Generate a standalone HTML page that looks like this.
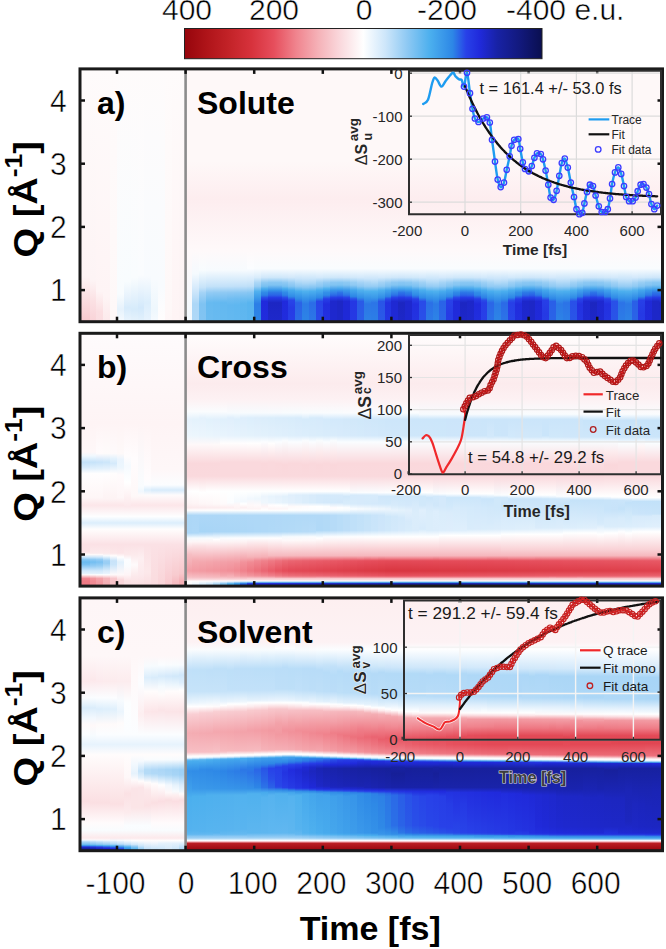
<!DOCTYPE html><html><head><meta charset="utf-8"><style>html,body{margin:0;padding:0;background:#fff;overflow:hidden}svg{display:block}</style></head><body><svg width="666" height="949" viewBox="0 0 666 949"><defs><linearGradient id="g0_0" x1="0" y1="0" x2="0" y2="1"><stop offset="0.000" stop-color="#fefbfb"/><stop offset="0.820" stop-color="#fef4f5"/><stop offset="1.000" stop-color="#f8c8cd"/></linearGradient><linearGradient id="g0_1" x1="0" y1="0" x2="0" y2="1"><stop offset="0.000" stop-color="#fefbfb"/><stop offset="0.835" stop-color="#fdf4f5"/><stop offset="0.920" stop-color="#fbe0e3"/><stop offset="1.000" stop-color="#f9d3d8"/></linearGradient><linearGradient id="g0_2" x1="0" y1="0" x2="0" y2="1"><stop offset="0.000" stop-color="#fefbfb"/><stop offset="0.880" stop-color="#fef4f5"/><stop offset="0.960" stop-color="#fbdfe2"/><stop offset="1.000" stop-color="#fadde1"/></linearGradient><linearGradient id="g0_3" x1="0" y1="0" x2="0" y2="1"><stop offset="0.000" stop-color="#fefbfb"/><stop offset="0.900" stop-color="#fef4f5"/><stop offset="1.000" stop-color="#fce9eb"/></linearGradient><linearGradient id="g0_4" x1="0" y1="0" x2="0" y2="1"><stop offset="0.000" stop-color="#fefbfb"/><stop offset="1.000" stop-color="#fef8f8"/></linearGradient><linearGradient id="g0_5" x1="0" y1="0" x2="0" y2="1"><stop offset="0.000" stop-color="#fefbfb"/><stop offset="0.890" stop-color="#f8fcfe"/><stop offset="0.950" stop-color="#e6f2fc"/><stop offset="1.000" stop-color="#f5fafe"/></linearGradient><linearGradient id="g0_6" x1="0" y1="0" x2="0" y2="1"><stop offset="0.000" stop-color="#fefbfb"/><stop offset="0.840" stop-color="#f8fcfe"/><stop offset="0.905" stop-color="#e6f2fc"/><stop offset="0.945" stop-color="#d7ebfb"/><stop offset="1.000" stop-color="#e9f4fd"/></linearGradient><linearGradient id="g0_7" x1="0" y1="0" x2="0" y2="1"><stop offset="0.000" stop-color="#fefbfb"/><stop offset="0.825" stop-color="#f9fcfe"/><stop offset="0.950" stop-color="#d6ebfb"/><stop offset="1.000" stop-color="#e6f2fc"/></linearGradient><linearGradient id="g0_8" x1="0" y1="0" x2="0" y2="1"><stop offset="0.000" stop-color="#fefbfb"/><stop offset="0.815" stop-color="#fafcfe"/><stop offset="0.945" stop-color="#d3e9fb"/><stop offset="1.000" stop-color="#e3f1fc"/></linearGradient><linearGradient id="g0_9" x1="0" y1="0" x2="0" y2="1"><stop offset="0.000" stop-color="#fefbfb"/><stop offset="0.820" stop-color="#f8fbfe"/><stop offset="0.925" stop-color="#dceefc"/><stop offset="1.000" stop-color="#e8f3fd"/></linearGradient><linearGradient id="g0_10" x1="0" y1="0" x2="0" y2="1"><stop offset="0.000" stop-color="#fefbfb"/><stop offset="0.830" stop-color="#f8fbfe"/><stop offset="0.950" stop-color="#eef7fd"/><stop offset="1.000" stop-color="#f5fafe"/></linearGradient><linearGradient id="g0_11" x1="0" y1="0" x2="0" y2="1"><stop offset="0.000" stop-color="#fefbfb"/><stop offset="0.860" stop-color="#f8fbfe"/><stop offset="1.000" stop-color="#fffdfd"/></linearGradient><linearGradient id="g0_12" x1="0" y1="0" x2="0" y2="1"><stop offset="0.000" stop-color="#fefbfb"/><stop offset="0.945" stop-color="#fef8f8"/><stop offset="1.000" stop-color="#fef6f7"/></linearGradient><linearGradient id="g0_13" x1="0" y1="0" x2="0" y2="1"><stop offset="0.000" stop-color="#fefbfb"/><stop offset="1.000" stop-color="#fef4f5"/></linearGradient><linearGradient id="g0_14" x1="0" y1="0" x2="0" y2="1"><stop offset="0.000" stop-color="#fefbfb"/><stop offset="0.980" stop-color="#fdf3f4"/><stop offset="1.000" stop-color="#fdf1f3"/></linearGradient><linearGradient id="g0_15" x1="0" y1="0" x2="0" y2="1"><stop offset="0.000" stop-color="#fef8f8"/><stop offset="0.365" stop-color="#fef8f8"/><stop offset="0.515" stop-color="#fdedef"/><stop offset="0.720" stop-color="#fef9fa"/><stop offset="1.000" stop-color="#f3f9fe"/></linearGradient><linearGradient id="g0_16" x1="0" y1="0" x2="0" y2="1"><stop offset="0.000" stop-color="#fef8f8"/><stop offset="0.365" stop-color="#fef8f8"/><stop offset="0.515" stop-color="#fdedef"/><stop offset="0.720" stop-color="#fef9fa"/><stop offset="0.810" stop-color="#f5fafe"/><stop offset="0.870" stop-color="#d4e9fb"/><stop offset="0.930" stop-color="#add7f7"/><stop offset="1.000" stop-color="#afd8f7"/></linearGradient><linearGradient id="g0_17" x1="0" y1="0" x2="0" y2="1"><stop offset="0.000" stop-color="#fef8f8"/><stop offset="0.365" stop-color="#fef8f8"/><stop offset="0.515" stop-color="#fdedef"/><stop offset="0.720" stop-color="#fef9fa"/><stop offset="0.795" stop-color="#f8fcfe"/><stop offset="0.865" stop-color="#c6e3f9"/><stop offset="0.885" stop-color="#a4d3f6"/><stop offset="0.930" stop-color="#7fc3f2"/><stop offset="1.000" stop-color="#82c4f2"/></linearGradient><linearGradient id="g0_18" x1="0" y1="0" x2="0" y2="1"><stop offset="0.000" stop-color="#fef8f8"/><stop offset="0.365" stop-color="#fef8f8"/><stop offset="0.515" stop-color="#fdedef"/><stop offset="0.720" stop-color="#fef9fa"/><stop offset="0.795" stop-color="#f7fbfe"/><stop offset="0.860" stop-color="#c4e2f9"/><stop offset="0.885" stop-color="#92cbf4"/><stop offset="0.925" stop-color="#67baf0"/><stop offset="1.000" stop-color="#6bbbf0"/></linearGradient><linearGradient id="g0_19" x1="0" y1="0" x2="0" y2="1"><stop offset="0.000" stop-color="#fef8f8"/><stop offset="0.365" stop-color="#fef8f8"/><stop offset="0.515" stop-color="#fdedef"/><stop offset="0.720" stop-color="#fef9fa"/><stop offset="0.795" stop-color="#f7fbfe"/><stop offset="0.860" stop-color="#c3e2f9"/><stop offset="0.885" stop-color="#90caf3"/><stop offset="0.925" stop-color="#65b9f0"/><stop offset="1.000" stop-color="#68baf0"/></linearGradient><linearGradient id="g0_20" x1="0" y1="0" x2="0" y2="1"><stop offset="0.000" stop-color="#fef8f8"/><stop offset="0.365" stop-color="#fef8f8"/><stop offset="0.515" stop-color="#fdedef"/><stop offset="0.720" stop-color="#fef9fa"/><stop offset="0.795" stop-color="#f7fbfe"/><stop offset="0.860" stop-color="#c3e1f9"/><stop offset="0.885" stop-color="#8ec9f3"/><stop offset="0.905" stop-color="#7bc1f2"/><stop offset="0.925" stop-color="#63b8f0"/><stop offset="1.000" stop-color="#66baf0"/></linearGradient><linearGradient id="g0_21" x1="0" y1="0" x2="0" y2="1"><stop offset="0.000" stop-color="#fef8f8"/><stop offset="0.365" stop-color="#fef8f8"/><stop offset="0.515" stop-color="#fdedef"/><stop offset="0.720" stop-color="#fef9fa"/><stop offset="0.795" stop-color="#f7fbfe"/><stop offset="0.860" stop-color="#c2e1f9"/><stop offset="0.885" stop-color="#8dc8f3"/><stop offset="0.910" stop-color="#70bdf1"/><stop offset="0.935" stop-color="#61b7f0"/><stop offset="1.000" stop-color="#64b9f0"/></linearGradient><linearGradient id="g0_22" x1="0" y1="0" x2="0" y2="1"><stop offset="0.000" stop-color="#fef8f8"/><stop offset="0.365" stop-color="#fef8f8"/><stop offset="0.515" stop-color="#fdedef"/><stop offset="0.720" stop-color="#fef9fa"/><stop offset="0.795" stop-color="#f7fbfe"/><stop offset="0.835" stop-color="#d7ebfb"/><stop offset="0.860" stop-color="#c1e0f9"/><stop offset="0.885" stop-color="#8bc8f3"/><stop offset="0.910" stop-color="#6ebcf1"/><stop offset="0.935" stop-color="#5fb7f0"/><stop offset="1.000" stop-color="#62b8f0"/></linearGradient><linearGradient id="g0_23" x1="0" y1="0" x2="0" y2="1"><stop offset="0.000" stop-color="#fef8f8"/><stop offset="0.365" stop-color="#fef8f8"/><stop offset="0.515" stop-color="#fdedef"/><stop offset="0.720" stop-color="#fef9fa"/><stop offset="0.795" stop-color="#f7fbfe"/><stop offset="0.835" stop-color="#d6ebfb"/><stop offset="0.860" stop-color="#c0e0f9"/><stop offset="0.885" stop-color="#8ac7f3"/><stop offset="0.910" stop-color="#6cbcf1"/><stop offset="0.930" stop-color="#5db6ef"/><stop offset="1.000" stop-color="#60b7f0"/></linearGradient><linearGradient id="g0_24" x1="0" y1="0" x2="0" y2="1"><stop offset="0.000" stop-color="#fef8f8"/><stop offset="0.365" stop-color="#fef8f8"/><stop offset="0.515" stop-color="#fdedef"/><stop offset="0.720" stop-color="#fef9fa"/><stop offset="0.790" stop-color="#fbfdff"/><stop offset="0.835" stop-color="#d5eafb"/><stop offset="0.860" stop-color="#bedff8"/><stop offset="0.885" stop-color="#86c6f3"/><stop offset="0.905" stop-color="#71bef1"/><stop offset="0.925" stop-color="#58b4ef"/><stop offset="1.000" stop-color="#5bb5ef"/></linearGradient><linearGradient id="g0_25" x1="0" y1="0" x2="0" y2="1"><stop offset="0.000" stop-color="#fef8f8"/><stop offset="0.365" stop-color="#fef8f8"/><stop offset="0.515" stop-color="#fdedef"/><stop offset="0.720" stop-color="#fef9fa"/><stop offset="0.790" stop-color="#f9fcfe"/><stop offset="0.825" stop-color="#d8ecfb"/><stop offset="0.845" stop-color="#acd7f6"/><stop offset="0.860" stop-color="#99cef4"/><stop offset="0.880" stop-color="#51b1ee"/><stop offset="0.905" stop-color="#3c9aea"/><stop offset="0.930" stop-color="#2c7ee6"/><stop offset="1.000" stop-color="#2d87e6"/></linearGradient><linearGradient id="g0_26" x1="0" y1="0" x2="0" y2="1"><stop offset="0.000" stop-color="#fef8f8"/><stop offset="0.365" stop-color="#fef8f8"/><stop offset="0.515" stop-color="#fdedef"/><stop offset="0.720" stop-color="#fef9fa"/><stop offset="0.790" stop-color="#f9fcfe"/><stop offset="0.825" stop-color="#d0e7fa"/><stop offset="0.845" stop-color="#90caf3"/><stop offset="0.860" stop-color="#78c0f1"/><stop offset="0.870" stop-color="#49aced"/><stop offset="0.885" stop-color="#308ae7"/><stop offset="0.895" stop-color="#2c80e6"/><stop offset="0.905" stop-color="#294ae8"/><stop offset="0.920" stop-color="#202adc"/><stop offset="1.000" stop-color="#212cdd"/></linearGradient><linearGradient id="g0_27" x1="0" y1="0" x2="0" y2="1"><stop offset="0.000" stop-color="#fef8f8"/><stop offset="0.365" stop-color="#fef8f8"/><stop offset="0.515" stop-color="#fdedef"/><stop offset="0.720" stop-color="#fef9fa"/><stop offset="0.790" stop-color="#f9fcfe"/><stop offset="0.825" stop-color="#cee7fa"/><stop offset="0.845" stop-color="#89c7f3"/><stop offset="0.855" stop-color="#7fc3f2"/><stop offset="0.875" stop-color="#3795e9"/><stop offset="0.885" stop-color="#2c76e6"/><stop offset="0.895" stop-color="#2a64e7"/><stop offset="0.905" stop-color="#253ae4"/><stop offset="0.925" stop-color="#1c26c3"/><stop offset="1.000" stop-color="#1e28cb"/></linearGradient><linearGradient id="g0_28" x1="0" y1="0" x2="0" y2="1"><stop offset="0.000" stop-color="#fef8f8"/><stop offset="0.365" stop-color="#fef8f8"/><stop offset="0.515" stop-color="#fdedef"/><stop offset="0.720" stop-color="#fef9fa"/><stop offset="0.790" stop-color="#f9fcfe"/><stop offset="0.825" stop-color="#cee7fa"/><stop offset="0.845" stop-color="#89c7f3"/><stop offset="0.855" stop-color="#7fc3f2"/><stop offset="0.875" stop-color="#3795e9"/><stop offset="0.885" stop-color="#2c76e6"/><stop offset="0.895" stop-color="#2a64e7"/><stop offset="0.905" stop-color="#253ae4"/><stop offset="0.925" stop-color="#1c26c3"/><stop offset="1.000" stop-color="#1e28cb"/></linearGradient><linearGradient id="g0_29" x1="0" y1="0" x2="0" y2="1"><stop offset="0.000" stop-color="#fef8f8"/><stop offset="0.365" stop-color="#fef8f8"/><stop offset="0.515" stop-color="#fdedef"/><stop offset="0.720" stop-color="#fef9fa"/><stop offset="0.790" stop-color="#f9fcfe"/><stop offset="0.825" stop-color="#d0e7fa"/><stop offset="0.845" stop-color="#90caf3"/><stop offset="0.860" stop-color="#78c0f1"/><stop offset="0.870" stop-color="#49aced"/><stop offset="0.885" stop-color="#308ae7"/><stop offset="0.895" stop-color="#2c80e6"/><stop offset="0.905" stop-color="#294ae8"/><stop offset="0.920" stop-color="#202adc"/><stop offset="1.000" stop-color="#212cdd"/></linearGradient><linearGradient id="g0_30" x1="0" y1="0" x2="0" y2="1"><stop offset="0.000" stop-color="#fef8f8"/><stop offset="0.365" stop-color="#fef8f8"/><stop offset="0.515" stop-color="#fdedef"/><stop offset="0.720" stop-color="#fef9fa"/><stop offset="0.790" stop-color="#f9fcfe"/><stop offset="0.825" stop-color="#d2e8fa"/><stop offset="0.845" stop-color="#9ccff5"/><stop offset="0.860" stop-color="#85c5f2"/><stop offset="0.875" stop-color="#47aaed"/><stop offset="0.900" stop-color="#318ce7"/><stop offset="0.915" stop-color="#2845e8"/><stop offset="0.945" stop-color="#263be5"/><stop offset="1.000" stop-color="#273ee7"/></linearGradient><linearGradient id="g0_31" x1="0" y1="0" x2="0" y2="1"><stop offset="0.000" stop-color="#fef8f8"/><stop offset="0.365" stop-color="#fef8f8"/><stop offset="0.515" stop-color="#fdedef"/><stop offset="0.720" stop-color="#fef9fa"/><stop offset="0.790" stop-color="#f9fcfe"/><stop offset="0.830" stop-color="#c9e4fa"/><stop offset="0.850" stop-color="#a3d3f6"/><stop offset="0.860" stop-color="#92cbf4"/><stop offset="0.880" stop-color="#48aced"/><stop offset="0.910" stop-color="#2f89e6"/><stop offset="0.925" stop-color="#2a62e7"/><stop offset="1.000" stop-color="#2b6ce7"/></linearGradient><linearGradient id="g0_32" x1="0" y1="0" x2="0" y2="1"><stop offset="0.000" stop-color="#fef8f8"/><stop offset="0.365" stop-color="#fef8f8"/><stop offset="0.515" stop-color="#fdedef"/><stop offset="0.720" stop-color="#fef9fa"/><stop offset="0.790" stop-color="#f9fcfe"/><stop offset="0.830" stop-color="#cbe5fa"/><stop offset="0.850" stop-color="#a9d5f6"/><stop offset="0.865" stop-color="#87c6f3"/><stop offset="0.880" stop-color="#4fb1ee"/><stop offset="0.910" stop-color="#3591e8"/><stop offset="0.930" stop-color="#2c7be6"/><stop offset="1.000" stop-color="#2d84e6"/></linearGradient><linearGradient id="g0_33" x1="0" y1="0" x2="0" y2="1"><stop offset="0.000" stop-color="#fef8f8"/><stop offset="0.365" stop-color="#fef8f8"/><stop offset="0.515" stop-color="#fdedef"/><stop offset="0.720" stop-color="#fef9fa"/><stop offset="0.790" stop-color="#f9fcfe"/><stop offset="0.830" stop-color="#cae5fa"/><stop offset="0.850" stop-color="#a6d4f6"/><stop offset="0.865" stop-color="#83c4f2"/><stop offset="0.880" stop-color="#4baeee"/><stop offset="0.910" stop-color="#318de7"/><stop offset="0.925" stop-color="#2b6de7"/><stop offset="1.000" stop-color="#2c77e6"/></linearGradient><linearGradient id="g0_34" x1="0" y1="0" x2="0" y2="1"><stop offset="0.000" stop-color="#fef8f8"/><stop offset="0.365" stop-color="#fef8f8"/><stop offset="0.515" stop-color="#fdedef"/><stop offset="0.720" stop-color="#fef9fa"/><stop offset="0.790" stop-color="#f9fcfe"/><stop offset="0.825" stop-color="#d3e9fb"/><stop offset="0.845" stop-color="#9fd1f5"/><stop offset="0.860" stop-color="#8ac7f3"/><stop offset="0.875" stop-color="#4aaeee"/><stop offset="0.905" stop-color="#2e88e6"/><stop offset="0.920" stop-color="#2845e8"/><stop offset="1.000" stop-color="#294ae8"/></linearGradient><linearGradient id="g0_35" x1="0" y1="0" x2="0" y2="1"><stop offset="0.000" stop-color="#fef8f8"/><stop offset="0.365" stop-color="#fef8f8"/><stop offset="0.515" stop-color="#fdedef"/><stop offset="0.720" stop-color="#fef9fa"/><stop offset="0.790" stop-color="#f9fcfe"/><stop offset="0.825" stop-color="#d0e8fa"/><stop offset="0.845" stop-color="#94cbf4"/><stop offset="0.860" stop-color="#7bc2f2"/><stop offset="0.870" stop-color="#4cafee"/><stop offset="0.885" stop-color="#338fe8"/><stop offset="0.895" stop-color="#2e89e6"/><stop offset="0.910" stop-color="#273ee7"/><stop offset="0.930" stop-color="#212dde"/><stop offset="1.000" stop-color="#2331e0"/></linearGradient><linearGradient id="g0_36" x1="0" y1="0" x2="0" y2="1"><stop offset="0.000" stop-color="#fef8f8"/><stop offset="0.365" stop-color="#fef8f8"/><stop offset="0.515" stop-color="#fdedef"/><stop offset="0.720" stop-color="#fef9fa"/><stop offset="0.790" stop-color="#f9fcfe"/><stop offset="0.825" stop-color="#cee7fa"/><stop offset="0.845" stop-color="#8ac7f3"/><stop offset="0.855" stop-color="#81c4f2"/><stop offset="0.875" stop-color="#3997e9"/><stop offset="0.895" stop-color="#2b6ae7"/><stop offset="0.905" stop-color="#263ce5"/><stop offset="0.920" stop-color="#1e28cc"/><stop offset="1.000" stop-color="#1e28cf"/></linearGradient><linearGradient id="g0_37" x1="0" y1="0" x2="0" y2="1"><stop offset="0.000" stop-color="#fef8f8"/><stop offset="0.365" stop-color="#fef8f8"/><stop offset="0.515" stop-color="#fdedef"/><stop offset="0.720" stop-color="#fef9fa"/><stop offset="0.790" stop-color="#f9fcfe"/><stop offset="0.825" stop-color="#cee6fa"/><stop offset="0.845" stop-color="#88c7f3"/><stop offset="0.855" stop-color="#7ec3f2"/><stop offset="0.870" stop-color="#43a4ec"/><stop offset="0.885" stop-color="#2c73e7"/><stop offset="0.895" stop-color="#2a61e7"/><stop offset="0.905" stop-color="#2539e4"/><stop offset="0.920" stop-color="#1d27c5"/><stop offset="1.000" stop-color="#1d27c9"/></linearGradient><linearGradient id="g0_38" x1="0" y1="0" x2="0" y2="1"><stop offset="0.000" stop-color="#fef8f8"/><stop offset="0.365" stop-color="#fef8f8"/><stop offset="0.515" stop-color="#fdedef"/><stop offset="0.720" stop-color="#fef9fa"/><stop offset="0.790" stop-color="#f9fcfe"/><stop offset="0.825" stop-color="#cfe7fa"/><stop offset="0.845" stop-color="#8dc9f3"/><stop offset="0.855" stop-color="#84c5f2"/><stop offset="0.875" stop-color="#3b9aea"/><stop offset="0.895" stop-color="#2c75e7"/><stop offset="0.905" stop-color="#2840e7"/><stop offset="0.920" stop-color="#1f29d5"/><stop offset="1.000" stop-color="#1f29d8"/></linearGradient><linearGradient id="g0_39" x1="0" y1="0" x2="0" y2="1"><stop offset="0.000" stop-color="#fef8f8"/><stop offset="0.365" stop-color="#fef8f8"/><stop offset="0.515" stop-color="#fdedef"/><stop offset="0.720" stop-color="#fef9fa"/><stop offset="0.790" stop-color="#f9fcfe"/><stop offset="0.825" stop-color="#d1e8fa"/><stop offset="0.845" stop-color="#98cef4"/><stop offset="0.855" stop-color="#90caf3"/><stop offset="0.875" stop-color="#44a6ec"/><stop offset="0.900" stop-color="#2d87e6"/><stop offset="0.910" stop-color="#294ee8"/><stop offset="0.920" stop-color="#2537e3"/><stop offset="1.000" stop-color="#2539e4"/></linearGradient><linearGradient id="g0_40" x1="0" y1="0" x2="0" y2="1"><stop offset="0.000" stop-color="#fef8f8"/><stop offset="0.365" stop-color="#fef8f8"/><stop offset="0.515" stop-color="#fdedef"/><stop offset="0.720" stop-color="#fef9fa"/><stop offset="0.790" stop-color="#f9fcfe"/><stop offset="0.825" stop-color="#d3e9fb"/><stop offset="0.845" stop-color="#a4d3f6"/><stop offset="0.860" stop-color="#8fc9f3"/><stop offset="0.875" stop-color="#51b1ee"/><stop offset="0.905" stop-color="#328ee7"/><stop offset="0.920" stop-color="#2a5ae7"/><stop offset="1.000" stop-color="#2a5fe7"/></linearGradient><linearGradient id="g0_41" x1="0" y1="0" x2="0" y2="1"><stop offset="0.000" stop-color="#fef8f8"/><stop offset="0.365" stop-color="#fef8f8"/><stop offset="0.515" stop-color="#fdedef"/><stop offset="0.720" stop-color="#fef9fa"/><stop offset="0.790" stop-color="#f9fcfe"/><stop offset="0.830" stop-color="#cbe5fa"/><stop offset="0.845" stop-color="#abd6f6"/><stop offset="0.860" stop-color="#97cdf4"/><stop offset="0.880" stop-color="#4eb0ee"/><stop offset="0.910" stop-color="#3490e8"/><stop offset="0.930" stop-color="#2c77e6"/><stop offset="1.000" stop-color="#2d81e6"/></linearGradient><linearGradient id="g0_42" x1="0" y1="0" x2="0" y2="1"><stop offset="0.000" stop-color="#fef8f8"/><stop offset="0.365" stop-color="#fef8f8"/><stop offset="0.515" stop-color="#fdedef"/><stop offset="0.720" stop-color="#fef9fa"/><stop offset="0.790" stop-color="#f9fcfe"/><stop offset="0.830" stop-color="#cbe5fa"/><stop offset="0.850" stop-color="#a7d5f6"/><stop offset="0.860" stop-color="#97cdf4"/><stop offset="0.880" stop-color="#4db0ee"/><stop offset="0.905" stop-color="#3a98e9"/><stop offset="0.925" stop-color="#2c75e7"/><stop offset="1.000" stop-color="#2c7fe6"/></linearGradient><linearGradient id="g0_43" x1="0" y1="0" x2="0" y2="1"><stop offset="0.000" stop-color="#fef8f8"/><stop offset="0.365" stop-color="#fef8f8"/><stop offset="0.515" stop-color="#fdedef"/><stop offset="0.720" stop-color="#fef9fa"/><stop offset="0.790" stop-color="#f9fcfe"/><stop offset="0.825" stop-color="#d3e9fb"/><stop offset="0.845" stop-color="#a3d2f5"/><stop offset="0.860" stop-color="#8ec9f3"/><stop offset="0.875" stop-color="#4fb0ee"/><stop offset="0.905" stop-color="#318de7"/><stop offset="0.920" stop-color="#2955e7"/><stop offset="1.000" stop-color="#2a5ae7"/></linearGradient><linearGradient id="g0_44" x1="0" y1="0" x2="0" y2="1"><stop offset="0.000" stop-color="#fef8f8"/><stop offset="0.365" stop-color="#fef8f8"/><stop offset="0.515" stop-color="#fdedef"/><stop offset="0.720" stop-color="#fef9fa"/><stop offset="0.790" stop-color="#f9fcfe"/><stop offset="0.825" stop-color="#d1e8fa"/><stop offset="0.845" stop-color="#97cdf4"/><stop offset="0.860" stop-color="#80c3f2"/><stop offset="0.875" stop-color="#43a4ec"/><stop offset="0.900" stop-color="#2d83e6"/><stop offset="0.910" stop-color="#2949e8"/><stop offset="0.925" stop-color="#2333e1"/><stop offset="1.000" stop-color="#2437e3"/></linearGradient><linearGradient id="g0_45" x1="0" y1="0" x2="0" y2="1"><stop offset="0.000" stop-color="#fef8f8"/><stop offset="0.365" stop-color="#fef8f8"/><stop offset="0.515" stop-color="#fdedef"/><stop offset="0.720" stop-color="#fef9fa"/><stop offset="0.790" stop-color="#f9fcfe"/><stop offset="0.825" stop-color="#cfe7fa"/><stop offset="0.845" stop-color="#8dc8f3"/><stop offset="0.855" stop-color="#83c5f2"/><stop offset="0.875" stop-color="#3a99ea"/><stop offset="0.895" stop-color="#2b72e7"/><stop offset="0.905" stop-color="#273fe7"/><stop offset="0.920" stop-color="#1f29d2"/><stop offset="1.000" stop-color="#1f29d6"/></linearGradient><linearGradient id="g0_46" x1="0" y1="0" x2="0" y2="1"><stop offset="0.000" stop-color="#fef8f8"/><stop offset="0.365" stop-color="#fef8f8"/><stop offset="0.515" stop-color="#fdedef"/><stop offset="0.720" stop-color="#fef9fa"/><stop offset="0.790" stop-color="#f9fcfe"/><stop offset="0.825" stop-color="#cee6fa"/><stop offset="0.845" stop-color="#88c6f3"/><stop offset="0.855" stop-color="#7ec3f2"/><stop offset="0.870" stop-color="#43a4ec"/><stop offset="0.885" stop-color="#2c72e7"/><stop offset="0.895" stop-color="#2a60e7"/><stop offset="0.905" stop-color="#2538e3"/><stop offset="0.925" stop-color="#1c26c1"/><stop offset="1.000" stop-color="#1d27c8"/></linearGradient><linearGradient id="g0_47" x1="0" y1="0" x2="0" y2="1"><stop offset="0.000" stop-color="#fef8f8"/><stop offset="0.365" stop-color="#fef8f8"/><stop offset="0.515" stop-color="#fdedef"/><stop offset="0.720" stop-color="#fef9fa"/><stop offset="0.790" stop-color="#f9fcfe"/><stop offset="0.825" stop-color="#cfe7fa"/><stop offset="0.845" stop-color="#8bc8f3"/><stop offset="0.855" stop-color="#81c4f2"/><stop offset="0.870" stop-color="#45a7ec"/><stop offset="0.885" stop-color="#2c7ee6"/><stop offset="0.895" stop-color="#2b6ce7"/><stop offset="0.905" stop-color="#273de6"/><stop offset="0.920" stop-color="#1e28ce"/><stop offset="1.000" stop-color="#1e28d1"/></linearGradient><linearGradient id="g0_48" x1="0" y1="0" x2="0" y2="1"><stop offset="0.000" stop-color="#fef8f8"/><stop offset="0.365" stop-color="#fef8f8"/><stop offset="0.515" stop-color="#fdedef"/><stop offset="0.720" stop-color="#fef9fa"/><stop offset="0.790" stop-color="#f9fcfe"/><stop offset="0.825" stop-color="#d0e8fa"/><stop offset="0.845" stop-color="#95ccf4"/><stop offset="0.860" stop-color="#7dc2f2"/><stop offset="0.875" stop-color="#41a2eb"/><stop offset="0.895" stop-color="#2f8ae7"/><stop offset="0.905" stop-color="#2a5de7"/><stop offset="0.910" stop-color="#2840e7"/><stop offset="0.930" stop-color="#222fdf"/><stop offset="1.000" stop-color="#2333e1"/></linearGradient><linearGradient id="g0_49" x1="0" y1="0" x2="0" y2="1"><stop offset="0.000" stop-color="#fef8f8"/><stop offset="0.365" stop-color="#fef8f8"/><stop offset="0.515" stop-color="#fdedef"/><stop offset="0.720" stop-color="#fef9fa"/><stop offset="0.790" stop-color="#f9fcfe"/><stop offset="0.825" stop-color="#d3e9fb"/><stop offset="0.845" stop-color="#a0d1f5"/><stop offset="0.860" stop-color="#8bc8f3"/><stop offset="0.875" stop-color="#4bafee"/><stop offset="0.905" stop-color="#2f8ae7"/><stop offset="0.920" stop-color="#294be8"/><stop offset="1.000" stop-color="#2950e8"/></linearGradient><linearGradient id="g0_50" x1="0" y1="0" x2="0" y2="1"><stop offset="0.000" stop-color="#fef8f8"/><stop offset="0.365" stop-color="#fef8f8"/><stop offset="0.515" stop-color="#fdedef"/><stop offset="0.720" stop-color="#fef9fa"/><stop offset="0.790" stop-color="#f9fcfe"/><stop offset="0.830" stop-color="#cae5fa"/><stop offset="0.850" stop-color="#a6d4f6"/><stop offset="0.860" stop-color="#96ccf4"/><stop offset="0.880" stop-color="#4bafee"/><stop offset="0.910" stop-color="#328ee7"/><stop offset="0.925" stop-color="#2b70e7"/><stop offset="1.000" stop-color="#2c7ae6"/></linearGradient><linearGradient id="g0_51" x1="0" y1="0" x2="0" y2="1"><stop offset="0.000" stop-color="#fef8f8"/><stop offset="0.365" stop-color="#fef8f8"/><stop offset="0.515" stop-color="#fdedef"/><stop offset="0.720" stop-color="#fef9fa"/><stop offset="0.790" stop-color="#f9fcfe"/><stop offset="0.830" stop-color="#cbe5fa"/><stop offset="0.850" stop-color="#a8d5f6"/><stop offset="0.860" stop-color="#98cef4"/><stop offset="0.880" stop-color="#4fb1ee"/><stop offset="0.910" stop-color="#3491e8"/><stop offset="0.930" stop-color="#2c7ae6"/><stop offset="1.000" stop-color="#2d84e6"/></linearGradient><linearGradient id="g0_52" x1="0" y1="0" x2="0" y2="1"><stop offset="0.000" stop-color="#fef8f8"/><stop offset="0.365" stop-color="#fef8f8"/><stop offset="0.515" stop-color="#fdedef"/><stop offset="0.720" stop-color="#fef9fa"/><stop offset="0.790" stop-color="#f9fcfe"/><stop offset="0.825" stop-color="#d4e9fb"/><stop offset="0.845" stop-color="#a5d4f6"/><stop offset="0.860" stop-color="#91caf4"/><stop offset="0.880" stop-color="#48abed"/><stop offset="0.910" stop-color="#2e88e6"/><stop offset="0.920" stop-color="#2a63e7"/><stop offset="1.000" stop-color="#2b68e7"/></linearGradient><linearGradient id="g0_53" x1="0" y1="0" x2="0" y2="1"><stop offset="0.000" stop-color="#fef8f8"/><stop offset="0.365" stop-color="#fef8f8"/><stop offset="0.515" stop-color="#fdedef"/><stop offset="0.720" stop-color="#fef9fa"/><stop offset="0.790" stop-color="#f9fcfe"/><stop offset="0.825" stop-color="#d2e8fa"/><stop offset="0.845" stop-color="#9bcff5"/><stop offset="0.860" stop-color="#84c5f2"/><stop offset="0.875" stop-color="#46a8ed"/><stop offset="0.900" stop-color="#308be7"/><stop offset="0.915" stop-color="#2841e8"/><stop offset="0.970" stop-color="#263be5"/><stop offset="1.000" stop-color="#263de6"/></linearGradient><linearGradient id="g0_54" x1="0" y1="0" x2="0" y2="1"><stop offset="0.000" stop-color="#fef8f8"/><stop offset="0.365" stop-color="#fef8f8"/><stop offset="0.515" stop-color="#fdedef"/><stop offset="0.720" stop-color="#fef9fa"/><stop offset="0.790" stop-color="#f9fcfe"/><stop offset="0.825" stop-color="#cfe7fa"/><stop offset="0.845" stop-color="#8fcaf3"/><stop offset="0.855" stop-color="#86c6f3"/><stop offset="0.870" stop-color="#48abed"/><stop offset="0.885" stop-color="#2f89e6"/><stop offset="0.895" stop-color="#2c7ce6"/><stop offset="0.905" stop-color="#2846e8"/><stop offset="0.920" stop-color="#202ada"/><stop offset="1.000" stop-color="#202bdc"/></linearGradient><linearGradient id="g0_55" x1="0" y1="0" x2="0" y2="1"><stop offset="0.000" stop-color="#fef8f8"/><stop offset="0.365" stop-color="#fef8f8"/><stop offset="0.515" stop-color="#fdedef"/><stop offset="0.720" stop-color="#fef9fa"/><stop offset="0.790" stop-color="#f9fcfe"/><stop offset="0.825" stop-color="#cee7fa"/><stop offset="0.845" stop-color="#89c7f3"/><stop offset="0.855" stop-color="#7fc3f2"/><stop offset="0.870" stop-color="#43a5ec"/><stop offset="0.885" stop-color="#2c75e7"/><stop offset="0.895" stop-color="#2a63e7"/><stop offset="0.905" stop-color="#2539e4"/><stop offset="0.925" stop-color="#1c26c2"/><stop offset="1.000" stop-color="#1d27ca"/></linearGradient><linearGradient id="g0_56" x1="0" y1="0" x2="0" y2="1"><stop offset="0.000" stop-color="#fef8f8"/><stop offset="0.365" stop-color="#fef8f8"/><stop offset="0.515" stop-color="#fdedef"/><stop offset="0.720" stop-color="#fef9fa"/><stop offset="0.790" stop-color="#f9fcfe"/><stop offset="0.825" stop-color="#cee7fa"/><stop offset="0.845" stop-color="#89c7f3"/><stop offset="0.855" stop-color="#7fc3f2"/><stop offset="0.870" stop-color="#44a6ec"/><stop offset="0.885" stop-color="#2c78e6"/><stop offset="0.895" stop-color="#2b66e7"/><stop offset="0.905" stop-color="#263ae5"/><stop offset="0.920" stop-color="#1d27c9"/><stop offset="1.000" stop-color="#1e28cc"/></linearGradient><linearGradient id="g0_57" x1="0" y1="0" x2="0" y2="1"><stop offset="0.000" stop-color="#fef8f8"/><stop offset="0.365" stop-color="#fef8f8"/><stop offset="0.515" stop-color="#fdedef"/><stop offset="0.720" stop-color="#fef9fa"/><stop offset="0.790" stop-color="#f9fcfe"/><stop offset="0.825" stop-color="#d0e7fa"/><stop offset="0.845" stop-color="#91caf4"/><stop offset="0.860" stop-color="#79c1f2"/><stop offset="0.870" stop-color="#4aadee"/><stop offset="0.885" stop-color="#318ce7"/><stop offset="0.895" stop-color="#2d84e6"/><stop offset="0.910" stop-color="#263be5"/><stop offset="0.930" stop-color="#202adc"/><stop offset="1.000" stop-color="#212ede"/></linearGradient><linearGradient id="g0_58" x1="0" y1="0" x2="0" y2="1"><stop offset="0.000" stop-color="#fef8f8"/><stop offset="0.365" stop-color="#fef8f8"/><stop offset="0.515" stop-color="#fdedef"/><stop offset="0.720" stop-color="#fef9fa"/><stop offset="0.790" stop-color="#f9fcfe"/><stop offset="0.825" stop-color="#d2e9fb"/><stop offset="0.845" stop-color="#9dd0f5"/><stop offset="0.860" stop-color="#87c6f3"/><stop offset="0.875" stop-color="#48abed"/><stop offset="0.905" stop-color="#2c80e6"/><stop offset="0.915" stop-color="#294be8"/><stop offset="0.925" stop-color="#273de6"/><stop offset="1.000" stop-color="#2840e8"/></linearGradient><linearGradient id="g0_59" x1="0" y1="0" x2="0" y2="1"><stop offset="0.000" stop-color="#fef8f8"/><stop offset="0.365" stop-color="#fef8f8"/><stop offset="0.515" stop-color="#fdedef"/><stop offset="0.720" stop-color="#fef9fa"/><stop offset="0.790" stop-color="#f9fcfe"/><stop offset="0.830" stop-color="#c9e4fa"/><stop offset="0.845" stop-color="#a7d5f6"/><stop offset="0.860" stop-color="#93cbf4"/><stop offset="0.880" stop-color="#49adee"/><stop offset="0.910" stop-color="#308be7"/><stop offset="0.925" stop-color="#2b66e7"/><stop offset="1.000" stop-color="#2b70e7"/></linearGradient><linearGradient id="g0_60" x1="0" y1="0" x2="0" y2="1"><stop offset="0.000" stop-color="#fef8f8"/><stop offset="0.365" stop-color="#fef8f8"/><stop offset="0.515" stop-color="#fdedef"/><stop offset="0.720" stop-color="#fef9fa"/><stop offset="0.790" stop-color="#f9fcfe"/><stop offset="0.830" stop-color="#cbe5fa"/><stop offset="0.850" stop-color="#a9d5f6"/><stop offset="0.865" stop-color="#87c6f3"/><stop offset="0.880" stop-color="#50b1ee"/><stop offset="0.910" stop-color="#3591e8"/><stop offset="0.930" stop-color="#2c7be6"/><stop offset="1.000" stop-color="#2d85e6"/></linearGradient><linearGradient id="g0_61" x1="0" y1="0" x2="0" y2="1"><stop offset="0.000" stop-color="#fef8f8"/><stop offset="0.365" stop-color="#fef8f8"/><stop offset="0.515" stop-color="#fdedef"/><stop offset="0.720" stop-color="#fef9fa"/><stop offset="0.790" stop-color="#f9fcfe"/><stop offset="0.830" stop-color="#c9e4fa"/><stop offset="0.850" stop-color="#a5d4f6"/><stop offset="0.860" stop-color="#94ccf4"/><stop offset="0.880" stop-color="#4aaeee"/><stop offset="0.910" stop-color="#318ce7"/><stop offset="0.925" stop-color="#2b6ae7"/><stop offset="1.000" stop-color="#2c74e7"/></linearGradient><linearGradient id="g0_62" x1="0" y1="0" x2="0" y2="1"><stop offset="0.000" stop-color="#fef8f8"/><stop offset="0.365" stop-color="#fef8f8"/><stop offset="0.515" stop-color="#fdedef"/><stop offset="0.720" stop-color="#fef9fa"/><stop offset="0.790" stop-color="#f9fcfe"/><stop offset="0.825" stop-color="#d2e9fb"/><stop offset="0.845" stop-color="#9ed0f5"/><stop offset="0.860" stop-color="#88c7f3"/><stop offset="0.875" stop-color="#49aced"/><stop offset="0.905" stop-color="#2d85e6"/><stop offset="0.915" stop-color="#2950e8"/><stop offset="0.925" stop-color="#273fe7"/><stop offset="1.000" stop-color="#2845e8"/></linearGradient><linearGradient id="g0_63" x1="0" y1="0" x2="0" y2="1"><stop offset="0.000" stop-color="#fef8f8"/><stop offset="0.365" stop-color="#fef8f8"/><stop offset="0.515" stop-color="#fdedef"/><stop offset="0.720" stop-color="#fef9fa"/><stop offset="0.790" stop-color="#f9fcfe"/><stop offset="0.825" stop-color="#d0e8fa"/><stop offset="0.845" stop-color="#92cbf4"/><stop offset="0.860" stop-color="#7ac1f2"/><stop offset="0.870" stop-color="#4baeee"/><stop offset="0.885" stop-color="#328de7"/><stop offset="0.895" stop-color="#2d87e6"/><stop offset="0.910" stop-color="#273de6"/><stop offset="0.930" stop-color="#212cdd"/><stop offset="1.000" stop-color="#2230df"/></linearGradient><linearGradient id="g0_64" x1="0" y1="0" x2="0" y2="1"><stop offset="0.000" stop-color="#fef8f8"/><stop offset="0.365" stop-color="#fef8f8"/><stop offset="0.515" stop-color="#fdedef"/><stop offset="0.720" stop-color="#fef9fa"/><stop offset="0.790" stop-color="#f9fcfe"/><stop offset="0.825" stop-color="#cee7fa"/><stop offset="0.845" stop-color="#8ac7f3"/><stop offset="0.855" stop-color="#80c3f2"/><stop offset="0.870" stop-color="#44a6ec"/><stop offset="0.885" stop-color="#2c79e6"/><stop offset="0.895" stop-color="#2b68e7"/><stop offset="0.905" stop-color="#263be5"/><stop offset="0.920" stop-color="#1d27ca"/><stop offset="1.000" stop-color="#1e28ce"/></linearGradient><linearGradient id="g0_65" x1="0" y1="0" x2="0" y2="1"><stop offset="0.000" stop-color="#fef8f8"/><stop offset="0.365" stop-color="#fef8f8"/><stop offset="0.515" stop-color="#fdedef"/><stop offset="0.720" stop-color="#fef9fa"/><stop offset="0.790" stop-color="#f9fcfe"/><stop offset="0.825" stop-color="#cee6fa"/><stop offset="0.845" stop-color="#88c7f3"/><stop offset="0.855" stop-color="#7ec3f2"/><stop offset="0.870" stop-color="#43a4ec"/><stop offset="0.885" stop-color="#2c74e7"/><stop offset="0.895" stop-color="#2a61e7"/><stop offset="0.905" stop-color="#2539e4"/><stop offset="0.920" stop-color="#1d27c6"/><stop offset="1.000" stop-color="#1d27c9"/></linearGradient><linearGradient id="g0_66" x1="0" y1="0" x2="0" y2="1"><stop offset="0.000" stop-color="#fef8f8"/><stop offset="0.365" stop-color="#fef8f8"/><stop offset="0.515" stop-color="#fdedef"/><stop offset="0.720" stop-color="#fef9fa"/><stop offset="0.790" stop-color="#f9fcfe"/><stop offset="0.825" stop-color="#cfe7fa"/><stop offset="0.845" stop-color="#8ec9f3"/><stop offset="0.855" stop-color="#85c5f2"/><stop offset="0.875" stop-color="#3c9bea"/><stop offset="0.895" stop-color="#2c79e6"/><stop offset="0.905" stop-color="#2842e8"/><stop offset="0.920" stop-color="#1f29d7"/><stop offset="1.000" stop-color="#202ada"/></linearGradient><linearGradient id="g0_67" x1="0" y1="0" x2="0" y2="1"><stop offset="0.000" stop-color="#fef8f8"/><stop offset="0.365" stop-color="#fef8f8"/><stop offset="0.515" stop-color="#fdedef"/><stop offset="0.720" stop-color="#fef9fa"/><stop offset="0.790" stop-color="#f9fcfe"/><stop offset="0.825" stop-color="#d1e8fa"/><stop offset="0.845" stop-color="#99cef4"/><stop offset="0.860" stop-color="#83c4f2"/><stop offset="0.875" stop-color="#45a7ec"/><stop offset="0.900" stop-color="#2e89e6"/><stop offset="0.915" stop-color="#273fe7"/><stop offset="0.970" stop-color="#2539e4"/><stop offset="1.000" stop-color="#263be5"/></linearGradient><linearGradient id="g0_68" x1="0" y1="0" x2="0" y2="1"><stop offset="0.000" stop-color="#fef8f8"/><stop offset="0.365" stop-color="#fef8f8"/><stop offset="0.515" stop-color="#fdedef"/><stop offset="0.720" stop-color="#fef9fa"/><stop offset="0.790" stop-color="#f9fcfe"/><stop offset="0.825" stop-color="#d4e9fb"/><stop offset="0.845" stop-color="#a5d3f6"/><stop offset="0.860" stop-color="#90caf3"/><stop offset="0.875" stop-color="#52b2ef"/><stop offset="0.910" stop-color="#2d86e6"/><stop offset="0.920" stop-color="#2a5fe7"/><stop offset="1.000" stop-color="#2a64e7"/></linearGradient><linearGradient id="g0_69" x1="0" y1="0" x2="0" y2="1"><stop offset="0.000" stop-color="#fef8f8"/><stop offset="0.365" stop-color="#fef8f8"/><stop offset="0.515" stop-color="#fdedef"/><stop offset="0.720" stop-color="#fef9fa"/><stop offset="0.790" stop-color="#f9fcfe"/><stop offset="0.830" stop-color="#cbe5fa"/><stop offset="0.850" stop-color="#a8d5f6"/><stop offset="0.860" stop-color="#98cdf4"/><stop offset="0.880" stop-color="#4fb0ee"/><stop offset="0.910" stop-color="#3490e8"/><stop offset="0.930" stop-color="#2c79e6"/><stop offset="1.000" stop-color="#2d83e6"/></linearGradient><linearGradient id="g0_70" x1="0" y1="0" x2="0" y2="1"><stop offset="0.000" stop-color="#fef8f8"/><stop offset="0.365" stop-color="#fef8f8"/><stop offset="0.515" stop-color="#fdedef"/><stop offset="0.720" stop-color="#fef9fa"/><stop offset="0.790" stop-color="#f9fcfe"/><stop offset="0.830" stop-color="#cae5fa"/><stop offset="0.850" stop-color="#a7d4f6"/><stop offset="0.860" stop-color="#96cdf4"/><stop offset="0.880" stop-color="#4cafee"/><stop offset="0.910" stop-color="#338fe8"/><stop offset="0.925" stop-color="#2c73e7"/><stop offset="1.000" stop-color="#2c7de6"/></linearGradient><linearGradient id="g0_71" x1="0" y1="0" x2="0" y2="1"><stop offset="0.000" stop-color="#fef8f8"/><stop offset="0.365" stop-color="#fef8f8"/><stop offset="0.515" stop-color="#fdedef"/><stop offset="0.720" stop-color="#fef9fa"/><stop offset="0.790" stop-color="#f9fcfe"/><stop offset="0.825" stop-color="#d3e9fb"/><stop offset="0.845" stop-color="#a2d2f5"/><stop offset="0.860" stop-color="#8cc8f3"/><stop offset="0.875" stop-color="#4db0ee"/><stop offset="0.905" stop-color="#308be7"/><stop offset="0.920" stop-color="#2950e8"/><stop offset="1.000" stop-color="#2955e7"/></linearGradient><linearGradient id="g0_72" x1="0" y1="0" x2="0" y2="1"><stop offset="0.000" stop-color="#fef8f8"/><stop offset="0.365" stop-color="#fef8f8"/><stop offset="0.515" stop-color="#fdedef"/><stop offset="0.720" stop-color="#fef9fa"/><stop offset="0.790" stop-color="#f9fcfe"/><stop offset="0.825" stop-color="#d1e8fa"/><stop offset="0.845" stop-color="#96cdf4"/><stop offset="0.860" stop-color="#7ec3f2"/><stop offset="0.875" stop-color="#42a3ec"/><stop offset="0.900" stop-color="#2c7ee6"/><stop offset="0.910" stop-color="#2843e8"/><stop offset="0.930" stop-color="#2331e0"/><stop offset="1.000" stop-color="#2435e2"/></linearGradient><linearGradient id="g0_73" x1="0" y1="0" x2="0" y2="1"><stop offset="0.000" stop-color="#fef8f8"/><stop offset="0.365" stop-color="#fef8f8"/><stop offset="0.515" stop-color="#fdedef"/><stop offset="0.720" stop-color="#fef9fa"/><stop offset="0.790" stop-color="#f9fcfe"/><stop offset="0.825" stop-color="#cfe7fa"/><stop offset="0.845" stop-color="#8cc8f3"/><stop offset="0.855" stop-color="#82c4f2"/><stop offset="0.875" stop-color="#3a98e9"/><stop offset="0.895" stop-color="#2b6fe7"/><stop offset="0.905" stop-color="#273ee6"/><stop offset="0.920" stop-color="#1e28d0"/><stop offset="1.000" stop-color="#1f29d3"/></linearGradient><linearGradient id="g0_74" x1="0" y1="0" x2="0" y2="1"><stop offset="0.000" stop-color="#fef8f8"/><stop offset="0.365" stop-color="#fef8f8"/><stop offset="0.515" stop-color="#fdedef"/><stop offset="0.720" stop-color="#fef9fa"/><stop offset="0.790" stop-color="#f9fcfe"/><stop offset="0.825" stop-color="#cee6fa"/><stop offset="0.845" stop-color="#88c6f3"/><stop offset="0.855" stop-color="#7ec3f2"/><stop offset="0.870" stop-color="#43a4ec"/><stop offset="0.885" stop-color="#2c72e7"/><stop offset="0.895" stop-color="#2a60e7"/><stop offset="0.905" stop-color="#2538e3"/><stop offset="0.925" stop-color="#1c26c0"/><stop offset="1.000" stop-color="#1d27c8"/></linearGradient><linearGradient id="g0_75" x1="0" y1="0" x2="0" y2="1"><stop offset="0.000" stop-color="#fef8f8"/><stop offset="0.365" stop-color="#fef8f8"/><stop offset="0.515" stop-color="#fdedef"/><stop offset="0.720" stop-color="#fef9fa"/><stop offset="0.790" stop-color="#f9fcfe"/><stop offset="0.825" stop-color="#cfe7fa"/><stop offset="0.845" stop-color="#8cc8f3"/><stop offset="0.855" stop-color="#82c4f2"/><stop offset="0.875" stop-color="#3a98e9"/><stop offset="0.895" stop-color="#2b6fe7"/><stop offset="0.905" stop-color="#273ee6"/><stop offset="0.920" stop-color="#1e28d0"/><stop offset="1.000" stop-color="#1f29d3"/></linearGradient><linearGradient id="g0_76" x1="0" y1="0" x2="0" y2="1"><stop offset="0.000" stop-color="#fef8f8"/><stop offset="0.365" stop-color="#fef8f8"/><stop offset="0.515" stop-color="#fdedef"/><stop offset="0.720" stop-color="#fef9fa"/><stop offset="0.790" stop-color="#f9fcfe"/><stop offset="0.825" stop-color="#d1e8fa"/><stop offset="0.845" stop-color="#96cdf4"/><stop offset="0.860" stop-color="#7ec3f2"/><stop offset="0.875" stop-color="#42a3ec"/><stop offset="0.900" stop-color="#2c7ee6"/><stop offset="0.910" stop-color="#2843e8"/><stop offset="0.930" stop-color="#2331e0"/><stop offset="1.000" stop-color="#2435e2"/></linearGradient><linearGradient id="g0_77" x1="0" y1="0" x2="0" y2="1"><stop offset="0.000" stop-color="#fef8f8"/><stop offset="0.365" stop-color="#fef8f8"/><stop offset="0.515" stop-color="#fdedef"/><stop offset="0.720" stop-color="#fef9fa"/><stop offset="0.790" stop-color="#f9fcfe"/><stop offset="0.825" stop-color="#d3e9fb"/><stop offset="0.845" stop-color="#a2d2f5"/><stop offset="0.860" stop-color="#8cc8f3"/><stop offset="0.875" stop-color="#4db0ee"/><stop offset="0.905" stop-color="#308be7"/><stop offset="0.920" stop-color="#2950e8"/><stop offset="1.000" stop-color="#2955e7"/></linearGradient><linearGradient id="g0_78" x1="0" y1="0" x2="0" y2="1"><stop offset="0.000" stop-color="#fef8f8"/><stop offset="0.365" stop-color="#fef8f8"/><stop offset="0.515" stop-color="#fdedef"/><stop offset="0.720" stop-color="#fef9fa"/><stop offset="0.790" stop-color="#f9fcfe"/><stop offset="0.830" stop-color="#cae5fa"/><stop offset="0.850" stop-color="#a7d4f6"/><stop offset="0.860" stop-color="#96cdf4"/><stop offset="0.880" stop-color="#4cafee"/><stop offset="0.910" stop-color="#338fe8"/><stop offset="0.925" stop-color="#2c73e7"/><stop offset="1.000" stop-color="#2c7de6"/></linearGradient><linearGradient id="g0_79" x1="0" y1="0" x2="0" y2="1"><stop offset="0.000" stop-color="#fef8f8"/><stop offset="0.365" stop-color="#fef8f8"/><stop offset="0.515" stop-color="#fdedef"/><stop offset="0.720" stop-color="#fef9fa"/><stop offset="0.790" stop-color="#f9fcfe"/><stop offset="0.830" stop-color="#cbe5fa"/><stop offset="0.850" stop-color="#a8d5f6"/><stop offset="0.860" stop-color="#98cdf4"/><stop offset="0.880" stop-color="#4fb0ee"/><stop offset="0.910" stop-color="#3490e8"/><stop offset="0.930" stop-color="#2c79e6"/><stop offset="1.000" stop-color="#2d83e6"/></linearGradient><linearGradient id="g0_80" x1="0" y1="0" x2="0" y2="1"><stop offset="0.000" stop-color="#fef8f8"/><stop offset="0.365" stop-color="#fef8f8"/><stop offset="0.515" stop-color="#fdedef"/><stop offset="0.720" stop-color="#fef9fa"/><stop offset="0.790" stop-color="#f9fcfe"/><stop offset="0.825" stop-color="#d4e9fb"/><stop offset="0.845" stop-color="#a5d3f6"/><stop offset="0.860" stop-color="#90caf3"/><stop offset="0.875" stop-color="#52b2ef"/><stop offset="0.910" stop-color="#2d86e6"/><stop offset="0.920" stop-color="#2a5fe7"/><stop offset="1.000" stop-color="#2a64e7"/></linearGradient><linearGradient id="g0_81" x1="0" y1="0" x2="0" y2="1"><stop offset="0.000" stop-color="#fef8f8"/><stop offset="0.365" stop-color="#fef8f8"/><stop offset="0.515" stop-color="#fdedef"/><stop offset="0.720" stop-color="#fef9fa"/><stop offset="0.790" stop-color="#f9fcfe"/><stop offset="0.825" stop-color="#d1e8fa"/><stop offset="0.845" stop-color="#99cef4"/><stop offset="0.860" stop-color="#83c4f2"/><stop offset="0.875" stop-color="#45a7ec"/><stop offset="0.900" stop-color="#2e89e6"/><stop offset="0.915" stop-color="#273fe7"/><stop offset="0.970" stop-color="#2539e4"/><stop offset="1.000" stop-color="#263be5"/></linearGradient><linearGradient id="g0_82" x1="0" y1="0" x2="0" y2="1"><stop offset="0.000" stop-color="#fef8f8"/><stop offset="0.365" stop-color="#fef8f8"/><stop offset="0.515" stop-color="#fdedef"/><stop offset="0.720" stop-color="#fef9fa"/><stop offset="0.790" stop-color="#f9fcfe"/><stop offset="0.825" stop-color="#cfe7fa"/><stop offset="0.845" stop-color="#8ec9f3"/><stop offset="0.855" stop-color="#85c5f2"/><stop offset="0.875" stop-color="#3c9bea"/><stop offset="0.895" stop-color="#2c79e6"/><stop offset="0.905" stop-color="#2842e8"/><stop offset="0.920" stop-color="#1f29d7"/><stop offset="1.000" stop-color="#202ada"/></linearGradient><linearGradient id="g0_83" x1="0" y1="0" x2="0" y2="1"><stop offset="0.000" stop-color="#fef8f8"/><stop offset="0.365" stop-color="#fef8f8"/><stop offset="0.515" stop-color="#fdedef"/><stop offset="0.720" stop-color="#fef9fa"/><stop offset="0.790" stop-color="#f9fcfe"/><stop offset="0.825" stop-color="#cee6fa"/><stop offset="0.845" stop-color="#88c7f3"/><stop offset="0.855" stop-color="#7ec3f2"/><stop offset="0.870" stop-color="#43a4ec"/><stop offset="0.885" stop-color="#2c74e7"/><stop offset="0.895" stop-color="#2a61e7"/><stop offset="0.905" stop-color="#2539e4"/><stop offset="0.920" stop-color="#1d27c6"/><stop offset="1.000" stop-color="#1d27c9"/></linearGradient><linearGradient id="g0_84" x1="0" y1="0" x2="0" y2="1"><stop offset="0.000" stop-color="#fef8f8"/><stop offset="0.365" stop-color="#fef8f8"/><stop offset="0.515" stop-color="#fdedef"/><stop offset="0.720" stop-color="#fef9fa"/><stop offset="0.790" stop-color="#f9fcfe"/><stop offset="0.825" stop-color="#cee7fa"/><stop offset="0.845" stop-color="#89c7f3"/><stop offset="0.855" stop-color="#7fc3f2"/><stop offset="0.870" stop-color="#43a5ec"/><stop offset="0.885" stop-color="#2c75e7"/><stop offset="0.895" stop-color="#2a63e7"/><stop offset="0.905" stop-color="#2539e4"/><stop offset="0.925" stop-color="#1c26c2"/><stop offset="1.000" stop-color="#1d27ca"/></linearGradient><linearGradient id="g1_0" x1="0" y1="0" x2="0" y2="1"><stop offset="0.000" stop-color="#fefbfc"/><stop offset="0.355" stop-color="#fef4f5"/><stop offset="0.470" stop-color="#fef7f8"/><stop offset="0.485" stop-color="#eff7fd"/><stop offset="0.510" stop-color="#c3e1f9"/><stop offset="0.530" stop-color="#d6eafb"/><stop offset="0.555" stop-color="#fffefe"/><stop offset="0.650" stop-color="#fef6f7"/><stop offset="0.680" stop-color="#fce6e9"/><stop offset="0.725" stop-color="#fdfeff"/><stop offset="0.750" stop-color="#dceefc"/><stop offset="0.775" stop-color="#fffdfd"/><stop offset="0.835" stop-color="#fbe1e5"/><stop offset="0.865" stop-color="#fbe2e6"/><stop offset="0.875" stop-color="#fefafa"/><stop offset="0.885" stop-color="#cce6fa"/><stop offset="0.895" stop-color="#86c6f3"/><stop offset="0.905" stop-color="#6abbf0"/><stop offset="0.915" stop-color="#7ac1f2"/><stop offset="0.940" stop-color="#d4e9fb"/><stop offset="0.950" stop-color="#e4f2fc"/><stop offset="0.955" stop-color="#fef8f8"/><stop offset="0.970" stop-color="#f08791"/><stop offset="0.980" stop-color="#ee7984"/><stop offset="1.000" stop-color="#ee7984"/></linearGradient><linearGradient id="g1_1" x1="0" y1="0" x2="0" y2="1"><stop offset="0.000" stop-color="#fefbfc"/><stop offset="0.355" stop-color="#fef4f5"/><stop offset="0.470" stop-color="#fef7f8"/><stop offset="0.485" stop-color="#f0f8fe"/><stop offset="0.510" stop-color="#c6e3f9"/><stop offset="0.535" stop-color="#e1f0fc"/><stop offset="0.555" stop-color="#fffefe"/><stop offset="0.650" stop-color="#fef6f7"/><stop offset="0.680" stop-color="#fce6e9"/><stop offset="0.725" stop-color="#fdfeff"/><stop offset="0.750" stop-color="#dceefc"/><stop offset="0.775" stop-color="#fffdfd"/><stop offset="0.835" stop-color="#fbe1e5"/><stop offset="0.870" stop-color="#fceaec"/><stop offset="0.875" stop-color="#fef9f9"/><stop offset="0.885" stop-color="#d0e8fa"/><stop offset="0.895" stop-color="#8ec9f3"/><stop offset="0.905" stop-color="#73bef1"/><stop offset="0.920" stop-color="#93cbf4"/><stop offset="0.940" stop-color="#d3e9fb"/><stop offset="0.950" stop-color="#e3f1fc"/><stop offset="0.955" stop-color="#fefbfc"/><stop offset="0.970" stop-color="#f2969e"/><stop offset="0.980" stop-color="#f18b94"/><stop offset="1.000" stop-color="#f18b94"/></linearGradient><linearGradient id="g1_2" x1="0" y1="0" x2="0" y2="1"><stop offset="0.000" stop-color="#fefbfc"/><stop offset="0.355" stop-color="#fef4f5"/><stop offset="0.475" stop-color="#fffbfc"/><stop offset="0.510" stop-color="#c9e4fa"/><stop offset="0.535" stop-color="#e2f1fc"/><stop offset="0.555" stop-color="#fffefe"/><stop offset="0.650" stop-color="#fef6f7"/><stop offset="0.680" stop-color="#fce6e9"/><stop offset="0.725" stop-color="#fdfeff"/><stop offset="0.750" stop-color="#dceefc"/><stop offset="0.775" stop-color="#fffdfd"/><stop offset="0.835" stop-color="#fbe1e5"/><stop offset="0.870" stop-color="#fceaec"/><stop offset="0.875" stop-color="#fef8f9"/><stop offset="0.885" stop-color="#d3e9fb"/><stop offset="0.895" stop-color="#95ccf4"/><stop offset="0.905" stop-color="#7bc1f2"/><stop offset="0.920" stop-color="#98cef4"/><stop offset="0.940" stop-color="#d3e9fb"/><stop offset="0.950" stop-color="#e1f0fc"/><stop offset="0.955" stop-color="#fffefe"/><stop offset="0.970" stop-color="#f3a3aa"/><stop offset="0.985" stop-color="#f299a1"/><stop offset="1.000" stop-color="#f299a1"/></linearGradient><linearGradient id="g1_3" x1="0" y1="0" x2="0" y2="1"><stop offset="0.000" stop-color="#fefbfc"/><stop offset="0.355" stop-color="#fef4f5"/><stop offset="0.475" stop-color="#fefbfb"/><stop offset="0.510" stop-color="#cce6fa"/><stop offset="0.535" stop-color="#e4f1fc"/><stop offset="0.555" stop-color="#fffefe"/><stop offset="0.655" stop-color="#fdf3f4"/><stop offset="0.680" stop-color="#fce6e9"/><stop offset="0.725" stop-color="#fdfeff"/><stop offset="0.750" stop-color="#dceefc"/><stop offset="0.775" stop-color="#fffdfd"/><stop offset="0.835" stop-color="#fbe1e5"/><stop offset="0.870" stop-color="#fce9eb"/><stop offset="0.880" stop-color="#f7fbfe"/><stop offset="0.900" stop-color="#9ccff5"/><stop offset="0.910" stop-color="#99cef4"/><stop offset="0.940" stop-color="#dcedfb"/><stop offset="0.950" stop-color="#e8f3fd"/><stop offset="0.955" stop-color="#fffdfe"/><stop offset="0.970" stop-color="#f5b4ba"/><stop offset="1.000" stop-color="#f4acb2"/></linearGradient><linearGradient id="g1_4" x1="0" y1="0" x2="0" y2="1"><stop offset="0.000" stop-color="#fefbfc"/><stop offset="0.355" stop-color="#fef4f5"/><stop offset="0.475" stop-color="#fefafb"/><stop offset="0.495" stop-color="#e4f2fc"/><stop offset="0.515" stop-color="#d5eafb"/><stop offset="0.555" stop-color="#fffdfd"/><stop offset="0.655" stop-color="#fdf3f4"/><stop offset="0.680" stop-color="#fce6e9"/><stop offset="0.725" stop-color="#fdfeff"/><stop offset="0.750" stop-color="#dceefc"/><stop offset="0.775" stop-color="#fffdfd"/><stop offset="0.835" stop-color="#fbe1e5"/><stop offset="0.870" stop-color="#fce7e9"/><stop offset="0.880" stop-color="#fffcfc"/><stop offset="0.900" stop-color="#c8e3f9"/><stop offset="0.915" stop-color="#cbe5fa"/><stop offset="0.955" stop-color="#fef9fa"/><stop offset="0.970" stop-color="#f8c7cc"/><stop offset="1.000" stop-color="#f7c2c7"/></linearGradient><linearGradient id="g1_5" x1="0" y1="0" x2="0" y2="1"><stop offset="0.000" stop-color="#fefbfc"/><stop offset="0.355" stop-color="#fef4f5"/><stop offset="0.475" stop-color="#fef9f9"/><stop offset="0.500" stop-color="#eaf4fd"/><stop offset="0.530" stop-color="#ecf6fd"/><stop offset="0.560" stop-color="#fffbfc"/><stop offset="0.650" stop-color="#fef6f7"/><stop offset="0.680" stop-color="#fce6e9"/><stop offset="0.725" stop-color="#fdfeff"/><stop offset="0.750" stop-color="#dceefc"/><stop offset="0.775" stop-color="#fffdfd"/><stop offset="0.835" stop-color="#fbe1e5"/><stop offset="0.870" stop-color="#fce5e8"/><stop offset="0.885" stop-color="#fffefe"/><stop offset="0.905" stop-color="#e1f0fc"/><stop offset="0.955" stop-color="#fef8f9"/><stop offset="0.975" stop-color="#fad7db"/><stop offset="1.000" stop-color="#fad7db"/></linearGradient><linearGradient id="g1_6" x1="0" y1="0" x2="0" y2="1"><stop offset="0.000" stop-color="#fefbfc"/><stop offset="0.355" stop-color="#fef4f5"/><stop offset="0.485" stop-color="#fffcfd"/><stop offset="0.525" stop-color="#f5fafe"/><stop offset="0.590" stop-color="#ffffff"/><stop offset="0.660" stop-color="#fdeef0"/><stop offset="0.685" stop-color="#fce8eb"/><stop offset="0.725" stop-color="#fdfeff"/><stop offset="0.750" stop-color="#dceefc"/><stop offset="0.775" stop-color="#fffdfd"/><stop offset="0.835" stop-color="#fbe1e5"/><stop offset="0.875" stop-color="#fce9eb"/><stop offset="0.895" stop-color="#fcfdff"/><stop offset="0.920" stop-color="#fafcfe"/><stop offset="0.955" stop-color="#fef4f6"/><stop offset="0.980" stop-color="#fbe1e4"/><stop offset="1.000" stop-color="#fbe1e4"/></linearGradient><linearGradient id="g1_7" x1="0" y1="0" x2="0" y2="1"><stop offset="0.000" stop-color="#fefbfc"/><stop offset="0.355" stop-color="#fef4f5"/><stop offset="0.495" stop-color="#fffcfd"/><stop offset="0.645" stop-color="#fef8f8"/><stop offset="0.680" stop-color="#fce6e9"/><stop offset="0.725" stop-color="#fdfeff"/><stop offset="0.750" stop-color="#dceefc"/><stop offset="0.775" stop-color="#fffdfd"/><stop offset="0.835" stop-color="#fbe1e5"/><stop offset="0.880" stop-color="#fcebed"/><stop offset="0.915" stop-color="#fefafb"/><stop offset="0.960" stop-color="#fce9eb"/><stop offset="1.000" stop-color="#fbdfe3"/></linearGradient><linearGradient id="g1_8" x1="0" y1="0" x2="0" y2="1"><stop offset="0.000" stop-color="#fefbfc"/><stop offset="0.355" stop-color="#fef4f5"/><stop offset="0.605" stop-color="#f9fcfe"/><stop offset="0.625" stop-color="#f0f8fe"/><stop offset="0.640" stop-color="#fefafa"/><stop offset="0.680" stop-color="#fce6e9"/><stop offset="0.725" stop-color="#fdfeff"/><stop offset="0.750" stop-color="#dceefc"/><stop offset="0.775" stop-color="#fffdfd"/><stop offset="0.835" stop-color="#fbe1e5"/><stop offset="0.890" stop-color="#fdeff1"/><stop offset="0.955" stop-color="#fce9ec"/><stop offset="1.000" stop-color="#fadee1"/></linearGradient><linearGradient id="g1_9" x1="0" y1="0" x2="0" y2="1"><stop offset="0.000" stop-color="#fefbfc"/><stop offset="0.355" stop-color="#fef4f5"/><stop offset="0.575" stop-color="#fffcfd"/><stop offset="0.600" stop-color="#fcfdff"/><stop offset="0.620" stop-color="#deeffc"/><stop offset="0.640" stop-color="#fefbfb"/><stop offset="0.680" stop-color="#fce6e9"/><stop offset="0.725" stop-color="#fdfeff"/><stop offset="0.750" stop-color="#dceefc"/><stop offset="0.775" stop-color="#fffdfd"/><stop offset="0.835" stop-color="#fbe1e5"/><stop offset="0.945" stop-color="#fce8ea"/><stop offset="1.000" stop-color="#fadce0"/></linearGradient><linearGradient id="g1_10" x1="0" y1="0" x2="0" y2="1"><stop offset="0.000" stop-color="#fefbfc"/><stop offset="0.355" stop-color="#fef4f5"/><stop offset="0.540" stop-color="#fef7f8"/><stop offset="0.600" stop-color="#fbfdff"/><stop offset="0.620" stop-color="#d7ebfb"/><stop offset="0.640" stop-color="#fefbfc"/><stop offset="0.680" stop-color="#fce6e9"/><stop offset="0.725" stop-color="#fdfeff"/><stop offset="0.750" stop-color="#dceefc"/><stop offset="0.775" stop-color="#fffdfd"/><stop offset="0.835" stop-color="#fbe1e5"/><stop offset="0.965" stop-color="#fadde0"/><stop offset="1.000" stop-color="#fadbdf"/></linearGradient><linearGradient id="g1_11" x1="0" y1="0" x2="0" y2="1"><stop offset="0.000" stop-color="#fefbfc"/><stop offset="0.355" stop-color="#fef4f5"/><stop offset="0.540" stop-color="#fef7f8"/><stop offset="0.600" stop-color="#fbfdff"/><stop offset="0.620" stop-color="#d7ebfb"/><stop offset="0.640" stop-color="#fefbfc"/><stop offset="0.680" stop-color="#fce6e9"/><stop offset="0.725" stop-color="#fdfeff"/><stop offset="0.750" stop-color="#dceefc"/><stop offset="0.775" stop-color="#fffdfd"/><stop offset="0.835" stop-color="#fbe1e5"/><stop offset="1.000" stop-color="#f9d4d8"/></linearGradient><linearGradient id="g1_12" x1="0" y1="0" x2="0" y2="1"><stop offset="0.000" stop-color="#fefbfc"/><stop offset="0.355" stop-color="#fef4f5"/><stop offset="0.540" stop-color="#fef7f8"/><stop offset="0.600" stop-color="#fbfdff"/><stop offset="0.620" stop-color="#d7ebfb"/><stop offset="0.640" stop-color="#fefbfc"/><stop offset="0.680" stop-color="#fce6e9"/><stop offset="0.725" stop-color="#fdfeff"/><stop offset="0.750" stop-color="#dceefc"/><stop offset="0.775" stop-color="#fffdfd"/><stop offset="0.835" stop-color="#fbe1e5"/><stop offset="0.960" stop-color="#f9cfd4"/><stop offset="1.000" stop-color="#f8c8cd"/></linearGradient><linearGradient id="g1_13" x1="0" y1="0" x2="0" y2="1"><stop offset="0.000" stop-color="#fefbfc"/><stop offset="0.355" stop-color="#fef4f5"/><stop offset="0.540" stop-color="#fef7f8"/><stop offset="0.600" stop-color="#fbfdff"/><stop offset="0.620" stop-color="#d7ebfb"/><stop offset="0.640" stop-color="#fefbfc"/><stop offset="0.680" stop-color="#fce6e9"/><stop offset="0.725" stop-color="#fdfeff"/><stop offset="0.750" stop-color="#dceefc"/><stop offset="0.775" stop-color="#fffdfd"/><stop offset="0.835" stop-color="#fbe1e5"/><stop offset="0.955" stop-color="#f8cbcf"/><stop offset="0.985" stop-color="#f6bcc2"/><stop offset="1.000" stop-color="#f6bcc2"/></linearGradient><linearGradient id="g1_14" x1="0" y1="0" x2="0" y2="1"><stop offset="0.000" stop-color="#fefbfc"/><stop offset="0.355" stop-color="#fef4f5"/><stop offset="0.540" stop-color="#fef7f8"/><stop offset="0.600" stop-color="#fbfdff"/><stop offset="0.620" stop-color="#d7ebfb"/><stop offset="0.640" stop-color="#fefbfc"/><stop offset="0.680" stop-color="#fce6e9"/><stop offset="0.725" stop-color="#fdfeff"/><stop offset="0.750" stop-color="#dceefc"/><stop offset="0.775" stop-color="#fffdfd"/><stop offset="0.835" stop-color="#fbe1e5"/><stop offset="0.950" stop-color="#f8c8cc"/><stop offset="0.980" stop-color="#f5b0b6"/><stop offset="1.000" stop-color="#f5b0b6"/></linearGradient><linearGradient id="g1_15" x1="0" y1="0" x2="0" y2="1"><stop offset="0.000" stop-color="#fffdfd"/><stop offset="0.200" stop-color="#fcebed"/><stop offset="0.260" stop-color="#fdf1f3"/><stop offset="0.310" stop-color="#fafcfe"/><stop offset="0.340" stop-color="#e6f2fc"/><stop offset="0.405" stop-color="#edf6fd"/><stop offset="0.440" stop-color="#fef8f9"/><stop offset="0.515" stop-color="#fad8dc"/><stop offset="0.565" stop-color="#fad9dd"/><stop offset="0.625" stop-color="#fffeff"/><stop offset="0.675" stop-color="#fdf3f4"/><stop offset="0.690" stop-color="#fceaec"/><stop offset="0.700" stop-color="#fffdfd"/><stop offset="0.720" stop-color="#acd7f6"/><stop offset="0.790" stop-color="#add7f7"/><stop offset="0.810" stop-color="#f5fafe"/><stop offset="0.825" stop-color="#fef6f7"/><stop offset="0.845" stop-color="#fbdee2"/><stop offset="0.875" stop-color="#f6bec3"/><stop offset="0.940" stop-color="#f39fa7"/><stop offset="0.965" stop-color="#f7bfc4"/><stop offset="0.975" stop-color="#fadbdf"/><stop offset="0.980" stop-color="#fffdfd"/><stop offset="1.000" stop-color="#f8fbfe"/></linearGradient><linearGradient id="g1_16" x1="0" y1="0" x2="0" y2="1"><stop offset="0.000" stop-color="#fffdfd"/><stop offset="0.200" stop-color="#fcebed"/><stop offset="0.260" stop-color="#fdf1f3"/><stop offset="0.310" stop-color="#fafcfe"/><stop offset="0.340" stop-color="#e4f2fc"/><stop offset="0.405" stop-color="#ecf6fd"/><stop offset="0.440" stop-color="#fef8f9"/><stop offset="0.515" stop-color="#fad8dc"/><stop offset="0.565" stop-color="#fad9dd"/><stop offset="0.625" stop-color="#ffffff"/><stop offset="0.675" stop-color="#fef4f5"/><stop offset="0.690" stop-color="#fcebed"/><stop offset="0.700" stop-color="#fffdfe"/><stop offset="0.720" stop-color="#add7f7"/><stop offset="0.790" stop-color="#aed8f7"/><stop offset="0.810" stop-color="#f6fbfe"/><stop offset="0.825" stop-color="#fef5f6"/><stop offset="0.840" stop-color="#fbe1e4"/><stop offset="0.900" stop-color="#f4abb1"/><stop offset="0.940" stop-color="#f39ca4"/><stop offset="0.965" stop-color="#f6bdc3"/><stop offset="0.975" stop-color="#fadbdf"/><stop offset="0.980" stop-color="#fffdfd"/><stop offset="0.995" stop-color="#eaf4fd"/><stop offset="1.000" stop-color="#e8f4fd"/></linearGradient><linearGradient id="g1_17" x1="0" y1="0" x2="0" y2="1"><stop offset="0.000" stop-color="#fffdfd"/><stop offset="0.200" stop-color="#fcebed"/><stop offset="0.260" stop-color="#fdf1f3"/><stop offset="0.310" stop-color="#fafcfe"/><stop offset="0.335" stop-color="#e4f1fc"/><stop offset="0.405" stop-color="#ebf5fd"/><stop offset="0.440" stop-color="#fef8f9"/><stop offset="0.515" stop-color="#fad8dc"/><stop offset="0.565" stop-color="#fad9dd"/><stop offset="0.630" stop-color="#ffffff"/><stop offset="0.675" stop-color="#fef6f7"/><stop offset="0.690" stop-color="#fcebed"/><stop offset="0.700" stop-color="#fffdfe"/><stop offset="0.720" stop-color="#add7f7"/><stop offset="0.785" stop-color="#a7d5f6"/><stop offset="0.795" stop-color="#c1e0f9"/><stop offset="0.810" stop-color="#f7fbfe"/><stop offset="0.825" stop-color="#fef5f6"/><stop offset="0.840" stop-color="#fbe1e4"/><stop offset="0.905" stop-color="#f4a7ae"/><stop offset="0.940" stop-color="#f29aa2"/><stop offset="0.965" stop-color="#f6bcc2"/><stop offset="0.975" stop-color="#fadbdf"/><stop offset="0.980" stop-color="#fffdfd"/><stop offset="0.990" stop-color="#dfeffc"/><stop offset="1.000" stop-color="#daecfb"/></linearGradient><linearGradient id="g1_18" x1="0" y1="0" x2="0" y2="1"><stop offset="0.000" stop-color="#fffdfd"/><stop offset="0.200" stop-color="#fcebed"/><stop offset="0.260" stop-color="#fdf1f3"/><stop offset="0.310" stop-color="#fafcfe"/><stop offset="0.340" stop-color="#e2f1fc"/><stop offset="0.405" stop-color="#eaf5fd"/><stop offset="0.440" stop-color="#fef8f9"/><stop offset="0.515" stop-color="#fad8dc"/><stop offset="0.565" stop-color="#fad9dd"/><stop offset="0.625" stop-color="#ffffff"/><stop offset="0.675" stop-color="#fef7f8"/><stop offset="0.690" stop-color="#fcecee"/><stop offset="0.700" stop-color="#fffefe"/><stop offset="0.720" stop-color="#add7f7"/><stop offset="0.785" stop-color="#a8d5f6"/><stop offset="0.795" stop-color="#c3e1f9"/><stop offset="0.810" stop-color="#f8fcfe"/><stop offset="0.825" stop-color="#fef4f5"/><stop offset="0.845" stop-color="#fbdee2"/><stop offset="0.905" stop-color="#f4a5ac"/><stop offset="0.940" stop-color="#f2979f"/><stop offset="0.965" stop-color="#f6bbc1"/><stop offset="0.975" stop-color="#fadbdf"/><stop offset="0.980" stop-color="#fffdfd"/><stop offset="0.990" stop-color="#d2e9fb"/><stop offset="1.000" stop-color="#cae4fa"/></linearGradient><linearGradient id="g1_19" x1="0" y1="0" x2="0" y2="1"><stop offset="0.000" stop-color="#fffdfd"/><stop offset="0.200" stop-color="#fcebed"/><stop offset="0.260" stop-color="#fdf1f3"/><stop offset="0.310" stop-color="#fafcfe"/><stop offset="0.340" stop-color="#e2f0fc"/><stop offset="0.405" stop-color="#e9f4fd"/><stop offset="0.440" stop-color="#fef9f9"/><stop offset="0.515" stop-color="#fad8dc"/><stop offset="0.565" stop-color="#fad9dd"/><stop offset="0.625" stop-color="#ffffff"/><stop offset="0.675" stop-color="#fef9f9"/><stop offset="0.690" stop-color="#fcecee"/><stop offset="0.700" stop-color="#fffefe"/><stop offset="0.720" stop-color="#add7f7"/><stop offset="0.785" stop-color="#a9d5f6"/><stop offset="0.800" stop-color="#d9ecfb"/><stop offset="0.815" stop-color="#ffffff"/><stop offset="0.845" stop-color="#fbdee2"/><stop offset="0.905" stop-color="#f3a2aa"/><stop offset="0.940" stop-color="#f2959d"/><stop offset="0.965" stop-color="#f6babf"/><stop offset="0.975" stop-color="#fadbdf"/><stop offset="0.980" stop-color="#fffdfd"/><stop offset="0.990" stop-color="#b5dbf7"/><stop offset="1.000" stop-color="#a6d4f6"/></linearGradient><linearGradient id="g1_20" x1="0" y1="0" x2="0" y2="1"><stop offset="0.000" stop-color="#fffdfd"/><stop offset="0.200" stop-color="#fcebed"/><stop offset="0.260" stop-color="#fdf1f3"/><stop offset="0.310" stop-color="#fafcfe"/><stop offset="0.340" stop-color="#e0f0fc"/><stop offset="0.405" stop-color="#e8f4fd"/><stop offset="0.435" stop-color="#fffdfd"/><stop offset="0.510" stop-color="#fad9dd"/><stop offset="0.565" stop-color="#fad9dd"/><stop offset="0.625" stop-color="#feffff"/><stop offset="0.675" stop-color="#fefafb"/><stop offset="0.690" stop-color="#fdedef"/><stop offset="0.700" stop-color="#fffefe"/><stop offset="0.720" stop-color="#add7f7"/><stop offset="0.785" stop-color="#aad6f6"/><stop offset="0.800" stop-color="#daedfb"/><stop offset="0.810" stop-color="#fafcfe"/><stop offset="0.825" stop-color="#fdf3f5"/><stop offset="0.905" stop-color="#f3a0a8"/><stop offset="0.940" stop-color="#f2929b"/><stop offset="0.960" stop-color="#f4aab1"/><stop offset="0.975" stop-color="#fadbdf"/><stop offset="0.980" stop-color="#fffdfd"/><stop offset="0.985" stop-color="#cce5fa"/><stop offset="0.990" stop-color="#89c7f3"/><stop offset="1.000" stop-color="#72bef1"/></linearGradient><linearGradient id="g1_21" x1="0" y1="0" x2="0" y2="1"><stop offset="0.000" stop-color="#fffdfd"/><stop offset="0.200" stop-color="#fcebed"/><stop offset="0.260" stop-color="#fdf1f3"/><stop offset="0.315" stop-color="#f7fbfe"/><stop offset="0.335" stop-color="#e0effc"/><stop offset="0.405" stop-color="#e7f3fd"/><stop offset="0.435" stop-color="#fffdfd"/><stop offset="0.510" stop-color="#fad9dd"/><stop offset="0.565" stop-color="#fad9dd"/><stop offset="0.625" stop-color="#feffff"/><stop offset="0.670" stop-color="#fbfdff"/><stop offset="0.690" stop-color="#fdeef0"/><stop offset="0.700" stop-color="#fffefe"/><stop offset="0.720" stop-color="#aed8f7"/><stop offset="0.785" stop-color="#aad6f6"/><stop offset="0.810" stop-color="#fafdff"/><stop offset="0.825" stop-color="#fdf3f4"/><stop offset="0.905" stop-color="#f39ea6"/><stop offset="0.940" stop-color="#f18f98"/><stop offset="0.965" stop-color="#f6b7bd"/><stop offset="0.975" stop-color="#fadbdf"/><stop offset="0.980" stop-color="#fffdfd"/><stop offset="0.985" stop-color="#b6dbf7"/><stop offset="0.990" stop-color="#5cb6ef"/><stop offset="1.000" stop-color="#45a7ec"/></linearGradient><linearGradient id="g1_22" x1="0" y1="0" x2="0" y2="1"><stop offset="0.000" stop-color="#fffdfd"/><stop offset="0.200" stop-color="#fcebed"/><stop offset="0.260" stop-color="#fdf1f3"/><stop offset="0.315" stop-color="#f7fbfe"/><stop offset="0.340" stop-color="#deeffc"/><stop offset="0.405" stop-color="#e6f3fd"/><stop offset="0.435" stop-color="#fffdfd"/><stop offset="0.510" stop-color="#fad9dd"/><stop offset="0.565" stop-color="#fad9dd"/><stop offset="0.625" stop-color="#feffff"/><stop offset="0.665" stop-color="#f5fafe"/><stop offset="0.680" stop-color="#fef6f7"/><stop offset="0.695" stop-color="#fdf3f4"/><stop offset="0.700" stop-color="#fffefe"/><stop offset="0.720" stop-color="#aed8f7"/><stop offset="0.785" stop-color="#abd6f6"/><stop offset="0.810" stop-color="#fbfdff"/><stop offset="0.825" stop-color="#fdf2f4"/><stop offset="0.890" stop-color="#f4acb3"/><stop offset="0.910" stop-color="#f298a0"/><stop offset="0.940" stop-color="#f18a93"/><stop offset="0.960" stop-color="#f3a4ab"/><stop offset="0.975" stop-color="#fadbdf"/><stop offset="0.980" stop-color="#fffdfd"/><stop offset="0.990" stop-color="#3e9eeb"/><stop offset="1.000" stop-color="#2d87e6"/></linearGradient><linearGradient id="g1_23" x1="0" y1="0" x2="0" y2="1"><stop offset="0.000" stop-color="#fffdfd"/><stop offset="0.200" stop-color="#fcebed"/><stop offset="0.260" stop-color="#fdf1f3"/><stop offset="0.315" stop-color="#f7fbfe"/><stop offset="0.335" stop-color="#deeefc"/><stop offset="0.405" stop-color="#e5f2fc"/><stop offset="0.435" stop-color="#fffdfe"/><stop offset="0.510" stop-color="#fad9dd"/><stop offset="0.565" stop-color="#fad9dd"/><stop offset="0.625" stop-color="#feffff"/><stop offset="0.665" stop-color="#f3f9fe"/><stop offset="0.675" stop-color="#ffffff"/><stop offset="0.690" stop-color="#fdeff1"/><stop offset="0.700" stop-color="#fffefe"/><stop offset="0.720" stop-color="#aed8f7"/><stop offset="0.785" stop-color="#acd7f6"/><stop offset="0.810" stop-color="#fcfdff"/><stop offset="0.825" stop-color="#fdf2f3"/><stop offset="0.890" stop-color="#f4a9b0"/><stop offset="0.905" stop-color="#f2929b"/><stop offset="0.940" stop-color="#f0828c"/><stop offset="0.960" stop-color="#f39da5"/><stop offset="0.975" stop-color="#fadbdf"/><stop offset="0.980" stop-color="#fffdfd"/><stop offset="0.985" stop-color="#89c7f3"/><stop offset="0.990" stop-color="#2c7be6"/><stop offset="0.995" stop-color="#294ce8"/><stop offset="1.000" stop-color="#2539e4"/></linearGradient><linearGradient id="g1_24" x1="0" y1="0" x2="0" y2="1"><stop offset="0.000" stop-color="#fffdfd"/><stop offset="0.200" stop-color="#fcebed"/><stop offset="0.260" stop-color="#fdf1f3"/><stop offset="0.315" stop-color="#f7fbfe"/><stop offset="0.335" stop-color="#dceefc"/><stop offset="0.405" stop-color="#e4f2fc"/><stop offset="0.435" stop-color="#fffefe"/><stop offset="0.510" stop-color="#fad9dd"/><stop offset="0.565" stop-color="#fad9dd"/><stop offset="0.625" stop-color="#feffff"/><stop offset="0.655" stop-color="#f1f8fe"/><stop offset="0.680" stop-color="#fef8f9"/><stop offset="0.695" stop-color="#fdf4f5"/><stop offset="0.700" stop-color="#ffffff"/><stop offset="0.720" stop-color="#afd8f7"/><stop offset="0.785" stop-color="#add7f7"/><stop offset="0.810" stop-color="#fcfeff"/><stop offset="0.830" stop-color="#fce8eb"/><stop offset="0.885" stop-color="#f5b3b8"/><stop offset="0.905" stop-color="#f18b94"/><stop offset="0.940" stop-color="#ee7883"/><stop offset="0.960" stop-color="#f2979f"/><stop offset="0.970" stop-color="#f8cdd1"/><stop offset="0.975" stop-color="#fadbdf"/><stop offset="0.980" stop-color="#fffdfd"/><stop offset="0.985" stop-color="#73bff1"/><stop offset="0.990" stop-color="#263ae4"/><stop offset="1.000" stop-color="#1c26c0"/></linearGradient><linearGradient id="g1_25" x1="0" y1="0" x2="0" y2="1"><stop offset="0.000" stop-color="#fffdfd"/><stop offset="0.200" stop-color="#fcebed"/><stop offset="0.260" stop-color="#fdf1f3"/><stop offset="0.315" stop-color="#f7fbfe"/><stop offset="0.335" stop-color="#dcedfb"/><stop offset="0.405" stop-color="#e3f1fc"/><stop offset="0.435" stop-color="#fffefe"/><stop offset="0.510" stop-color="#fad9dd"/><stop offset="0.565" stop-color="#fad9dd"/><stop offset="0.625" stop-color="#feffff"/><stop offset="0.655" stop-color="#eef7fd"/><stop offset="0.680" stop-color="#fefafb"/><stop offset="0.695" stop-color="#fef4f5"/><stop offset="0.700" stop-color="#ffffff"/><stop offset="0.720" stop-color="#afd8f7"/><stop offset="0.785" stop-color="#aed8f7"/><stop offset="0.810" stop-color="#fdfeff"/><stop offset="0.830" stop-color="#fce8ea"/><stop offset="0.885" stop-color="#f5b1b7"/><stop offset="0.900" stop-color="#f08892"/><stop offset="0.940" stop-color="#ec6f7a"/><stop offset="0.960" stop-color="#f19099"/><stop offset="0.970" stop-color="#f8ccd1"/><stop offset="0.975" stop-color="#fadbdf"/><stop offset="0.980" stop-color="#fffdfd"/><stop offset="0.985" stop-color="#68baf0"/><stop offset="0.990" stop-color="#212cdd"/><stop offset="1.000" stop-color="#1822a4"/></linearGradient><linearGradient id="g1_26" x1="0" y1="0" x2="0" y2="1"><stop offset="0.000" stop-color="#fffdfd"/><stop offset="0.200" stop-color="#fcebed"/><stop offset="0.260" stop-color="#fdf1f3"/><stop offset="0.315" stop-color="#f7fbfe"/><stop offset="0.335" stop-color="#dbedfb"/><stop offset="0.405" stop-color="#e2f1fc"/><stop offset="0.430" stop-color="#fcfdff"/><stop offset="0.515" stop-color="#fad8dc"/><stop offset="0.565" stop-color="#fad9dd"/><stop offset="0.625" stop-color="#feffff"/><stop offset="0.645" stop-color="#ecf5fd"/><stop offset="0.670" stop-color="#eff7fd"/><stop offset="0.685" stop-color="#fef4f6"/><stop offset="0.700" stop-color="#ffffff"/><stop offset="0.720" stop-color="#afd8f7"/><stop offset="0.785" stop-color="#afd8f7"/><stop offset="0.810" stop-color="#fdfeff"/><stop offset="0.830" stop-color="#fce8ea"/><stop offset="0.885" stop-color="#f5afb5"/><stop offset="0.900" stop-color="#ef818b"/><stop offset="0.940" stop-color="#ea6572"/><stop offset="0.960" stop-color="#f18a93"/><stop offset="0.970" stop-color="#f8ccd0"/><stop offset="0.975" stop-color="#fadbdf"/><stop offset="0.980" stop-color="#fffdfd"/><stop offset="0.985" stop-color="#67baf0"/><stop offset="0.990" stop-color="#202bdc"/><stop offset="1.000" stop-color="#1821a3"/></linearGradient><linearGradient id="g1_27" x1="0" y1="0" x2="0" y2="1"><stop offset="0.000" stop-color="#fffdfd"/><stop offset="0.200" stop-color="#fcebed"/><stop offset="0.260" stop-color="#fdf1f3"/><stop offset="0.315" stop-color="#f8fbfe"/><stop offset="0.335" stop-color="#daedfb"/><stop offset="0.405" stop-color="#e1f0fc"/><stop offset="0.435" stop-color="#fffefe"/><stop offset="0.510" stop-color="#fad9dd"/><stop offset="0.565" stop-color="#fad9dd"/><stop offset="0.625" stop-color="#feffff"/><stop offset="0.645" stop-color="#e8f4fd"/><stop offset="0.670" stop-color="#ebf5fd"/><stop offset="0.680" stop-color="#fffdfe"/><stop offset="0.695" stop-color="#fef5f6"/><stop offset="0.700" stop-color="#ffffff"/><stop offset="0.720" stop-color="#afd8f7"/><stop offset="0.785" stop-color="#b0d9f7"/><stop offset="0.810" stop-color="#fefeff"/><stop offset="0.880" stop-color="#f6babf"/><stop offset="0.900" stop-color="#ee7984"/><stop offset="0.940" stop-color="#e95c69"/><stop offset="0.960" stop-color="#f0838e"/><stop offset="0.970" stop-color="#f8cbd0"/><stop offset="0.975" stop-color="#fadbdf"/><stop offset="0.980" stop-color="#fffdfd"/><stop offset="0.985" stop-color="#65b9f0"/><stop offset="0.990" stop-color="#202adb"/><stop offset="1.000" stop-color="#1721a1"/></linearGradient><linearGradient id="g1_28" x1="0" y1="0" x2="0" y2="1"><stop offset="0.000" stop-color="#fffdfd"/><stop offset="0.200" stop-color="#fcebed"/><stop offset="0.260" stop-color="#fdf1f3"/><stop offset="0.315" stop-color="#f8fbfe"/><stop offset="0.335" stop-color="#d9ecfb"/><stop offset="0.405" stop-color="#e0f0fc"/><stop offset="0.430" stop-color="#fbfdff"/><stop offset="0.515" stop-color="#fad8dc"/><stop offset="0.565" stop-color="#fad9dd"/><stop offset="0.625" stop-color="#feffff"/><stop offset="0.645" stop-color="#e6f2fc"/><stop offset="0.670" stop-color="#e8f4fd"/><stop offset="0.680" stop-color="#ffffff"/><stop offset="0.695" stop-color="#fef5f7"/><stop offset="0.700" stop-color="#ffffff"/><stop offset="0.720" stop-color="#b0d8f7"/><stop offset="0.785" stop-color="#b1d9f7"/><stop offset="0.810" stop-color="#fefeff"/><stop offset="0.880" stop-color="#f6b9bf"/><stop offset="0.900" stop-color="#ed717d"/><stop offset="0.940" stop-color="#e75360"/><stop offset="0.960" stop-color="#ee7c86"/><stop offset="0.965" stop-color="#f39ca4"/><stop offset="0.970" stop-color="#f8cbcf"/><stop offset="0.975" stop-color="#fadbdf"/><stop offset="0.980" stop-color="#fffdfd"/><stop offset="0.985" stop-color="#64b9f0"/><stop offset="0.990" stop-color="#202ad9"/><stop offset="1.000" stop-color="#17219f"/></linearGradient><linearGradient id="g1_29" x1="0" y1="0" x2="0" y2="1"><stop offset="0.000" stop-color="#fffdfd"/><stop offset="0.200" stop-color="#fcebed"/><stop offset="0.260" stop-color="#fdf1f3"/><stop offset="0.315" stop-color="#f8fcfe"/><stop offset="0.335" stop-color="#d9ecfb"/><stop offset="0.405" stop-color="#dfeffc"/><stop offset="0.425" stop-color="#fafcfe"/><stop offset="0.520" stop-color="#fad7db"/><stop offset="0.565" stop-color="#fad9dd"/><stop offset="0.625" stop-color="#ffffff"/><stop offset="0.645" stop-color="#e2f1fc"/><stop offset="0.670" stop-color="#e5f2fc"/><stop offset="0.680" stop-color="#fcfeff"/><stop offset="0.695" stop-color="#fef6f7"/><stop offset="0.700" stop-color="#feffff"/><stop offset="0.720" stop-color="#b0d9f7"/><stop offset="0.785" stop-color="#b2daf7"/><stop offset="0.805" stop-color="#f6fbfe"/><stop offset="0.820" stop-color="#fef8f9"/><stop offset="0.880" stop-color="#f6b9bf"/><stop offset="0.900" stop-color="#eb6a75"/><stop offset="0.940" stop-color="#e54c59"/><stop offset="0.960" stop-color="#ed7480"/><stop offset="0.965" stop-color="#f298a0"/><stop offset="0.970" stop-color="#f8cacf"/><stop offset="0.975" stop-color="#fadbdf"/><stop offset="0.980" stop-color="#fffdfd"/><stop offset="0.985" stop-color="#63b8f0"/><stop offset="0.990" stop-color="#1f29d6"/><stop offset="1.000" stop-color="#17209e"/></linearGradient><linearGradient id="g1_30" x1="0" y1="0" x2="0" y2="1"><stop offset="0.000" stop-color="#fffdfd"/><stop offset="0.200" stop-color="#fcebed"/><stop offset="0.260" stop-color="#fdf1f3"/><stop offset="0.315" stop-color="#f8fcfe"/><stop offset="0.335" stop-color="#d8ecfb"/><stop offset="0.405" stop-color="#deeffc"/><stop offset="0.430" stop-color="#fbfdff"/><stop offset="0.515" stop-color="#fad8dc"/><stop offset="0.565" stop-color="#fad9dd"/><stop offset="0.625" stop-color="#ffffff"/><stop offset="0.640" stop-color="#e0effc"/><stop offset="0.670" stop-color="#e2f0fc"/><stop offset="0.685" stop-color="#fef9fa"/><stop offset="0.700" stop-color="#feffff"/><stop offset="0.720" stop-color="#b0d9f7"/><stop offset="0.785" stop-color="#b3daf7"/><stop offset="0.805" stop-color="#f7fbfe"/><stop offset="0.820" stop-color="#fef8f9"/><stop offset="0.880" stop-color="#f6b9be"/><stop offset="0.900" stop-color="#ea6571"/><stop offset="0.940" stop-color="#e34856"/><stop offset="0.960" stop-color="#ec707b"/><stop offset="0.965" stop-color="#f2959e"/><stop offset="0.970" stop-color="#f8cace"/><stop offset="0.975" stop-color="#fadbdf"/><stop offset="0.980" stop-color="#fffdfd"/><stop offset="0.985" stop-color="#62b8f0"/><stop offset="0.990" stop-color="#1f29d4"/><stop offset="0.995" stop-color="#1a24b0"/><stop offset="1.000" stop-color="#17209c"/></linearGradient><linearGradient id="g1_31" x1="0" y1="0" x2="0" y2="1"><stop offset="0.000" stop-color="#fffdfd"/><stop offset="0.200" stop-color="#fcebed"/><stop offset="0.260" stop-color="#fdf1f3"/><stop offset="0.315" stop-color="#f8fcfe"/><stop offset="0.335" stop-color="#d7ebfb"/><stop offset="0.405" stop-color="#ddeefc"/><stop offset="0.430" stop-color="#fbfdff"/><stop offset="0.515" stop-color="#fad8dc"/><stop offset="0.565" stop-color="#fad9dd"/><stop offset="0.625" stop-color="#ffffff"/><stop offset="0.640" stop-color="#ddeefc"/><stop offset="0.670" stop-color="#dfeffc"/><stop offset="0.685" stop-color="#fefbfb"/><stop offset="0.700" stop-color="#fefeff"/><stop offset="0.720" stop-color="#b1d9f7"/><stop offset="0.785" stop-color="#b4dbf7"/><stop offset="0.805" stop-color="#f8fbfe"/><stop offset="0.820" stop-color="#fef8f8"/><stop offset="0.880" stop-color="#f6b8be"/><stop offset="0.900" stop-color="#ea636f"/><stop offset="0.940" stop-color="#e24754"/><stop offset="0.960" stop-color="#ec6e79"/><stop offset="0.965" stop-color="#f2949d"/><stop offset="0.970" stop-color="#f8cace"/><stop offset="0.975" stop-color="#fadbdf"/><stop offset="0.980" stop-color="#fffdfd"/><stop offset="0.985" stop-color="#61b7f0"/><stop offset="0.990" stop-color="#1f29d2"/><stop offset="0.995" stop-color="#1923ae"/><stop offset="1.000" stop-color="#16209b"/></linearGradient><linearGradient id="g1_32" x1="0" y1="0" x2="0" y2="1"><stop offset="0.000" stop-color="#fffdfd"/><stop offset="0.200" stop-color="#fcebed"/><stop offset="0.260" stop-color="#fdf1f3"/><stop offset="0.315" stop-color="#f9fcfe"/><stop offset="0.340" stop-color="#d6ebfb"/><stop offset="0.405" stop-color="#dceefc"/><stop offset="0.425" stop-color="#fafcfe"/><stop offset="0.470" stop-color="#fcebed"/><stop offset="0.520" stop-color="#fad7db"/><stop offset="0.565" stop-color="#fad9dd"/><stop offset="0.625" stop-color="#ffffff"/><stop offset="0.640" stop-color="#dbedfb"/><stop offset="0.670" stop-color="#dbedfb"/><stop offset="0.685" stop-color="#fffcfd"/><stop offset="0.700" stop-color="#fdfeff"/><stop offset="0.720" stop-color="#b1d9f7"/><stop offset="0.785" stop-color="#b6dbf7"/><stop offset="0.805" stop-color="#f9fcfe"/><stop offset="0.820" stop-color="#fef7f8"/><stop offset="0.880" stop-color="#f6b8be"/><stop offset="0.900" stop-color="#e9606d"/><stop offset="0.940" stop-color="#e24653"/><stop offset="0.960" stop-color="#eb6c77"/><stop offset="0.965" stop-color="#f2939c"/><stop offset="0.970" stop-color="#f8c9ce"/><stop offset="0.975" stop-color="#fadbdf"/><stop offset="0.980" stop-color="#fffdfd"/><stop offset="0.985" stop-color="#60b7f0"/><stop offset="0.990" stop-color="#1e28cf"/><stop offset="0.995" stop-color="#1923ab"/><stop offset="1.000" stop-color="#161f99"/></linearGradient><linearGradient id="g1_33" x1="0" y1="0" x2="0" y2="1"><stop offset="0.000" stop-color="#fffdfd"/><stop offset="0.200" stop-color="#fcebed"/><stop offset="0.260" stop-color="#fdf1f3"/><stop offset="0.315" stop-color="#f9fcfe"/><stop offset="0.335" stop-color="#d6ebfb"/><stop offset="0.405" stop-color="#dbedfb"/><stop offset="0.430" stop-color="#fbfdff"/><stop offset="0.515" stop-color="#fad8dc"/><stop offset="0.565" stop-color="#fad9dd"/><stop offset="0.625" stop-color="#ffffff"/><stop offset="0.640" stop-color="#d8ebfb"/><stop offset="0.670" stop-color="#d8ecfb"/><stop offset="0.685" stop-color="#fffefe"/><stop offset="0.700" stop-color="#fdfeff"/><stop offset="0.720" stop-color="#b1d9f7"/><stop offset="0.785" stop-color="#b7dcf8"/><stop offset="0.805" stop-color="#fafcfe"/><stop offset="0.820" stop-color="#fef7f8"/><stop offset="0.880" stop-color="#f6b8be"/><stop offset="0.900" stop-color="#e95e6b"/><stop offset="0.940" stop-color="#e14551"/><stop offset="0.960" stop-color="#eb6a75"/><stop offset="0.965" stop-color="#f2929b"/><stop offset="0.970" stop-color="#f8c9ce"/><stop offset="0.975" stop-color="#fadbdf"/><stop offset="0.980" stop-color="#fffdfd"/><stop offset="0.985" stop-color="#5fb7f0"/><stop offset="0.990" stop-color="#1e28cd"/><stop offset="0.995" stop-color="#1923a9"/><stop offset="1.000" stop-color="#161f97"/></linearGradient><linearGradient id="g1_34" x1="0" y1="0" x2="0" y2="1"><stop offset="0.000" stop-color="#fffdfd"/><stop offset="0.200" stop-color="#fcebed"/><stop offset="0.260" stop-color="#fdf1f3"/><stop offset="0.315" stop-color="#f9fcfe"/><stop offset="0.335" stop-color="#d6eafb"/><stop offset="0.405" stop-color="#daedfb"/><stop offset="0.425" stop-color="#f9fcfe"/><stop offset="0.470" stop-color="#fcebed"/><stop offset="0.520" stop-color="#fad7db"/><stop offset="0.565" stop-color="#fad9dd"/><stop offset="0.625" stop-color="#ffffff"/><stop offset="0.640" stop-color="#d5eafb"/><stop offset="0.670" stop-color="#d5eafb"/><stop offset="0.685" stop-color="#ffffff"/><stop offset="0.700" stop-color="#fdfeff"/><stop offset="0.720" stop-color="#b2d9f7"/><stop offset="0.780" stop-color="#b0d9f7"/><stop offset="0.795" stop-color="#dceefc"/><stop offset="0.810" stop-color="#ffffff"/><stop offset="0.880" stop-color="#f6b8be"/><stop offset="0.900" stop-color="#e95c69"/><stop offset="0.940" stop-color="#e04350"/><stop offset="0.960" stop-color="#eb6774"/><stop offset="0.970" stop-color="#f8c9ce"/><stop offset="0.975" stop-color="#fadbdf"/><stop offset="0.980" stop-color="#fffdfd"/><stop offset="0.985" stop-color="#5eb6ef"/><stop offset="0.990" stop-color="#1d27cb"/><stop offset="0.995" stop-color="#1822a6"/><stop offset="1.000" stop-color="#161f96"/></linearGradient><linearGradient id="g1_35" x1="0" y1="0" x2="0" y2="1"><stop offset="0.000" stop-color="#fffdfd"/><stop offset="0.200" stop-color="#fcebed"/><stop offset="0.260" stop-color="#fdf1f3"/><stop offset="0.315" stop-color="#f9fcfe"/><stop offset="0.340" stop-color="#d4eafb"/><stop offset="0.405" stop-color="#d9ecfb"/><stop offset="0.430" stop-color="#fbfdff"/><stop offset="0.515" stop-color="#fad8dc"/><stop offset="0.565" stop-color="#fad9dd"/><stop offset="0.625" stop-color="#ffffff"/><stop offset="0.640" stop-color="#d4eafb"/><stop offset="0.670" stop-color="#d3e9fb"/><stop offset="0.685" stop-color="#fcfeff"/><stop offset="0.700" stop-color="#fcfdff"/><stop offset="0.720" stop-color="#b3daf7"/><stop offset="0.780" stop-color="#b2daf7"/><stop offset="0.805" stop-color="#fbfdff"/><stop offset="0.825" stop-color="#fdeef0"/><stop offset="0.880" stop-color="#f6b8be"/><stop offset="0.900" stop-color="#e85a67"/><stop offset="0.940" stop-color="#e0424e"/><stop offset="0.960" stop-color="#ea6572"/><stop offset="0.970" stop-color="#f8c9ce"/><stop offset="0.975" stop-color="#fadbdf"/><stop offset="0.980" stop-color="#fffdfd"/><stop offset="0.985" stop-color="#5db6ef"/><stop offset="0.990" stop-color="#1d27c8"/><stop offset="0.995" stop-color="#1822a4"/><stop offset="1.000" stop-color="#151e94"/></linearGradient><linearGradient id="g1_36" x1="0" y1="0" x2="0" y2="1"><stop offset="0.000" stop-color="#fffdfd"/><stop offset="0.200" stop-color="#fcebed"/><stop offset="0.260" stop-color="#fdf1f3"/><stop offset="0.315" stop-color="#f9fcfe"/><stop offset="0.340" stop-color="#d3e9fb"/><stop offset="0.405" stop-color="#d9ecfb"/><stop offset="0.425" stop-color="#f9fcfe"/><stop offset="0.470" stop-color="#fcebed"/><stop offset="0.520" stop-color="#fad7db"/><stop offset="0.565" stop-color="#fad9dd"/><stop offset="0.625" stop-color="#ffffff"/><stop offset="0.640" stop-color="#d5eafb"/><stop offset="0.670" stop-color="#d2e9fb"/><stop offset="0.690" stop-color="#fffcfd"/><stop offset="0.700" stop-color="#fafcfe"/><stop offset="0.720" stop-color="#b6dbf8"/><stop offset="0.780" stop-color="#b6dbf7"/><stop offset="0.805" stop-color="#fcfdff"/><stop offset="0.825" stop-color="#fdeeef"/><stop offset="0.880" stop-color="#f6b8be"/><stop offset="0.900" stop-color="#e85865"/><stop offset="0.940" stop-color="#df414d"/><stop offset="0.960" stop-color="#ea6370"/><stop offset="0.965" stop-color="#f18e98"/><stop offset="0.970" stop-color="#f8c9ce"/><stop offset="0.975" stop-color="#fadbdf"/><stop offset="0.980" stop-color="#fffdfd"/><stop offset="0.985" stop-color="#5cb5ef"/><stop offset="0.990" stop-color="#1d27c6"/><stop offset="0.995" stop-color="#1821a3"/><stop offset="1.000" stop-color="#151e93"/></linearGradient><linearGradient id="g1_37" x1="0" y1="0" x2="0" y2="1"><stop offset="0.000" stop-color="#fffdfd"/><stop offset="0.200" stop-color="#fcebed"/><stop offset="0.260" stop-color="#fdf1f3"/><stop offset="0.315" stop-color="#f9fcfe"/><stop offset="0.340" stop-color="#d3e9fb"/><stop offset="0.405" stop-color="#d8ebfb"/><stop offset="0.430" stop-color="#fafdff"/><stop offset="0.515" stop-color="#fad8dc"/><stop offset="0.565" stop-color="#fad9dd"/><stop offset="0.625" stop-color="#ffffff"/><stop offset="0.640" stop-color="#d5eafb"/><stop offset="0.670" stop-color="#d2e8fa"/><stop offset="0.690" stop-color="#ffffff"/><stop offset="0.700" stop-color="#f8fcfe"/><stop offset="0.720" stop-color="#b9ddf8"/><stop offset="0.780" stop-color="#b9ddf8"/><stop offset="0.805" stop-color="#fcfeff"/><stop offset="0.825" stop-color="#fdedef"/><stop offset="0.880" stop-color="#f6b8be"/><stop offset="0.900" stop-color="#e85664"/><stop offset="0.940" stop-color="#de3f4b"/><stop offset="0.960" stop-color="#ea616e"/><stop offset="0.965" stop-color="#f18d97"/><stop offset="0.970" stop-color="#f8c9ce"/><stop offset="0.975" stop-color="#fadbdf"/><stop offset="0.980" stop-color="#fffdfd"/><stop offset="0.985" stop-color="#5ab5ef"/><stop offset="0.990" stop-color="#1c26c4"/><stop offset="0.995" stop-color="#1721a1"/><stop offset="1.000" stop-color="#151e91"/></linearGradient><linearGradient id="g1_38" x1="0" y1="0" x2="0" y2="1"><stop offset="0.000" stop-color="#fffdfd"/><stop offset="0.200" stop-color="#fcebed"/><stop offset="0.260" stop-color="#fdf1f3"/><stop offset="0.315" stop-color="#fafcfe"/><stop offset="0.340" stop-color="#d2e8fa"/><stop offset="0.405" stop-color="#d7ebfb"/><stop offset="0.430" stop-color="#fafdff"/><stop offset="0.515" stop-color="#fad8dc"/><stop offset="0.565" stop-color="#fad9dd"/><stop offset="0.625" stop-color="#ffffff"/><stop offset="0.635" stop-color="#e6f3fd"/><stop offset="0.645" stop-color="#d1e8fa"/><stop offset="0.675" stop-color="#d8ecfb"/><stop offset="0.690" stop-color="#fcfeff"/><stop offset="0.700" stop-color="#f6fbfe"/><stop offset="0.720" stop-color="#bcdef8"/><stop offset="0.780" stop-color="#bddef8"/><stop offset="0.805" stop-color="#fdfeff"/><stop offset="0.825" stop-color="#fdedef"/><stop offset="0.880" stop-color="#f6b8bd"/><stop offset="0.900" stop-color="#e75462"/><stop offset="0.940" stop-color="#dd3e4a"/><stop offset="0.960" stop-color="#e95f6c"/><stop offset="0.965" stop-color="#f18c95"/><stop offset="0.970" stop-color="#f8c9cd"/><stop offset="0.975" stop-color="#fadbdf"/><stop offset="0.980" stop-color="#fffdfd"/><stop offset="0.985" stop-color="#59b5ef"/><stop offset="0.990" stop-color="#1c26c1"/><stop offset="0.995" stop-color="#1721a0"/><stop offset="1.000" stop-color="#151d8f"/></linearGradient><linearGradient id="g1_39" x1="0" y1="0" x2="0" y2="1"><stop offset="0.000" stop-color="#fffdfd"/><stop offset="0.200" stop-color="#fcebed"/><stop offset="0.260" stop-color="#fdf1f3"/><stop offset="0.315" stop-color="#fafcfe"/><stop offset="0.340" stop-color="#d1e8fa"/><stop offset="0.405" stop-color="#d6eafb"/><stop offset="0.430" stop-color="#fafdff"/><stop offset="0.515" stop-color="#fad8dc"/><stop offset="0.565" stop-color="#fad9dd"/><stop offset="0.630" stop-color="#fafcfe"/><stop offset="0.640" stop-color="#d5eafb"/><stop offset="0.675" stop-color="#d7ebfb"/><stop offset="0.695" stop-color="#fbfdff"/><stop offset="0.720" stop-color="#bfe0f9"/><stop offset="0.780" stop-color="#c0e0f9"/><stop offset="0.805" stop-color="#fdfeff"/><stop offset="0.880" stop-color="#f6b8bd"/><stop offset="0.900" stop-color="#e75260"/><stop offset="0.940" stop-color="#dd3d48"/><stop offset="0.960" stop-color="#e95d6a"/><stop offset="0.965" stop-color="#f18b94"/><stop offset="0.970" stop-color="#f8c8cd"/><stop offset="0.975" stop-color="#fadbdf"/><stop offset="0.980" stop-color="#fffdfd"/><stop offset="0.985" stop-color="#58b4ef"/><stop offset="0.990" stop-color="#1c26bf"/><stop offset="0.995" stop-color="#17209e"/><stop offset="1.000" stop-color="#151d8e"/></linearGradient><linearGradient id="g1_40" x1="0" y1="0" x2="0" y2="1"><stop offset="0.000" stop-color="#fffdfd"/><stop offset="0.200" stop-color="#fcebed"/><stop offset="0.260" stop-color="#fdf1f3"/><stop offset="0.315" stop-color="#fafcfe"/><stop offset="0.340" stop-color="#d0e8fa"/><stop offset="0.405" stop-color="#d5eafb"/><stop offset="0.430" stop-color="#fafdff"/><stop offset="0.515" stop-color="#fad8dc"/><stop offset="0.565" stop-color="#fad9dd"/><stop offset="0.630" stop-color="#fafdff"/><stop offset="0.640" stop-color="#d6eafb"/><stop offset="0.675" stop-color="#d6eafb"/><stop offset="0.695" stop-color="#f8fbfe"/><stop offset="0.720" stop-color="#c2e1f9"/><stop offset="0.780" stop-color="#c3e2f9"/><stop offset="0.805" stop-color="#fefeff"/><stop offset="0.880" stop-color="#f6b7bd"/><stop offset="0.890" stop-color="#f08892"/><stop offset="0.900" stop-color="#e6505e"/><stop offset="0.940" stop-color="#dc3b47"/><stop offset="0.960" stop-color="#e85b68"/><stop offset="0.965" stop-color="#f18a93"/><stop offset="0.970" stop-color="#f8c8cd"/><stop offset="0.975" stop-color="#fadbdf"/><stop offset="0.980" stop-color="#fffdfd"/><stop offset="0.985" stop-color="#57b4ef"/><stop offset="0.990" stop-color="#1b25bd"/><stop offset="0.995" stop-color="#17209d"/><stop offset="1.000" stop-color="#141c8c"/></linearGradient><linearGradient id="g1_41" x1="0" y1="0" x2="0" y2="1"><stop offset="0.000" stop-color="#fffdfd"/><stop offset="0.200" stop-color="#fcebed"/><stop offset="0.260" stop-color="#fdf1f3"/><stop offset="0.315" stop-color="#fafcfe"/><stop offset="0.340" stop-color="#d0e7fa"/><stop offset="0.405" stop-color="#d4e9fb"/><stop offset="0.430" stop-color="#fafdff"/><stop offset="0.515" stop-color="#fad8dc"/><stop offset="0.565" stop-color="#fad9dd"/><stop offset="0.630" stop-color="#fbfdff"/><stop offset="0.640" stop-color="#d6ebfb"/><stop offset="0.675" stop-color="#d5eafb"/><stop offset="0.695" stop-color="#f5fafe"/><stop offset="0.720" stop-color="#c5e3f9"/><stop offset="0.780" stop-color="#c7e3f9"/><stop offset="0.805" stop-color="#feffff"/><stop offset="0.880" stop-color="#f6b7bd"/><stop offset="0.900" stop-color="#e64e5c"/><stop offset="0.940" stop-color="#db3a45"/><stop offset="0.960" stop-color="#e85967"/><stop offset="0.965" stop-color="#f18992"/><stop offset="0.970" stop-color="#f8c8cd"/><stop offset="0.975" stop-color="#fadbdf"/><stop offset="0.980" stop-color="#fffdfd"/><stop offset="0.985" stop-color="#56b3ef"/><stop offset="0.990" stop-color="#1b25ba"/><stop offset="0.995" stop-color="#17209b"/><stop offset="1.000" stop-color="#141c8b"/></linearGradient><linearGradient id="g1_42" x1="0" y1="0" x2="0" y2="1"><stop offset="0.000" stop-color="#fffdfd"/><stop offset="0.200" stop-color="#fcebed"/><stop offset="0.260" stop-color="#fdf1f3"/><stop offset="0.315" stop-color="#fafcfe"/><stop offset="0.340" stop-color="#cfe7fa"/><stop offset="0.405" stop-color="#d3e9fb"/><stop offset="0.430" stop-color="#fafdff"/><stop offset="0.515" stop-color="#fad8dc"/><stop offset="0.565" stop-color="#fad9dd"/><stop offset="0.630" stop-color="#fbfdff"/><stop offset="0.640" stop-color="#d7ebfb"/><stop offset="0.675" stop-color="#d4e9fb"/><stop offset="0.695" stop-color="#f2f8fe"/><stop offset="0.720" stop-color="#c9e4fa"/><stop offset="0.780" stop-color="#cae5fa"/><stop offset="0.805" stop-color="#feffff"/><stop offset="0.880" stop-color="#f6b7bd"/><stop offset="0.890" stop-color="#f08690"/><stop offset="0.900" stop-color="#e54d5b"/><stop offset="0.940" stop-color="#db3944"/><stop offset="0.960" stop-color="#e85765"/><stop offset="0.965" stop-color="#f08891"/><stop offset="0.970" stop-color="#f8c8cd"/><stop offset="0.975" stop-color="#fadbdf"/><stop offset="0.980" stop-color="#fffdfd"/><stop offset="0.985" stop-color="#55b3ef"/><stop offset="0.990" stop-color="#1b25b8"/><stop offset="1.000" stop-color="#141c89"/></linearGradient><linearGradient id="g1_43" x1="0" y1="0" x2="0" y2="1"><stop offset="0.000" stop-color="#fffdfd"/><stop offset="0.200" stop-color="#fcebed"/><stop offset="0.260" stop-color="#fdf1f3"/><stop offset="0.315" stop-color="#fafcfe"/><stop offset="0.340" stop-color="#cee7fa"/><stop offset="0.405" stop-color="#d2e8fa"/><stop offset="0.430" stop-color="#fafdff"/><stop offset="0.515" stop-color="#fad8dc"/><stop offset="0.565" stop-color="#fad9dd"/><stop offset="0.630" stop-color="#fcfdff"/><stop offset="0.645" stop-color="#cfe7fa"/><stop offset="0.675" stop-color="#d3e9fb"/><stop offset="0.695" stop-color="#eff7fd"/><stop offset="0.720" stop-color="#cce5fa"/><stop offset="0.780" stop-color="#cee6fa"/><stop offset="0.805" stop-color="#ffffff"/><stop offset="0.880" stop-color="#f6b7bd"/><stop offset="0.900" stop-color="#e54c59"/><stop offset="0.940" stop-color="#da3842"/><stop offset="0.960" stop-color="#e75563"/><stop offset="0.965" stop-color="#f08790"/><stop offset="0.970" stop-color="#f8c8cd"/><stop offset="0.975" stop-color="#fadbdf"/><stop offset="0.980" stop-color="#fffdfd"/><stop offset="0.985" stop-color="#54b2ef"/><stop offset="0.990" stop-color="#1a24b6"/><stop offset="1.000" stop-color="#141b87"/></linearGradient><linearGradient id="g1_44" x1="0" y1="0" x2="0" y2="1"><stop offset="0.000" stop-color="#fffdfd"/><stop offset="0.200" stop-color="#fcebed"/><stop offset="0.260" stop-color="#fdf1f3"/><stop offset="0.315" stop-color="#fafcfe"/><stop offset="0.340" stop-color="#cde6fa"/><stop offset="0.405" stop-color="#d1e8fa"/><stop offset="0.430" stop-color="#fafdff"/><stop offset="0.515" stop-color="#fad8dc"/><stop offset="0.565" stop-color="#fad9dd"/><stop offset="0.630" stop-color="#fcfeff"/><stop offset="0.645" stop-color="#cfe7fa"/><stop offset="0.675" stop-color="#d2e9fb"/><stop offset="0.695" stop-color="#ecf5fd"/><stop offset="0.725" stop-color="#cee7fa"/><stop offset="0.780" stop-color="#d0e8fa"/><stop offset="0.805" stop-color="#ffffff"/><stop offset="0.880" stop-color="#f6b7bd"/><stop offset="0.890" stop-color="#f0848e"/><stop offset="0.900" stop-color="#e44b58"/><stop offset="0.940" stop-color="#d93641"/><stop offset="0.960" stop-color="#e75361"/><stop offset="0.965" stop-color="#f0858f"/><stop offset="0.970" stop-color="#f8c8cd"/><stop offset="0.975" stop-color="#fadbdf"/><stop offset="0.980" stop-color="#fffdfd"/><stop offset="0.985" stop-color="#53b2ef"/><stop offset="0.990" stop-color="#1a24b3"/><stop offset="1.000" stop-color="#131b86"/></linearGradient><linearGradient id="g1_45" x1="0" y1="0" x2="0" y2="1"><stop offset="0.000" stop-color="#fffdfd"/><stop offset="0.200" stop-color="#fcebed"/><stop offset="0.260" stop-color="#fdf1f3"/><stop offset="0.315" stop-color="#fafdff"/><stop offset="0.340" stop-color="#cde6fa"/><stop offset="0.405" stop-color="#d0e7fa"/><stop offset="0.430" stop-color="#fafcfe"/><stop offset="0.515" stop-color="#fad8dc"/><stop offset="0.565" stop-color="#fad9dd"/><stop offset="0.630" stop-color="#fdfeff"/><stop offset="0.645" stop-color="#cfe7fa"/><stop offset="0.680" stop-color="#d7ebfb"/><stop offset="0.700" stop-color="#e7f3fd"/><stop offset="0.725" stop-color="#d1e8fa"/><stop offset="0.780" stop-color="#d3e9fb"/><stop offset="0.805" stop-color="#ffffff"/><stop offset="0.880" stop-color="#f6b7bd"/><stop offset="0.890" stop-color="#f0848e"/><stop offset="0.900" stop-color="#e44a58"/><stop offset="0.940" stop-color="#d93640"/><stop offset="0.960" stop-color="#e75360"/><stop offset="0.965" stop-color="#f0858f"/><stop offset="0.970" stop-color="#f8c8cd"/><stop offset="0.975" stop-color="#fadbdf"/><stop offset="0.980" stop-color="#fffdfd"/><stop offset="0.985" stop-color="#52b2ef"/><stop offset="0.990" stop-color="#1a24b1"/><stop offset="1.000" stop-color="#131b84"/></linearGradient><linearGradient id="g1_46" x1="0" y1="0" x2="0" y2="1"><stop offset="0.000" stop-color="#fffdfd"/><stop offset="0.200" stop-color="#fcebed"/><stop offset="0.260" stop-color="#fdf1f3"/><stop offset="0.315" stop-color="#fafdff"/><stop offset="0.340" stop-color="#cde6fa"/><stop offset="0.405" stop-color="#d0e7fa"/><stop offset="0.430" stop-color="#fafcfe"/><stop offset="0.515" stop-color="#fad8dc"/><stop offset="0.565" stop-color="#fad9dd"/><stop offset="0.630" stop-color="#fefeff"/><stop offset="0.645" stop-color="#cfe7fa"/><stop offset="0.680" stop-color="#d5eafb"/><stop offset="0.700" stop-color="#e4f2fc"/><stop offset="0.730" stop-color="#d3e9fb"/><stop offset="0.780" stop-color="#d6eafb"/><stop offset="0.805" stop-color="#ffffff"/><stop offset="0.880" stop-color="#f6b7bd"/><stop offset="0.890" stop-color="#f0848e"/><stop offset="0.900" stop-color="#e44b58"/><stop offset="0.940" stop-color="#d93641"/><stop offset="0.960" stop-color="#e75361"/><stop offset="0.965" stop-color="#f0858f"/><stop offset="0.970" stop-color="#f8c8cd"/><stop offset="0.975" stop-color="#fadbdf"/><stop offset="0.980" stop-color="#fffdfd"/><stop offset="0.985" stop-color="#50b1ee"/><stop offset="0.990" stop-color="#1923ae"/><stop offset="1.000" stop-color="#131a83"/></linearGradient><linearGradient id="g1_47" x1="0" y1="0" x2="0" y2="1"><stop offset="0.000" stop-color="#fffdfd"/><stop offset="0.200" stop-color="#fcebed"/><stop offset="0.260" stop-color="#fdf1f3"/><stop offset="0.315" stop-color="#fafdff"/><stop offset="0.340" stop-color="#cde6fa"/><stop offset="0.405" stop-color="#cfe7fa"/><stop offset="0.430" stop-color="#fafcfe"/><stop offset="0.515" stop-color="#fad8dc"/><stop offset="0.565" stop-color="#fad9dd"/><stop offset="0.630" stop-color="#ffffff"/><stop offset="0.645" stop-color="#cfe7fa"/><stop offset="0.680" stop-color="#d4e9fb"/><stop offset="0.700" stop-color="#e2f0fc"/><stop offset="0.745" stop-color="#d6eafb"/><stop offset="0.780" stop-color="#d8ecfb"/><stop offset="0.805" stop-color="#ffffff"/><stop offset="0.880" stop-color="#f6b7bd"/><stop offset="0.890" stop-color="#f0848e"/><stop offset="0.900" stop-color="#e44b58"/><stop offset="0.940" stop-color="#d93641"/><stop offset="0.960" stop-color="#e75361"/><stop offset="0.965" stop-color="#f0868f"/><stop offset="0.970" stop-color="#f8c8cd"/><stop offset="0.975" stop-color="#fadbdf"/><stop offset="0.980" stop-color="#fffdfd"/><stop offset="0.985" stop-color="#4fb1ee"/><stop offset="0.990" stop-color="#1923ac"/><stop offset="1.000" stop-color="#131a81"/></linearGradient><linearGradient id="g1_48" x1="0" y1="0" x2="0" y2="1"><stop offset="0.000" stop-color="#fffdfd"/><stop offset="0.200" stop-color="#fcebed"/><stop offset="0.260" stop-color="#fdf1f3"/><stop offset="0.315" stop-color="#fafdff"/><stop offset="0.340" stop-color="#cce6fa"/><stop offset="0.405" stop-color="#cfe7fa"/><stop offset="0.430" stop-color="#fafcfe"/><stop offset="0.515" stop-color="#fad8dc"/><stop offset="0.565" stop-color="#fad9dd"/><stop offset="0.630" stop-color="#ffffff"/><stop offset="0.645" stop-color="#cfe7fa"/><stop offset="0.685" stop-color="#d8ebfb"/><stop offset="0.710" stop-color="#dbedfb"/><stop offset="0.780" stop-color="#daecfb"/><stop offset="0.805" stop-color="#ffffff"/><stop offset="0.880" stop-color="#f6b7bd"/><stop offset="0.890" stop-color="#f0848e"/><stop offset="0.900" stop-color="#e44b59"/><stop offset="0.940" stop-color="#d93741"/><stop offset="0.960" stop-color="#e75461"/><stop offset="0.965" stop-color="#f08690"/><stop offset="0.970" stop-color="#f8c8cd"/><stop offset="0.975" stop-color="#fadbdf"/><stop offset="0.980" stop-color="#fffdfd"/><stop offset="0.985" stop-color="#4eb0ee"/><stop offset="0.990" stop-color="#1923aa"/><stop offset="1.000" stop-color="#121a7f"/></linearGradient><linearGradient id="g1_49" x1="0" y1="0" x2="0" y2="1"><stop offset="0.000" stop-color="#fffdfd"/><stop offset="0.200" stop-color="#fcebed"/><stop offset="0.260" stop-color="#fdf1f3"/><stop offset="0.320" stop-color="#f7fbfe"/><stop offset="0.340" stop-color="#cce6fa"/><stop offset="0.405" stop-color="#cfe7fa"/><stop offset="0.430" stop-color="#fafcfe"/><stop offset="0.515" stop-color="#fad8dc"/><stop offset="0.565" stop-color="#fad9dd"/><stop offset="0.630" stop-color="#ffffff"/><stop offset="0.645" stop-color="#d0e8fa"/><stop offset="0.680" stop-color="#d1e8fa"/><stop offset="0.700" stop-color="#e0effc"/><stop offset="0.775" stop-color="#d7ebfb"/><stop offset="0.805" stop-color="#ffffff"/><stop offset="0.880" stop-color="#f6b7bd"/><stop offset="0.890" stop-color="#f0858f"/><stop offset="0.900" stop-color="#e44b59"/><stop offset="0.940" stop-color="#da3742"/><stop offset="0.960" stop-color="#e75462"/><stop offset="0.965" stop-color="#f08690"/><stop offset="0.970" stop-color="#f8c8cd"/><stop offset="0.975" stop-color="#fadbdf"/><stop offset="0.980" stop-color="#fffdfd"/><stop offset="0.985" stop-color="#4db0ee"/><stop offset="0.990" stop-color="#1822a7"/><stop offset="1.000" stop-color="#12197e"/></linearGradient><linearGradient id="g1_50" x1="0" y1="0" x2="0" y2="1"><stop offset="0.000" stop-color="#fffdfd"/><stop offset="0.200" stop-color="#fcebed"/><stop offset="0.260" stop-color="#fdf1f3"/><stop offset="0.320" stop-color="#f7fbfe"/><stop offset="0.340" stop-color="#cce6fa"/><stop offset="0.405" stop-color="#cfe7fa"/><stop offset="0.430" stop-color="#fafcfe"/><stop offset="0.515" stop-color="#fad8dc"/><stop offset="0.565" stop-color="#fad9dd"/><stop offset="0.630" stop-color="#ffffff"/><stop offset="0.640" stop-color="#e3f1fc"/><stop offset="0.650" stop-color="#cde6fa"/><stop offset="0.685" stop-color="#d6eafb"/><stop offset="0.710" stop-color="#dbedfb"/><stop offset="0.780" stop-color="#dbedfb"/><stop offset="0.805" stop-color="#ffffff"/><stop offset="0.880" stop-color="#f6b7bd"/><stop offset="0.890" stop-color="#f0858f"/><stop offset="0.900" stop-color="#e54b59"/><stop offset="0.940" stop-color="#da3742"/><stop offset="0.960" stop-color="#e75562"/><stop offset="0.965" stop-color="#f08690"/><stop offset="0.970" stop-color="#f8c8cd"/><stop offset="0.975" stop-color="#fadbdf"/><stop offset="0.980" stop-color="#fffdfd"/><stop offset="0.985" stop-color="#4db0ee"/><stop offset="0.990" stop-color="#1822a7"/><stop offset="1.000" stop-color="#12197d"/></linearGradient><linearGradient id="g1_51" x1="0" y1="0" x2="0" y2="1"><stop offset="0.000" stop-color="#fffdfd"/><stop offset="0.200" stop-color="#fcebed"/><stop offset="0.260" stop-color="#fdf1f3"/><stop offset="0.320" stop-color="#f7fbfe"/><stop offset="0.340" stop-color="#cce6fa"/><stop offset="0.405" stop-color="#cee7fa"/><stop offset="0.430" stop-color="#fafcfe"/><stop offset="0.515" stop-color="#fad8dc"/><stop offset="0.565" stop-color="#fad9dd"/><stop offset="0.635" stop-color="#f9fcfe"/><stop offset="0.645" stop-color="#d2e9fb"/><stop offset="0.680" stop-color="#d0e7fa"/><stop offset="0.705" stop-color="#ddeefc"/><stop offset="0.780" stop-color="#dcedfb"/><stop offset="0.805" stop-color="#ffffff"/><stop offset="0.880" stop-color="#f6b7bd"/><stop offset="0.900" stop-color="#e54c59"/><stop offset="0.940" stop-color="#da3742"/><stop offset="0.960" stop-color="#e75563"/><stop offset="0.965" stop-color="#f08690"/><stop offset="0.970" stop-color="#f8c8cd"/><stop offset="0.975" stop-color="#fadbdf"/><stop offset="0.980" stop-color="#fffdfd"/><stop offset="0.985" stop-color="#4db0ee"/><stop offset="0.990" stop-color="#1822a8"/><stop offset="1.000" stop-color="#12197e"/></linearGradient><linearGradient id="g1_52" x1="0" y1="0" x2="0" y2="1"><stop offset="0.000" stop-color="#fffdfd"/><stop offset="0.200" stop-color="#fcebed"/><stop offset="0.260" stop-color="#fdf1f3"/><stop offset="0.320" stop-color="#f7fbfe"/><stop offset="0.340" stop-color="#cce6fa"/><stop offset="0.405" stop-color="#cee7fa"/><stop offset="0.430" stop-color="#fafcfe"/><stop offset="0.515" stop-color="#fad8dc"/><stop offset="0.565" stop-color="#fad9dd"/><stop offset="0.635" stop-color="#fbfdff"/><stop offset="0.645" stop-color="#d4e9fb"/><stop offset="0.685" stop-color="#d4e9fb"/><stop offset="0.710" stop-color="#daedfb"/><stop offset="0.780" stop-color="#ddeefc"/><stop offset="0.800" stop-color="#feffff"/><stop offset="0.860" stop-color="#f8cacf"/><stop offset="0.880" stop-color="#f6b7bd"/><stop offset="0.890" stop-color="#f0858f"/><stop offset="0.900" stop-color="#e54c5a"/><stop offset="0.940" stop-color="#da3843"/><stop offset="0.960" stop-color="#e75663"/><stop offset="0.965" stop-color="#f08790"/><stop offset="0.970" stop-color="#f8c8cd"/><stop offset="0.975" stop-color="#fadbdf"/><stop offset="0.980" stop-color="#fffdfd"/><stop offset="0.985" stop-color="#4eb0ee"/><stop offset="0.990" stop-color="#1923a9"/><stop offset="1.000" stop-color="#12197f"/></linearGradient><linearGradient id="g1_53" x1="0" y1="0" x2="0" y2="1"><stop offset="0.000" stop-color="#fffdfd"/><stop offset="0.200" stop-color="#fcebed"/><stop offset="0.260" stop-color="#fdf1f3"/><stop offset="0.320" stop-color="#f7fbfe"/><stop offset="0.340" stop-color="#cce5fa"/><stop offset="0.405" stop-color="#cee6fa"/><stop offset="0.430" stop-color="#fafcfe"/><stop offset="0.515" stop-color="#fad8dc"/><stop offset="0.565" stop-color="#fad9dd"/><stop offset="0.635" stop-color="#fcfeff"/><stop offset="0.650" stop-color="#cce6fa"/><stop offset="0.685" stop-color="#d2e9fb"/><stop offset="0.710" stop-color="#daecfb"/><stop offset="0.780" stop-color="#deeefc"/><stop offset="0.800" stop-color="#ffffff"/><stop offset="0.860" stop-color="#f8cacf"/><stop offset="0.880" stop-color="#f6b7bd"/><stop offset="0.890" stop-color="#f0858f"/><stop offset="0.900" stop-color="#e54c5a"/><stop offset="0.940" stop-color="#da3843"/><stop offset="0.960" stop-color="#e75663"/><stop offset="0.965" stop-color="#f08791"/><stop offset="0.970" stop-color="#f8c8cd"/><stop offset="0.975" stop-color="#fadbdf"/><stop offset="0.980" stop-color="#fffdfd"/><stop offset="0.985" stop-color="#4eb0ee"/><stop offset="0.990" stop-color="#1923aa"/><stop offset="1.000" stop-color="#121a7f"/></linearGradient><linearGradient id="g1_54" x1="0" y1="0" x2="0" y2="1"><stop offset="0.000" stop-color="#fffdfd"/><stop offset="0.200" stop-color="#fcebed"/><stop offset="0.260" stop-color="#fdf1f3"/><stop offset="0.320" stop-color="#f7fbfe"/><stop offset="0.340" stop-color="#cce5fa"/><stop offset="0.405" stop-color="#cee6fa"/><stop offset="0.430" stop-color="#fafcfe"/><stop offset="0.515" stop-color="#fad8dc"/><stop offset="0.565" stop-color="#fad9dd"/><stop offset="0.635" stop-color="#fdfeff"/><stop offset="0.650" stop-color="#cce6fa"/><stop offset="0.690" stop-color="#d7ebfb"/><stop offset="0.780" stop-color="#deeffc"/><stop offset="0.800" stop-color="#ffffff"/><stop offset="0.860" stop-color="#f8cacf"/><stop offset="0.880" stop-color="#f6b7bd"/><stop offset="0.890" stop-color="#f08690"/><stop offset="0.900" stop-color="#e54c5a"/><stop offset="0.940" stop-color="#da3843"/><stop offset="0.960" stop-color="#e85664"/><stop offset="0.965" stop-color="#f08791"/><stop offset="0.970" stop-color="#f8c8cd"/><stop offset="0.975" stop-color="#fadbdf"/><stop offset="0.980" stop-color="#fffdfd"/><stop offset="0.985" stop-color="#4fb0ee"/><stop offset="0.990" stop-color="#1923ab"/><stop offset="1.000" stop-color="#121a80"/></linearGradient><linearGradient id="g1_55" x1="0" y1="0" x2="0" y2="1"><stop offset="0.000" stop-color="#fffdfd"/><stop offset="0.200" stop-color="#fcebed"/><stop offset="0.260" stop-color="#fdf1f3"/><stop offset="0.320" stop-color="#f8fbfe"/><stop offset="0.340" stop-color="#cce5fa"/><stop offset="0.405" stop-color="#cde6fa"/><stop offset="0.430" stop-color="#fafcfe"/><stop offset="0.515" stop-color="#fad8dc"/><stop offset="0.565" stop-color="#fad9dd"/><stop offset="0.635" stop-color="#fefeff"/><stop offset="0.650" stop-color="#cce6fa"/><stop offset="0.690" stop-color="#d5eafb"/><stop offset="0.780" stop-color="#dfeffc"/><stop offset="0.800" stop-color="#ffffff"/><stop offset="0.860" stop-color="#f8cacf"/><stop offset="0.880" stop-color="#f6b7bd"/><stop offset="0.890" stop-color="#f08690"/><stop offset="0.900" stop-color="#e54d5a"/><stop offset="0.940" stop-color="#db3943"/><stop offset="0.960" stop-color="#e85764"/><stop offset="0.965" stop-color="#f08791"/><stop offset="0.970" stop-color="#f8c8cd"/><stop offset="0.975" stop-color="#fadbdf"/><stop offset="0.980" stop-color="#fffdfd"/><stop offset="0.985" stop-color="#4fb1ee"/><stop offset="0.990" stop-color="#1923ac"/><stop offset="1.000" stop-color="#131a81"/></linearGradient><linearGradient id="g1_56" x1="0" y1="0" x2="0" y2="1"><stop offset="0.000" stop-color="#fffdfd"/><stop offset="0.200" stop-color="#fcebed"/><stop offset="0.260" stop-color="#fdf1f3"/><stop offset="0.320" stop-color="#f8fbfe"/><stop offset="0.340" stop-color="#cce5fa"/><stop offset="0.405" stop-color="#cde6fa"/><stop offset="0.430" stop-color="#fafcfe"/><stop offset="0.515" stop-color="#fad8dc"/><stop offset="0.565" stop-color="#fad9dd"/><stop offset="0.635" stop-color="#ffffff"/><stop offset="0.650" stop-color="#cce6fa"/><stop offset="0.690" stop-color="#d4eafb"/><stop offset="0.775" stop-color="#d9ecfb"/><stop offset="0.800" stop-color="#ffffff"/><stop offset="0.860" stop-color="#f8cacf"/><stop offset="0.880" stop-color="#f6b7bd"/><stop offset="0.890" stop-color="#f08690"/><stop offset="0.900" stop-color="#e54d5b"/><stop offset="0.940" stop-color="#db3944"/><stop offset="0.960" stop-color="#e85765"/><stop offset="0.965" stop-color="#f08891"/><stop offset="0.970" stop-color="#f8c8cd"/><stop offset="0.975" stop-color="#fadbdf"/><stop offset="0.980" stop-color="#fffdfd"/><stop offset="0.985" stop-color="#50b1ee"/><stop offset="0.990" stop-color="#1923ad"/><stop offset="1.000" stop-color="#131a81"/></linearGradient><linearGradient id="g1_57" x1="0" y1="0" x2="0" y2="1"><stop offset="0.000" stop-color="#fffdfd"/><stop offset="0.200" stop-color="#fcebed"/><stop offset="0.260" stop-color="#fdf1f3"/><stop offset="0.320" stop-color="#f8fbfe"/><stop offset="0.340" stop-color="#cce5fa"/><stop offset="0.405" stop-color="#cde6fa"/><stop offset="0.430" stop-color="#fafcfe"/><stop offset="0.515" stop-color="#fad8dc"/><stop offset="0.565" stop-color="#fad9dd"/><stop offset="0.635" stop-color="#ffffff"/><stop offset="0.650" stop-color="#cde6fa"/><stop offset="0.690" stop-color="#d3e9fb"/><stop offset="0.775" stop-color="#daecfb"/><stop offset="0.800" stop-color="#ffffff"/><stop offset="0.860" stop-color="#f8cacf"/><stop offset="0.880" stop-color="#f6b7bd"/><stop offset="0.890" stop-color="#f08690"/><stop offset="0.900" stop-color="#e54d5b"/><stop offset="0.940" stop-color="#db3944"/><stop offset="0.960" stop-color="#e85865"/><stop offset="0.965" stop-color="#f08892"/><stop offset="0.970" stop-color="#f8c8cd"/><stop offset="0.975" stop-color="#fadbdf"/><stop offset="0.980" stop-color="#fffdfd"/><stop offset="0.985" stop-color="#50b1ee"/><stop offset="0.990" stop-color="#1923ae"/><stop offset="1.000" stop-color="#131a82"/></linearGradient><linearGradient id="g1_58" x1="0" y1="0" x2="0" y2="1"><stop offset="0.000" stop-color="#fffdfd"/><stop offset="0.200" stop-color="#fcebed"/><stop offset="0.260" stop-color="#fdf1f3"/><stop offset="0.320" stop-color="#f8fcfe"/><stop offset="0.340" stop-color="#cbe5fa"/><stop offset="0.405" stop-color="#cde6fa"/><stop offset="0.430" stop-color="#fafcfe"/><stop offset="0.515" stop-color="#fad8dc"/><stop offset="0.565" stop-color="#fad9dd"/><stop offset="0.635" stop-color="#ffffff"/><stop offset="0.645" stop-color="#e0effc"/><stop offset="0.655" stop-color="#cae5fa"/><stop offset="0.690" stop-color="#d2e9fb"/><stop offset="0.740" stop-color="#d7ebfb"/><stop offset="0.775" stop-color="#daedfb"/><stop offset="0.800" stop-color="#ffffff"/><stop offset="0.860" stop-color="#f8cacf"/><stop offset="0.880" stop-color="#f6b7bd"/><stop offset="0.890" stop-color="#f08690"/><stop offset="0.900" stop-color="#e64d5b"/><stop offset="0.940" stop-color="#db3944"/><stop offset="0.960" stop-color="#e85865"/><stop offset="0.965" stop-color="#f08892"/><stop offset="0.970" stop-color="#f8c8cd"/><stop offset="0.975" stop-color="#fadbdf"/><stop offset="0.980" stop-color="#fffdfd"/><stop offset="0.985" stop-color="#51b1ee"/><stop offset="0.990" stop-color="#1923af"/><stop offset="1.000" stop-color="#131a83"/></linearGradient><linearGradient id="g1_59" x1="0" y1="0" x2="0" y2="1"><stop offset="0.000" stop-color="#fffdfd"/><stop offset="0.200" stop-color="#fcebed"/><stop offset="0.260" stop-color="#fdf1f3"/><stop offset="0.320" stop-color="#f8fcfe"/><stop offset="0.340" stop-color="#cbe5fa"/><stop offset="0.410" stop-color="#d3e9fb"/><stop offset="0.430" stop-color="#fafcfe"/><stop offset="0.515" stop-color="#fad8dc"/><stop offset="0.565" stop-color="#fad9dd"/><stop offset="0.635" stop-color="#ffffff"/><stop offset="0.645" stop-color="#e2f1fc"/><stop offset="0.655" stop-color="#cae5fa"/><stop offset="0.690" stop-color="#d1e8fa"/><stop offset="0.750" stop-color="#d7ebfb"/><stop offset="0.775" stop-color="#dbedfb"/><stop offset="0.800" stop-color="#ffffff"/><stop offset="0.860" stop-color="#f8cacf"/><stop offset="0.880" stop-color="#f6b7bd"/><stop offset="0.900" stop-color="#e64d5b"/><stop offset="0.940" stop-color="#db3a45"/><stop offset="0.960" stop-color="#e85966"/><stop offset="0.965" stop-color="#f08892"/><stop offset="0.970" stop-color="#f8c8cd"/><stop offset="0.975" stop-color="#fadbdf"/><stop offset="0.980" stop-color="#fffdfd"/><stop offset="0.985" stop-color="#51b1ee"/><stop offset="0.990" stop-color="#1a24b0"/><stop offset="1.000" stop-color="#131a84"/></linearGradient><linearGradient id="g1_60" x1="0" y1="0" x2="0" y2="1"><stop offset="0.000" stop-color="#fffdfd"/><stop offset="0.200" stop-color="#fcebed"/><stop offset="0.260" stop-color="#fdf1f3"/><stop offset="0.320" stop-color="#f8fcfe"/><stop offset="0.340" stop-color="#cbe5fa"/><stop offset="0.405" stop-color="#cce6fa"/><stop offset="0.430" stop-color="#fafcfe"/><stop offset="0.515" stop-color="#fad8dc"/><stop offset="0.565" stop-color="#fad9dd"/><stop offset="0.640" stop-color="#f9fcfe"/><stop offset="0.650" stop-color="#d0e8fa"/><stop offset="0.690" stop-color="#d0e8fa"/><stop offset="0.740" stop-color="#d7ebfb"/><stop offset="0.775" stop-color="#dcedfb"/><stop offset="0.800" stop-color="#ffffff"/><stop offset="0.860" stop-color="#f8cacf"/><stop offset="0.880" stop-color="#f6b7bd"/><stop offset="0.900" stop-color="#e64e5c"/><stop offset="0.940" stop-color="#db3a45"/><stop offset="0.960" stop-color="#e85966"/><stop offset="0.965" stop-color="#f18992"/><stop offset="0.970" stop-color="#f8c8cd"/><stop offset="0.975" stop-color="#fadbdf"/><stop offset="0.980" stop-color="#fffdfd"/><stop offset="0.985" stop-color="#52b2ef"/><stop offset="0.990" stop-color="#1a24b1"/><stop offset="1.000" stop-color="#131b84"/></linearGradient><linearGradient id="g1_61" x1="0" y1="0" x2="0" y2="1"><stop offset="0.000" stop-color="#fffdfd"/><stop offset="0.200" stop-color="#fcebed"/><stop offset="0.260" stop-color="#fdf1f3"/><stop offset="0.320" stop-color="#f8fcfe"/><stop offset="0.340" stop-color="#cbe5fa"/><stop offset="0.405" stop-color="#cce5fa"/><stop offset="0.430" stop-color="#f9fcfe"/><stop offset="0.515" stop-color="#fad8dc"/><stop offset="0.565" stop-color="#fad9dd"/><stop offset="0.640" stop-color="#fbfdff"/><stop offset="0.650" stop-color="#d1e8fa"/><stop offset="0.680" stop-color="#c9e4fa"/><stop offset="0.720" stop-color="#d7ebfb"/><stop offset="0.775" stop-color="#ddeefc"/><stop offset="0.795" stop-color="#feffff"/><stop offset="0.855" stop-color="#f9d2d6"/><stop offset="0.880" stop-color="#f6b7bd"/><stop offset="0.900" stop-color="#e64e5c"/><stop offset="0.940" stop-color="#db3a45"/><stop offset="0.960" stop-color="#e85967"/><stop offset="0.965" stop-color="#f18992"/><stop offset="0.970" stop-color="#f8c8cd"/><stop offset="0.975" stop-color="#fadbdf"/><stop offset="0.980" stop-color="#fffdfd"/><stop offset="0.985" stop-color="#52b2ef"/><stop offset="0.990" stop-color="#1a24b2"/><stop offset="1.000" stop-color="#131b85"/></linearGradient><linearGradient id="g1_62" x1="0" y1="0" x2="0" y2="1"><stop offset="0.000" stop-color="#fffdfd"/><stop offset="0.200" stop-color="#fcebed"/><stop offset="0.260" stop-color="#fdf1f3"/><stop offset="0.320" stop-color="#f9fcfe"/><stop offset="0.340" stop-color="#cbe5fa"/><stop offset="0.410" stop-color="#d2e9fb"/><stop offset="0.430" stop-color="#f9fcfe"/><stop offset="0.515" stop-color="#fad8dc"/><stop offset="0.565" stop-color="#fad9dd"/><stop offset="0.640" stop-color="#fcfeff"/><stop offset="0.655" stop-color="#c9e4fa"/><stop offset="0.695" stop-color="#d3e9fb"/><stop offset="0.775" stop-color="#ddeefc"/><stop offset="0.795" stop-color="#feffff"/><stop offset="0.855" stop-color="#f9d2d6"/><stop offset="0.880" stop-color="#f6b7bd"/><stop offset="0.890" stop-color="#f08791"/><stop offset="0.900" stop-color="#e64e5c"/><stop offset="0.940" stop-color="#dc3a46"/><stop offset="0.960" stop-color="#e85a67"/><stop offset="0.965" stop-color="#f18993"/><stop offset="0.970" stop-color="#f8c8cd"/><stop offset="0.975" stop-color="#fadbdf"/><stop offset="0.980" stop-color="#fffdfd"/><stop offset="0.985" stop-color="#53b2ef"/><stop offset="0.990" stop-color="#1a24b3"/><stop offset="1.000" stop-color="#131b86"/></linearGradient><linearGradient id="g1_63" x1="0" y1="0" x2="0" y2="1"><stop offset="0.000" stop-color="#fffdfd"/><stop offset="0.200" stop-color="#fcebed"/><stop offset="0.260" stop-color="#fdf1f3"/><stop offset="0.320" stop-color="#f9fcfe"/><stop offset="0.340" stop-color="#cbe5fa"/><stop offset="0.410" stop-color="#d2e8fa"/><stop offset="0.430" stop-color="#f9fcfe"/><stop offset="0.515" stop-color="#fad8dc"/><stop offset="0.565" stop-color="#fad9dd"/><stop offset="0.640" stop-color="#fdfeff"/><stop offset="0.655" stop-color="#c8e4fa"/><stop offset="0.695" stop-color="#d2e8fa"/><stop offset="0.775" stop-color="#deeffc"/><stop offset="0.795" stop-color="#ffffff"/><stop offset="0.855" stop-color="#f9d2d6"/><stop offset="0.880" stop-color="#f6b7bd"/><stop offset="0.890" stop-color="#f08791"/><stop offset="0.900" stop-color="#e64f5d"/><stop offset="0.940" stop-color="#dc3b46"/><stop offset="0.960" stop-color="#e85a67"/><stop offset="0.965" stop-color="#f18993"/><stop offset="0.970" stop-color="#f8c8cd"/><stop offset="0.975" stop-color="#fadbdf"/><stop offset="0.980" stop-color="#fffdfd"/><stop offset="0.985" stop-color="#53b2ef"/><stop offset="0.990" stop-color="#1a24b4"/><stop offset="1.000" stop-color="#131b86"/></linearGradient><linearGradient id="g1_64" x1="0" y1="0" x2="0" y2="1"><stop offset="0.000" stop-color="#fffdfd"/><stop offset="0.200" stop-color="#fcebed"/><stop offset="0.260" stop-color="#fdf1f3"/><stop offset="0.320" stop-color="#f9fcfe"/><stop offset="0.340" stop-color="#cbe5fa"/><stop offset="0.410" stop-color="#d2e8fa"/><stop offset="0.430" stop-color="#f9fcfe"/><stop offset="0.515" stop-color="#fad8dc"/><stop offset="0.565" stop-color="#fad9dd"/><stop offset="0.640" stop-color="#fefeff"/><stop offset="0.655" stop-color="#c9e4fa"/><stop offset="0.695" stop-color="#d1e8fa"/><stop offset="0.775" stop-color="#dfeffc"/><stop offset="0.795" stop-color="#ffffff"/><stop offset="0.855" stop-color="#f9d2d6"/><stop offset="0.880" stop-color="#f6b7bd"/><stop offset="0.890" stop-color="#f08891"/><stop offset="0.900" stop-color="#e64f5d"/><stop offset="0.940" stop-color="#dc3b46"/><stop offset="0.960" stop-color="#e85b68"/><stop offset="0.965" stop-color="#f18a93"/><stop offset="0.970" stop-color="#f8c8cd"/><stop offset="0.975" stop-color="#fadbdf"/><stop offset="0.980" stop-color="#fffdfd"/><stop offset="0.985" stop-color="#53b2ef"/><stop offset="0.990" stop-color="#1a24b5"/><stop offset="1.000" stop-color="#131b87"/></linearGradient><linearGradient id="g1_65" x1="0" y1="0" x2="0" y2="1"><stop offset="0.000" stop-color="#fffdfd"/><stop offset="0.200" stop-color="#fcebed"/><stop offset="0.260" stop-color="#fdf1f3"/><stop offset="0.320" stop-color="#f9fcfe"/><stop offset="0.340" stop-color="#cbe5fa"/><stop offset="0.410" stop-color="#d1e8fa"/><stop offset="0.430" stop-color="#f9fcfe"/><stop offset="0.515" stop-color="#fad8dc"/><stop offset="0.565" stop-color="#fad9dd"/><stop offset="0.640" stop-color="#ffffff"/><stop offset="0.655" stop-color="#c9e4fa"/><stop offset="0.695" stop-color="#d0e7fa"/><stop offset="0.775" stop-color="#e0f0fc"/><stop offset="0.795" stop-color="#ffffff"/><stop offset="0.855" stop-color="#f9d2d6"/><stop offset="0.880" stop-color="#f6b7bd"/><stop offset="0.890" stop-color="#f08892"/><stop offset="0.900" stop-color="#e6505e"/><stop offset="0.940" stop-color="#dc3b47"/><stop offset="0.960" stop-color="#e85b68"/><stop offset="0.965" stop-color="#f18a93"/><stop offset="0.970" stop-color="#f8c8cd"/><stop offset="0.975" stop-color="#fadbdf"/><stop offset="0.980" stop-color="#fffdfd"/><stop offset="0.985" stop-color="#54b2ef"/><stop offset="0.990" stop-color="#1a24b6"/><stop offset="1.000" stop-color="#141b88"/></linearGradient><linearGradient id="g1_66" x1="0" y1="0" x2="0" y2="1"><stop offset="0.000" stop-color="#fffdfd"/><stop offset="0.200" stop-color="#fcebed"/><stop offset="0.260" stop-color="#fdf1f3"/><stop offset="0.320" stop-color="#f9fcfe"/><stop offset="0.340" stop-color="#cbe5fa"/><stop offset="0.410" stop-color="#d1e8fa"/><stop offset="0.430" stop-color="#f9fcfe"/><stop offset="0.515" stop-color="#fad8dc"/><stop offset="0.565" stop-color="#fad9dd"/><stop offset="0.640" stop-color="#ffffff"/><stop offset="0.655" stop-color="#cae4fa"/><stop offset="0.695" stop-color="#cfe7fa"/><stop offset="0.770" stop-color="#daecfb"/><stop offset="0.795" stop-color="#ffffff"/><stop offset="0.855" stop-color="#f9d2d6"/><stop offset="0.880" stop-color="#f6b8bd"/><stop offset="0.900" stop-color="#e6505e"/><stop offset="0.940" stop-color="#dc3c47"/><stop offset="0.960" stop-color="#e95c69"/><stop offset="0.965" stop-color="#f18a94"/><stop offset="0.970" stop-color="#f8c8cd"/><stop offset="0.975" stop-color="#fadbdf"/><stop offset="0.980" stop-color="#fffdfd"/><stop offset="0.985" stop-color="#54b3ef"/><stop offset="0.990" stop-color="#1b25b7"/><stop offset="1.000" stop-color="#141c88"/></linearGradient><linearGradient id="g1_67" x1="0" y1="0" x2="0" y2="1"><stop offset="0.000" stop-color="#fffdfd"/><stop offset="0.200" stop-color="#fcebed"/><stop offset="0.260" stop-color="#fdf1f3"/><stop offset="0.320" stop-color="#f9fcfe"/><stop offset="0.340" stop-color="#cbe5fa"/><stop offset="0.405" stop-color="#cae5fa"/><stop offset="0.430" stop-color="#f9fcfe"/><stop offset="0.515" stop-color="#fad8dc"/><stop offset="0.565" stop-color="#fad9dd"/><stop offset="0.640" stop-color="#ffffff"/><stop offset="0.650" stop-color="#deeffc"/><stop offset="0.655" stop-color="#cbe5fa"/><stop offset="0.695" stop-color="#cee6fa"/><stop offset="0.770" stop-color="#daedfb"/><stop offset="0.795" stop-color="#ffffff"/><stop offset="0.855" stop-color="#f9d2d6"/><stop offset="0.880" stop-color="#f6b8bd"/><stop offset="0.900" stop-color="#e6515e"/><stop offset="0.940" stop-color="#dc3c47"/><stop offset="0.960" stop-color="#e95c69"/><stop offset="0.965" stop-color="#f18a94"/><stop offset="0.970" stop-color="#f8c8cd"/><stop offset="0.975" stop-color="#fadbdf"/><stop offset="0.980" stop-color="#fffdfd"/><stop offset="0.985" stop-color="#55b3ef"/><stop offset="0.990" stop-color="#1b25b8"/><stop offset="1.000" stop-color="#141c89"/></linearGradient><linearGradient id="g1_68" x1="0" y1="0" x2="0" y2="1"><stop offset="0.000" stop-color="#fffdfd"/><stop offset="0.200" stop-color="#fcebed"/><stop offset="0.260" stop-color="#fdf1f3"/><stop offset="0.320" stop-color="#f9fcfe"/><stop offset="0.340" stop-color="#cbe5fa"/><stop offset="0.410" stop-color="#d0e8fa"/><stop offset="0.430" stop-color="#f9fcfe"/><stop offset="0.515" stop-color="#fad8dc"/><stop offset="0.565" stop-color="#fad9dd"/><stop offset="0.640" stop-color="#ffffff"/><stop offset="0.650" stop-color="#e1f0fc"/><stop offset="0.655" stop-color="#cce6fa"/><stop offset="0.695" stop-color="#cde6fa"/><stop offset="0.770" stop-color="#dbedfb"/><stop offset="0.795" stop-color="#ffffff"/><stop offset="0.855" stop-color="#f9d2d6"/><stop offset="0.880" stop-color="#f6b8bd"/><stop offset="0.900" stop-color="#e7515f"/><stop offset="0.940" stop-color="#dc3c48"/><stop offset="0.960" stop-color="#e95c69"/><stop offset="0.970" stop-color="#f8c8cd"/><stop offset="0.975" stop-color="#fadbdf"/><stop offset="0.980" stop-color="#fffdfd"/><stop offset="0.985" stop-color="#55b3ef"/><stop offset="0.990" stop-color="#1b25b9"/><stop offset="0.995" stop-color="#16209a"/><stop offset="1.000" stop-color="#141c8a"/></linearGradient><linearGradient id="g1_69" x1="0" y1="0" x2="0" y2="1"><stop offset="0.000" stop-color="#fffdfd"/><stop offset="0.200" stop-color="#fcebed"/><stop offset="0.260" stop-color="#fdf1f3"/><stop offset="0.320" stop-color="#f9fcfe"/><stop offset="0.340" stop-color="#cbe5fa"/><stop offset="0.410" stop-color="#d0e8fa"/><stop offset="0.430" stop-color="#f9fcfe"/><stop offset="0.515" stop-color="#fad8dc"/><stop offset="0.565" stop-color="#fad9dd"/><stop offset="0.645" stop-color="#f9fcfe"/><stop offset="0.655" stop-color="#cee6fa"/><stop offset="0.685" stop-color="#c6e3f9"/><stop offset="0.740" stop-color="#d7ebfb"/><stop offset="0.770" stop-color="#dcedfb"/><stop offset="0.795" stop-color="#ffffff"/><stop offset="0.855" stop-color="#f9d2d6"/><stop offset="0.880" stop-color="#f6b8bd"/><stop offset="0.900" stop-color="#e7515f"/><stop offset="0.940" stop-color="#dd3c48"/><stop offset="0.960" stop-color="#e95d6a"/><stop offset="0.965" stop-color="#f18b94"/><stop offset="0.970" stop-color="#f8c8cd"/><stop offset="0.975" stop-color="#fadbdf"/><stop offset="0.980" stop-color="#fffdfd"/><stop offset="0.985" stop-color="#56b3ef"/><stop offset="0.990" stop-color="#1b25ba"/><stop offset="1.000" stop-color="#141c8a"/></linearGradient><linearGradient id="g1_70" x1="0" y1="0" x2="0" y2="1"><stop offset="0.000" stop-color="#fffdfd"/><stop offset="0.200" stop-color="#fcebed"/><stop offset="0.260" stop-color="#fdf1f3"/><stop offset="0.320" stop-color="#f9fcfe"/><stop offset="0.340" stop-color="#cbe5fa"/><stop offset="0.410" stop-color="#d0e7fa"/><stop offset="0.430" stop-color="#f9fcfe"/><stop offset="0.515" stop-color="#fad8dc"/><stop offset="0.565" stop-color="#fad9dd"/><stop offset="0.645" stop-color="#fbfdff"/><stop offset="0.655" stop-color="#cfe7fa"/><stop offset="0.675" stop-color="#c6e3f9"/><stop offset="0.750" stop-color="#d7ebfb"/><stop offset="0.770" stop-color="#dceefc"/><stop offset="0.790" stop-color="#feffff"/><stop offset="0.855" stop-color="#f9d2d6"/><stop offset="0.880" stop-color="#f6b8bd"/><stop offset="0.900" stop-color="#e75260"/><stop offset="0.940" stop-color="#dd3d48"/><stop offset="0.960" stop-color="#e95d6a"/><stop offset="0.965" stop-color="#f18b94"/><stop offset="0.970" stop-color="#f8c8cd"/><stop offset="0.975" stop-color="#fadbdf"/><stop offset="0.980" stop-color="#fffdfd"/><stop offset="0.985" stop-color="#56b3ef"/><stop offset="0.990" stop-color="#1b25bb"/><stop offset="1.000" stop-color="#141c8b"/></linearGradient><linearGradient id="g1_71" x1="0" y1="0" x2="0" y2="1"><stop offset="0.000" stop-color="#fffdfd"/><stop offset="0.200" stop-color="#fcebed"/><stop offset="0.260" stop-color="#fdf1f3"/><stop offset="0.320" stop-color="#f9fcfe"/><stop offset="0.340" stop-color="#cbe5fa"/><stop offset="0.410" stop-color="#cfe7fa"/><stop offset="0.430" stop-color="#f9fcfe"/><stop offset="0.480" stop-color="#fbe3e6"/><stop offset="0.560" stop-color="#f9d5da"/><stop offset="0.645" stop-color="#fcfeff"/><stop offset="0.660" stop-color="#c5e2f9"/><stop offset="0.710" stop-color="#d1e8fa"/><stop offset="0.770" stop-color="#ddeefc"/><stop offset="0.790" stop-color="#feffff"/><stop offset="0.855" stop-color="#f9d2d6"/><stop offset="0.880" stop-color="#f6b8bd"/><stop offset="0.900" stop-color="#e75260"/><stop offset="0.940" stop-color="#dd3d49"/><stop offset="0.960" stop-color="#e95e6b"/><stop offset="0.965" stop-color="#f18b95"/><stop offset="0.970" stop-color="#f8c8cd"/><stop offset="0.975" stop-color="#fadbdf"/><stop offset="0.980" stop-color="#fffdfd"/><stop offset="0.985" stop-color="#57b4ef"/><stop offset="0.990" stop-color="#1b25bc"/><stop offset="0.995" stop-color="#17209c"/><stop offset="1.000" stop-color="#141c8c"/></linearGradient><linearGradient id="g1_72" x1="0" y1="0" x2="0" y2="1"><stop offset="0.000" stop-color="#fffdfd"/><stop offset="0.200" stop-color="#fcebed"/><stop offset="0.260" stop-color="#fdf1f3"/><stop offset="0.320" stop-color="#fafcfe"/><stop offset="0.340" stop-color="#cbe5fa"/><stop offset="0.410" stop-color="#cfe7fa"/><stop offset="0.430" stop-color="#f8fcfe"/><stop offset="0.480" stop-color="#fbe3e6"/><stop offset="0.560" stop-color="#f9d5da"/><stop offset="0.645" stop-color="#fdfeff"/><stop offset="0.660" stop-color="#c5e2f9"/><stop offset="0.710" stop-color="#d0e8fa"/><stop offset="0.770" stop-color="#deeffc"/><stop offset="0.790" stop-color="#ffffff"/><stop offset="0.855" stop-color="#f9d2d6"/><stop offset="0.880" stop-color="#f6b8bd"/><stop offset="0.900" stop-color="#e75360"/><stop offset="0.940" stop-color="#dd3d49"/><stop offset="0.960" stop-color="#e95e6b"/><stop offset="0.970" stop-color="#f8c8cd"/><stop offset="0.975" stop-color="#fadbdf"/><stop offset="0.980" stop-color="#fffdfd"/><stop offset="0.985" stop-color="#57b4ef"/><stop offset="0.990" stop-color="#1b25bd"/><stop offset="0.995" stop-color="#17209d"/><stop offset="1.000" stop-color="#141c8c"/></linearGradient><linearGradient id="g1_73" x1="0" y1="0" x2="0" y2="1"><stop offset="0.000" stop-color="#fffdfd"/><stop offset="0.200" stop-color="#fcebed"/><stop offset="0.260" stop-color="#fdf1f3"/><stop offset="0.320" stop-color="#fafcfe"/><stop offset="0.345" stop-color="#c8e4fa"/><stop offset="0.410" stop-color="#cfe7fa"/><stop offset="0.430" stop-color="#f8fcfe"/><stop offset="0.480" stop-color="#fbe3e6"/><stop offset="0.560" stop-color="#f9d5da"/><stop offset="0.645" stop-color="#feffff"/><stop offset="0.660" stop-color="#c5e2f9"/><stop offset="0.710" stop-color="#d0e7fa"/><stop offset="0.770" stop-color="#dfeffc"/><stop offset="0.790" stop-color="#ffffff"/><stop offset="0.855" stop-color="#f9d2d6"/><stop offset="0.880" stop-color="#f6b8bd"/><stop offset="0.900" stop-color="#e75361"/><stop offset="0.940" stop-color="#dd3e49"/><stop offset="0.960" stop-color="#e95f6b"/><stop offset="0.965" stop-color="#f18c95"/><stop offset="0.970" stop-color="#f8c8cd"/><stop offset="0.975" stop-color="#fadbdf"/><stop offset="0.980" stop-color="#fffdfd"/><stop offset="0.985" stop-color="#58b4ef"/><stop offset="0.990" stop-color="#1c26be"/><stop offset="0.995" stop-color="#17209d"/><stop offset="1.000" stop-color="#141d8d"/></linearGradient><linearGradient id="g1_74" x1="0" y1="0" x2="0" y2="1"><stop offset="0.000" stop-color="#fffdfd"/><stop offset="0.200" stop-color="#fcebed"/><stop offset="0.260" stop-color="#fdf1f3"/><stop offset="0.320" stop-color="#fafcfe"/><stop offset="0.345" stop-color="#c8e4f9"/><stop offset="0.410" stop-color="#cee7fa"/><stop offset="0.430" stop-color="#f8fcfe"/><stop offset="0.480" stop-color="#fbe3e6"/><stop offset="0.560" stop-color="#f9d5da"/><stop offset="0.645" stop-color="#ffffff"/><stop offset="0.660" stop-color="#c6e3f9"/><stop offset="0.710" stop-color="#cfe7fa"/><stop offset="0.770" stop-color="#e0effc"/><stop offset="0.790" stop-color="#ffffff"/><stop offset="0.855" stop-color="#f9d2d6"/><stop offset="0.880" stop-color="#f6b8bd"/><stop offset="0.900" stop-color="#e75461"/><stop offset="0.940" stop-color="#dd3e4a"/><stop offset="0.960" stop-color="#e95f6c"/><stop offset="0.965" stop-color="#f18c95"/><stop offset="0.970" stop-color="#f8c9cd"/><stop offset="0.975" stop-color="#fadbdf"/><stop offset="0.980" stop-color="#fffdfd"/><stop offset="0.985" stop-color="#58b4ef"/><stop offset="0.990" stop-color="#1c26bf"/><stop offset="0.995" stop-color="#17209e"/><stop offset="1.000" stop-color="#151d8e"/></linearGradient><linearGradient id="g1_75" x1="0" y1="0" x2="0" y2="1"><stop offset="0.000" stop-color="#fffdfd"/><stop offset="0.200" stop-color="#fcebed"/><stop offset="0.260" stop-color="#fdf1f3"/><stop offset="0.320" stop-color="#fafcfe"/><stop offset="0.345" stop-color="#c8e4f9"/><stop offset="0.410" stop-color="#cee7fa"/><stop offset="0.430" stop-color="#f8fcfe"/><stop offset="0.480" stop-color="#fbe3e6"/><stop offset="0.560" stop-color="#f9d5da"/><stop offset="0.645" stop-color="#ffffff"/><stop offset="0.660" stop-color="#c6e3f9"/><stop offset="0.710" stop-color="#cee7fa"/><stop offset="0.755" stop-color="#d7ebfb"/><stop offset="0.775" stop-color="#ebf5fd"/><stop offset="0.795" stop-color="#fffefe"/><stop offset="0.855" stop-color="#f9d2d6"/><stop offset="0.880" stop-color="#f6b8bd"/><stop offset="0.900" stop-color="#e75462"/><stop offset="0.940" stop-color="#dd3e4a"/><stop offset="0.960" stop-color="#e95f6c"/><stop offset="0.965" stop-color="#f18c96"/><stop offset="0.970" stop-color="#f8c9cd"/><stop offset="0.975" stop-color="#fadbdf"/><stop offset="0.980" stop-color="#fffdfd"/><stop offset="0.985" stop-color="#59b4ef"/><stop offset="0.990" stop-color="#1c26c0"/><stop offset="0.995" stop-color="#17219f"/><stop offset="1.000" stop-color="#151d8e"/></linearGradient><linearGradient id="g1_76" x1="0" y1="0" x2="0" y2="1"><stop offset="0.000" stop-color="#fffdfd"/><stop offset="0.200" stop-color="#fcebed"/><stop offset="0.260" stop-color="#fdf1f3"/><stop offset="0.320" stop-color="#fafcfe"/><stop offset="0.345" stop-color="#c8e4f9"/><stop offset="0.410" stop-color="#cee6fa"/><stop offset="0.430" stop-color="#f8fbfe"/><stop offset="0.470" stop-color="#fcebed"/><stop offset="0.520" stop-color="#fad7db"/><stop offset="0.565" stop-color="#fad9dd"/><stop offset="0.645" stop-color="#ffffff"/><stop offset="0.655" stop-color="#ddeefc"/><stop offset="0.660" stop-color="#c8e4f9"/><stop offset="0.700" stop-color="#c8e4fa"/><stop offset="0.735" stop-color="#d7ebfb"/><stop offset="0.765" stop-color="#daedfb"/><stop offset="0.790" stop-color="#ffffff"/><stop offset="0.855" stop-color="#f9d2d6"/><stop offset="0.880" stop-color="#f6b8bd"/><stop offset="0.900" stop-color="#e75562"/><stop offset="0.940" stop-color="#de3e4a"/><stop offset="0.960" stop-color="#e9606d"/><stop offset="0.965" stop-color="#f18c96"/><stop offset="0.970" stop-color="#f8c9cd"/><stop offset="0.975" stop-color="#fadbdf"/><stop offset="0.980" stop-color="#fffdfd"/><stop offset="0.985" stop-color="#59b4ef"/><stop offset="0.990" stop-color="#1c26c1"/><stop offset="0.995" stop-color="#17219f"/><stop offset="1.000" stop-color="#151d8f"/></linearGradient><linearGradient id="g1_77" x1="0" y1="0" x2="0" y2="1"><stop offset="0.000" stop-color="#fffdfd"/><stop offset="0.200" stop-color="#fcebed"/><stop offset="0.260" stop-color="#fdf1f3"/><stop offset="0.320" stop-color="#fafcfe"/><stop offset="0.345" stop-color="#c8e4f9"/><stop offset="0.410" stop-color="#cee6fa"/><stop offset="0.430" stop-color="#f8fbfe"/><stop offset="0.470" stop-color="#fcebed"/><stop offset="0.520" stop-color="#fad7db"/><stop offset="0.565" stop-color="#fad9dd"/><stop offset="0.645" stop-color="#ffffff"/><stop offset="0.650" stop-color="#f7fbfe"/><stop offset="0.660" stop-color="#c9e4fa"/><stop offset="0.700" stop-color="#c8e3f9"/><stop offset="0.735" stop-color="#d7ebfb"/><stop offset="0.765" stop-color="#dbedfb"/><stop offset="0.790" stop-color="#ffffff"/><stop offset="0.855" stop-color="#f9d2d6"/><stop offset="0.880" stop-color="#f6b8bd"/><stop offset="0.900" stop-color="#e75562"/><stop offset="0.940" stop-color="#de3f4a"/><stop offset="0.960" stop-color="#e9606d"/><stop offset="0.965" stop-color="#f18d96"/><stop offset="0.970" stop-color="#f8c9cd"/><stop offset="0.975" stop-color="#fadbdf"/><stop offset="0.980" stop-color="#fffdfd"/><stop offset="0.985" stop-color="#5ab5ef"/><stop offset="0.990" stop-color="#1c26c2"/><stop offset="0.995" stop-color="#1721a0"/><stop offset="1.000" stop-color="#151d90"/></linearGradient><linearGradient id="g1_78" x1="0" y1="0" x2="0" y2="1"><stop offset="0.000" stop-color="#fffdfd"/><stop offset="0.200" stop-color="#fcebed"/><stop offset="0.260" stop-color="#fdf1f3"/><stop offset="0.320" stop-color="#fafcfe"/><stop offset="0.345" stop-color="#c8e3f9"/><stop offset="0.410" stop-color="#cde6fa"/><stop offset="0.435" stop-color="#fafdff"/><stop offset="0.510" stop-color="#fad9dd"/><stop offset="0.565" stop-color="#fad9dd"/><stop offset="0.645" stop-color="#ffffff"/><stop offset="0.650" stop-color="#f9fcfe"/><stop offset="0.660" stop-color="#cbe5fa"/><stop offset="0.695" stop-color="#c4e2f9"/><stop offset="0.730" stop-color="#d7ebfb"/><stop offset="0.765" stop-color="#dbedfb"/><stop offset="0.785" stop-color="#fefeff"/><stop offset="0.855" stop-color="#f9d2d6"/><stop offset="0.880" stop-color="#f6b8be"/><stop offset="0.900" stop-color="#e75563"/><stop offset="0.940" stop-color="#de3f4b"/><stop offset="0.960" stop-color="#e9616d"/><stop offset="0.965" stop-color="#f18d96"/><stop offset="0.970" stop-color="#f8c9ce"/><stop offset="0.975" stop-color="#fadbdf"/><stop offset="0.980" stop-color="#fffdfd"/><stop offset="0.985" stop-color="#5ab5ef"/><stop offset="0.990" stop-color="#1c26c3"/><stop offset="0.995" stop-color="#1721a1"/><stop offset="1.000" stop-color="#151d91"/></linearGradient><linearGradient id="g1_79" x1="0" y1="0" x2="0" y2="1"><stop offset="0.000" stop-color="#fffdfd"/><stop offset="0.200" stop-color="#fcebed"/><stop offset="0.260" stop-color="#fdf1f3"/><stop offset="0.320" stop-color="#fafcfe"/><stop offset="0.345" stop-color="#c7e3f9"/><stop offset="0.410" stop-color="#cde6fa"/><stop offset="0.435" stop-color="#fafdff"/><stop offset="0.510" stop-color="#fad9dd"/><stop offset="0.565" stop-color="#fad9dd"/><stop offset="0.650" stop-color="#fbfdff"/><stop offset="0.660" stop-color="#cde6fa"/><stop offset="0.670" stop-color="#c2e1f9"/><stop offset="0.715" stop-color="#d0e8fa"/><stop offset="0.765" stop-color="#dceefc"/><stop offset="0.790" stop-color="#ffffff"/><stop offset="0.855" stop-color="#f9d2d6"/><stop offset="0.880" stop-color="#f6b8be"/><stop offset="0.900" stop-color="#e75663"/><stop offset="0.940" stop-color="#de3f4b"/><stop offset="0.960" stop-color="#ea616e"/><stop offset="0.965" stop-color="#f18d96"/><stop offset="0.970" stop-color="#f8c9ce"/><stop offset="0.975" stop-color="#fadbdf"/><stop offset="0.980" stop-color="#fffdfd"/><stop offset="0.985" stop-color="#5bb5ef"/><stop offset="0.990" stop-color="#1d27c4"/><stop offset="0.995" stop-color="#1721a1"/><stop offset="1.000" stop-color="#151e91"/></linearGradient><linearGradient id="g1_80" x1="0" y1="0" x2="0" y2="1"><stop offset="0.000" stop-color="#fffdfd"/><stop offset="0.200" stop-color="#fcebed"/><stop offset="0.260" stop-color="#fdf1f3"/><stop offset="0.320" stop-color="#fafcfe"/><stop offset="0.345" stop-color="#c7e3f9"/><stop offset="0.410" stop-color="#cde6fa"/><stop offset="0.435" stop-color="#fafdff"/><stop offset="0.510" stop-color="#fad9dd"/><stop offset="0.565" stop-color="#fad9dd"/><stop offset="0.650" stop-color="#fcfeff"/><stop offset="0.665" stop-color="#c2e1f9"/><stop offset="0.715" stop-color="#cbe5fa"/><stop offset="0.725" stop-color="#d7ebfb"/><stop offset="0.765" stop-color="#ddeefc"/><stop offset="0.785" stop-color="#feffff"/><stop offset="0.855" stop-color="#f9d2d6"/><stop offset="0.880" stop-color="#f6b8be"/><stop offset="0.900" stop-color="#e85664"/><stop offset="0.940" stop-color="#de404b"/><stop offset="0.960" stop-color="#ea626e"/><stop offset="0.965" stop-color="#f18d97"/><stop offset="0.970" stop-color="#f8c9ce"/><stop offset="0.975" stop-color="#fadbdf"/><stop offset="0.980" stop-color="#fffdfd"/><stop offset="0.985" stop-color="#5bb5ef"/><stop offset="0.990" stop-color="#1d27c5"/><stop offset="0.995" stop-color="#1821a2"/><stop offset="1.000" stop-color="#151e92"/></linearGradient><linearGradient id="g1_81" x1="0" y1="0" x2="0" y2="1"><stop offset="0.000" stop-color="#fffdfd"/><stop offset="0.200" stop-color="#fcebed"/><stop offset="0.260" stop-color="#fdf1f3"/><stop offset="0.320" stop-color="#fafcfe"/><stop offset="0.345" stop-color="#c7e3f9"/><stop offset="0.410" stop-color="#cce6fa"/><stop offset="0.430" stop-color="#f7fbfe"/><stop offset="0.445" stop-color="#fef7f8"/><stop offset="0.510" stop-color="#fad9dd"/><stop offset="0.565" stop-color="#fad9dd"/><stop offset="0.650" stop-color="#fdfeff"/><stop offset="0.665" stop-color="#c2e1f9"/><stop offset="0.715" stop-color="#cae4fa"/><stop offset="0.725" stop-color="#d7ebfb"/><stop offset="0.765" stop-color="#deeefc"/><stop offset="0.785" stop-color="#ffffff"/><stop offset="0.855" stop-color="#f9d2d6"/><stop offset="0.880" stop-color="#f6b8be"/><stop offset="0.900" stop-color="#e85764"/><stop offset="0.940" stop-color="#de404c"/><stop offset="0.960" stop-color="#ea626f"/><stop offset="0.965" stop-color="#f18e97"/><stop offset="0.970" stop-color="#f8c9ce"/><stop offset="0.975" stop-color="#fadbdf"/><stop offset="0.980" stop-color="#fffdfd"/><stop offset="0.985" stop-color="#5cb5ef"/><stop offset="0.990" stop-color="#1d27c6"/><stop offset="0.995" stop-color="#1821a3"/><stop offset="1.000" stop-color="#151e93"/></linearGradient><linearGradient id="g1_82" x1="0" y1="0" x2="0" y2="1"><stop offset="0.000" stop-color="#fffdfd"/><stop offset="0.200" stop-color="#fcebed"/><stop offset="0.260" stop-color="#fdf1f3"/><stop offset="0.320" stop-color="#fafcfe"/><stop offset="0.345" stop-color="#c7e3f9"/><stop offset="0.410" stop-color="#cce5fa"/><stop offset="0.435" stop-color="#fafdff"/><stop offset="0.510" stop-color="#fad9dd"/><stop offset="0.565" stop-color="#fad9dd"/><stop offset="0.650" stop-color="#feffff"/><stop offset="0.665" stop-color="#c2e1f9"/><stop offset="0.715" stop-color="#c9e4fa"/><stop offset="0.725" stop-color="#d7ebfb"/><stop offset="0.765" stop-color="#dfeffc"/><stop offset="0.785" stop-color="#ffffff"/><stop offset="0.855" stop-color="#f9d2d6"/><stop offset="0.880" stop-color="#f6b8be"/><stop offset="0.900" stop-color="#e85765"/><stop offset="0.940" stop-color="#df404c"/><stop offset="0.960" stop-color="#ea636f"/><stop offset="0.965" stop-color="#f18e97"/><stop offset="0.970" stop-color="#f8c9ce"/><stop offset="0.975" stop-color="#fadbdf"/><stop offset="0.980" stop-color="#fffdfd"/><stop offset="0.985" stop-color="#5cb6ef"/><stop offset="0.990" stop-color="#1d27c7"/><stop offset="0.995" stop-color="#1822a3"/><stop offset="1.000" stop-color="#151e93"/></linearGradient><linearGradient id="g1_83" x1="0" y1="0" x2="0" y2="1"><stop offset="0.000" stop-color="#fffdfd"/><stop offset="0.200" stop-color="#fcebed"/><stop offset="0.260" stop-color="#fdf1f3"/><stop offset="0.320" stop-color="#fafcfe"/><stop offset="0.345" stop-color="#c7e3f9"/><stop offset="0.410" stop-color="#cbe5fa"/><stop offset="0.435" stop-color="#fafdff"/><stop offset="0.510" stop-color="#fad9dd"/><stop offset="0.565" stop-color="#fad9dd"/><stop offset="0.650" stop-color="#ffffff"/><stop offset="0.665" stop-color="#c2e1f9"/><stop offset="0.715" stop-color="#c8e4f9"/><stop offset="0.720" stop-color="#d7ebfb"/><stop offset="0.765" stop-color="#e0effc"/><stop offset="0.785" stop-color="#ffffff"/><stop offset="0.855" stop-color="#f9d2d6"/><stop offset="0.880" stop-color="#f6b8be"/><stop offset="0.900" stop-color="#e85865"/><stop offset="0.940" stop-color="#df404c"/><stop offset="0.960" stop-color="#ea636f"/><stop offset="0.965" stop-color="#f18e97"/><stop offset="0.970" stop-color="#f8c9ce"/><stop offset="0.975" stop-color="#fadbdf"/><stop offset="0.980" stop-color="#fffdfd"/><stop offset="0.985" stop-color="#5cb6ef"/><stop offset="0.990" stop-color="#1d27c8"/><stop offset="0.995" stop-color="#1822a4"/><stop offset="1.000" stop-color="#151e94"/></linearGradient><linearGradient id="g1_84" x1="0" y1="0" x2="0" y2="1"><stop offset="0.000" stop-color="#fffdfd"/><stop offset="0.200" stop-color="#fcebed"/><stop offset="0.260" stop-color="#fdf1f3"/><stop offset="0.320" stop-color="#fafcfe"/><stop offset="0.345" stop-color="#c7e3f9"/><stop offset="0.410" stop-color="#cbe5fa"/><stop offset="0.435" stop-color="#fafdff"/><stop offset="0.510" stop-color="#fad9dd"/><stop offset="0.565" stop-color="#fad9dd"/><stop offset="0.650" stop-color="#ffffff"/><stop offset="0.665" stop-color="#c3e1f9"/><stop offset="0.715" stop-color="#c7e3f9"/><stop offset="0.720" stop-color="#d7ebfb"/><stop offset="0.765" stop-color="#e0f0fc"/><stop offset="0.785" stop-color="#ffffff"/><stop offset="0.855" stop-color="#f9d2d6"/><stop offset="0.880" stop-color="#f6b8be"/><stop offset="0.900" stop-color="#e85865"/><stop offset="0.940" stop-color="#df414d"/><stop offset="0.960" stop-color="#ea6370"/><stop offset="0.965" stop-color="#f18e97"/><stop offset="0.970" stop-color="#f8c9ce"/><stop offset="0.975" stop-color="#fadbdf"/><stop offset="0.980" stop-color="#fffdfd"/><stop offset="0.985" stop-color="#5db6ef"/><stop offset="0.990" stop-color="#1d27c9"/><stop offset="0.995" stop-color="#1822a4"/><stop offset="1.000" stop-color="#161e94"/></linearGradient><linearGradient id="g2_0" x1="0" y1="0" x2="0" y2="1"><stop offset="0.000" stop-color="#fef6f7"/><stop offset="0.230" stop-color="#fef7f8"/><stop offset="0.330" stop-color="#fce9ec"/><stop offset="0.395" stop-color="#fafcfe"/><stop offset="0.435" stop-color="#d8ecfb"/><stop offset="0.475" stop-color="#f1f8fe"/><stop offset="0.500" stop-color="#fefafb"/><stop offset="0.540" stop-color="#fbfdff"/><stop offset="0.580" stop-color="#e7f3fd"/><stop offset="0.620" stop-color="#fffcfc"/><stop offset="0.805" stop-color="#fbdee2"/><stop offset="0.890" stop-color="#fffbfc"/><stop offset="0.920" stop-color="#f9fcfe"/><stop offset="0.950" stop-color="#fce9eb"/><stop offset="0.955" stop-color="#fef6f7"/><stop offset="0.960" stop-color="#dfeffc"/><stop offset="0.965" stop-color="#abd6f6"/><stop offset="0.975" stop-color="#72bef1"/><stop offset="0.980" stop-color="#3794e9"/><stop offset="0.985" stop-color="#212cdd"/><stop offset="0.990" stop-color="#1721a1"/><stop offset="1.000" stop-color="#161f99"/></linearGradient><linearGradient id="g2_1" x1="0" y1="0" x2="0" y2="1"><stop offset="0.000" stop-color="#fef6f7"/><stop offset="0.230" stop-color="#fef7f8"/><stop offset="0.325" stop-color="#fce8eb"/><stop offset="0.395" stop-color="#fafdff"/><stop offset="0.435" stop-color="#dbedfb"/><stop offset="0.475" stop-color="#f2f8fe"/><stop offset="0.505" stop-color="#fef8f9"/><stop offset="0.545" stop-color="#f6fbfe"/><stop offset="0.580" stop-color="#e7f3fd"/><stop offset="0.620" stop-color="#fffcfc"/><stop offset="0.810" stop-color="#fbdfe2"/><stop offset="0.890" stop-color="#fffbfc"/><stop offset="0.920" stop-color="#f9fcfe"/><stop offset="0.950" stop-color="#fce9eb"/><stop offset="0.955" stop-color="#fef5f6"/><stop offset="0.960" stop-color="#e4f1fc"/><stop offset="0.965" stop-color="#b6dbf8"/><stop offset="0.975" stop-color="#80c3f2"/><stop offset="0.980" stop-color="#3e9dea"/><stop offset="0.985" stop-color="#2437e3"/><stop offset="0.990" stop-color="#1a24b3"/><stop offset="1.000" stop-color="#1721a0"/></linearGradient><linearGradient id="g2_2" x1="0" y1="0" x2="0" y2="1"><stop offset="0.000" stop-color="#fef6f7"/><stop offset="0.230" stop-color="#fef7f8"/><stop offset="0.330" stop-color="#fceaed"/><stop offset="0.395" stop-color="#fbfdff"/><stop offset="0.440" stop-color="#dceefc"/><stop offset="0.500" stop-color="#fefafa"/><stop offset="0.540" stop-color="#fbfdff"/><stop offset="0.580" stop-color="#e7f3fd"/><stop offset="0.620" stop-color="#fffcfc"/><stop offset="0.810" stop-color="#fbdfe2"/><stop offset="0.890" stop-color="#fffbfc"/><stop offset="0.920" stop-color="#f9fcfe"/><stop offset="0.950" stop-color="#fce9eb"/><stop offset="0.955" stop-color="#fef4f5"/><stop offset="0.960" stop-color="#e8f4fd"/><stop offset="0.965" stop-color="#bfe0f9"/><stop offset="0.975" stop-color="#8cc8f3"/><stop offset="0.980" stop-color="#44a6ec"/><stop offset="0.985" stop-color="#2840e8"/><stop offset="0.990" stop-color="#1d27c5"/><stop offset="1.000" stop-color="#1822a7"/></linearGradient><linearGradient id="g2_3" x1="0" y1="0" x2="0" y2="1"><stop offset="0.000" stop-color="#fef6f7"/><stop offset="0.230" stop-color="#fef7f8"/><stop offset="0.330" stop-color="#fcebed"/><stop offset="0.395" stop-color="#fbfdff"/><stop offset="0.440" stop-color="#deeffc"/><stop offset="0.500" stop-color="#fefafa"/><stop offset="0.540" stop-color="#fbfdff"/><stop offset="0.580" stop-color="#e7f3fd"/><stop offset="0.620" stop-color="#fffcfc"/><stop offset="0.810" stop-color="#fbdfe2"/><stop offset="0.890" stop-color="#fffbfc"/><stop offset="0.920" stop-color="#f9fcfe"/><stop offset="0.950" stop-color="#fce9eb"/><stop offset="0.955" stop-color="#fdf3f5"/><stop offset="0.960" stop-color="#ecf6fd"/><stop offset="0.965" stop-color="#c9e4fa"/><stop offset="0.975" stop-color="#98cdf4"/><stop offset="0.980" stop-color="#4aaeee"/><stop offset="0.985" stop-color="#2a5ae7"/><stop offset="0.990" stop-color="#1f29d7"/><stop offset="1.000" stop-color="#1a24b1"/></linearGradient><linearGradient id="g2_4" x1="0" y1="0" x2="0" y2="1"><stop offset="0.000" stop-color="#fef6f7"/><stop offset="0.230" stop-color="#fef7f8"/><stop offset="0.330" stop-color="#fcebed"/><stop offset="0.395" stop-color="#fcfdff"/><stop offset="0.440" stop-color="#e0f0fc"/><stop offset="0.500" stop-color="#fefafa"/><stop offset="0.540" stop-color="#fbfdff"/><stop offset="0.580" stop-color="#e7f3fd"/><stop offset="0.620" stop-color="#fffcfc"/><stop offset="0.815" stop-color="#fbe0e3"/><stop offset="0.890" stop-color="#fffbfc"/><stop offset="0.920" stop-color="#f9fcfe"/><stop offset="0.950" stop-color="#fce9eb"/><stop offset="0.960" stop-color="#f1f8fe"/><stop offset="0.965" stop-color="#d1e8fa"/><stop offset="0.970" stop-color="#c2e1f9"/><stop offset="0.975" stop-color="#a4d3f6"/><stop offset="0.980" stop-color="#57b4ef"/><stop offset="0.985" stop-color="#2c76e6"/><stop offset="0.990" stop-color="#2231e0"/><stop offset="0.995" stop-color="#1f29d7"/><stop offset="1.000" stop-color="#1b25bb"/></linearGradient><linearGradient id="g2_5" x1="0" y1="0" x2="0" y2="1"><stop offset="0.000" stop-color="#fef6f7"/><stop offset="0.230" stop-color="#fef7f8"/><stop offset="0.330" stop-color="#fcecee"/><stop offset="0.405" stop-color="#f7fbfe"/><stop offset="0.450" stop-color="#ebf5fd"/><stop offset="0.495" stop-color="#fefbfb"/><stop offset="0.540" stop-color="#fbfdff"/><stop offset="0.580" stop-color="#e7f3fd"/><stop offset="0.620" stop-color="#fffcfc"/><stop offset="0.815" stop-color="#fbe0e3"/><stop offset="0.890" stop-color="#fffbfc"/><stop offset="0.920" stop-color="#f9fcfe"/><stop offset="0.950" stop-color="#fce9eb"/><stop offset="0.960" stop-color="#f5fafe"/><stop offset="0.965" stop-color="#d9ecfb"/><stop offset="0.970" stop-color="#cde6fa"/><stop offset="0.975" stop-color="#b2daf7"/><stop offset="0.985" stop-color="#3895e9"/><stop offset="0.990" stop-color="#2a56e7"/><stop offset="1.000" stop-color="#212ede"/></linearGradient><linearGradient id="g2_6" x1="0" y1="0" x2="0" y2="1"><stop offset="0.000" stop-color="#fef6f7"/><stop offset="0.230" stop-color="#fef7f8"/><stop offset="0.330" stop-color="#fcecee"/><stop offset="0.415" stop-color="#fcfeff"/><stop offset="0.540" stop-color="#fbfdff"/><stop offset="0.580" stop-color="#e7f3fd"/><stop offset="0.620" stop-color="#fffcfc"/><stop offset="0.710" stop-color="#fef7f8"/><stop offset="0.775" stop-color="#fbe1e4"/><stop offset="0.850" stop-color="#fcebed"/><stop offset="0.900" stop-color="#fafdff"/><stop offset="0.920" stop-color="#f9fcfe"/><stop offset="0.950" stop-color="#fce9eb"/><stop offset="0.960" stop-color="#f9fcfe"/><stop offset="0.975" stop-color="#c3e1f9"/><stop offset="0.985" stop-color="#52b2ef"/><stop offset="0.990" stop-color="#3c9bea"/><stop offset="0.995" stop-color="#3693e8"/><stop offset="1.000" stop-color="#2c7be6"/></linearGradient><linearGradient id="g2_7" x1="0" y1="0" x2="0" y2="1"><stop offset="0.000" stop-color="#fef6f7"/><stop offset="0.230" stop-color="#fef7f8"/><stop offset="0.360" stop-color="#fefafb"/><stop offset="0.540" stop-color="#fbfdff"/><stop offset="0.580" stop-color="#e7f3fd"/><stop offset="0.620" stop-color="#fffcfc"/><stop offset="0.660" stop-color="#f1f8fe"/><stop offset="0.695" stop-color="#e6f2fc"/><stop offset="0.720" stop-color="#fefafb"/><stop offset="0.755" stop-color="#fbe4e7"/><stop offset="0.830" stop-color="#fbe5e7"/><stop offset="0.900" stop-color="#fafdff"/><stop offset="0.920" stop-color="#f9fcfe"/><stop offset="0.950" stop-color="#fce9eb"/><stop offset="0.960" stop-color="#fefeff"/><stop offset="0.970" stop-color="#deeffc"/><stop offset="0.975" stop-color="#d3e9fb"/><stop offset="0.985" stop-color="#83c5f2"/><stop offset="0.990" stop-color="#67baf0"/><stop offset="1.000" stop-color="#48abed"/></linearGradient><linearGradient id="g2_8" x1="0" y1="0" x2="0" y2="1"><stop offset="0.000" stop-color="#fef6f7"/><stop offset="0.230" stop-color="#fef7f8"/><stop offset="0.340" stop-color="#fcfdff"/><stop offset="0.460" stop-color="#fdeef0"/><stop offset="0.540" stop-color="#fbfdff"/><stop offset="0.580" stop-color="#e7f3fd"/><stop offset="0.620" stop-color="#fffcfc"/><stop offset="0.645" stop-color="#f6fafe"/><stop offset="0.685" stop-color="#c6e3f9"/><stop offset="0.710" stop-color="#e1f0fc"/><stop offset="0.725" stop-color="#fffcfc"/><stop offset="0.750" stop-color="#fbe5e8"/><stop offset="0.830" stop-color="#fbe5e7"/><stop offset="0.900" stop-color="#fafdff"/><stop offset="0.920" stop-color="#f9fcfe"/><stop offset="0.950" stop-color="#fce9eb"/><stop offset="0.960" stop-color="#fffdfd"/><stop offset="0.980" stop-color="#cee7fa"/><stop offset="0.990" stop-color="#a3d3f6"/><stop offset="1.000" stop-color="#86c6f2"/></linearGradient><linearGradient id="g2_9" x1="0" y1="0" x2="0" y2="1"><stop offset="0.000" stop-color="#fef6f7"/><stop offset="0.230" stop-color="#fef7f8"/><stop offset="0.270" stop-color="#f7fbfe"/><stop offset="0.315" stop-color="#dceefc"/><stop offset="0.370" stop-color="#fffcfc"/><stop offset="0.450" stop-color="#fce6e9"/><stop offset="0.540" stop-color="#fbfdff"/><stop offset="0.580" stop-color="#e7f3fd"/><stop offset="0.620" stop-color="#fffcfc"/><stop offset="0.640" stop-color="#fafcfe"/><stop offset="0.680" stop-color="#b4dbf7"/><stop offset="0.695" stop-color="#b5dbf7"/><stop offset="0.730" stop-color="#fefbfb"/><stop offset="0.760" stop-color="#fce9eb"/><stop offset="0.820" stop-color="#fbe1e4"/><stop offset="0.900" stop-color="#fafdff"/><stop offset="0.920" stop-color="#f9fcfe"/><stop offset="0.950" stop-color="#fce9eb"/><stop offset="0.960" stop-color="#fffcfc"/><stop offset="0.995" stop-color="#bfdff8"/><stop offset="1.000" stop-color="#acd7f6"/></linearGradient><linearGradient id="g2_10" x1="0" y1="0" x2="0" y2="1"><stop offset="0.000" stop-color="#fef6f7"/><stop offset="0.230" stop-color="#fef7f8"/><stop offset="0.270" stop-color="#f6fbfe"/><stop offset="0.315" stop-color="#d9ecfb"/><stop offset="0.370" stop-color="#fffcfc"/><stop offset="0.450" stop-color="#fce5e8"/><stop offset="0.540" stop-color="#fbfdff"/><stop offset="0.580" stop-color="#e7f3fd"/><stop offset="0.620" stop-color="#fffcfc"/><stop offset="0.640" stop-color="#f9fcfe"/><stop offset="0.680" stop-color="#b0d8f7"/><stop offset="0.695" stop-color="#b0d9f7"/><stop offset="0.735" stop-color="#fffcfc"/><stop offset="0.810" stop-color="#fbdfe2"/><stop offset="0.890" stop-color="#fffbfc"/><stop offset="0.920" stop-color="#f9fcfe"/><stop offset="0.950" stop-color="#fce9eb"/><stop offset="0.960" stop-color="#fffcfd"/><stop offset="0.990" stop-color="#cfe7fa"/><stop offset="1.000" stop-color="#baddf8"/></linearGradient><linearGradient id="g2_11" x1="0" y1="0" x2="0" y2="1"><stop offset="0.000" stop-color="#fef6f7"/><stop offset="0.230" stop-color="#fef7f8"/><stop offset="0.265" stop-color="#fafdff"/><stop offset="0.310" stop-color="#d7ebfb"/><stop offset="0.350" stop-color="#f4fafe"/><stop offset="0.380" stop-color="#fefbfb"/><stop offset="0.445" stop-color="#fbe4e7"/><stop offset="0.540" stop-color="#fbfdff"/><stop offset="0.580" stop-color="#e7f3fd"/><stop offset="0.620" stop-color="#fffcfc"/><stop offset="0.640" stop-color="#f9fcfe"/><stop offset="0.680" stop-color="#abd6f6"/><stop offset="0.700" stop-color="#b1d9f7"/><stop offset="0.740" stop-color="#fefeff"/><stop offset="0.805" stop-color="#fbdee2"/><stop offset="0.890" stop-color="#fffbfc"/><stop offset="0.920" stop-color="#f9fcfe"/><stop offset="0.950" stop-color="#fce9eb"/><stop offset="0.960" stop-color="#fffdfd"/><stop offset="0.970" stop-color="#e7f3fd"/><stop offset="1.000" stop-color="#c6e3f9"/></linearGradient><linearGradient id="g2_12" x1="0" y1="0" x2="0" y2="1"><stop offset="0.000" stop-color="#fef6f7"/><stop offset="0.230" stop-color="#fef7f8"/><stop offset="0.265" stop-color="#f9fcfe"/><stop offset="0.310" stop-color="#d4e9fb"/><stop offset="0.345" stop-color="#edf6fd"/><stop offset="0.370" stop-color="#fffcfc"/><stop offset="0.450" stop-color="#fbe4e7"/><stop offset="0.540" stop-color="#fbfdff"/><stop offset="0.580" stop-color="#e7f3fd"/><stop offset="0.620" stop-color="#fffcfc"/><stop offset="0.640" stop-color="#f8fcfe"/><stop offset="0.680" stop-color="#a6d4f6"/><stop offset="0.700" stop-color="#acd7f6"/><stop offset="0.740" stop-color="#f2f8fe"/><stop offset="0.770" stop-color="#fef8f9"/><stop offset="0.800" stop-color="#fadee1"/><stop offset="0.890" stop-color="#fffbfc"/><stop offset="0.920" stop-color="#f9fcfe"/><stop offset="0.950" stop-color="#fce9eb"/><stop offset="0.960" stop-color="#fffdfe"/><stop offset="0.970" stop-color="#e5f2fc"/><stop offset="1.000" stop-color="#d2e8fa"/></linearGradient><linearGradient id="g2_13" x1="0" y1="0" x2="0" y2="1"><stop offset="0.000" stop-color="#fef6f7"/><stop offset="0.230" stop-color="#fef7f8"/><stop offset="0.265" stop-color="#f8fcfe"/><stop offset="0.310" stop-color="#d1e8fa"/><stop offset="0.345" stop-color="#ecf6fd"/><stop offset="0.370" stop-color="#fffcfc"/><stop offset="0.450" stop-color="#fbe4e7"/><stop offset="0.540" stop-color="#fbfdff"/><stop offset="0.580" stop-color="#e7f3fd"/><stop offset="0.620" stop-color="#fffcfc"/><stop offset="0.640" stop-color="#f8fbfe"/><stop offset="0.680" stop-color="#a2d2f5"/><stop offset="0.700" stop-color="#a6d4f6"/><stop offset="0.740" stop-color="#e6f2fc"/><stop offset="0.765" stop-color="#f7fbfe"/><stop offset="0.780" stop-color="#fdeff0"/><stop offset="0.805" stop-color="#fbdee2"/><stop offset="0.890" stop-color="#fffbfc"/><stop offset="0.920" stop-color="#f9fcfe"/><stop offset="0.950" stop-color="#fce9eb"/><stop offset="0.960" stop-color="#fffefe"/><stop offset="0.970" stop-color="#e4f1fc"/><stop offset="1.000" stop-color="#c6e3f9"/></linearGradient><linearGradient id="g2_14" x1="0" y1="0" x2="0" y2="1"><stop offset="0.000" stop-color="#fef6f7"/><stop offset="0.230" stop-color="#fef7f8"/><stop offset="0.265" stop-color="#f8fbfe"/><stop offset="0.305" stop-color="#d0e7fa"/><stop offset="0.335" stop-color="#deeefc"/><stop offset="0.365" stop-color="#fffefe"/><stop offset="0.450" stop-color="#fbe3e6"/><stop offset="0.540" stop-color="#fbfdff"/><stop offset="0.580" stop-color="#e7f3fd"/><stop offset="0.620" stop-color="#fffcfc"/><stop offset="0.640" stop-color="#f7fbfe"/><stop offset="0.680" stop-color="#9dd0f5"/><stop offset="0.700" stop-color="#a0d1f5"/><stop offset="0.740" stop-color="#daecfb"/><stop offset="0.765" stop-color="#edf6fd"/><stop offset="0.775" stop-color="#fefbfb"/><stop offset="0.800" stop-color="#fadee1"/><stop offset="0.890" stop-color="#fffbfc"/><stop offset="0.920" stop-color="#f9fcfe"/><stop offset="0.950" stop-color="#fce9eb"/><stop offset="0.960" stop-color="#ffffff"/><stop offset="0.970" stop-color="#e2f0fc"/><stop offset="1.000" stop-color="#a0d1f5"/></linearGradient><linearGradient id="g2_15" x1="0" y1="0" x2="0" y2="1"><stop offset="0.000" stop-color="#fdeff0"/><stop offset="0.175" stop-color="#fdf2f4"/><stop offset="0.205" stop-color="#fafcfe"/><stop offset="0.245" stop-color="#dceefc"/><stop offset="0.285" stop-color="#c0e0f9"/><stop offset="0.370" stop-color="#c6e3f9"/><stop offset="0.415" stop-color="#e9f4fd"/><stop offset="0.430" stop-color="#ffffff"/><stop offset="0.460" stop-color="#f9cfd4"/><stop offset="0.535" stop-color="#f4adb3"/><stop offset="0.610" stop-color="#f7bec4"/><stop offset="0.625" stop-color="#fef7f8"/><stop offset="0.630" stop-color="#ffffff"/><stop offset="0.635" stop-color="#d3e9fb"/><stop offset="0.640" stop-color="#74bff1"/><stop offset="0.645" stop-color="#4aaeee"/><stop offset="0.685" stop-color="#328ee7"/><stop offset="0.760" stop-color="#40a0eb"/><stop offset="0.790" stop-color="#4bafee"/><stop offset="0.920" stop-color="#54b2ef"/><stop offset="0.935" stop-color="#5fb7f0"/><stop offset="0.945" stop-color="#8fcaf3"/><stop offset="0.950" stop-color="#99cef4"/><stop offset="0.960" stop-color="#fcfeff"/><stop offset="0.965" stop-color="#f5b0b6"/><stop offset="0.970" stop-color="#bc1e23"/><stop offset="1.000" stop-color="#96050c"/></linearGradient><linearGradient id="g2_16" x1="0" y1="0" x2="0" y2="1"><stop offset="0.000" stop-color="#fdeff0"/><stop offset="0.175" stop-color="#fdf2f4"/><stop offset="0.205" stop-color="#fafcfe"/><stop offset="0.235" stop-color="#e1f0fc"/><stop offset="0.285" stop-color="#bfe0f9"/><stop offset="0.370" stop-color="#c6e3f9"/><stop offset="0.415" stop-color="#ebf5fd"/><stop offset="0.430" stop-color="#fffeff"/><stop offset="0.460" stop-color="#f9ced3"/><stop offset="0.535" stop-color="#f4acb2"/><stop offset="0.610" stop-color="#f7bec3"/><stop offset="0.625" stop-color="#fefafa"/><stop offset="0.630" stop-color="#fcfeff"/><stop offset="0.635" stop-color="#c4e2f9"/><stop offset="0.640" stop-color="#64b9f0"/><stop offset="0.645" stop-color="#49adee"/><stop offset="0.685" stop-color="#318de7"/><stop offset="0.755" stop-color="#3b99ea"/><stop offset="0.785" stop-color="#4cb0ee"/><stop offset="0.920" stop-color="#55b3ef"/><stop offset="0.935" stop-color="#60b7f0"/><stop offset="0.945" stop-color="#90caf3"/><stop offset="0.950" stop-color="#9acef4"/><stop offset="0.960" stop-color="#fcfeff"/><stop offset="0.965" stop-color="#f5b0b6"/><stop offset="0.970" stop-color="#bc1e23"/><stop offset="1.000" stop-color="#96050c"/></linearGradient><linearGradient id="g2_17" x1="0" y1="0" x2="0" y2="1"><stop offset="0.000" stop-color="#fdeff0"/><stop offset="0.175" stop-color="#fdf2f4"/><stop offset="0.205" stop-color="#fafcfe"/><stop offset="0.235" stop-color="#e1f0fc"/><stop offset="0.285" stop-color="#bfe0f8"/><stop offset="0.370" stop-color="#c6e3f9"/><stop offset="0.415" stop-color="#edf6fd"/><stop offset="0.430" stop-color="#fffefe"/><stop offset="0.455" stop-color="#f9ced3"/><stop offset="0.535" stop-color="#f4aab1"/><stop offset="0.610" stop-color="#f7bec4"/><stop offset="0.625" stop-color="#fffcfc"/><stop offset="0.630" stop-color="#f8fbfe"/><stop offset="0.635" stop-color="#b2daf7"/><stop offset="0.640" stop-color="#57b4ef"/><stop offset="0.650" stop-color="#46a8ed"/><stop offset="0.680" stop-color="#308be7"/><stop offset="0.755" stop-color="#3a98e9"/><stop offset="0.785" stop-color="#4db0ee"/><stop offset="0.925" stop-color="#56b3ef"/><stop offset="0.935" stop-color="#61b7f0"/><stop offset="0.945" stop-color="#90caf3"/><stop offset="0.950" stop-color="#9acff5"/><stop offset="0.960" stop-color="#fcfeff"/><stop offset="0.965" stop-color="#f5b0b6"/><stop offset="0.970" stop-color="#bc1e23"/><stop offset="1.000" stop-color="#96050c"/></linearGradient><linearGradient id="g2_18" x1="0" y1="0" x2="0" y2="1"><stop offset="0.000" stop-color="#fdeff0"/><stop offset="0.175" stop-color="#fdf2f4"/><stop offset="0.205" stop-color="#fafcfe"/><stop offset="0.240" stop-color="#deeffc"/><stop offset="0.285" stop-color="#bedff8"/><stop offset="0.370" stop-color="#c6e3f9"/><stop offset="0.415" stop-color="#eff7fd"/><stop offset="0.430" stop-color="#fffcfc"/><stop offset="0.455" stop-color="#f8cdd2"/><stop offset="0.535" stop-color="#f4a9b0"/><stop offset="0.610" stop-color="#f7bfc4"/><stop offset="0.625" stop-color="#fffdfd"/><stop offset="0.630" stop-color="#f1f8fe"/><stop offset="0.640" stop-color="#4bafee"/><stop offset="0.680" stop-color="#2f89e6"/><stop offset="0.755" stop-color="#3997e9"/><stop offset="0.780" stop-color="#4eb0ee"/><stop offset="0.925" stop-color="#57b4ef"/><stop offset="0.935" stop-color="#61b8f0"/><stop offset="0.945" stop-color="#91caf4"/><stop offset="0.950" stop-color="#9bcff5"/><stop offset="0.960" stop-color="#fcfeff"/><stop offset="0.965" stop-color="#f5b0b6"/><stop offset="0.970" stop-color="#bc1e23"/><stop offset="1.000" stop-color="#96050c"/></linearGradient><linearGradient id="g2_19" x1="0" y1="0" x2="0" y2="1"><stop offset="0.000" stop-color="#fdeff0"/><stop offset="0.175" stop-color="#fdf2f4"/><stop offset="0.205" stop-color="#f9fcfe"/><stop offset="0.280" stop-color="#bedff8"/><stop offset="0.370" stop-color="#c6e3f9"/><stop offset="0.415" stop-color="#f1f8fe"/><stop offset="0.430" stop-color="#fefafb"/><stop offset="0.450" stop-color="#f9cfd3"/><stop offset="0.530" stop-color="#f4a7ae"/><stop offset="0.610" stop-color="#f7c1c6"/><stop offset="0.625" stop-color="#fffefe"/><stop offset="0.630" stop-color="#e8f3fd"/><stop offset="0.635" stop-color="#8cc8f3"/><stop offset="0.640" stop-color="#47aaed"/><stop offset="0.685" stop-color="#2e88e6"/><stop offset="0.755" stop-color="#3896e9"/><stop offset="0.780" stop-color="#4fb0ee"/><stop offset="0.930" stop-color="#58b4ef"/><stop offset="0.940" stop-color="#7ac1f2"/><stop offset="0.945" stop-color="#92cbf4"/><stop offset="0.950" stop-color="#9bcff5"/><stop offset="0.960" stop-color="#fcfeff"/><stop offset="0.965" stop-color="#f5b0b6"/><stop offset="0.970" stop-color="#bc1e23"/><stop offset="1.000" stop-color="#96050c"/></linearGradient><linearGradient id="g2_20" x1="0" y1="0" x2="0" y2="1"><stop offset="0.000" stop-color="#fdeff0"/><stop offset="0.175" stop-color="#fdf2f4"/><stop offset="0.205" stop-color="#f9fcfe"/><stop offset="0.235" stop-color="#e0f0fc"/><stop offset="0.280" stop-color="#bedff8"/><stop offset="0.370" stop-color="#c6e3f9"/><stop offset="0.410" stop-color="#e7f3fd"/><stop offset="0.425" stop-color="#fffefe"/><stop offset="0.450" stop-color="#f8cdd1"/><stop offset="0.530" stop-color="#f4a6ad"/><stop offset="0.605" stop-color="#f6babf"/><stop offset="0.610" stop-color="#f7c3c8"/><stop offset="0.620" stop-color="#fdf4f5"/><stop offset="0.625" stop-color="#ffffff"/><stop offset="0.630" stop-color="#ddeefc"/><stop offset="0.635" stop-color="#79c1f2"/><stop offset="0.640" stop-color="#45a6ec"/><stop offset="0.685" stop-color="#2d85e6"/><stop offset="0.755" stop-color="#3795e9"/><stop offset="0.780" stop-color="#50b1ee"/><stop offset="0.920" stop-color="#58b4ef"/><stop offset="0.935" stop-color="#63b8f0"/><stop offset="0.945" stop-color="#92cbf4"/><stop offset="0.950" stop-color="#9ccff5"/><stop offset="0.960" stop-color="#fcfeff"/><stop offset="0.965" stop-color="#f5b0b6"/><stop offset="0.970" stop-color="#bc1e23"/><stop offset="1.000" stop-color="#96050c"/></linearGradient><linearGradient id="g2_21" x1="0" y1="0" x2="0" y2="1"><stop offset="0.000" stop-color="#fdeff0"/><stop offset="0.175" stop-color="#fdf2f4"/><stop offset="0.205" stop-color="#f9fcfe"/><stop offset="0.240" stop-color="#ddeefc"/><stop offset="0.285" stop-color="#bddff8"/><stop offset="0.365" stop-color="#c2e1f9"/><stop offset="0.410" stop-color="#e9f4fd"/><stop offset="0.420" stop-color="#ffffff"/><stop offset="0.435" stop-color="#fce9eb"/><stop offset="0.450" stop-color="#f8cbd0"/><stop offset="0.530" stop-color="#f4a5ac"/><stop offset="0.605" stop-color="#f6b9be"/><stop offset="0.615" stop-color="#fbdfe3"/><stop offset="0.620" stop-color="#fef7f7"/><stop offset="0.625" stop-color="#ffffff"/><stop offset="0.630" stop-color="#d0e7fa"/><stop offset="0.635" stop-color="#67baf0"/><stop offset="0.640" stop-color="#43a5ec"/><stop offset="0.685" stop-color="#2d80e6"/><stop offset="0.755" stop-color="#3794e9"/><stop offset="0.780" stop-color="#51b1ee"/><stop offset="0.920" stop-color="#59b4ef"/><stop offset="0.935" stop-color="#64b9f0"/><stop offset="0.945" stop-color="#93cbf4"/><stop offset="0.950" stop-color="#9cd0f5"/><stop offset="0.960" stop-color="#fcfeff"/><stop offset="0.965" stop-color="#f5b0b6"/><stop offset="0.970" stop-color="#bc1e23"/><stop offset="1.000" stop-color="#96050c"/></linearGradient><linearGradient id="g2_22" x1="0" y1="0" x2="0" y2="1"><stop offset="0.000" stop-color="#fdeff0"/><stop offset="0.175" stop-color="#fdf2f4"/><stop offset="0.205" stop-color="#f9fcfe"/><stop offset="0.280" stop-color="#bddef8"/><stop offset="0.365" stop-color="#c2e1f9"/><stop offset="0.410" stop-color="#ebf5fd"/><stop offset="0.420" stop-color="#ffffff"/><stop offset="0.450" stop-color="#f8cacf"/><stop offset="0.530" stop-color="#f3a3ab"/><stop offset="0.605" stop-color="#f6b8be"/><stop offset="0.620" stop-color="#fef9fa"/><stop offset="0.625" stop-color="#fcfeff"/><stop offset="0.630" stop-color="#bfdff8"/><stop offset="0.635" stop-color="#57b4ef"/><stop offset="0.640" stop-color="#42a3ec"/><stop offset="0.685" stop-color="#2c7ce6"/><stop offset="0.755" stop-color="#3693e8"/><stop offset="0.780" stop-color="#52b2ee"/><stop offset="0.920" stop-color="#5ab5ef"/><stop offset="0.935" stop-color="#65b9f0"/><stop offset="0.945" stop-color="#93cbf4"/><stop offset="0.950" stop-color="#9dd0f5"/><stop offset="0.960" stop-color="#fcfeff"/><stop offset="0.965" stop-color="#f5b0b6"/><stop offset="0.970" stop-color="#bc1e23"/><stop offset="1.000" stop-color="#96050c"/></linearGradient><linearGradient id="g2_23" x1="0" y1="0" x2="0" y2="1"><stop offset="0.000" stop-color="#fdeff0"/><stop offset="0.175" stop-color="#fdf2f4"/><stop offset="0.205" stop-color="#f9fcfe"/><stop offset="0.230" stop-color="#e1f0fc"/><stop offset="0.280" stop-color="#bcdef8"/><stop offset="0.365" stop-color="#c2e1f9"/><stop offset="0.410" stop-color="#edf6fd"/><stop offset="0.420" stop-color="#ffffff"/><stop offset="0.450" stop-color="#f8c9ce"/><stop offset="0.530" stop-color="#f3a2a9"/><stop offset="0.605" stop-color="#f6b9be"/><stop offset="0.620" stop-color="#fffbfc"/><stop offset="0.625" stop-color="#f7fbfe"/><stop offset="0.630" stop-color="#abd6f6"/><stop offset="0.635" stop-color="#4aadee"/><stop offset="0.680" stop-color="#2c77e6"/><stop offset="0.755" stop-color="#3592e8"/><stop offset="0.780" stop-color="#52b2ef"/><stop offset="0.915" stop-color="#59b4ef"/><stop offset="0.935" stop-color="#65b9f0"/><stop offset="0.945" stop-color="#94ccf4"/><stop offset="0.950" stop-color="#9dd0f5"/><stop offset="0.960" stop-color="#fcfeff"/><stop offset="0.965" stop-color="#f5b0b6"/><stop offset="0.970" stop-color="#bc1e23"/><stop offset="1.000" stop-color="#96050c"/></linearGradient><linearGradient id="g2_24" x1="0" y1="0" x2="0" y2="1"><stop offset="0.000" stop-color="#fdeff0"/><stop offset="0.175" stop-color="#fdf2f4"/><stop offset="0.205" stop-color="#f9fcfe"/><stop offset="0.235" stop-color="#dfeffc"/><stop offset="0.280" stop-color="#bcdef8"/><stop offset="0.365" stop-color="#c2e1f9"/><stop offset="0.405" stop-color="#e3f1fc"/><stop offset="0.415" stop-color="#fdfeff"/><stop offset="0.430" stop-color="#fcebed"/><stop offset="0.445" stop-color="#f8cace"/><stop offset="0.525" stop-color="#f3a0a8"/><stop offset="0.605" stop-color="#f6babf"/><stop offset="0.620" stop-color="#fffdfd"/><stop offset="0.625" stop-color="#f0f7fd"/><stop offset="0.635" stop-color="#44a6ec"/><stop offset="0.670" stop-color="#2c7ee6"/><stop offset="0.690" stop-color="#2c73e7"/><stop offset="0.755" stop-color="#3490e8"/><stop offset="0.775" stop-color="#50b1ee"/><stop offset="0.930" stop-color="#5db6ef"/><stop offset="0.940" stop-color="#7dc2f2"/><stop offset="0.950" stop-color="#9ed0f5"/><stop offset="0.960" stop-color="#fcfeff"/><stop offset="0.965" stop-color="#f5b0b6"/><stop offset="0.970" stop-color="#bc1e23"/><stop offset="1.000" stop-color="#96050c"/></linearGradient><linearGradient id="g2_25" x1="0" y1="0" x2="0" y2="1"><stop offset="0.000" stop-color="#fdeff0"/><stop offset="0.175" stop-color="#fdf2f4"/><stop offset="0.205" stop-color="#f8fcfe"/><stop offset="0.280" stop-color="#bbdef8"/><stop offset="0.365" stop-color="#c2e1f9"/><stop offset="0.405" stop-color="#e4f1fc"/><stop offset="0.415" stop-color="#ffffff"/><stop offset="0.430" stop-color="#fce6e9"/><stop offset="0.445" stop-color="#f8c8cd"/><stop offset="0.525" stop-color="#f39ea6"/><stop offset="0.605" stop-color="#f6bbc0"/><stop offset="0.615" stop-color="#fdeff1"/><stop offset="0.620" stop-color="#fffefe"/><stop offset="0.625" stop-color="#e6f2fc"/><stop offset="0.630" stop-color="#82c4f2"/><stop offset="0.635" stop-color="#40a1eb"/><stop offset="0.665" stop-color="#2d80e6"/><stop offset="0.680" stop-color="#2b66e7"/><stop offset="0.750" stop-color="#2d86e6"/><stop offset="0.775" stop-color="#50b1ee"/><stop offset="0.930" stop-color="#5db6ef"/><stop offset="0.940" stop-color="#7ec3f2"/><stop offset="0.950" stop-color="#9ed1f5"/><stop offset="0.960" stop-color="#fcfeff"/><stop offset="0.965" stop-color="#f5b0b6"/><stop offset="0.970" stop-color="#bc1e23"/><stop offset="1.000" stop-color="#96050c"/></linearGradient><linearGradient id="g2_26" x1="0" y1="0" x2="0" y2="1"><stop offset="0.000" stop-color="#fdeff0"/><stop offset="0.175" stop-color="#fdf2f4"/><stop offset="0.205" stop-color="#f8fcfe"/><stop offset="0.230" stop-color="#e1f0fc"/><stop offset="0.280" stop-color="#bbdef8"/><stop offset="0.365" stop-color="#c2e1f9"/><stop offset="0.405" stop-color="#e6f2fc"/><stop offset="0.415" stop-color="#ffffff"/><stop offset="0.445" stop-color="#f8c6cb"/><stop offset="0.525" stop-color="#f39ca3"/><stop offset="0.600" stop-color="#f5b2b8"/><stop offset="0.605" stop-color="#f6bcc2"/><stop offset="0.615" stop-color="#fdf2f4"/><stop offset="0.620" stop-color="#ffffff"/><stop offset="0.625" stop-color="#daedfb"/><stop offset="0.630" stop-color="#6ebcf1"/><stop offset="0.635" stop-color="#3d9dea"/><stop offset="0.660" stop-color="#2d83e6"/><stop offset="0.675" stop-color="#2955e7"/><stop offset="0.720" stop-color="#2a64e7"/><stop offset="0.750" stop-color="#2c74e7"/><stop offset="0.770" stop-color="#48abed"/><stop offset="0.790" stop-color="#55b3ef"/><stop offset="0.930" stop-color="#5eb6ef"/><stop offset="0.940" stop-color="#7fc3f2"/><stop offset="0.950" stop-color="#9fd1f5"/><stop offset="0.960" stop-color="#fcfeff"/><stop offset="0.965" stop-color="#f5b0b6"/><stop offset="0.970" stop-color="#bc1e23"/><stop offset="1.000" stop-color="#96050c"/></linearGradient><linearGradient id="g2_27" x1="0" y1="0" x2="0" y2="1"><stop offset="0.000" stop-color="#fdeff0"/><stop offset="0.175" stop-color="#fdf2f4"/><stop offset="0.205" stop-color="#f8fcfe"/><stop offset="0.235" stop-color="#deeffc"/><stop offset="0.280" stop-color="#bbdef8"/><stop offset="0.365" stop-color="#c2e1f9"/><stop offset="0.405" stop-color="#e8f3fd"/><stop offset="0.415" stop-color="#fffeff"/><stop offset="0.440" stop-color="#f8c6cb"/><stop offset="0.525" stop-color="#f299a1"/><stop offset="0.600" stop-color="#f5b0b6"/><stop offset="0.605" stop-color="#f7bec4"/><stop offset="0.615" stop-color="#fef6f7"/><stop offset="0.620" stop-color="#ffffff"/><stop offset="0.625" stop-color="#cce6fa"/><stop offset="0.630" stop-color="#5bb5ef"/><stop offset="0.635" stop-color="#3c9bea"/><stop offset="0.655" stop-color="#2e88e6"/><stop offset="0.675" stop-color="#2842e8"/><stop offset="0.715" stop-color="#294de8"/><stop offset="0.750" stop-color="#2a62e7"/><stop offset="0.765" stop-color="#3e9dea"/><stop offset="0.780" stop-color="#56b3ef"/><stop offset="0.930" stop-color="#5fb7f0"/><stop offset="0.940" stop-color="#7fc3f2"/><stop offset="0.950" stop-color="#a0d1f5"/><stop offset="0.960" stop-color="#fcfeff"/><stop offset="0.965" stop-color="#f5b0b6"/><stop offset="0.970" stop-color="#bc1e23"/><stop offset="1.000" stop-color="#96050c"/></linearGradient><linearGradient id="g2_28" x1="0" y1="0" x2="0" y2="1"><stop offset="0.000" stop-color="#fdeff0"/><stop offset="0.175" stop-color="#fdf2f4"/><stop offset="0.200" stop-color="#fdfeff"/><stop offset="0.230" stop-color="#e0f0fc"/><stop offset="0.280" stop-color="#baddf8"/><stop offset="0.360" stop-color="#bedff8"/><stop offset="0.405" stop-color="#e9f4fd"/><stop offset="0.415" stop-color="#fffefe"/><stop offset="0.440" stop-color="#f7c5ca"/><stop offset="0.495" stop-color="#f3a2a9"/><stop offset="0.540" stop-color="#f299a1"/><stop offset="0.600" stop-color="#f5afb5"/><stop offset="0.615" stop-color="#fef8f9"/><stop offset="0.620" stop-color="#fcfdff"/><stop offset="0.625" stop-color="#b9ddf8"/><stop offset="0.630" stop-color="#4aaeee"/><stop offset="0.635" stop-color="#3b99ea"/><stop offset="0.650" stop-color="#308ce7"/><stop offset="0.670" stop-color="#273fe7"/><stop offset="0.745" stop-color="#2846e8"/><stop offset="0.750" stop-color="#2950e8"/><stop offset="0.760" stop-color="#318ce7"/><stop offset="0.775" stop-color="#51b1ee"/><stop offset="0.930" stop-color="#60b7f0"/><stop offset="0.940" stop-color="#80c3f2"/><stop offset="0.950" stop-color="#a0d1f5"/><stop offset="0.960" stop-color="#fcfeff"/><stop offset="0.965" stop-color="#f5b0b6"/><stop offset="0.970" stop-color="#bc1e23"/><stop offset="1.000" stop-color="#96050c"/></linearGradient><linearGradient id="g2_29" x1="0" y1="0" x2="0" y2="1"><stop offset="0.000" stop-color="#fdeff0"/><stop offset="0.175" stop-color="#fdf2f4"/><stop offset="0.200" stop-color="#fdfeff"/><stop offset="0.230" stop-color="#e0f0fc"/><stop offset="0.275" stop-color="#baddf8"/><stop offset="0.360" stop-color="#bedff8"/><stop offset="0.405" stop-color="#e9f4fd"/><stop offset="0.415" stop-color="#ffffff"/><stop offset="0.440" stop-color="#f7c5ca"/><stop offset="0.525" stop-color="#f2939c"/><stop offset="0.600" stop-color="#f5aeb5"/><stop offset="0.615" stop-color="#fefbfb"/><stop offset="0.620" stop-color="#f7fbfe"/><stop offset="0.630" stop-color="#43a5ec"/><stop offset="0.650" stop-color="#2e88e6"/><stop offset="0.665" stop-color="#273fe7"/><stop offset="0.690" stop-color="#2334e1"/><stop offset="0.750" stop-color="#2840e8"/><stop offset="0.760" stop-color="#2e88e6"/><stop offset="0.775" stop-color="#51b1ee"/><stop offset="0.930" stop-color="#61b7f0"/><stop offset="0.940" stop-color="#81c4f2"/><stop offset="0.950" stop-color="#a1d1f5"/><stop offset="0.960" stop-color="#fcfeff"/><stop offset="0.965" stop-color="#f5b0b6"/><stop offset="0.970" stop-color="#bc1e23"/><stop offset="1.000" stop-color="#96050c"/></linearGradient><linearGradient id="g2_30" x1="0" y1="0" x2="0" y2="1"><stop offset="0.000" stop-color="#fdeff0"/><stop offset="0.175" stop-color="#fdf2f4"/><stop offset="0.200" stop-color="#fdfeff"/><stop offset="0.230" stop-color="#e0f0fc"/><stop offset="0.280" stop-color="#b9ddf8"/><stop offset="0.360" stop-color="#bddff8"/><stop offset="0.405" stop-color="#e7f3fd"/><stop offset="0.415" stop-color="#ffffff"/><stop offset="0.430" stop-color="#fbe1e4"/><stop offset="0.445" stop-color="#f7c0c6"/><stop offset="0.490" stop-color="#f3a3aa"/><stop offset="0.530" stop-color="#f1919a"/><stop offset="0.600" stop-color="#f4acb3"/><stop offset="0.615" stop-color="#fefbfb"/><stop offset="0.620" stop-color="#f7fbfe"/><stop offset="0.630" stop-color="#41a2eb"/><stop offset="0.650" stop-color="#2c7ce6"/><stop offset="0.660" stop-color="#2844e8"/><stop offset="0.680" stop-color="#212cdd"/><stop offset="0.750" stop-color="#263ae4"/><stop offset="0.755" stop-color="#294de8"/><stop offset="0.760" stop-color="#2c7de6"/><stop offset="0.770" stop-color="#44a6ec"/><stop offset="0.785" stop-color="#55b3ef"/><stop offset="0.930" stop-color="#5eb6ef"/><stop offset="0.940" stop-color="#7fc3f2"/><stop offset="0.950" stop-color="#9fd1f5"/><stop offset="0.960" stop-color="#fcfeff"/><stop offset="0.965" stop-color="#f5b0b6"/><stop offset="0.970" stop-color="#bc1e23"/><stop offset="1.000" stop-color="#96050c"/></linearGradient><linearGradient id="g2_31" x1="0" y1="0" x2="0" y2="1"><stop offset="0.000" stop-color="#fdeff0"/><stop offset="0.175" stop-color="#fdf2f4"/><stop offset="0.205" stop-color="#f9fcfe"/><stop offset="0.235" stop-color="#dfeffc"/><stop offset="0.280" stop-color="#b9ddf8"/><stop offset="0.365" stop-color="#c0e0f9"/><stop offset="0.405" stop-color="#e3f1fc"/><stop offset="0.415" stop-color="#feffff"/><stop offset="0.430" stop-color="#fbe4e7"/><stop offset="0.445" stop-color="#f7bfc5"/><stop offset="0.485" stop-color="#f4a8ae"/><stop offset="0.525" stop-color="#f18e97"/><stop offset="0.600" stop-color="#f4a8af"/><stop offset="0.610" stop-color="#fadce0"/><stop offset="0.615" stop-color="#fef7f8"/><stop offset="0.620" stop-color="#fdfeff"/><stop offset="0.625" stop-color="#b9ddf8"/><stop offset="0.630" stop-color="#46a8ed"/><stop offset="0.635" stop-color="#338fe8"/><stop offset="0.645" stop-color="#2d86e6"/><stop offset="0.660" stop-color="#273de6"/><stop offset="0.680" stop-color="#1f29d5"/><stop offset="0.750" stop-color="#2434e1"/><stop offset="0.755" stop-color="#273fe7"/><stop offset="0.765" stop-color="#3491e8"/><stop offset="0.780" stop-color="#4fb1ee"/><stop offset="0.915" stop-color="#56b3ef"/><stop offset="0.935" stop-color="#63b8f0"/><stop offset="0.945" stop-color="#92cbf4"/><stop offset="0.950" stop-color="#9ccff5"/><stop offset="0.960" stop-color="#fcfeff"/><stop offset="0.965" stop-color="#f5b0b6"/><stop offset="0.970" stop-color="#bc1e23"/><stop offset="1.000" stop-color="#96050c"/></linearGradient><linearGradient id="g2_32" x1="0" y1="0" x2="0" y2="1"><stop offset="0.000" stop-color="#fdeff0"/><stop offset="0.175" stop-color="#fdf2f4"/><stop offset="0.205" stop-color="#f9fcfe"/><stop offset="0.280" stop-color="#b8dcf8"/><stop offset="0.365" stop-color="#bedff8"/><stop offset="0.405" stop-color="#e1f0fc"/><stop offset="0.415" stop-color="#fdfeff"/><stop offset="0.425" stop-color="#fef5f6"/><stop offset="0.445" stop-color="#f7bec4"/><stop offset="0.490" stop-color="#f3a2aa"/><stop offset="0.530" stop-color="#f18b94"/><stop offset="0.600" stop-color="#f4a5ac"/><stop offset="0.605" stop-color="#f5b4ba"/><stop offset="0.615" stop-color="#fdf3f4"/><stop offset="0.620" stop-color="#ffffff"/><stop offset="0.625" stop-color="#cee6fa"/><stop offset="0.630" stop-color="#4eb0ee"/><stop offset="0.635" stop-color="#2f89e6"/><stop offset="0.645" stop-color="#2c79e6"/><stop offset="0.655" stop-color="#2844e8"/><stop offset="0.670" stop-color="#1f29d5"/><stop offset="0.690" stop-color="#1d27ca"/><stop offset="0.750" stop-color="#212ede"/><stop offset="0.755" stop-color="#253ae4"/><stop offset="0.765" stop-color="#318ce7"/><stop offset="0.775" stop-color="#47aaed"/><stop offset="0.930" stop-color="#53b2ef"/><stop offset="0.935" stop-color="#5db6ef"/><stop offset="0.945" stop-color="#8ec9f3"/><stop offset="0.950" stop-color="#98cef4"/><stop offset="0.960" stop-color="#fcfeff"/><stop offset="0.965" stop-color="#f5b0b6"/><stop offset="0.970" stop-color="#bc1e23"/><stop offset="1.000" stop-color="#96050c"/></linearGradient><linearGradient id="g2_33" x1="0" y1="0" x2="0" y2="1"><stop offset="0.000" stop-color="#fdeff0"/><stop offset="0.175" stop-color="#fdf2f4"/><stop offset="0.205" stop-color="#fafcfe"/><stop offset="0.280" stop-color="#b8dcf8"/><stop offset="0.365" stop-color="#bcdef8"/><stop offset="0.410" stop-color="#e9f4fd"/><stop offset="0.420" stop-color="#fffeff"/><stop offset="0.445" stop-color="#f7bec4"/><stop offset="0.495" stop-color="#f39da5"/><stop offset="0.535" stop-color="#f08892"/><stop offset="0.600" stop-color="#f3a3aa"/><stop offset="0.605" stop-color="#f4adb4"/><stop offset="0.615" stop-color="#fdedef"/><stop offset="0.620" stop-color="#fffeff"/><stop offset="0.625" stop-color="#ddeefc"/><stop offset="0.630" stop-color="#61b7f0"/><stop offset="0.635" stop-color="#2d83e6"/><stop offset="0.645" stop-color="#2b6ce7"/><stop offset="0.655" stop-color="#273de6"/><stop offset="0.670" stop-color="#1d27cb"/><stop offset="0.685" stop-color="#1c26be"/><stop offset="0.750" stop-color="#1f29d8"/><stop offset="0.755" stop-color="#2334e1"/><stop offset="0.760" stop-color="#294ee8"/><stop offset="0.765" stop-color="#2d87e6"/><stop offset="0.775" stop-color="#44a6ec"/><stop offset="0.930" stop-color="#4eb0ee"/><stop offset="0.935" stop-color="#58b4ef"/><stop offset="0.945" stop-color="#8ac7f3"/><stop offset="0.950" stop-color="#95ccf4"/><stop offset="0.960" stop-color="#fcfeff"/><stop offset="0.965" stop-color="#f5b0b6"/><stop offset="0.970" stop-color="#bc1e23"/><stop offset="1.000" stop-color="#96050c"/></linearGradient><linearGradient id="g2_34" x1="0" y1="0" x2="0" y2="1"><stop offset="0.000" stop-color="#fdeff0"/><stop offset="0.175" stop-color="#fdf2f4"/><stop offset="0.205" stop-color="#fafdff"/><stop offset="0.285" stop-color="#b8dcf8"/><stop offset="0.370" stop-color="#bedff8"/><stop offset="0.410" stop-color="#e4f2fc"/><stop offset="0.420" stop-color="#ffffff"/><stop offset="0.435" stop-color="#fadcdf"/><stop offset="0.445" stop-color="#f7bec4"/><stop offset="0.495" stop-color="#f39da4"/><stop offset="0.535" stop-color="#f0858f"/><stop offset="0.605" stop-color="#f4a7ae"/><stop offset="0.615" stop-color="#fce7ea"/><stop offset="0.620" stop-color="#fffdfd"/><stop offset="0.625" stop-color="#ebf5fd"/><stop offset="0.630" stop-color="#77c0f1"/><stop offset="0.635" stop-color="#2d83e6"/><stop offset="0.655" stop-color="#2539e4"/><stop offset="0.675" stop-color="#1a24b5"/><stop offset="0.745" stop-color="#1d27c6"/><stop offset="0.755" stop-color="#212ede"/><stop offset="0.760" stop-color="#2840e8"/><stop offset="0.765" stop-color="#2c7be6"/><stop offset="0.775" stop-color="#41a2eb"/><stop offset="0.930" stop-color="#4aadee"/><stop offset="0.935" stop-color="#53b2ef"/><stop offset="0.945" stop-color="#86c6f3"/><stop offset="0.950" stop-color="#91caf4"/><stop offset="0.960" stop-color="#fcfeff"/><stop offset="0.965" stop-color="#f5b0b6"/><stop offset="0.970" stop-color="#bc1e23"/><stop offset="1.000" stop-color="#96050c"/></linearGradient><linearGradient id="g2_35" x1="0" y1="0" x2="0" y2="1"><stop offset="0.000" stop-color="#fdeff0"/><stop offset="0.175" stop-color="#fdf2f4"/><stop offset="0.205" stop-color="#fafdff"/><stop offset="0.265" stop-color="#c6e3f9"/><stop offset="0.295" stop-color="#b7dcf8"/><stop offset="0.370" stop-color="#bcdef8"/><stop offset="0.410" stop-color="#e1f0fc"/><stop offset="0.420" stop-color="#ffffff"/><stop offset="0.435" stop-color="#fbdee2"/><stop offset="0.450" stop-color="#f6b9bf"/><stop offset="0.495" stop-color="#f39ca4"/><stop offset="0.540" stop-color="#f0828c"/><stop offset="0.605" stop-color="#f3a1a8"/><stop offset="0.620" stop-color="#fefafb"/><stop offset="0.625" stop-color="#f6fafe"/><stop offset="0.630" stop-color="#8fcaf3"/><stop offset="0.635" stop-color="#2f8ae7"/><stop offset="0.640" stop-color="#2a5de7"/><stop offset="0.660" stop-color="#202adc"/><stop offset="0.675" stop-color="#1923ae"/><stop offset="0.745" stop-color="#1c26bf"/><stop offset="0.755" stop-color="#202adc"/><stop offset="0.760" stop-color="#263ce6"/><stop offset="0.765" stop-color="#2b6fe7"/><stop offset="0.770" stop-color="#3592e8"/><stop offset="0.780" stop-color="#42a3ec"/><stop offset="0.930" stop-color="#47aaed"/><stop offset="0.935" stop-color="#4eb0ee"/><stop offset="0.945" stop-color="#83c4f2"/><stop offset="0.950" stop-color="#8dc9f3"/><stop offset="0.960" stop-color="#fcfeff"/><stop offset="0.965" stop-color="#f5b0b6"/><stop offset="0.970" stop-color="#bc1e23"/><stop offset="1.000" stop-color="#96050c"/></linearGradient><linearGradient id="g2_36" x1="0" y1="0" x2="0" y2="1"><stop offset="0.000" stop-color="#fdeff0"/><stop offset="0.175" stop-color="#fdf2f4"/><stop offset="0.205" stop-color="#fbfdff"/><stop offset="0.270" stop-color="#c2e1f9"/><stop offset="0.305" stop-color="#b7dcf8"/><stop offset="0.370" stop-color="#bbddf8"/><stop offset="0.415" stop-color="#ebf5fd"/><stop offset="0.420" stop-color="#fefeff"/><stop offset="0.430" stop-color="#fdf2f3"/><stop offset="0.450" stop-color="#f6b7bd"/><stop offset="0.490" stop-color="#f3a0a8"/><stop offset="0.535" stop-color="#ef7e88"/><stop offset="0.605" stop-color="#f39ca4"/><stop offset="0.620" stop-color="#fef6f7"/><stop offset="0.625" stop-color="#fdfeff"/><stop offset="0.630" stop-color="#a9d5f6"/><stop offset="0.635" stop-color="#3591e8"/><stop offset="0.640" stop-color="#294ee8"/><stop offset="0.660" stop-color="#1f29d8"/><stop offset="0.675" stop-color="#1923ab"/><stop offset="0.745" stop-color="#1b25bc"/><stop offset="0.750" stop-color="#1c26c3"/><stop offset="0.760" stop-color="#263ae4"/><stop offset="0.770" stop-color="#338ee7"/><stop offset="0.785" stop-color="#3fa0eb"/><stop offset="0.930" stop-color="#45a6ec"/><stop offset="0.935" stop-color="#4aadee"/><stop offset="0.945" stop-color="#7fc3f2"/><stop offset="0.950" stop-color="#8ac7f3"/><stop offset="0.960" stop-color="#fcfdff"/><stop offset="0.965" stop-color="#f5b0b6"/><stop offset="0.970" stop-color="#bc1e23"/><stop offset="1.000" stop-color="#96050c"/></linearGradient><linearGradient id="g2_37" x1="0" y1="0" x2="0" y2="1"><stop offset="0.000" stop-color="#fdeff0"/><stop offset="0.175" stop-color="#fdf2f4"/><stop offset="0.205" stop-color="#fbfdff"/><stop offset="0.265" stop-color="#cbe5fa"/><stop offset="0.290" stop-color="#b6dcf8"/><stop offset="0.375" stop-color="#bddff8"/><stop offset="0.415" stop-color="#e5f2fc"/><stop offset="0.420" stop-color="#fbfdff"/><stop offset="0.430" stop-color="#fef4f5"/><stop offset="0.450" stop-color="#f6b6bc"/><stop offset="0.495" stop-color="#f29aa2"/><stop offset="0.540" stop-color="#ee7984"/><stop offset="0.605" stop-color="#f298a0"/><stop offset="0.610" stop-color="#f4a9b0"/><stop offset="0.620" stop-color="#fdf1f3"/><stop offset="0.625" stop-color="#ffffff"/><stop offset="0.630" stop-color="#c3e1f9"/><stop offset="0.635" stop-color="#3d9cea"/><stop offset="0.640" stop-color="#2840e8"/><stop offset="0.660" stop-color="#1f29d4"/><stop offset="0.675" stop-color="#1822a8"/><stop offset="0.745" stop-color="#1b25b9"/><stop offset="0.750" stop-color="#1c26c0"/><stop offset="0.760" stop-color="#2538e3"/><stop offset="0.770" stop-color="#308be7"/><stop offset="0.780" stop-color="#3d9cea"/><stop offset="0.930" stop-color="#42a3ec"/><stop offset="0.935" stop-color="#47aaed"/><stop offset="0.945" stop-color="#7bc1f2"/><stop offset="0.950" stop-color="#86c6f3"/><stop offset="0.960" stop-color="#fcfdff"/><stop offset="0.965" stop-color="#f5b0b6"/><stop offset="0.970" stop-color="#bc1e23"/><stop offset="1.000" stop-color="#96050c"/></linearGradient><linearGradient id="g2_38" x1="0" y1="0" x2="0" y2="1"><stop offset="0.000" stop-color="#fdeff0"/><stop offset="0.175" stop-color="#fdf2f4"/><stop offset="0.205" stop-color="#fbfdff"/><stop offset="0.270" stop-color="#c6e3f9"/><stop offset="0.300" stop-color="#b6dbf8"/><stop offset="0.375" stop-color="#bbdef8"/><stop offset="0.415" stop-color="#e2f0fc"/><stop offset="0.425" stop-color="#ffffff"/><stop offset="0.440" stop-color="#f9d4d9"/><stop offset="0.450" stop-color="#f5b6bc"/><stop offset="0.500" stop-color="#f2949d"/><stop offset="0.545" stop-color="#ed7580"/><stop offset="0.605" stop-color="#f2959e"/><stop offset="0.610" stop-color="#f3a1a8"/><stop offset="0.620" stop-color="#fcebed"/><stop offset="0.625" stop-color="#fffefe"/><stop offset="0.630" stop-color="#d8ebfb"/><stop offset="0.635" stop-color="#48aaed"/><stop offset="0.640" stop-color="#273de6"/><stop offset="0.655" stop-color="#212ddd"/><stop offset="0.675" stop-color="#1822a5"/><stop offset="0.745" stop-color="#1a24b6"/><stop offset="0.755" stop-color="#1f29d2"/><stop offset="0.760" stop-color="#2435e2"/><stop offset="0.765" stop-color="#2a56e7"/><stop offset="0.770" stop-color="#2e88e6"/><stop offset="0.785" stop-color="#3a98e9"/><stop offset="0.930" stop-color="#3fa0eb"/><stop offset="0.935" stop-color="#45a7ec"/><stop offset="0.945" stop-color="#77c0f1"/><stop offset="0.950" stop-color="#83c5f2"/><stop offset="0.960" stop-color="#fcfdff"/><stop offset="0.965" stop-color="#f5b0b6"/><stop offset="0.970" stop-color="#bc1e23"/><stop offset="1.000" stop-color="#96050c"/></linearGradient><linearGradient id="g2_39" x1="0" y1="0" x2="0" y2="1"><stop offset="0.000" stop-color="#fdeff0"/><stop offset="0.175" stop-color="#fdf2f4"/><stop offset="0.205" stop-color="#fcfdff"/><stop offset="0.270" stop-color="#c8e4f9"/><stop offset="0.295" stop-color="#b5dbf7"/><stop offset="0.375" stop-color="#b9ddf8"/><stop offset="0.415" stop-color="#e1f0fc"/><stop offset="0.425" stop-color="#ffffff"/><stop offset="0.435" stop-color="#fcebed"/><stop offset="0.450" stop-color="#f5b6bc"/><stop offset="0.510" stop-color="#f18992"/><stop offset="0.550" stop-color="#ec717c"/><stop offset="0.610" stop-color="#f299a1"/><stop offset="0.620" stop-color="#fbe4e7"/><stop offset="0.625" stop-color="#fffdfd"/><stop offset="0.630" stop-color="#e8f3fd"/><stop offset="0.635" stop-color="#5eb6ef"/><stop offset="0.640" stop-color="#273ee6"/><stop offset="0.655" stop-color="#202adb"/><stop offset="0.675" stop-color="#1821a3"/><stop offset="0.745" stop-color="#1a24b3"/><stop offset="0.755" stop-color="#1e28ce"/><stop offset="0.760" stop-color="#2333e1"/><stop offset="0.765" stop-color="#294ee8"/><stop offset="0.770" stop-color="#2d80e6"/><stop offset="0.780" stop-color="#3795e9"/><stop offset="0.930" stop-color="#3d9cea"/><stop offset="0.935" stop-color="#42a4ec"/><stop offset="0.945" stop-color="#73bef1"/><stop offset="0.950" stop-color="#7fc3f2"/><stop offset="0.960" stop-color="#fcfdff"/><stop offset="0.965" stop-color="#f5b0b6"/><stop offset="0.970" stop-color="#bc1e23"/><stop offset="1.000" stop-color="#96050c"/></linearGradient><linearGradient id="g2_40" x1="0" y1="0" x2="0" y2="1"><stop offset="0.000" stop-color="#fdeff0"/><stop offset="0.175" stop-color="#fdf2f4"/><stop offset="0.205" stop-color="#fcfdff"/><stop offset="0.270" stop-color="#cae5fa"/><stop offset="0.295" stop-color="#b5dbf7"/><stop offset="0.380" stop-color="#bcdef8"/><stop offset="0.420" stop-color="#e6f3fd"/><stop offset="0.425" stop-color="#fdfeff"/><stop offset="0.435" stop-color="#fdf1f3"/><stop offset="0.450" stop-color="#f6b9be"/><stop offset="0.520" stop-color="#ef7d88"/><stop offset="0.555" stop-color="#ec6d79"/><stop offset="0.610" stop-color="#f2939b"/><stop offset="0.625" stop-color="#fef9fa"/><stop offset="0.630" stop-color="#f4fafe"/><stop offset="0.635" stop-color="#7cc2f2"/><stop offset="0.640" stop-color="#2847e8"/><stop offset="0.645" stop-color="#2230df"/><stop offset="0.660" stop-color="#1d27c6"/><stop offset="0.675" stop-color="#1721a1"/><stop offset="0.745" stop-color="#1a24b0"/><stop offset="0.755" stop-color="#1d27cb"/><stop offset="0.765" stop-color="#2845e8"/><stop offset="0.770" stop-color="#2c76e6"/><stop offset="0.775" stop-color="#318de7"/><stop offset="0.930" stop-color="#3a98ea"/><stop offset="0.940" stop-color="#51b1ee"/><stop offset="0.945" stop-color="#6fbdf1"/><stop offset="0.950" stop-color="#7cc2f2"/><stop offset="0.960" stop-color="#fcfdff"/><stop offset="0.965" stop-color="#f5b0b6"/><stop offset="0.970" stop-color="#bc1e23"/><stop offset="1.000" stop-color="#96050c"/></linearGradient><linearGradient id="g2_41" x1="0" y1="0" x2="0" y2="1"><stop offset="0.000" stop-color="#fdeff0"/><stop offset="0.175" stop-color="#fdf2f4"/><stop offset="0.205" stop-color="#fcfeff"/><stop offset="0.270" stop-color="#cce6fa"/><stop offset="0.295" stop-color="#b5dbf7"/><stop offset="0.380" stop-color="#baddf8"/><stop offset="0.415" stop-color="#e0f0fc"/><stop offset="0.420" stop-color="#e1f0fc"/><stop offset="0.430" stop-color="#ffffff"/><stop offset="0.440" stop-color="#fceaed"/><stop offset="0.455" stop-color="#f5b3b8"/><stop offset="0.515" stop-color="#f0838d"/><stop offset="0.550" stop-color="#eb6874"/><stop offset="0.610" stop-color="#f18d96"/><stop offset="0.615" stop-color="#f4a7ae"/><stop offset="0.625" stop-color="#fef5f6"/><stop offset="0.630" stop-color="#fcfeff"/><stop offset="0.635" stop-color="#9bcff5"/><stop offset="0.640" stop-color="#2b69e7"/><stop offset="0.645" stop-color="#212ede"/><stop offset="0.660" stop-color="#1c26c3"/><stop offset="0.675" stop-color="#17219f"/><stop offset="0.750" stop-color="#1a24b4"/><stop offset="0.760" stop-color="#212ede"/><stop offset="0.765" stop-color="#273fe7"/><stop offset="0.770" stop-color="#2b6ce7"/><stop offset="0.775" stop-color="#2e89e6"/><stop offset="0.930" stop-color="#3795e9"/><stop offset="0.940" stop-color="#4cafee"/><stop offset="0.945" stop-color="#6bbbf0"/><stop offset="0.950" stop-color="#78c0f1"/><stop offset="0.960" stop-color="#fcfdff"/><stop offset="0.965" stop-color="#f5b0b6"/><stop offset="0.970" stop-color="#bc1e23"/><stop offset="1.000" stop-color="#96050c"/></linearGradient><linearGradient id="g2_42" x1="0" y1="0" x2="0" y2="1"><stop offset="0.000" stop-color="#fdeff0"/><stop offset="0.175" stop-color="#fdf2f4"/><stop offset="0.205" stop-color="#fcfeff"/><stop offset="0.270" stop-color="#cee7fa"/><stop offset="0.300" stop-color="#b4daf7"/><stop offset="0.380" stop-color="#b8dcf8"/><stop offset="0.425" stop-color="#e9f4fd"/><stop offset="0.435" stop-color="#fffefe"/><stop offset="0.450" stop-color="#f8cdd2"/><stop offset="0.460" stop-color="#f4adb3"/><stop offset="0.510" stop-color="#f08992"/><stop offset="0.550" stop-color="#ea6471"/><stop offset="0.580" stop-color="#ed747f"/><stop offset="0.610" stop-color="#f18a93"/><stop offset="0.615" stop-color="#f39da5"/><stop offset="0.625" stop-color="#fdeff1"/><stop offset="0.630" stop-color="#ffffff"/><stop offset="0.635" stop-color="#bbdef8"/><stop offset="0.640" stop-color="#328ee7"/><stop offset="0.645" stop-color="#212dde"/><stop offset="0.655" stop-color="#1f29d3"/><stop offset="0.675" stop-color="#17209d"/><stop offset="0.750" stop-color="#1a24b0"/><stop offset="0.760" stop-color="#212bdd"/><stop offset="0.765" stop-color="#263ce6"/><stop offset="0.775" stop-color="#2d81e6"/><stop offset="0.815" stop-color="#2e89e6"/><stop offset="0.930" stop-color="#3491e8"/><stop offset="0.940" stop-color="#49adee"/><stop offset="0.945" stop-color="#67baf0"/><stop offset="0.950" stop-color="#74bff1"/><stop offset="0.960" stop-color="#fbfdff"/><stop offset="0.965" stop-color="#f5b0b6"/><stop offset="0.970" stop-color="#bc1e23"/><stop offset="1.000" stop-color="#96050c"/></linearGradient><linearGradient id="g2_43" x1="0" y1="0" x2="0" y2="1"><stop offset="0.000" stop-color="#fdeff0"/><stop offset="0.175" stop-color="#fdf2f4"/><stop offset="0.205" stop-color="#fcfeff"/><stop offset="0.270" stop-color="#d0e8fa"/><stop offset="0.295" stop-color="#b4daf7"/><stop offset="0.385" stop-color="#bbdef8"/><stop offset="0.425" stop-color="#e3f1fc"/><stop offset="0.435" stop-color="#ffffff"/><stop offset="0.445" stop-color="#fdeef0"/><stop offset="0.460" stop-color="#f5b2b8"/><stop offset="0.520" stop-color="#ef7c87"/><stop offset="0.560" stop-color="#e95f6c"/><stop offset="0.610" stop-color="#f08790"/><stop offset="0.615" stop-color="#f2949c"/><stop offset="0.625" stop-color="#fce9eb"/><stop offset="0.630" stop-color="#fffefe"/><stop offset="0.635" stop-color="#d5eafb"/><stop offset="0.640" stop-color="#40a1eb"/><stop offset="0.645" stop-color="#222fdf"/><stop offset="0.660" stop-color="#1d27c4"/><stop offset="0.675" stop-color="#17209c"/><stop offset="0.750" stop-color="#1923ad"/><stop offset="0.760" stop-color="#202ada"/><stop offset="0.765" stop-color="#2539e4"/><stop offset="0.775" stop-color="#2c76e6"/><stop offset="0.785" stop-color="#2d81e6"/><stop offset="0.910" stop-color="#2f89e6"/><stop offset="0.935" stop-color="#3895e9"/><stop offset="0.945" stop-color="#63b8f0"/><stop offset="0.950" stop-color="#70bdf1"/><stop offset="0.960" stop-color="#fbfdff"/><stop offset="0.965" stop-color="#f5b0b6"/><stop offset="0.970" stop-color="#bc1e23"/><stop offset="1.000" stop-color="#96050c"/></linearGradient><linearGradient id="g2_44" x1="0" y1="0" x2="0" y2="1"><stop offset="0.000" stop-color="#fdeff0"/><stop offset="0.175" stop-color="#fdf2f4"/><stop offset="0.205" stop-color="#fdfeff"/><stop offset="0.275" stop-color="#cce5fa"/><stop offset="0.300" stop-color="#b3daf7"/><stop offset="0.385" stop-color="#b9ddf8"/><stop offset="0.420" stop-color="#e0f0fc"/><stop offset="0.430" stop-color="#ebf5fd"/><stop offset="0.440" stop-color="#ffffff"/><stop offset="0.450" stop-color="#fce6e9"/><stop offset="0.465" stop-color="#f4abb1"/><stop offset="0.515" stop-color="#f0848e"/><stop offset="0.555" stop-color="#e95c69"/><stop offset="0.585" stop-color="#ec6d79"/><stop offset="0.615" stop-color="#f18b95"/><stop offset="0.625" stop-color="#fbe1e4"/><stop offset="0.630" stop-color="#fffcfd"/><stop offset="0.635" stop-color="#e6f3fd"/><stop offset="0.640" stop-color="#56b3ef"/><stop offset="0.645" stop-color="#2435e2"/><stop offset="0.660" stop-color="#1d27c5"/><stop offset="0.675" stop-color="#16209a"/><stop offset="0.750" stop-color="#1923aa"/><stop offset="0.765" stop-color="#2436e2"/><stop offset="0.775" stop-color="#2b6be7"/><stop offset="0.785" stop-color="#2c76e6"/><stop offset="0.905" stop-color="#2c7ee6"/><stop offset="0.935" stop-color="#3592e8"/><stop offset="0.945" stop-color="#5eb6ef"/><stop offset="0.950" stop-color="#6cbcf1"/><stop offset="0.960" stop-color="#fbfdff"/><stop offset="0.965" stop-color="#f5b0b6"/><stop offset="0.970" stop-color="#bc1e23"/><stop offset="1.000" stop-color="#96050c"/></linearGradient><linearGradient id="g2_45" x1="0" y1="0" x2="0" y2="1"><stop offset="0.000" stop-color="#fdeff0"/><stop offset="0.175" stop-color="#fdf2f4"/><stop offset="0.205" stop-color="#fdfeff"/><stop offset="0.275" stop-color="#cde6fa"/><stop offset="0.300" stop-color="#b3daf7"/><stop offset="0.385" stop-color="#b8dcf8"/><stop offset="0.420" stop-color="#e0effc"/><stop offset="0.435" stop-color="#f4f9fe"/><stop offset="0.445" stop-color="#fffdfd"/><stop offset="0.460" stop-color="#f8c7cc"/><stop offset="0.470" stop-color="#f4a6ad"/><stop offset="0.510" stop-color="#f18a94"/><stop offset="0.555" stop-color="#e85966"/><stop offset="0.585" stop-color="#eb6975"/><stop offset="0.615" stop-color="#f08690"/><stop offset="0.625" stop-color="#fadbdf"/><stop offset="0.630" stop-color="#fefafb"/><stop offset="0.635" stop-color="#eff7fd"/><stop offset="0.640" stop-color="#6bbbf0"/><stop offset="0.645" stop-color="#263be5"/><stop offset="0.655" stop-color="#1f29d6"/><stop offset="0.670" stop-color="#1721a1"/><stop offset="0.695" stop-color="#161f98"/><stop offset="0.750" stop-color="#1822a8"/><stop offset="0.765" stop-color="#2334e1"/><stop offset="0.780" stop-color="#2b6ae7"/><stop offset="0.900" stop-color="#2b6fe7"/><stop offset="0.935" stop-color="#328ee7"/><stop offset="0.945" stop-color="#5ab5ef"/><stop offset="0.950" stop-color="#68baf0"/><stop offset="0.960" stop-color="#fbfdff"/><stop offset="0.965" stop-color="#f5b0b6"/><stop offset="0.970" stop-color="#bc1e23"/><stop offset="1.000" stop-color="#96050c"/></linearGradient><linearGradient id="g2_46" x1="0" y1="0" x2="0" y2="1"><stop offset="0.000" stop-color="#fdeff0"/><stop offset="0.175" stop-color="#fdf2f4"/><stop offset="0.205" stop-color="#fdfeff"/><stop offset="0.275" stop-color="#cee6fa"/><stop offset="0.300" stop-color="#b3daf7"/><stop offset="0.385" stop-color="#b7dcf8"/><stop offset="0.425" stop-color="#e1f0fc"/><stop offset="0.445" stop-color="#ffffff"/><stop offset="0.455" stop-color="#fcebed"/><stop offset="0.470" stop-color="#f4abb2"/><stop offset="0.520" stop-color="#ef7e88"/><stop offset="0.560" stop-color="#e75663"/><stop offset="0.595" stop-color="#ed747f"/><stop offset="0.615" stop-color="#f0848e"/><stop offset="0.630" stop-color="#fef9fa"/><stop offset="0.635" stop-color="#f2f9fe"/><stop offset="0.640" stop-color="#74bff1"/><stop offset="0.645" stop-color="#273de6"/><stop offset="0.650" stop-color="#202bdd"/><stop offset="0.660" stop-color="#1d27c6"/><stop offset="0.670" stop-color="#1721a1"/><stop offset="0.695" stop-color="#161f98"/><stop offset="0.750" stop-color="#1822a8"/><stop offset="0.765" stop-color="#2331e0"/><stop offset="0.780" stop-color="#2a5ee7"/><stop offset="0.900" stop-color="#2a63e7"/><stop offset="0.930" stop-color="#2c78e6"/><stop offset="0.940" stop-color="#40a0eb"/><stop offset="0.950" stop-color="#64b9f0"/><stop offset="0.960" stop-color="#fbfdff"/><stop offset="0.965" stop-color="#f5b0b6"/><stop offset="0.970" stop-color="#bc1e23"/><stop offset="1.000" stop-color="#96050c"/></linearGradient><linearGradient id="g2_47" x1="0" y1="0" x2="0" y2="1"><stop offset="0.000" stop-color="#fdeff0"/><stop offset="0.175" stop-color="#fdf2f4"/><stop offset="0.205" stop-color="#fdfeff"/><stop offset="0.275" stop-color="#cee7fa"/><stop offset="0.300" stop-color="#b2daf7"/><stop offset="0.385" stop-color="#b6dbf8"/><stop offset="0.425" stop-color="#e1f0fc"/><stop offset="0.450" stop-color="#fffefe"/><stop offset="0.460" stop-color="#fbe3e6"/><stop offset="0.475" stop-color="#f4a6ad"/><stop offset="0.515" stop-color="#f08690"/><stop offset="0.555" stop-color="#e75563"/><stop offset="0.585" stop-color="#ea6571"/><stop offset="0.615" stop-color="#ef818b"/><stop offset="0.620" stop-color="#f4a4ac"/><stop offset="0.625" stop-color="#f9d6da"/><stop offset="0.630" stop-color="#fef8f9"/><stop offset="0.635" stop-color="#f5fafe"/><stop offset="0.640" stop-color="#7cc2f2"/><stop offset="0.645" stop-color="#2840e7"/><stop offset="0.650" stop-color="#202bdd"/><stop offset="0.660" stop-color="#1d27c6"/><stop offset="0.675" stop-color="#161f9a"/><stop offset="0.750" stop-color="#1822a8"/><stop offset="0.765" stop-color="#222fdf"/><stop offset="0.780" stop-color="#2952e8"/><stop offset="0.900" stop-color="#2a58e7"/><stop offset="0.930" stop-color="#2b6ce7"/><stop offset="0.935" stop-color="#2d87e6"/><stop offset="0.945" stop-color="#52b2ef"/><stop offset="0.950" stop-color="#60b7f0"/><stop offset="0.960" stop-color="#fbfdff"/><stop offset="0.965" stop-color="#f5b0b6"/><stop offset="0.970" stop-color="#bc1e23"/><stop offset="1.000" stop-color="#96050c"/></linearGradient><linearGradient id="g2_48" x1="0" y1="0" x2="0" y2="1"><stop offset="0.000" stop-color="#fdeff0"/><stop offset="0.175" stop-color="#fdf2f4"/><stop offset="0.205" stop-color="#fdfeff"/><stop offset="0.275" stop-color="#cfe7fa"/><stop offset="0.300" stop-color="#b2daf7"/><stop offset="0.385" stop-color="#b6dbf7"/><stop offset="0.425" stop-color="#e1f0fc"/><stop offset="0.450" stop-color="#ffffff"/><stop offset="0.460" stop-color="#fceaec"/><stop offset="0.475" stop-color="#f4a9b0"/><stop offset="0.520" stop-color="#ef7e88"/><stop offset="0.555" stop-color="#e75361"/><stop offset="0.580" stop-color="#e95d69"/><stop offset="0.615" stop-color="#ef7f89"/><stop offset="0.620" stop-color="#f3a1a8"/><stop offset="0.630" stop-color="#fef7f8"/><stop offset="0.635" stop-color="#f8fbfe"/><stop offset="0.640" stop-color="#85c5f2"/><stop offset="0.645" stop-color="#2847e8"/><stop offset="0.650" stop-color="#202bdc"/><stop offset="0.660" stop-color="#1d27c6"/><stop offset="0.675" stop-color="#16209a"/><stop offset="0.750" stop-color="#1822a8"/><stop offset="0.765" stop-color="#212ede"/><stop offset="0.785" stop-color="#294ae8"/><stop offset="0.900" stop-color="#294fe8"/><stop offset="0.930" stop-color="#2b65e7"/><stop offset="0.935" stop-color="#2c80e6"/><stop offset="0.945" stop-color="#4fb0ee"/><stop offset="0.950" stop-color="#5eb6ef"/><stop offset="0.960" stop-color="#fbfdff"/><stop offset="0.965" stop-color="#f5b0b6"/><stop offset="0.970" stop-color="#bc1e23"/><stop offset="1.000" stop-color="#96050c"/></linearGradient><linearGradient id="g2_49" x1="0" y1="0" x2="0" y2="1"><stop offset="0.000" stop-color="#fdeff0"/><stop offset="0.175" stop-color="#fdf2f4"/><stop offset="0.205" stop-color="#fdfeff"/><stop offset="0.275" stop-color="#cfe7fa"/><stop offset="0.300" stop-color="#b2d9f7"/><stop offset="0.385" stop-color="#b5dbf7"/><stop offset="0.425" stop-color="#e1f0fc"/><stop offset="0.455" stop-color="#fefafb"/><stop offset="0.475" stop-color="#f4a9b0"/><stop offset="0.520" stop-color="#ef7c87"/><stop offset="0.555" stop-color="#e7515f"/><stop offset="0.580" stop-color="#e85a67"/><stop offset="0.615" stop-color="#ef7c87"/><stop offset="0.620" stop-color="#f39da5"/><stop offset="0.630" stop-color="#fef6f7"/><stop offset="0.635" stop-color="#fafcfe"/><stop offset="0.640" stop-color="#8dc8f3"/><stop offset="0.645" stop-color="#2951e8"/><stop offset="0.650" stop-color="#202bdc"/><stop offset="0.660" stop-color="#1d27c6"/><stop offset="0.675" stop-color="#16209a"/><stop offset="0.750" stop-color="#1822a8"/><stop offset="0.765" stop-color="#212ddd"/><stop offset="0.785" stop-color="#2845e8"/><stop offset="0.900" stop-color="#294be8"/><stop offset="0.930" stop-color="#2a60e7"/><stop offset="0.940" stop-color="#3b9aea"/><stop offset="0.945" stop-color="#4db0ee"/><stop offset="0.950" stop-color="#5cb6ef"/><stop offset="0.960" stop-color="#fbfdff"/><stop offset="0.965" stop-color="#f5b0b6"/><stop offset="0.970" stop-color="#bc1e23"/><stop offset="1.000" stop-color="#96050c"/></linearGradient><linearGradient id="g2_50" x1="0" y1="0" x2="0" y2="1"><stop offset="0.000" stop-color="#fdeff0"/><stop offset="0.175" stop-color="#fdf2f4"/><stop offset="0.205" stop-color="#fdfeff"/><stop offset="0.275" stop-color="#cfe7fa"/><stop offset="0.305" stop-color="#b1d9f7"/><stop offset="0.390" stop-color="#b9ddf8"/><stop offset="0.425" stop-color="#e1f0fc"/><stop offset="0.455" stop-color="#fefbfb"/><stop offset="0.475" stop-color="#f4a9af"/><stop offset="0.520" stop-color="#ee7b86"/><stop offset="0.555" stop-color="#e64f5d"/><stop offset="0.580" stop-color="#e85865"/><stop offset="0.615" stop-color="#ee7a84"/><stop offset="0.620" stop-color="#f29aa2"/><stop offset="0.630" stop-color="#fef4f5"/><stop offset="0.635" stop-color="#fbfdff"/><stop offset="0.640" stop-color="#95ccf4"/><stop offset="0.645" stop-color="#2a5be7"/><stop offset="0.650" stop-color="#202adc"/><stop offset="0.660" stop-color="#1d27c6"/><stop offset="0.675" stop-color="#16209a"/><stop offset="0.750" stop-color="#1822a8"/><stop offset="0.765" stop-color="#212cdd"/><stop offset="0.780" stop-color="#2841e8"/><stop offset="0.900" stop-color="#2846e8"/><stop offset="0.930" stop-color="#2a5be7"/><stop offset="0.940" stop-color="#3a98e9"/><stop offset="0.945" stop-color="#4bafee"/><stop offset="0.950" stop-color="#5ab5ef"/><stop offset="0.960" stop-color="#fbfdff"/><stop offset="0.965" stop-color="#f5b0b6"/><stop offset="0.970" stop-color="#bc1e23"/><stop offset="1.000" stop-color="#96050c"/></linearGradient><linearGradient id="g2_51" x1="0" y1="0" x2="0" y2="1"><stop offset="0.000" stop-color="#fdeff0"/><stop offset="0.175" stop-color="#fdf2f4"/><stop offset="0.205" stop-color="#fdfeff"/><stop offset="0.275" stop-color="#d0e7fa"/><stop offset="0.300" stop-color="#b1d9f7"/><stop offset="0.390" stop-color="#b8dcf8"/><stop offset="0.425" stop-color="#e1f0fc"/><stop offset="0.455" stop-color="#fefbfb"/><stop offset="0.475" stop-color="#f4a8af"/><stop offset="0.520" stop-color="#ee7a84"/><stop offset="0.555" stop-color="#e64d5b"/><stop offset="0.580" stop-color="#e75663"/><stop offset="0.615" stop-color="#ee7782"/><stop offset="0.620" stop-color="#f2969f"/><stop offset="0.630" stop-color="#fdf3f4"/><stop offset="0.635" stop-color="#fdfeff"/><stop offset="0.640" stop-color="#9ed0f5"/><stop offset="0.645" stop-color="#2b66e7"/><stop offset="0.650" stop-color="#202adc"/><stop offset="0.660" stop-color="#1d27c7"/><stop offset="0.670" stop-color="#1821a2"/><stop offset="0.695" stop-color="#161f99"/><stop offset="0.750" stop-color="#1923a8"/><stop offset="0.765" stop-color="#202bdc"/><stop offset="0.780" stop-color="#273fe7"/><stop offset="0.905" stop-color="#2845e8"/><stop offset="0.930" stop-color="#2a57e7"/><stop offset="0.940" stop-color="#3997e9"/><stop offset="0.945" stop-color="#4aaeee"/><stop offset="0.950" stop-color="#59b4ef"/><stop offset="0.960" stop-color="#fbfdff"/><stop offset="0.965" stop-color="#f5b0b6"/><stop offset="0.970" stop-color="#bc1e23"/><stop offset="1.000" stop-color="#96050c"/></linearGradient><linearGradient id="g2_52" x1="0" y1="0" x2="0" y2="1"><stop offset="0.000" stop-color="#fdeff0"/><stop offset="0.175" stop-color="#fdf2f4"/><stop offset="0.205" stop-color="#fdfeff"/><stop offset="0.275" stop-color="#d0e8fa"/><stop offset="0.300" stop-color="#b1d9f7"/><stop offset="0.390" stop-color="#b8dcf8"/><stop offset="0.425" stop-color="#e1f0fc"/><stop offset="0.455" stop-color="#fffbfc"/><stop offset="0.475" stop-color="#f4a8af"/><stop offset="0.520" stop-color="#ee7883"/><stop offset="0.555" stop-color="#e54c5a"/><stop offset="0.585" stop-color="#e85a67"/><stop offset="0.615" stop-color="#ed7580"/><stop offset="0.620" stop-color="#f2939b"/><stop offset="0.630" stop-color="#fdf1f3"/><stop offset="0.635" stop-color="#fefeff"/><stop offset="0.640" stop-color="#a6d4f6"/><stop offset="0.645" stop-color="#2b71e7"/><stop offset="0.650" stop-color="#202adc"/><stop offset="0.665" stop-color="#1a24b4"/><stop offset="0.675" stop-color="#16209b"/><stop offset="0.750" stop-color="#1923a9"/><stop offset="0.765" stop-color="#202adc"/><stop offset="0.785" stop-color="#273ee6"/><stop offset="0.905" stop-color="#2841e8"/><stop offset="0.930" stop-color="#2952e8"/><stop offset="0.940" stop-color="#3896e9"/><stop offset="0.945" stop-color="#49adee"/><stop offset="0.950" stop-color="#57b4ef"/><stop offset="0.960" stop-color="#fbfdff"/><stop offset="0.965" stop-color="#f5b0b6"/><stop offset="0.970" stop-color="#bc1e23"/><stop offset="1.000" stop-color="#96050c"/></linearGradient><linearGradient id="g2_53" x1="0" y1="0" x2="0" y2="1"><stop offset="0.000" stop-color="#fdeff0"/><stop offset="0.175" stop-color="#fdf2f4"/><stop offset="0.205" stop-color="#fdfeff"/><stop offset="0.275" stop-color="#d1e8fa"/><stop offset="0.305" stop-color="#b0d9f7"/><stop offset="0.390" stop-color="#b7dcf8"/><stop offset="0.425" stop-color="#e0f0fc"/><stop offset="0.455" stop-color="#fffcfc"/><stop offset="0.470" stop-color="#f7bec4"/><stop offset="0.480" stop-color="#f39ca4"/><stop offset="0.510" stop-color="#f08790"/><stop offset="0.550" stop-color="#e54d5b"/><stop offset="0.580" stop-color="#e7525f"/><stop offset="0.615" stop-color="#ed737f"/><stop offset="0.620" stop-color="#f18f98"/><stop offset="0.630" stop-color="#fdf0f1"/><stop offset="0.635" stop-color="#ffffff"/><stop offset="0.640" stop-color="#aed7f7"/><stop offset="0.645" stop-color="#2c7de6"/><stop offset="0.650" stop-color="#202adb"/><stop offset="0.665" stop-color="#1a24b4"/><stop offset="0.675" stop-color="#16209b"/><stop offset="0.750" stop-color="#1923a9"/><stop offset="0.770" stop-color="#2333e1"/><stop offset="0.815" stop-color="#263ce5"/><stop offset="0.910" stop-color="#2841e8"/><stop offset="0.930" stop-color="#294ee8"/><stop offset="0.940" stop-color="#3794e9"/><stop offset="0.945" stop-color="#49aced"/><stop offset="0.950" stop-color="#56b3ef"/><stop offset="0.960" stop-color="#fbfdff"/><stop offset="0.965" stop-color="#f5b0b6"/><stop offset="0.970" stop-color="#bc1e23"/><stop offset="1.000" stop-color="#96050c"/></linearGradient><linearGradient id="g2_54" x1="0" y1="0" x2="0" y2="1"><stop offset="0.000" stop-color="#fdeff0"/><stop offset="0.175" stop-color="#fdf2f4"/><stop offset="0.205" stop-color="#fdfeff"/><stop offset="0.275" stop-color="#d1e8fa"/><stop offset="0.305" stop-color="#b0d9f7"/><stop offset="0.390" stop-color="#b6dbf8"/><stop offset="0.425" stop-color="#e0f0fc"/><stop offset="0.455" stop-color="#fffcfd"/><stop offset="0.465" stop-color="#fad9dd"/><stop offset="0.475" stop-color="#f4a8af"/><stop offset="0.490" stop-color="#f299a1"/><stop offset="0.525" stop-color="#ec6c78"/><stop offset="0.550" stop-color="#e54c59"/><stop offset="0.580" stop-color="#e6505d"/><stop offset="0.615" stop-color="#ed717d"/><stop offset="0.620" stop-color="#f18c95"/><stop offset="0.630" stop-color="#fdeef0"/><stop offset="0.635" stop-color="#ffffff"/><stop offset="0.640" stop-color="#b5dbf7"/><stop offset="0.645" stop-color="#2e88e6"/><stop offset="0.650" stop-color="#202ada"/><stop offset="0.660" stop-color="#1d27c7"/><stop offset="0.675" stop-color="#17209b"/><stop offset="0.750" stop-color="#1923a9"/><stop offset="0.770" stop-color="#2332e0"/><stop offset="0.850" stop-color="#263ae5"/><stop offset="0.920" stop-color="#2845e8"/><stop offset="0.930" stop-color="#2949e8"/><stop offset="0.935" stop-color="#2b65e7"/><stop offset="0.940" stop-color="#3693e8"/><stop offset="0.945" stop-color="#48abed"/><stop offset="0.950" stop-color="#54b2ef"/><stop offset="0.960" stop-color="#fbfdff"/><stop offset="0.965" stop-color="#f5b0b6"/><stop offset="0.970" stop-color="#bc1e23"/><stop offset="1.000" stop-color="#96050c"/></linearGradient><linearGradient id="g2_55" x1="0" y1="0" x2="0" y2="1"><stop offset="0.000" stop-color="#fdeff0"/><stop offset="0.175" stop-color="#fdf2f4"/><stop offset="0.205" stop-color="#fdfeff"/><stop offset="0.275" stop-color="#d2e8fa"/><stop offset="0.300" stop-color="#b1d9f7"/><stop offset="0.390" stop-color="#b5dbf7"/><stop offset="0.425" stop-color="#e0f0fc"/><stop offset="0.455" stop-color="#fffdfd"/><stop offset="0.465" stop-color="#fadade"/><stop offset="0.475" stop-color="#f4a9af"/><stop offset="0.485" stop-color="#f299a1"/><stop offset="0.515" stop-color="#ef7c87"/><stop offset="0.550" stop-color="#e44b58"/><stop offset="0.580" stop-color="#e64e5c"/><stop offset="0.615" stop-color="#ec707b"/><stop offset="0.620" stop-color="#f08892"/><stop offset="0.630" stop-color="#fcecee"/><stop offset="0.635" stop-color="#ffffff"/><stop offset="0.640" stop-color="#bddff8"/><stop offset="0.645" stop-color="#318ce7"/><stop offset="0.650" stop-color="#202ada"/><stop offset="0.660" stop-color="#1d27c7"/><stop offset="0.675" stop-color="#17209b"/><stop offset="0.750" stop-color="#1923a9"/><stop offset="0.770" stop-color="#2230df"/><stop offset="0.815" stop-color="#2539e4"/><stop offset="0.925" stop-color="#2843e8"/><stop offset="0.930" stop-color="#2844e8"/><stop offset="0.935" stop-color="#2a61e7"/><stop offset="0.940" stop-color="#3592e8"/><stop offset="0.945" stop-color="#47aaed"/><stop offset="0.950" stop-color="#52b2ef"/><stop offset="0.960" stop-color="#fbfdff"/><stop offset="0.965" stop-color="#f5b0b6"/><stop offset="0.970" stop-color="#bc1e23"/><stop offset="1.000" stop-color="#96050c"/></linearGradient><linearGradient id="g2_56" x1="0" y1="0" x2="0" y2="1"><stop offset="0.000" stop-color="#fdeff0"/><stop offset="0.175" stop-color="#fdf2f4"/><stop offset="0.205" stop-color="#fdfeff"/><stop offset="0.275" stop-color="#d2e9fb"/><stop offset="0.305" stop-color="#afd8f7"/><stop offset="0.390" stop-color="#b5dbf7"/><stop offset="0.425" stop-color="#e0effc"/><stop offset="0.455" stop-color="#fffdfd"/><stop offset="0.465" stop-color="#fadbdf"/><stop offset="0.480" stop-color="#f29aa2"/><stop offset="0.510" stop-color="#f0838d"/><stop offset="0.545" stop-color="#e54c5a"/><stop offset="0.580" stop-color="#e54d5a"/><stop offset="0.615" stop-color="#ec6e7a"/><stop offset="0.620" stop-color="#f0858f"/><stop offset="0.630" stop-color="#fceaec"/><stop offset="0.635" stop-color="#ffffff"/><stop offset="0.640" stop-color="#c4e2f9"/><stop offset="0.645" stop-color="#3591e8"/><stop offset="0.650" stop-color="#202ada"/><stop offset="0.660" stop-color="#1d27c8"/><stop offset="0.675" stop-color="#17209b"/><stop offset="0.750" stop-color="#1923a9"/><stop offset="0.770" stop-color="#222fdf"/><stop offset="0.850" stop-color="#2537e3"/><stop offset="0.930" stop-color="#2841e8"/><stop offset="0.935" stop-color="#2a5de7"/><stop offset="0.940" stop-color="#3491e8"/><stop offset="0.945" stop-color="#46a9ed"/><stop offset="0.950" stop-color="#51b1ee"/><stop offset="0.960" stop-color="#fbfdff"/><stop offset="0.965" stop-color="#f5b0b6"/><stop offset="0.970" stop-color="#bc1e23"/><stop offset="1.000" stop-color="#96050c"/></linearGradient><linearGradient id="g2_57" x1="0" y1="0" x2="0" y2="1"><stop offset="0.000" stop-color="#fdeff0"/><stop offset="0.175" stop-color="#fdf2f4"/><stop offset="0.205" stop-color="#fdfeff"/><stop offset="0.275" stop-color="#d3e9fb"/><stop offset="0.305" stop-color="#afd8f7"/><stop offset="0.390" stop-color="#b4daf7"/><stop offset="0.425" stop-color="#e0effc"/><stop offset="0.440" stop-color="#edf6fd"/><stop offset="0.455" stop-color="#fffdfe"/><stop offset="0.465" stop-color="#fadce0"/><stop offset="0.480" stop-color="#f299a2"/><stop offset="0.510" stop-color="#f0828c"/><stop offset="0.545" stop-color="#e44b59"/><stop offset="0.580" stop-color="#e54b59"/><stop offset="0.615" stop-color="#ec6c78"/><stop offset="0.620" stop-color="#f0818c"/><stop offset="0.630" stop-color="#fce8ea"/><stop offset="0.635" stop-color="#ffffff"/><stop offset="0.640" stop-color="#cbe5fa"/><stop offset="0.645" stop-color="#3896e9"/><stop offset="0.650" stop-color="#202ada"/><stop offset="0.660" stop-color="#1d27c8"/><stop offset="0.675" stop-color="#17209c"/><stop offset="0.750" stop-color="#1923a9"/><stop offset="0.770" stop-color="#212ede"/><stop offset="0.850" stop-color="#2436e2"/><stop offset="0.930" stop-color="#273fe7"/><stop offset="0.935" stop-color="#2a58e7"/><stop offset="0.940" stop-color="#338fe8"/><stop offset="0.950" stop-color="#4fb1ee"/><stop offset="0.960" stop-color="#fbfdff"/><stop offset="0.965" stop-color="#f5b0b6"/><stop offset="0.970" stop-color="#bc1e23"/><stop offset="1.000" stop-color="#96050c"/></linearGradient><linearGradient id="g2_58" x1="0" y1="0" x2="0" y2="1"><stop offset="0.000" stop-color="#fdeff0"/><stop offset="0.175" stop-color="#fdf2f4"/><stop offset="0.205" stop-color="#fdfeff"/><stop offset="0.275" stop-color="#d3e9fb"/><stop offset="0.305" stop-color="#afd8f7"/><stop offset="0.390" stop-color="#b3daf7"/><stop offset="0.425" stop-color="#e0effc"/><stop offset="0.445" stop-color="#f6fbfe"/><stop offset="0.455" stop-color="#fffefe"/><stop offset="0.465" stop-color="#fadde1"/><stop offset="0.480" stop-color="#f299a1"/><stop offset="0.510" stop-color="#ef818b"/><stop offset="0.545" stop-color="#e44a57"/><stop offset="0.580" stop-color="#e44a58"/><stop offset="0.615" stop-color="#eb6a76"/><stop offset="0.620" stop-color="#ef7e88"/><stop offset="0.630" stop-color="#fce6e8"/><stop offset="0.635" stop-color="#fffefe"/><stop offset="0.640" stop-color="#d1e8fa"/><stop offset="0.645" stop-color="#3c9bea"/><stop offset="0.650" stop-color="#202adb"/><stop offset="0.665" stop-color="#1a24b6"/><stop offset="0.675" stop-color="#17209c"/><stop offset="0.750" stop-color="#1923a9"/><stop offset="0.770" stop-color="#212cdd"/><stop offset="0.850" stop-color="#2434e1"/><stop offset="0.930" stop-color="#273ee6"/><stop offset="0.935" stop-color="#2954e7"/><stop offset="0.940" stop-color="#328ee7"/><stop offset="0.950" stop-color="#4db0ee"/><stop offset="0.960" stop-color="#fbfdff"/><stop offset="0.965" stop-color="#f5b0b6"/><stop offset="0.970" stop-color="#bc1e23"/><stop offset="1.000" stop-color="#96050c"/></linearGradient><linearGradient id="g2_59" x1="0" y1="0" x2="0" y2="1"><stop offset="0.000" stop-color="#fdeff0"/><stop offset="0.175" stop-color="#fdf2f4"/><stop offset="0.205" stop-color="#fdfeff"/><stop offset="0.275" stop-color="#d4e9fb"/><stop offset="0.305" stop-color="#aed8f7"/><stop offset="0.390" stop-color="#b2daf7"/><stop offset="0.430" stop-color="#e1f0fc"/><stop offset="0.455" stop-color="#fffefe"/><stop offset="0.465" stop-color="#fbdee2"/><stop offset="0.480" stop-color="#f298a1"/><stop offset="0.510" stop-color="#ef808a"/><stop offset="0.545" stop-color="#e34956"/><stop offset="0.580" stop-color="#e34957"/><stop offset="0.615" stop-color="#eb6975"/><stop offset="0.620" stop-color="#ee7a85"/><stop offset="0.630" stop-color="#fbe3e6"/><stop offset="0.635" stop-color="#fffefe"/><stop offset="0.640" stop-color="#d6eafb"/><stop offset="0.645" stop-color="#40a0eb"/><stop offset="0.650" stop-color="#202adc"/><stop offset="0.665" stop-color="#1a24b6"/><stop offset="0.675" stop-color="#17209c"/><stop offset="0.750" stop-color="#1923a9"/><stop offset="0.770" stop-color="#202bdd"/><stop offset="0.930" stop-color="#263ce5"/><stop offset="0.935" stop-color="#2950e8"/><stop offset="0.940" stop-color="#318de7"/><stop offset="0.950" stop-color="#4cafee"/><stop offset="0.960" stop-color="#fafdff"/><stop offset="0.965" stop-color="#f5b0b6"/><stop offset="0.970" stop-color="#bc1e23"/><stop offset="1.000" stop-color="#96050c"/></linearGradient><linearGradient id="g2_60" x1="0" y1="0" x2="0" y2="1"><stop offset="0.000" stop-color="#fdeff0"/><stop offset="0.175" stop-color="#fdf2f4"/><stop offset="0.205" stop-color="#fdfeff"/><stop offset="0.280" stop-color="#cee6fa"/><stop offset="0.305" stop-color="#aed8f7"/><stop offset="0.390" stop-color="#b2d9f7"/><stop offset="0.430" stop-color="#e1f0fc"/><stop offset="0.455" stop-color="#fffefe"/><stop offset="0.465" stop-color="#fbdfe3"/><stop offset="0.480" stop-color="#f298a1"/><stop offset="0.515" stop-color="#ee7782"/><stop offset="0.545" stop-color="#e34956"/><stop offset="0.580" stop-color="#e34956"/><stop offset="0.615" stop-color="#eb6874"/><stop offset="0.620" stop-color="#ee7782"/><stop offset="0.630" stop-color="#fbe1e4"/><stop offset="0.635" stop-color="#fffdfe"/><stop offset="0.640" stop-color="#dbedfb"/><stop offset="0.645" stop-color="#43a5ec"/><stop offset="0.650" stop-color="#202bdd"/><stop offset="0.665" stop-color="#1b25b6"/><stop offset="0.675" stop-color="#17209c"/><stop offset="0.750" stop-color="#1923a9"/><stop offset="0.770" stop-color="#202adc"/><stop offset="0.930" stop-color="#263ae5"/><stop offset="0.935" stop-color="#294be8"/><stop offset="0.940" stop-color="#308be7"/><stop offset="0.945" stop-color="#43a4ec"/><stop offset="0.950" stop-color="#4baeee"/><stop offset="0.955" stop-color="#9bcff5"/><stop offset="0.960" stop-color="#fafdff"/><stop offset="0.965" stop-color="#f5b0b6"/><stop offset="0.970" stop-color="#bc1e23"/><stop offset="1.000" stop-color="#96050c"/></linearGradient><linearGradient id="g2_61" x1="0" y1="0" x2="0" y2="1"><stop offset="0.000" stop-color="#fdeff0"/><stop offset="0.175" stop-color="#fdf2f4"/><stop offset="0.205" stop-color="#fdfeff"/><stop offset="0.280" stop-color="#cee7fa"/><stop offset="0.305" stop-color="#aed8f7"/><stop offset="0.390" stop-color="#b1d9f7"/><stop offset="0.430" stop-color="#e1f0fc"/><stop offset="0.455" stop-color="#ffffff"/><stop offset="0.465" stop-color="#fbe0e4"/><stop offset="0.480" stop-color="#f299a1"/><stop offset="0.515" stop-color="#ee7782"/><stop offset="0.545" stop-color="#e34956"/><stop offset="0.580" stop-color="#e34956"/><stop offset="0.615" stop-color="#eb6874"/><stop offset="0.620" stop-color="#ed7580"/><stop offset="0.630" stop-color="#fbdfe2"/><stop offset="0.635" stop-color="#fffdfd"/><stop offset="0.640" stop-color="#dfeffc"/><stop offset="0.645" stop-color="#47aaed"/><stop offset="0.650" stop-color="#212ddd"/><stop offset="0.665" stop-color="#1b25b7"/><stop offset="0.675" stop-color="#17209c"/><stop offset="0.750" stop-color="#1923aa"/><stop offset="0.775" stop-color="#212dde"/><stop offset="0.930" stop-color="#2539e4"/><stop offset="0.935" stop-color="#2846e8"/><stop offset="0.940" stop-color="#2f8ae7"/><stop offset="0.945" stop-color="#42a3ec"/><stop offset="0.950" stop-color="#4aadee"/><stop offset="0.955" stop-color="#9acef4"/><stop offset="0.960" stop-color="#fafdff"/><stop offset="0.965" stop-color="#f5b0b6"/><stop offset="0.970" stop-color="#bc1e23"/><stop offset="1.000" stop-color="#96050c"/></linearGradient><linearGradient id="g2_62" x1="0" y1="0" x2="0" y2="1"><stop offset="0.000" stop-color="#fdeff0"/><stop offset="0.175" stop-color="#fdf2f4"/><stop offset="0.205" stop-color="#fdfeff"/><stop offset="0.275" stop-color="#d5eafb"/><stop offset="0.305" stop-color="#aed8f7"/><stop offset="0.390" stop-color="#b0d9f7"/><stop offset="0.430" stop-color="#e1f0fc"/><stop offset="0.455" stop-color="#ffffff"/><stop offset="0.465" stop-color="#fbe2e5"/><stop offset="0.480" stop-color="#f29aa2"/><stop offset="0.515" stop-color="#ee7782"/><stop offset="0.545" stop-color="#e34956"/><stop offset="0.580" stop-color="#e34956"/><stop offset="0.620" stop-color="#ed737e"/><stop offset="0.630" stop-color="#fadde0"/><stop offset="0.635" stop-color="#fffcfc"/><stop offset="0.640" stop-color="#e4f1fc"/><stop offset="0.645" stop-color="#4bafee"/><stop offset="0.650" stop-color="#212ede"/><stop offset="0.675" stop-color="#17209c"/><stop offset="0.750" stop-color="#1923aa"/><stop offset="0.775" stop-color="#202bdd"/><stop offset="0.930" stop-color="#2437e3"/><stop offset="0.935" stop-color="#2841e8"/><stop offset="0.940" stop-color="#2e88e6"/><stop offset="0.950" stop-color="#49aced"/><stop offset="0.955" stop-color="#99cef4"/><stop offset="0.960" stop-color="#fafdff"/><stop offset="0.965" stop-color="#f5b0b6"/><stop offset="0.970" stop-color="#bc1e23"/><stop offset="1.000" stop-color="#96050c"/></linearGradient><linearGradient id="g2_63" x1="0" y1="0" x2="0" y2="1"><stop offset="0.000" stop-color="#fdeff0"/><stop offset="0.175" stop-color="#fdf2f4"/><stop offset="0.205" stop-color="#fdfeff"/><stop offset="0.280" stop-color="#cfe7fa"/><stop offset="0.305" stop-color="#aed7f7"/><stop offset="0.390" stop-color="#b0d8f7"/><stop offset="0.430" stop-color="#e1f0fc"/><stop offset="0.455" stop-color="#ffffff"/><stop offset="0.465" stop-color="#fbe3e6"/><stop offset="0.480" stop-color="#f29aa2"/><stop offset="0.515" stop-color="#ee7882"/><stop offset="0.545" stop-color="#e34956"/><stop offset="0.580" stop-color="#e34956"/><stop offset="0.620" stop-color="#ed717d"/><stop offset="0.630" stop-color="#fadade"/><stop offset="0.635" stop-color="#fffbfc"/><stop offset="0.640" stop-color="#e8f3fd"/><stop offset="0.645" stop-color="#54b2ef"/><stop offset="0.650" stop-color="#2230df"/><stop offset="0.675" stop-color="#17209d"/><stop offset="0.750" stop-color="#1923aa"/><stop offset="0.775" stop-color="#202adb"/><stop offset="0.920" stop-color="#2334e1"/><stop offset="0.935" stop-color="#273fe7"/><stop offset="0.940" stop-color="#2d86e6"/><stop offset="0.945" stop-color="#40a0eb"/><stop offset="0.950" stop-color="#48abed"/><stop offset="0.955" stop-color="#98cdf4"/><stop offset="0.960" stop-color="#fafdff"/><stop offset="0.965" stop-color="#f5b0b6"/><stop offset="0.970" stop-color="#bc1e23"/><stop offset="1.000" stop-color="#96050c"/></linearGradient><linearGradient id="g2_64" x1="0" y1="0" x2="0" y2="1"><stop offset="0.000" stop-color="#fdeff0"/><stop offset="0.175" stop-color="#fdf2f4"/><stop offset="0.205" stop-color="#fdfeff"/><stop offset="0.280" stop-color="#d0e7fa"/><stop offset="0.305" stop-color="#add7f7"/><stop offset="0.395" stop-color="#b4daf7"/><stop offset="0.430" stop-color="#e0f0fc"/><stop offset="0.455" stop-color="#ffffff"/><stop offset="0.465" stop-color="#fbe4e7"/><stop offset="0.480" stop-color="#f39ba3"/><stop offset="0.515" stop-color="#ee7883"/><stop offset="0.545" stop-color="#e34956"/><stop offset="0.580" stop-color="#e34856"/><stop offset="0.620" stop-color="#ec707b"/><stop offset="0.630" stop-color="#fad8dc"/><stop offset="0.635" stop-color="#fefbfb"/><stop offset="0.640" stop-color="#ebf5fd"/><stop offset="0.645" stop-color="#5db6ef"/><stop offset="0.650" stop-color="#2332e0"/><stop offset="0.675" stop-color="#17209d"/><stop offset="0.750" stop-color="#1923aa"/><stop offset="0.780" stop-color="#202ada"/><stop offset="0.920" stop-color="#2332e0"/><stop offset="0.935" stop-color="#273de6"/><stop offset="0.940" stop-color="#2d81e6"/><stop offset="0.945" stop-color="#3f9feb"/><stop offset="0.950" stop-color="#47aaed"/><stop offset="0.955" stop-color="#96cdf4"/><stop offset="0.960" stop-color="#fafdff"/><stop offset="0.965" stop-color="#f5b0b6"/><stop offset="0.970" stop-color="#bc1e23"/><stop offset="1.000" stop-color="#96050c"/></linearGradient><linearGradient id="g2_65" x1="0" y1="0" x2="0" y2="1"><stop offset="0.000" stop-color="#fdeff0"/><stop offset="0.175" stop-color="#fdf2f4"/><stop offset="0.205" stop-color="#fdfeff"/><stop offset="0.280" stop-color="#d0e8fa"/><stop offset="0.310" stop-color="#acd7f6"/><stop offset="0.395" stop-color="#b3daf7"/><stop offset="0.430" stop-color="#e0f0fc"/><stop offset="0.455" stop-color="#ffffff"/><stop offset="0.465" stop-color="#fce5e8"/><stop offset="0.480" stop-color="#f39ca4"/><stop offset="0.515" stop-color="#ee7883"/><stop offset="0.545" stop-color="#e34956"/><stop offset="0.580" stop-color="#e34856"/><stop offset="0.620" stop-color="#ec6e7a"/><stop offset="0.630" stop-color="#f9d5d9"/><stop offset="0.635" stop-color="#fefafa"/><stop offset="0.640" stop-color="#eff7fd"/><stop offset="0.645" stop-color="#66b9f0"/><stop offset="0.650" stop-color="#2434e1"/><stop offset="0.675" stop-color="#17209d"/><stop offset="0.755" stop-color="#1a24b0"/><stop offset="0.780" stop-color="#1f29d7"/><stop offset="0.930" stop-color="#2331e0"/><stop offset="0.935" stop-color="#263ce5"/><stop offset="0.940" stop-color="#2c7de6"/><stop offset="0.945" stop-color="#3e9eeb"/><stop offset="0.950" stop-color="#46a8ed"/><stop offset="0.955" stop-color="#95ccf4"/><stop offset="0.960" stop-color="#fafdff"/><stop offset="0.965" stop-color="#f5b0b6"/><stop offset="0.970" stop-color="#bc1e23"/><stop offset="1.000" stop-color="#96050c"/></linearGradient><linearGradient id="g2_66" x1="0" y1="0" x2="0" y2="1"><stop offset="0.000" stop-color="#fdeff0"/><stop offset="0.175" stop-color="#fdf2f4"/><stop offset="0.205" stop-color="#fdfeff"/><stop offset="0.280" stop-color="#d1e8fa"/><stop offset="0.305" stop-color="#add7f7"/><stop offset="0.395" stop-color="#b2daf7"/><stop offset="0.430" stop-color="#e0f0fc"/><stop offset="0.445" stop-color="#f1f8fe"/><stop offset="0.460" stop-color="#fef8f9"/><stop offset="0.480" stop-color="#f39da5"/><stop offset="0.515" stop-color="#ee7883"/><stop offset="0.545" stop-color="#e34956"/><stop offset="0.580" stop-color="#e34856"/><stop offset="0.620" stop-color="#ec6d79"/><stop offset="0.630" stop-color="#f9d3d7"/><stop offset="0.635" stop-color="#fef8f9"/><stop offset="0.640" stop-color="#f2f9fe"/><stop offset="0.645" stop-color="#6ebdf1"/><stop offset="0.650" stop-color="#2437e3"/><stop offset="0.660" stop-color="#1d27c9"/><stop offset="0.675" stop-color="#17209d"/><stop offset="0.755" stop-color="#1a24b0"/><stop offset="0.780" stop-color="#1f29d3"/><stop offset="0.905" stop-color="#202ada"/><stop offset="0.930" stop-color="#222fdf"/><stop offset="0.935" stop-color="#263ae4"/><stop offset="0.940" stop-color="#2c78e6"/><stop offset="0.945" stop-color="#3d9cea"/><stop offset="0.950" stop-color="#45a7ec"/><stop offset="0.955" stop-color="#94ccf4"/><stop offset="0.960" stop-color="#fafdff"/><stop offset="0.965" stop-color="#f5b0b6"/><stop offset="0.970" stop-color="#bc1e23"/><stop offset="1.000" stop-color="#96050c"/></linearGradient><linearGradient id="g2_67" x1="0" y1="0" x2="0" y2="1"><stop offset="0.000" stop-color="#fdeff0"/><stop offset="0.175" stop-color="#fdf2f4"/><stop offset="0.205" stop-color="#fdfeff"/><stop offset="0.280" stop-color="#d1e8fa"/><stop offset="0.305" stop-color="#add7f7"/><stop offset="0.395" stop-color="#b2d9f7"/><stop offset="0.430" stop-color="#e0effc"/><stop offset="0.445" stop-color="#f0f7fd"/><stop offset="0.460" stop-color="#fef9fa"/><stop offset="0.480" stop-color="#f39ea5"/><stop offset="0.515" stop-color="#ee7984"/><stop offset="0.545" stop-color="#e34956"/><stop offset="0.580" stop-color="#e34856"/><stop offset="0.620" stop-color="#ec6c78"/><stop offset="0.625" stop-color="#f2979f"/><stop offset="0.630" stop-color="#f9d0d5"/><stop offset="0.635" stop-color="#fef7f8"/><stop offset="0.640" stop-color="#f5fafe"/><stop offset="0.645" stop-color="#77c0f1"/><stop offset="0.650" stop-color="#253ae4"/><stop offset="0.655" stop-color="#1e28d2"/><stop offset="0.675" stop-color="#17209d"/><stop offset="0.755" stop-color="#1a24b0"/><stop offset="0.780" stop-color="#1e28d0"/><stop offset="0.905" stop-color="#1f29d7"/><stop offset="0.930" stop-color="#212ede"/><stop offset="0.935" stop-color="#2538e3"/><stop offset="0.940" stop-color="#2c74e7"/><stop offset="0.945" stop-color="#3c9bea"/><stop offset="0.950" stop-color="#44a6ec"/><stop offset="0.955" stop-color="#93cbf4"/><stop offset="0.960" stop-color="#fafdff"/><stop offset="0.965" stop-color="#f5b0b6"/><stop offset="0.970" stop-color="#bc1e23"/><stop offset="1.000" stop-color="#96050c"/></linearGradient><linearGradient id="g2_68" x1="0" y1="0" x2="0" y2="1"><stop offset="0.000" stop-color="#fdeff0"/><stop offset="0.175" stop-color="#fdf2f4"/><stop offset="0.205" stop-color="#fdfeff"/><stop offset="0.280" stop-color="#d2e8fa"/><stop offset="0.310" stop-color="#abd6f6"/><stop offset="0.395" stop-color="#b1d9f7"/><stop offset="0.430" stop-color="#e0effc"/><stop offset="0.445" stop-color="#eff7fd"/><stop offset="0.460" stop-color="#fefafa"/><stop offset="0.480" stop-color="#f39ea6"/><stop offset="0.520" stop-color="#ec707b"/><stop offset="0.545" stop-color="#e34956"/><stop offset="0.580" stop-color="#e34855"/><stop offset="0.620" stop-color="#eb6b77"/><stop offset="0.625" stop-color="#f2949d"/><stop offset="0.630" stop-color="#f8cdd2"/><stop offset="0.635" stop-color="#fef6f7"/><stop offset="0.640" stop-color="#f7fbfe"/><stop offset="0.645" stop-color="#80c3f2"/><stop offset="0.650" stop-color="#273de6"/><stop offset="0.655" stop-color="#1e28d1"/><stop offset="0.675" stop-color="#17209d"/><stop offset="0.755" stop-color="#1923af"/><stop offset="0.780" stop-color="#1e28cd"/><stop offset="0.905" stop-color="#1f29d3"/><stop offset="0.930" stop-color="#212cdd"/><stop offset="0.935" stop-color="#2436e2"/><stop offset="0.945" stop-color="#3b9aea"/><stop offset="0.950" stop-color="#43a5ec"/><stop offset="0.955" stop-color="#92cbf4"/><stop offset="0.960" stop-color="#fafdff"/><stop offset="0.965" stop-color="#f5b0b6"/><stop offset="0.970" stop-color="#bc1e23"/><stop offset="1.000" stop-color="#96050c"/></linearGradient><linearGradient id="g2_69" x1="0" y1="0" x2="0" y2="1"><stop offset="0.000" stop-color="#fdeff0"/><stop offset="0.175" stop-color="#fdf2f4"/><stop offset="0.205" stop-color="#fdfeff"/><stop offset="0.280" stop-color="#d2e9fb"/><stop offset="0.310" stop-color="#abd6f6"/><stop offset="0.395" stop-color="#b0d9f7"/><stop offset="0.430" stop-color="#e0effc"/><stop offset="0.445" stop-color="#eef7fd"/><stop offset="0.460" stop-color="#fefafb"/><stop offset="0.480" stop-color="#f39fa7"/><stop offset="0.515" stop-color="#ee7984"/><stop offset="0.545" stop-color="#e34956"/><stop offset="0.580" stop-color="#e34855"/><stop offset="0.620" stop-color="#eb6a76"/><stop offset="0.625" stop-color="#f1919a"/><stop offset="0.630" stop-color="#f8cbcf"/><stop offset="0.635" stop-color="#fef5f6"/><stop offset="0.640" stop-color="#f9fcfe"/><stop offset="0.645" stop-color="#88c7f3"/><stop offset="0.650" stop-color="#2840e8"/><stop offset="0.655" stop-color="#1e28d1"/><stop offset="0.675" stop-color="#17209e"/><stop offset="0.755" stop-color="#1923af"/><stop offset="0.785" stop-color="#1d27c9"/><stop offset="0.905" stop-color="#1e28d0"/><stop offset="0.930" stop-color="#202adc"/><stop offset="0.935" stop-color="#2435e2"/><stop offset="0.945" stop-color="#3a98e9"/><stop offset="0.950" stop-color="#42a4ec"/><stop offset="0.955" stop-color="#91caf4"/><stop offset="0.960" stop-color="#fafdff"/><stop offset="0.965" stop-color="#f5b0b6"/><stop offset="0.970" stop-color="#bc1e23"/><stop offset="1.000" stop-color="#96050c"/></linearGradient><linearGradient id="g2_70" x1="0" y1="0" x2="0" y2="1"><stop offset="0.000" stop-color="#fdeff0"/><stop offset="0.175" stop-color="#fdf2f4"/><stop offset="0.205" stop-color="#fdfeff"/><stop offset="0.280" stop-color="#d3e9fb"/><stop offset="0.310" stop-color="#abd6f6"/><stop offset="0.395" stop-color="#afd8f7"/><stop offset="0.430" stop-color="#dfeffc"/><stop offset="0.445" stop-color="#edf6fd"/><stop offset="0.460" stop-color="#fefbfb"/><stop offset="0.480" stop-color="#f3a0a8"/><stop offset="0.520" stop-color="#ec707c"/><stop offset="0.550" stop-color="#e24653"/><stop offset="0.585" stop-color="#e54b59"/><stop offset="0.620" stop-color="#eb6975"/><stop offset="0.625" stop-color="#f18f98"/><stop offset="0.635" stop-color="#fdf3f5"/><stop offset="0.640" stop-color="#fbfdff"/><stop offset="0.645" stop-color="#91caf4"/><stop offset="0.650" stop-color="#2949e8"/><stop offset="0.655" stop-color="#1e28d0"/><stop offset="0.675" stop-color="#17209e"/><stop offset="0.755" stop-color="#1923ae"/><stop offset="0.785" stop-color="#1d27c7"/><stop offset="0.905" stop-color="#1e28ce"/><stop offset="0.930" stop-color="#202ada"/><stop offset="0.935" stop-color="#2334e1"/><stop offset="0.945" stop-color="#3998e9"/><stop offset="0.950" stop-color="#42a3ec"/><stop offset="0.955" stop-color="#90caf3"/><stop offset="0.960" stop-color="#fafdff"/><stop offset="0.965" stop-color="#f5b0b6"/><stop offset="0.970" stop-color="#bc1e23"/><stop offset="1.000" stop-color="#96050c"/></linearGradient><linearGradient id="g2_71" x1="0" y1="0" x2="0" y2="1"><stop offset="0.000" stop-color="#fdeff0"/><stop offset="0.175" stop-color="#fdf2f4"/><stop offset="0.205" stop-color="#fdfeff"/><stop offset="0.280" stop-color="#d3e9fb"/><stop offset="0.310" stop-color="#abd6f6"/><stop offset="0.395" stop-color="#afd8f7"/><stop offset="0.435" stop-color="#e1f0fc"/><stop offset="0.460" stop-color="#fffbfc"/><stop offset="0.475" stop-color="#f6babf"/><stop offset="0.485" stop-color="#f2959e"/><stop offset="0.515" stop-color="#ee7a85"/><stop offset="0.545" stop-color="#e34956"/><stop offset="0.580" stop-color="#e34855"/><stop offset="0.620" stop-color="#eb6975"/><stop offset="0.625" stop-color="#f18c95"/><stop offset="0.635" stop-color="#fdf2f3"/><stop offset="0.640" stop-color="#fdfeff"/><stop offset="0.645" stop-color="#9acef4"/><stop offset="0.650" stop-color="#2954e7"/><stop offset="0.655" stop-color="#1e28d0"/><stop offset="0.675" stop-color="#17209e"/><stop offset="0.755" stop-color="#1923ae"/><stop offset="0.785" stop-color="#1d27c6"/><stop offset="0.905" stop-color="#1e28cd"/><stop offset="0.930" stop-color="#202ad9"/><stop offset="0.935" stop-color="#2333e1"/><stop offset="0.945" stop-color="#3997e9"/><stop offset="0.950" stop-color="#42a3ec"/><stop offset="0.955" stop-color="#90caf3"/><stop offset="0.960" stop-color="#fafdff"/><stop offset="0.965" stop-color="#f5b0b6"/><stop offset="0.970" stop-color="#bc1e23"/><stop offset="1.000" stop-color="#96050c"/></linearGradient><linearGradient id="g2_72" x1="0" y1="0" x2="0" y2="1"><stop offset="0.000" stop-color="#fdeff0"/><stop offset="0.175" stop-color="#fdf2f4"/><stop offset="0.205" stop-color="#fdfeff"/><stop offset="0.280" stop-color="#d4e9fb"/><stop offset="0.310" stop-color="#aad6f6"/><stop offset="0.395" stop-color="#aed8f7"/><stop offset="0.430" stop-color="#dfeffc"/><stop offset="0.445" stop-color="#ecf5fd"/><stop offset="0.460" stop-color="#fffcfc"/><stop offset="0.475" stop-color="#f6bbc0"/><stop offset="0.485" stop-color="#f2959e"/><stop offset="0.510" stop-color="#f0838d"/><stop offset="0.545" stop-color="#e34956"/><stop offset="0.580" stop-color="#e34855"/><stop offset="0.620" stop-color="#eb6874"/><stop offset="0.625" stop-color="#f18a93"/><stop offset="0.635" stop-color="#fdf0f2"/><stop offset="0.640" stop-color="#fefeff"/><stop offset="0.645" stop-color="#a2d2f5"/><stop offset="0.650" stop-color="#2a60e7"/><stop offset="0.655" stop-color="#1e28cf"/><stop offset="0.675" stop-color="#17209e"/><stop offset="0.755" stop-color="#1923af"/><stop offset="0.785" stop-color="#1d27c5"/><stop offset="0.905" stop-color="#1e28cc"/><stop offset="0.930" stop-color="#1f29d8"/><stop offset="0.935" stop-color="#2333e1"/><stop offset="0.945" stop-color="#3997e9"/><stop offset="0.950" stop-color="#41a2eb"/><stop offset="0.955" stop-color="#8fcaf3"/><stop offset="0.960" stop-color="#fafcfe"/><stop offset="0.965" stop-color="#f5b0b6"/><stop offset="0.970" stop-color="#bc1e23"/><stop offset="1.000" stop-color="#96050c"/></linearGradient><linearGradient id="g2_73" x1="0" y1="0" x2="0" y2="1"><stop offset="0.000" stop-color="#fdeff0"/><stop offset="0.175" stop-color="#fdf2f4"/><stop offset="0.205" stop-color="#fdfeff"/><stop offset="0.280" stop-color="#d4eafb"/><stop offset="0.310" stop-color="#aad6f6"/><stop offset="0.395" stop-color="#add7f7"/><stop offset="0.435" stop-color="#e1f0fc"/><stop offset="0.460" stop-color="#fffcfd"/><stop offset="0.470" stop-color="#fad8dc"/><stop offset="0.480" stop-color="#f3a4ab"/><stop offset="0.490" stop-color="#f2949d"/><stop offset="0.515" stop-color="#ee7b85"/><stop offset="0.545" stop-color="#e34956"/><stop offset="0.580" stop-color="#e34855"/><stop offset="0.620" stop-color="#eb6874"/><stop offset="0.625" stop-color="#f08791"/><stop offset="0.635" stop-color="#fdeff0"/><stop offset="0.640" stop-color="#ffffff"/><stop offset="0.645" stop-color="#aad6f6"/><stop offset="0.650" stop-color="#2b6de7"/><stop offset="0.655" stop-color="#1e28cf"/><stop offset="0.675" stop-color="#17209e"/><stop offset="0.760" stop-color="#1a24b4"/><stop offset="0.790" stop-color="#1d27c4"/><stop offset="0.905" stop-color="#1e28cb"/><stop offset="0.930" stop-color="#1f29d7"/><stop offset="0.935" stop-color="#2332e0"/><stop offset="0.945" stop-color="#3997e9"/><stop offset="0.950" stop-color="#41a2eb"/><stop offset="0.955" stop-color="#8fc9f3"/><stop offset="0.960" stop-color="#fafcfe"/><stop offset="0.965" stop-color="#f5b0b6"/><stop offset="0.970" stop-color="#bc1e23"/><stop offset="1.000" stop-color="#96050c"/></linearGradient><linearGradient id="g2_74" x1="0" y1="0" x2="0" y2="1"><stop offset="0.000" stop-color="#fdeff0"/><stop offset="0.175" stop-color="#fdf2f4"/><stop offset="0.205" stop-color="#fdfeff"/><stop offset="0.280" stop-color="#d5eafb"/><stop offset="0.310" stop-color="#aad6f6"/><stop offset="0.395" stop-color="#acd7f6"/><stop offset="0.435" stop-color="#e1f0fc"/><stop offset="0.460" stop-color="#fffdfd"/><stop offset="0.470" stop-color="#fad9dd"/><stop offset="0.480" stop-color="#f4a5ac"/><stop offset="0.490" stop-color="#f2949d"/><stop offset="0.515" stop-color="#ee7b86"/><stop offset="0.545" stop-color="#e34956"/><stop offset="0.580" stop-color="#e34855"/><stop offset="0.620" stop-color="#eb6874"/><stop offset="0.625" stop-color="#f0858f"/><stop offset="0.635" stop-color="#fdedef"/><stop offset="0.640" stop-color="#ffffff"/><stop offset="0.645" stop-color="#b2daf7"/><stop offset="0.650" stop-color="#2c7ae6"/><stop offset="0.655" stop-color="#1e28ce"/><stop offset="0.675" stop-color="#17219e"/><stop offset="0.760" stop-color="#1a24b4"/><stop offset="0.790" stop-color="#1c26c3"/><stop offset="0.905" stop-color="#1d27ca"/><stop offset="0.930" stop-color="#1f29d6"/><stop offset="0.935" stop-color="#2332e0"/><stop offset="0.945" stop-color="#3896e9"/><stop offset="0.950" stop-color="#41a2eb"/><stop offset="0.955" stop-color="#8fc9f3"/><stop offset="0.960" stop-color="#fafcfe"/><stop offset="0.965" stop-color="#f5b0b6"/><stop offset="0.970" stop-color="#bc1e23"/><stop offset="1.000" stop-color="#96050c"/></linearGradient><linearGradient id="g2_75" x1="0" y1="0" x2="0" y2="1"><stop offset="0.000" stop-color="#fdeff0"/><stop offset="0.175" stop-color="#fdf2f4"/><stop offset="0.205" stop-color="#fdfeff"/><stop offset="0.280" stop-color="#d5eafb"/><stop offset="0.310" stop-color="#aad6f6"/><stop offset="0.395" stop-color="#acd7f6"/><stop offset="0.435" stop-color="#e0f0fc"/><stop offset="0.460" stop-color="#fffdfd"/><stop offset="0.470" stop-color="#fadade"/><stop offset="0.480" stop-color="#f4a6ad"/><stop offset="0.490" stop-color="#f2949d"/><stop offset="0.520" stop-color="#ed727d"/><stop offset="0.545" stop-color="#e34956"/><stop offset="0.580" stop-color="#e34855"/><stop offset="0.620" stop-color="#eb6874"/><stop offset="0.625" stop-color="#f0828d"/><stop offset="0.635" stop-color="#fcebed"/><stop offset="0.640" stop-color="#ffffff"/><stop offset="0.645" stop-color="#baddf8"/><stop offset="0.650" stop-color="#2d87e6"/><stop offset="0.655" stop-color="#1e28cd"/><stop offset="0.665" stop-color="#1b25ba"/><stop offset="0.675" stop-color="#17219f"/><stop offset="0.755" stop-color="#1923af"/><stop offset="0.785" stop-color="#1c26c2"/><stop offset="0.905" stop-color="#1d27c9"/><stop offset="0.930" stop-color="#1f29d5"/><stop offset="0.935" stop-color="#2331e0"/><stop offset="0.945" stop-color="#3896e9"/><stop offset="0.950" stop-color="#41a1eb"/><stop offset="0.955" stop-color="#8ec9f3"/><stop offset="0.960" stop-color="#fafcfe"/><stop offset="0.965" stop-color="#f5b0b6"/><stop offset="0.970" stop-color="#bc1e23"/><stop offset="1.000" stop-color="#96050c"/></linearGradient><linearGradient id="g2_76" x1="0" y1="0" x2="0" y2="1"><stop offset="0.000" stop-color="#fdeff0"/><stop offset="0.175" stop-color="#fdf2f4"/><stop offset="0.205" stop-color="#fdfeff"/><stop offset="0.280" stop-color="#d6eafb"/><stop offset="0.310" stop-color="#aad6f6"/><stop offset="0.400" stop-color="#b0d9f7"/><stop offset="0.435" stop-color="#e0f0fc"/><stop offset="0.460" stop-color="#fffefe"/><stop offset="0.470" stop-color="#fadce0"/><stop offset="0.485" stop-color="#f2979f"/><stop offset="0.515" stop-color="#ee7b86"/><stop offset="0.545" stop-color="#e34956"/><stop offset="0.580" stop-color="#e34855"/><stop offset="0.620" stop-color="#eb6874"/><stop offset="0.625" stop-color="#ef808a"/><stop offset="0.635" stop-color="#fce9eb"/><stop offset="0.640" stop-color="#ffffff"/><stop offset="0.645" stop-color="#c2e1f9"/><stop offset="0.650" stop-color="#318ce7"/><stop offset="0.655" stop-color="#1e28cd"/><stop offset="0.680" stop-color="#17209c"/><stop offset="0.760" stop-color="#1a24b3"/><stop offset="0.795" stop-color="#1c26c1"/><stop offset="0.905" stop-color="#1d27c8"/><stop offset="0.935" stop-color="#2231e0"/><stop offset="0.945" stop-color="#3895e9"/><stop offset="0.950" stop-color="#40a1eb"/><stop offset="0.955" stop-color="#8ec9f3"/><stop offset="0.960" stop-color="#fafcfe"/><stop offset="0.965" stop-color="#f5b0b6"/><stop offset="0.970" stop-color="#bc1e23"/><stop offset="1.000" stop-color="#96050c"/></linearGradient><linearGradient id="g2_77" x1="0" y1="0" x2="0" y2="1"><stop offset="0.000" stop-color="#fdeff0"/><stop offset="0.175" stop-color="#fdf2f4"/><stop offset="0.205" stop-color="#fdfeff"/><stop offset="0.280" stop-color="#d6ebfb"/><stop offset="0.310" stop-color="#aad6f6"/><stop offset="0.400" stop-color="#afd8f7"/><stop offset="0.435" stop-color="#e0f0fc"/><stop offset="0.460" stop-color="#fffefe"/><stop offset="0.470" stop-color="#fadde1"/><stop offset="0.485" stop-color="#f297a0"/><stop offset="0.515" stop-color="#ee7c86"/><stop offset="0.545" stop-color="#e34957"/><stop offset="0.575" stop-color="#e14652"/><stop offset="0.620" stop-color="#eb6874"/><stop offset="0.625" stop-color="#ef7d88"/><stop offset="0.635" stop-color="#fce7ea"/><stop offset="0.640" stop-color="#ffffff"/><stop offset="0.645" stop-color="#c9e4fa"/><stop offset="0.650" stop-color="#3491e8"/><stop offset="0.655" stop-color="#1e28ce"/><stop offset="0.680" stop-color="#17209c"/><stop offset="0.760" stop-color="#1a24b3"/><stop offset="0.795" stop-color="#1c26c0"/><stop offset="0.905" stop-color="#1d27c7"/><stop offset="0.935" stop-color="#2230df"/><stop offset="0.945" stop-color="#3895e9"/><stop offset="0.950" stop-color="#40a1eb"/><stop offset="0.955" stop-color="#8ec9f3"/><stop offset="0.960" stop-color="#fafcfe"/><stop offset="0.965" stop-color="#f5b0b6"/><stop offset="0.970" stop-color="#bc1e23"/><stop offset="1.000" stop-color="#96050c"/></linearGradient><linearGradient id="g2_78" x1="0" y1="0" x2="0" y2="1"><stop offset="0.000" stop-color="#fdeff0"/><stop offset="0.175" stop-color="#fdf2f4"/><stop offset="0.205" stop-color="#fefeff"/><stop offset="0.280" stop-color="#d7ebfb"/><stop offset="0.310" stop-color="#a9d6f6"/><stop offset="0.400" stop-color="#afd8f7"/><stop offset="0.435" stop-color="#e0effc"/><stop offset="0.450" stop-color="#f3f9fe"/><stop offset="0.460" stop-color="#fffefe"/><stop offset="0.470" stop-color="#fbdee2"/><stop offset="0.485" stop-color="#f298a0"/><stop offset="0.515" stop-color="#ef7c87"/><stop offset="0.545" stop-color="#e34957"/><stop offset="0.575" stop-color="#e14552"/><stop offset="0.620" stop-color="#eb6874"/><stop offset="0.625" stop-color="#ee7b86"/><stop offset="0.635" stop-color="#fce5e8"/><stop offset="0.640" stop-color="#fffefe"/><stop offset="0.645" stop-color="#cfe7fa"/><stop offset="0.650" stop-color="#3896e9"/><stop offset="0.655" stop-color="#1e28cf"/><stop offset="0.675" stop-color="#17219f"/><stop offset="0.760" stop-color="#1a24b3"/><stop offset="0.795" stop-color="#1c26c0"/><stop offset="0.905" stop-color="#1d27c7"/><stop offset="0.930" stop-color="#1f29d3"/><stop offset="0.935" stop-color="#2230df"/><stop offset="0.945" stop-color="#3795e9"/><stop offset="0.950" stop-color="#40a0eb"/><stop offset="0.955" stop-color="#8ec9f3"/><stop offset="0.960" stop-color="#fafcfe"/><stop offset="0.965" stop-color="#f5b0b6"/><stop offset="0.970" stop-color="#bc1e23"/><stop offset="1.000" stop-color="#96050c"/></linearGradient><linearGradient id="g2_79" x1="0" y1="0" x2="0" y2="1"><stop offset="0.000" stop-color="#fdeff0"/><stop offset="0.175" stop-color="#fdf2f4"/><stop offset="0.205" stop-color="#fefeff"/><stop offset="0.280" stop-color="#d7ebfb"/><stop offset="0.310" stop-color="#a9d6f6"/><stop offset="0.400" stop-color="#aed8f7"/><stop offset="0.435" stop-color="#e0effc"/><stop offset="0.450" stop-color="#f2f8fe"/><stop offset="0.460" stop-color="#fffefe"/><stop offset="0.470" stop-color="#fbe0e3"/><stop offset="0.485" stop-color="#f299a1"/><stop offset="0.515" stop-color="#ef7c87"/><stop offset="0.545" stop-color="#e34957"/><stop offset="0.575" stop-color="#e14552"/><stop offset="0.620" stop-color="#eb6874"/><stop offset="0.625" stop-color="#ee7984"/><stop offset="0.635" stop-color="#fbe3e6"/><stop offset="0.640" stop-color="#fffefe"/><stop offset="0.645" stop-color="#d5eafb"/><stop offset="0.650" stop-color="#3c9bea"/><stop offset="0.655" stop-color="#1e28d0"/><stop offset="0.675" stop-color="#17219f"/><stop offset="0.765" stop-color="#1b25b7"/><stop offset="0.885" stop-color="#1c26bf"/><stop offset="0.930" stop-color="#1f29d2"/><stop offset="0.935" stop-color="#222fdf"/><stop offset="0.945" stop-color="#3794e9"/><stop offset="0.950" stop-color="#40a0eb"/><stop offset="0.955" stop-color="#8dc9f3"/><stop offset="0.960" stop-color="#fafcfe"/><stop offset="0.965" stop-color="#f5b0b6"/><stop offset="0.970" stop-color="#bc1e23"/><stop offset="1.000" stop-color="#96050c"/></linearGradient><linearGradient id="g2_80" x1="0" y1="0" x2="0" y2="1"><stop offset="0.000" stop-color="#fdeff0"/><stop offset="0.175" stop-color="#fdf2f4"/><stop offset="0.205" stop-color="#fefeff"/><stop offset="0.285" stop-color="#d1e8fa"/><stop offset="0.315" stop-color="#a7d5f6"/><stop offset="0.400" stop-color="#add7f7"/><stop offset="0.435" stop-color="#e0effc"/><stop offset="0.450" stop-color="#f1f8fe"/><stop offset="0.460" stop-color="#ffffff"/><stop offset="0.470" stop-color="#fbe1e4"/><stop offset="0.485" stop-color="#f299a1"/><stop offset="0.515" stop-color="#ef7d87"/><stop offset="0.545" stop-color="#e44957"/><stop offset="0.575" stop-color="#e14552"/><stop offset="0.620" stop-color="#eb6874"/><stop offset="0.625" stop-color="#ee7782"/><stop offset="0.635" stop-color="#fbe1e4"/><stop offset="0.640" stop-color="#fffdfe"/><stop offset="0.645" stop-color="#daecfb"/><stop offset="0.650" stop-color="#40a0eb"/><stop offset="0.655" stop-color="#1f29d2"/><stop offset="0.675" stop-color="#1721a0"/><stop offset="0.760" stop-color="#1a24b3"/><stop offset="0.815" stop-color="#1c26be"/><stop offset="0.905" stop-color="#1d27c5"/><stop offset="0.930" stop-color="#1e28d1"/><stop offset="0.935" stop-color="#222fdf"/><stop offset="0.945" stop-color="#3794e9"/><stop offset="0.950" stop-color="#3fa0eb"/><stop offset="0.955" stop-color="#8dc8f3"/><stop offset="0.960" stop-color="#fafcfe"/><stop offset="0.965" stop-color="#f5b0b6"/><stop offset="0.970" stop-color="#bc1e23"/><stop offset="1.000" stop-color="#96050c"/></linearGradient><linearGradient id="g2_81" x1="0" y1="0" x2="0" y2="1"><stop offset="0.000" stop-color="#fdeff0"/><stop offset="0.175" stop-color="#fdf2f4"/><stop offset="0.205" stop-color="#fefeff"/><stop offset="0.285" stop-color="#d1e8fa"/><stop offset="0.315" stop-color="#a7d5f6"/><stop offset="0.400" stop-color="#acd7f6"/><stop offset="0.435" stop-color="#dfeffc"/><stop offset="0.450" stop-color="#f0f7fd"/><stop offset="0.460" stop-color="#ffffff"/><stop offset="0.470" stop-color="#fbe2e5"/><stop offset="0.485" stop-color="#f29aa2"/><stop offset="0.515" stop-color="#ef7d88"/><stop offset="0.545" stop-color="#e44957"/><stop offset="0.575" stop-color="#e14552"/><stop offset="0.620" stop-color="#eb6874"/><stop offset="0.625" stop-color="#ed7580"/><stop offset="0.635" stop-color="#fbdfe2"/><stop offset="0.640" stop-color="#fffdfd"/><stop offset="0.645" stop-color="#deeffc"/><stop offset="0.650" stop-color="#44a6ec"/><stop offset="0.655" stop-color="#1f29d4"/><stop offset="0.675" stop-color="#1721a0"/><stop offset="0.760" stop-color="#1a24b2"/><stop offset="0.815" stop-color="#1b25bd"/><stop offset="0.905" stop-color="#1c26c4"/><stop offset="0.930" stop-color="#1e28d0"/><stop offset="0.935" stop-color="#222fde"/><stop offset="0.945" stop-color="#3794e9"/><stop offset="0.950" stop-color="#3f9feb"/><stop offset="0.955" stop-color="#8dc8f3"/><stop offset="0.960" stop-color="#fafcfe"/><stop offset="0.965" stop-color="#f5b0b6"/><stop offset="0.970" stop-color="#bc1e23"/><stop offset="1.000" stop-color="#96050c"/></linearGradient><linearGradient id="g2_82" x1="0" y1="0" x2="0" y2="1"><stop offset="0.000" stop-color="#fdeff0"/><stop offset="0.175" stop-color="#fdf2f4"/><stop offset="0.205" stop-color="#fefeff"/><stop offset="0.285" stop-color="#d2e8fa"/><stop offset="0.315" stop-color="#a7d4f6"/><stop offset="0.400" stop-color="#abd6f6"/><stop offset="0.435" stop-color="#dfeffc"/><stop offset="0.450" stop-color="#eff7fd"/><stop offset="0.460" stop-color="#ffffff"/><stop offset="0.470" stop-color="#fbe4e6"/><stop offset="0.485" stop-color="#f29ba3"/><stop offset="0.515" stop-color="#ef7d88"/><stop offset="0.545" stop-color="#e44957"/><stop offset="0.575" stop-color="#e14552"/><stop offset="0.625" stop-color="#ed737e"/><stop offset="0.635" stop-color="#fadde0"/><stop offset="0.640" stop-color="#fffcfc"/><stop offset="0.645" stop-color="#e3f1fc"/><stop offset="0.650" stop-color="#48abed"/><stop offset="0.655" stop-color="#1f29d7"/><stop offset="0.675" stop-color="#1721a0"/><stop offset="0.760" stop-color="#1a24b2"/><stop offset="0.825" stop-color="#1b25bc"/><stop offset="0.905" stop-color="#1c26c3"/><stop offset="0.930" stop-color="#1e28cf"/><stop offset="0.935" stop-color="#212ede"/><stop offset="0.940" stop-color="#2a59e7"/><stop offset="0.945" stop-color="#3693e8"/><stop offset="0.950" stop-color="#3f9feb"/><stop offset="0.955" stop-color="#8cc8f3"/><stop offset="0.960" stop-color="#fafcfe"/><stop offset="0.965" stop-color="#f5b0b6"/><stop offset="0.970" stop-color="#bc1e23"/><stop offset="1.000" stop-color="#96050c"/></linearGradient><linearGradient id="g2_83" x1="0" y1="0" x2="0" y2="1"><stop offset="0.000" stop-color="#fdeff0"/><stop offset="0.175" stop-color="#fdf2f4"/><stop offset="0.205" stop-color="#fefeff"/><stop offset="0.285" stop-color="#d3e9fb"/><stop offset="0.315" stop-color="#a7d4f6"/><stop offset="0.400" stop-color="#abd6f6"/><stop offset="0.435" stop-color="#dfeffc"/><stop offset="0.450" stop-color="#eef7fd"/><stop offset="0.460" stop-color="#ffffff"/><stop offset="0.470" stop-color="#fbe5e8"/><stop offset="0.485" stop-color="#f39ba3"/><stop offset="0.515" stop-color="#ef7e88"/><stop offset="0.545" stop-color="#e44957"/><stop offset="0.575" stop-color="#e14552"/><stop offset="0.625" stop-color="#ed717d"/><stop offset="0.635" stop-color="#fadade"/><stop offset="0.640" stop-color="#fffbfc"/><stop offset="0.645" stop-color="#e7f3fd"/><stop offset="0.650" stop-color="#4eb0ee"/><stop offset="0.655" stop-color="#202adb"/><stop offset="0.675" stop-color="#1721a0"/><stop offset="0.765" stop-color="#1a24b5"/><stop offset="0.905" stop-color="#1c26c2"/><stop offset="0.930" stop-color="#1e28cf"/><stop offset="0.935" stop-color="#212ede"/><stop offset="0.940" stop-color="#2a58e7"/><stop offset="0.945" stop-color="#3693e8"/><stop offset="0.950" stop-color="#3f9feb"/><stop offset="0.955" stop-color="#8cc8f3"/><stop offset="0.960" stop-color="#fafcfe"/><stop offset="0.965" stop-color="#f5b0b6"/><stop offset="0.970" stop-color="#bc1e23"/><stop offset="1.000" stop-color="#96050c"/></linearGradient><linearGradient id="g2_84" x1="0" y1="0" x2="0" y2="1"><stop offset="0.000" stop-color="#fdeff0"/><stop offset="0.175" stop-color="#fdf2f4"/><stop offset="0.205" stop-color="#fefeff"/><stop offset="0.285" stop-color="#d3e9fb"/><stop offset="0.315" stop-color="#a7d4f6"/><stop offset="0.400" stop-color="#aad6f6"/><stop offset="0.435" stop-color="#dfeffc"/><stop offset="0.450" stop-color="#edf6fd"/><stop offset="0.460" stop-color="#ffffff"/><stop offset="0.470" stop-color="#fce6e8"/><stop offset="0.485" stop-color="#f39ca4"/><stop offset="0.520" stop-color="#ed7480"/><stop offset="0.545" stop-color="#e44a57"/><stop offset="0.575" stop-color="#e14552"/><stop offset="0.625" stop-color="#ec707c"/><stop offset="0.635" stop-color="#fad9dd"/><stop offset="0.640" stop-color="#fefbfb"/><stop offset="0.645" stop-color="#eaf4fd"/><stop offset="0.650" stop-color="#54b2ef"/><stop offset="0.655" stop-color="#202bdc"/><stop offset="0.675" stop-color="#1721a0"/><stop offset="0.765" stop-color="#1a24b5"/><stop offset="0.905" stop-color="#1c26c1"/><stop offset="0.930" stop-color="#1e28ce"/><stop offset="0.935" stop-color="#212dde"/><stop offset="0.940" stop-color="#2a57e7"/><stop offset="0.945" stop-color="#3693e8"/><stop offset="0.950" stop-color="#3f9eeb"/><stop offset="0.955" stop-color="#8cc8f3"/><stop offset="0.960" stop-color="#fafcfe"/><stop offset="0.965" stop-color="#f5b0b6"/><stop offset="0.970" stop-color="#bc1e23"/><stop offset="1.000" stop-color="#96050c"/></linearGradient><linearGradient id="cbar" x1="0" y1="0" x2="1" y2="0"><stop offset="0.0000" stop-color="#96050c"/><stop offset="0.0625" stop-color="#af1419"/><stop offset="0.1250" stop-color="#c32328"/><stop offset="0.1875" stop-color="#d7323c"/><stop offset="0.2500" stop-color="#e64e5c"/><stop offset="0.3125" stop-color="#f0848e"/><stop offset="0.3750" stop-color="#f5b2b8"/><stop offset="0.4375" stop-color="#fadade"/><stop offset="0.5000" stop-color="#ffffff"/><stop offset="0.5625" stop-color="#cde6fa"/><stop offset="0.6250" stop-color="#8cc8f3"/><stop offset="0.6875" stop-color="#4bafee"/><stop offset="0.7500" stop-color="#2d87e6"/><stop offset="0.7875" stop-color="#2841e8"/><stop offset="0.8250" stop-color="#202adc"/><stop offset="0.8750" stop-color="#1822a5"/><stop offset="0.9375" stop-color="#12197d"/><stop offset="1.0000" stop-color="#0a0f50"/></linearGradient></defs><rect width="666" height="949" fill="#fff"/><rect x="81" y="68.9" width="10" height="252.8" fill="url(#g0_0)"/><rect x="90" y="68.9" width="7" height="252.8" fill="url(#g0_1)"/><rect x="96" y="68.9" width="8" height="252.8" fill="url(#g0_2)"/><rect x="103" y="68.9" width="8" height="252.8" fill="url(#g0_3)"/><rect x="110" y="68.9" width="8" height="252.8" fill="url(#g0_4)"/><rect x="117" y="68.9" width="8" height="252.8" fill="url(#g0_5)"/><rect x="124" y="68.9" width="8" height="252.8" fill="url(#g0_6)"/><rect x="131" y="68.9" width="8" height="252.8" fill="url(#g0_7)"/><rect x="138" y="68.9" width="7" height="252.8" fill="url(#g0_8)"/><rect x="144" y="68.9" width="8" height="252.8" fill="url(#g0_9)"/><rect x="151" y="68.9" width="8" height="252.8" fill="url(#g0_10)"/><rect x="158" y="68.9" width="8" height="252.8" fill="url(#g0_11)"/><rect x="165" y="68.9" width="8" height="252.8" fill="url(#g0_12)"/><rect x="172" y="68.9" width="8" height="252.8" fill="url(#g0_13)"/><rect x="179" y="68.9" width="8" height="252.8" fill="url(#g0_14)"/><rect x="186" y="68.9" width="7" height="252.8" fill="url(#g0_15)"/><rect x="192" y="68.9" width="8" height="252.8" fill="url(#g0_16)"/><rect x="199" y="68.9" width="8" height="252.8" fill="url(#g0_17)"/><rect x="206" y="68.9" width="8" height="252.8" fill="url(#g0_18)"/><rect x="213" y="68.9" width="8" height="252.8" fill="url(#g0_19)"/><rect x="220" y="68.9" width="8" height="252.8" fill="url(#g0_20)"/><rect x="227" y="68.9" width="8" height="252.8" fill="url(#g0_21)"/><rect x="234" y="68.9" width="7" height="252.8" fill="url(#g0_22)"/><rect x="240" y="68.9" width="8" height="252.8" fill="url(#g0_23)"/><rect x="247" y="68.9" width="8" height="252.8" fill="url(#g0_24)"/><rect x="254" y="68.9" width="8" height="252.8" fill="url(#g0_25)"/><rect x="261" y="68.9" width="8" height="252.8" fill="url(#g0_26)"/><rect x="268" y="68.9" width="8" height="252.8" fill="url(#g0_27)"/><rect x="275" y="68.9" width="8" height="252.8" fill="url(#g0_28)"/><rect x="282" y="68.9" width="7" height="252.8" fill="url(#g0_29)"/><rect x="288" y="68.9" width="8" height="252.8" fill="url(#g0_30)"/><rect x="295" y="68.9" width="8" height="252.8" fill="url(#g0_31)"/><rect x="302" y="68.9" width="8" height="252.8" fill="url(#g0_32)"/><rect x="309" y="68.9" width="8" height="252.8" fill="url(#g0_33)"/><rect x="316" y="68.9" width="8" height="252.8" fill="url(#g0_34)"/><rect x="323" y="68.9" width="8" height="252.8" fill="url(#g0_35)"/><rect x="330" y="68.9" width="8" height="252.8" fill="url(#g0_36)"/><rect x="337" y="68.9" width="7" height="252.8" fill="url(#g0_37)"/><rect x="343" y="68.9" width="8" height="252.8" fill="url(#g0_38)"/><rect x="350" y="68.9" width="8" height="252.8" fill="url(#g0_39)"/><rect x="357" y="68.9" width="8" height="252.8" fill="url(#g0_40)"/><rect x="364" y="68.9" width="8" height="252.8" fill="url(#g0_41)"/><rect x="371" y="68.9" width="8" height="252.8" fill="url(#g0_42)"/><rect x="378" y="68.9" width="8" height="252.8" fill="url(#g0_43)"/><rect x="385" y="68.9" width="7" height="252.8" fill="url(#g0_44)"/><rect x="391" y="68.9" width="8" height="252.8" fill="url(#g0_45)"/><rect x="398" y="68.9" width="8" height="252.8" fill="url(#g0_46)"/><rect x="405" y="68.9" width="8" height="252.8" fill="url(#g0_47)"/><rect x="412" y="68.9" width="8" height="252.8" fill="url(#g0_48)"/><rect x="419" y="68.9" width="8" height="252.8" fill="url(#g0_49)"/><rect x="426" y="68.9" width="8" height="252.8" fill="url(#g0_50)"/><rect x="433" y="68.9" width="7" height="252.8" fill="url(#g0_51)"/><rect x="439" y="68.9" width="8" height="252.8" fill="url(#g0_52)"/><rect x="446" y="68.9" width="8" height="252.8" fill="url(#g0_53)"/><rect x="453" y="68.9" width="8" height="252.8" fill="url(#g0_54)"/><rect x="460" y="68.9" width="8" height="252.8" fill="url(#g0_55)"/><rect x="467" y="68.9" width="8" height="252.8" fill="url(#g0_56)"/><rect x="474" y="68.9" width="8" height="252.8" fill="url(#g0_57)"/><rect x="481" y="68.9" width="7" height="252.8" fill="url(#g0_58)"/><rect x="487" y="68.9" width="8" height="252.8" fill="url(#g0_59)"/><rect x="494" y="68.9" width="8" height="252.8" fill="url(#g0_60)"/><rect x="501" y="68.9" width="8" height="252.8" fill="url(#g0_61)"/><rect x="508" y="68.9" width="8" height="252.8" fill="url(#g0_62)"/><rect x="515" y="68.9" width="8" height="252.8" fill="url(#g0_63)"/><rect x="522" y="68.9" width="8" height="252.8" fill="url(#g0_64)"/><rect x="529" y="68.9" width="7" height="252.8" fill="url(#g0_65)"/><rect x="535" y="68.9" width="8" height="252.8" fill="url(#g0_66)"/><rect x="542" y="68.9" width="8" height="252.8" fill="url(#g0_67)"/><rect x="549" y="68.9" width="8" height="252.8" fill="url(#g0_68)"/><rect x="556" y="68.9" width="8" height="252.8" fill="url(#g0_69)"/><rect x="563" y="68.9" width="8" height="252.8" fill="url(#g0_70)"/><rect x="570" y="68.9" width="8" height="252.8" fill="url(#g0_71)"/><rect x="577" y="68.9" width="7" height="252.8" fill="url(#g0_72)"/><rect x="583" y="68.9" width="8" height="252.8" fill="url(#g0_73)"/><rect x="590" y="68.9" width="8" height="252.8" fill="url(#g0_74)"/><rect x="597" y="68.9" width="8" height="252.8" fill="url(#g0_75)"/><rect x="604" y="68.9" width="8" height="252.8" fill="url(#g0_76)"/><rect x="611" y="68.9" width="8" height="252.8" fill="url(#g0_77)"/><rect x="618" y="68.9" width="8" height="252.8" fill="url(#g0_78)"/><rect x="625" y="68.9" width="8" height="252.8" fill="url(#g0_79)"/><rect x="632" y="68.9" width="7" height="252.8" fill="url(#g0_80)"/><rect x="638" y="68.9" width="8" height="252.8" fill="url(#g0_81)"/><rect x="645" y="68.9" width="8" height="252.8" fill="url(#g0_82)"/><rect x="652" y="68.9" width="8" height="252.8" fill="url(#g0_83)"/><rect x="659" y="68.9" width="4" height="252.8" fill="url(#g0_84)"/><rect x="81" y="333.3" width="10" height="252.8" fill="url(#g1_0)"/><rect x="90" y="333.3" width="7" height="252.8" fill="url(#g1_1)"/><rect x="96" y="333.3" width="8" height="252.8" fill="url(#g1_2)"/><rect x="103" y="333.3" width="8" height="252.8" fill="url(#g1_3)"/><rect x="110" y="333.3" width="8" height="252.8" fill="url(#g1_4)"/><rect x="117" y="333.3" width="8" height="252.8" fill="url(#g1_5)"/><rect x="124" y="333.3" width="8" height="252.8" fill="url(#g1_6)"/><rect x="131" y="333.3" width="8" height="252.8" fill="url(#g1_7)"/><rect x="138" y="333.3" width="7" height="252.8" fill="url(#g1_8)"/><rect x="144" y="333.3" width="8" height="252.8" fill="url(#g1_9)"/><rect x="151" y="333.3" width="8" height="252.8" fill="url(#g1_10)"/><rect x="158" y="333.3" width="8" height="252.8" fill="url(#g1_11)"/><rect x="165" y="333.3" width="8" height="252.8" fill="url(#g1_12)"/><rect x="172" y="333.3" width="8" height="252.8" fill="url(#g1_13)"/><rect x="179" y="333.3" width="8" height="252.8" fill="url(#g1_14)"/><rect x="186" y="333.3" width="7" height="252.8" fill="url(#g1_15)"/><rect x="192" y="333.3" width="8" height="252.8" fill="url(#g1_16)"/><rect x="199" y="333.3" width="8" height="252.8" fill="url(#g1_17)"/><rect x="206" y="333.3" width="8" height="252.8" fill="url(#g1_18)"/><rect x="213" y="333.3" width="8" height="252.8" fill="url(#g1_19)"/><rect x="220" y="333.3" width="8" height="252.8" fill="url(#g1_20)"/><rect x="227" y="333.3" width="8" height="252.8" fill="url(#g1_21)"/><rect x="234" y="333.3" width="7" height="252.8" fill="url(#g1_22)"/><rect x="240" y="333.3" width="8" height="252.8" fill="url(#g1_23)"/><rect x="247" y="333.3" width="8" height="252.8" fill="url(#g1_24)"/><rect x="254" y="333.3" width="8" height="252.8" fill="url(#g1_25)"/><rect x="261" y="333.3" width="8" height="252.8" fill="url(#g1_26)"/><rect x="268" y="333.3" width="8" height="252.8" fill="url(#g1_27)"/><rect x="275" y="333.3" width="8" height="252.8" fill="url(#g1_28)"/><rect x="282" y="333.3" width="7" height="252.8" fill="url(#g1_29)"/><rect x="288" y="333.3" width="8" height="252.8" fill="url(#g1_30)"/><rect x="295" y="333.3" width="8" height="252.8" fill="url(#g1_31)"/><rect x="302" y="333.3" width="8" height="252.8" fill="url(#g1_32)"/><rect x="309" y="333.3" width="8" height="252.8" fill="url(#g1_33)"/><rect x="316" y="333.3" width="8" height="252.8" fill="url(#g1_34)"/><rect x="323" y="333.3" width="8" height="252.8" fill="url(#g1_35)"/><rect x="330" y="333.3" width="8" height="252.8" fill="url(#g1_36)"/><rect x="337" y="333.3" width="7" height="252.8" fill="url(#g1_37)"/><rect x="343" y="333.3" width="8" height="252.8" fill="url(#g1_38)"/><rect x="350" y="333.3" width="8" height="252.8" fill="url(#g1_39)"/><rect x="357" y="333.3" width="8" height="252.8" fill="url(#g1_40)"/><rect x="364" y="333.3" width="8" height="252.8" fill="url(#g1_41)"/><rect x="371" y="333.3" width="8" height="252.8" fill="url(#g1_42)"/><rect x="378" y="333.3" width="8" height="252.8" fill="url(#g1_43)"/><rect x="385" y="333.3" width="7" height="252.8" fill="url(#g1_44)"/><rect x="391" y="333.3" width="8" height="252.8" fill="url(#g1_45)"/><rect x="398" y="333.3" width="8" height="252.8" fill="url(#g1_46)"/><rect x="405" y="333.3" width="8" height="252.8" fill="url(#g1_47)"/><rect x="412" y="333.3" width="8" height="252.8" fill="url(#g1_48)"/><rect x="419" y="333.3" width="8" height="252.8" fill="url(#g1_49)"/><rect x="426" y="333.3" width="8" height="252.8" fill="url(#g1_50)"/><rect x="433" y="333.3" width="7" height="252.8" fill="url(#g1_51)"/><rect x="439" y="333.3" width="8" height="252.8" fill="url(#g1_52)"/><rect x="446" y="333.3" width="8" height="252.8" fill="url(#g1_53)"/><rect x="453" y="333.3" width="8" height="252.8" fill="url(#g1_54)"/><rect x="460" y="333.3" width="8" height="252.8" fill="url(#g1_55)"/><rect x="467" y="333.3" width="8" height="252.8" fill="url(#g1_56)"/><rect x="474" y="333.3" width="8" height="252.8" fill="url(#g1_57)"/><rect x="481" y="333.3" width="7" height="252.8" fill="url(#g1_58)"/><rect x="487" y="333.3" width="8" height="252.8" fill="url(#g1_59)"/><rect x="494" y="333.3" width="8" height="252.8" fill="url(#g1_60)"/><rect x="501" y="333.3" width="8" height="252.8" fill="url(#g1_61)"/><rect x="508" y="333.3" width="8" height="252.8" fill="url(#g1_62)"/><rect x="515" y="333.3" width="8" height="252.8" fill="url(#g1_63)"/><rect x="522" y="333.3" width="8" height="252.8" fill="url(#g1_64)"/><rect x="529" y="333.3" width="7" height="252.8" fill="url(#g1_65)"/><rect x="535" y="333.3" width="8" height="252.8" fill="url(#g1_66)"/><rect x="542" y="333.3" width="8" height="252.8" fill="url(#g1_67)"/><rect x="549" y="333.3" width="8" height="252.8" fill="url(#g1_68)"/><rect x="556" y="333.3" width="8" height="252.8" fill="url(#g1_69)"/><rect x="563" y="333.3" width="8" height="252.8" fill="url(#g1_70)"/><rect x="570" y="333.3" width="8" height="252.8" fill="url(#g1_71)"/><rect x="577" y="333.3" width="7" height="252.8" fill="url(#g1_72)"/><rect x="583" y="333.3" width="8" height="252.8" fill="url(#g1_73)"/><rect x="590" y="333.3" width="8" height="252.8" fill="url(#g1_74)"/><rect x="597" y="333.3" width="8" height="252.8" fill="url(#g1_75)"/><rect x="604" y="333.3" width="8" height="252.8" fill="url(#g1_76)"/><rect x="611" y="333.3" width="8" height="252.8" fill="url(#g1_77)"/><rect x="618" y="333.3" width="8" height="252.8" fill="url(#g1_78)"/><rect x="625" y="333.3" width="8" height="252.8" fill="url(#g1_79)"/><rect x="632" y="333.3" width="7" height="252.8" fill="url(#g1_80)"/><rect x="638" y="333.3" width="8" height="252.8" fill="url(#g1_81)"/><rect x="645" y="333.3" width="8" height="252.8" fill="url(#g1_82)"/><rect x="652" y="333.3" width="8" height="252.8" fill="url(#g1_83)"/><rect x="659" y="333.3" width="4" height="252.8" fill="url(#g1_84)"/><rect x="81" y="597.9" width="10" height="252.8" fill="url(#g2_0)"/><rect x="90" y="597.9" width="7" height="252.8" fill="url(#g2_1)"/><rect x="96" y="597.9" width="8" height="252.8" fill="url(#g2_2)"/><rect x="103" y="597.9" width="8" height="252.8" fill="url(#g2_3)"/><rect x="110" y="597.9" width="8" height="252.8" fill="url(#g2_4)"/><rect x="117" y="597.9" width="8" height="252.8" fill="url(#g2_5)"/><rect x="124" y="597.9" width="8" height="252.8" fill="url(#g2_6)"/><rect x="131" y="597.9" width="8" height="252.8" fill="url(#g2_7)"/><rect x="138" y="597.9" width="7" height="252.8" fill="url(#g2_8)"/><rect x="144" y="597.9" width="8" height="252.8" fill="url(#g2_9)"/><rect x="151" y="597.9" width="8" height="252.8" fill="url(#g2_10)"/><rect x="158" y="597.9" width="8" height="252.8" fill="url(#g2_11)"/><rect x="165" y="597.9" width="8" height="252.8" fill="url(#g2_12)"/><rect x="172" y="597.9" width="8" height="252.8" fill="url(#g2_13)"/><rect x="179" y="597.9" width="8" height="252.8" fill="url(#g2_14)"/><rect x="186" y="597.9" width="7" height="252.8" fill="url(#g2_15)"/><rect x="192" y="597.9" width="8" height="252.8" fill="url(#g2_16)"/><rect x="199" y="597.9" width="8" height="252.8" fill="url(#g2_17)"/><rect x="206" y="597.9" width="8" height="252.8" fill="url(#g2_18)"/><rect x="213" y="597.9" width="8" height="252.8" fill="url(#g2_19)"/><rect x="220" y="597.9" width="8" height="252.8" fill="url(#g2_20)"/><rect x="227" y="597.9" width="8" height="252.8" fill="url(#g2_21)"/><rect x="234" y="597.9" width="7" height="252.8" fill="url(#g2_22)"/><rect x="240" y="597.9" width="8" height="252.8" fill="url(#g2_23)"/><rect x="247" y="597.9" width="8" height="252.8" fill="url(#g2_24)"/><rect x="254" y="597.9" width="8" height="252.8" fill="url(#g2_25)"/><rect x="261" y="597.9" width="8" height="252.8" fill="url(#g2_26)"/><rect x="268" y="597.9" width="8" height="252.8" fill="url(#g2_27)"/><rect x="275" y="597.9" width="8" height="252.8" fill="url(#g2_28)"/><rect x="282" y="597.9" width="7" height="252.8" fill="url(#g2_29)"/><rect x="288" y="597.9" width="8" height="252.8" fill="url(#g2_30)"/><rect x="295" y="597.9" width="8" height="252.8" fill="url(#g2_31)"/><rect x="302" y="597.9" width="8" height="252.8" fill="url(#g2_32)"/><rect x="309" y="597.9" width="8" height="252.8" fill="url(#g2_33)"/><rect x="316" y="597.9" width="8" height="252.8" fill="url(#g2_34)"/><rect x="323" y="597.9" width="8" height="252.8" fill="url(#g2_35)"/><rect x="330" y="597.9" width="8" height="252.8" fill="url(#g2_36)"/><rect x="337" y="597.9" width="7" height="252.8" fill="url(#g2_37)"/><rect x="343" y="597.9" width="8" height="252.8" fill="url(#g2_38)"/><rect x="350" y="597.9" width="8" height="252.8" fill="url(#g2_39)"/><rect x="357" y="597.9" width="8" height="252.8" fill="url(#g2_40)"/><rect x="364" y="597.9" width="8" height="252.8" fill="url(#g2_41)"/><rect x="371" y="597.9" width="8" height="252.8" fill="url(#g2_42)"/><rect x="378" y="597.9" width="8" height="252.8" fill="url(#g2_43)"/><rect x="385" y="597.9" width="7" height="252.8" fill="url(#g2_44)"/><rect x="391" y="597.9" width="8" height="252.8" fill="url(#g2_45)"/><rect x="398" y="597.9" width="8" height="252.8" fill="url(#g2_46)"/><rect x="405" y="597.9" width="8" height="252.8" fill="url(#g2_47)"/><rect x="412" y="597.9" width="8" height="252.8" fill="url(#g2_48)"/><rect x="419" y="597.9" width="8" height="252.8" fill="url(#g2_49)"/><rect x="426" y="597.9" width="8" height="252.8" fill="url(#g2_50)"/><rect x="433" y="597.9" width="7" height="252.8" fill="url(#g2_51)"/><rect x="439" y="597.9" width="8" height="252.8" fill="url(#g2_52)"/><rect x="446" y="597.9" width="8" height="252.8" fill="url(#g2_53)"/><rect x="453" y="597.9" width="8" height="252.8" fill="url(#g2_54)"/><rect x="460" y="597.9" width="8" height="252.8" fill="url(#g2_55)"/><rect x="467" y="597.9" width="8" height="252.8" fill="url(#g2_56)"/><rect x="474" y="597.9" width="8" height="252.8" fill="url(#g2_57)"/><rect x="481" y="597.9" width="7" height="252.8" fill="url(#g2_58)"/><rect x="487" y="597.9" width="8" height="252.8" fill="url(#g2_59)"/><rect x="494" y="597.9" width="8" height="252.8" fill="url(#g2_60)"/><rect x="501" y="597.9" width="8" height="252.8" fill="url(#g2_61)"/><rect x="508" y="597.9" width="8" height="252.8" fill="url(#g2_62)"/><rect x="515" y="597.9" width="8" height="252.8" fill="url(#g2_63)"/><rect x="522" y="597.9" width="8" height="252.8" fill="url(#g2_64)"/><rect x="529" y="597.9" width="7" height="252.8" fill="url(#g2_65)"/><rect x="535" y="597.9" width="8" height="252.8" fill="url(#g2_66)"/><rect x="542" y="597.9" width="8" height="252.8" fill="url(#g2_67)"/><rect x="549" y="597.9" width="8" height="252.8" fill="url(#g2_68)"/><rect x="556" y="597.9" width="8" height="252.8" fill="url(#g2_69)"/><rect x="563" y="597.9" width="8" height="252.8" fill="url(#g2_70)"/><rect x="570" y="597.9" width="8" height="252.8" fill="url(#g2_71)"/><rect x="577" y="597.9" width="7" height="252.8" fill="url(#g2_72)"/><rect x="583" y="597.9" width="8" height="252.8" fill="url(#g2_73)"/><rect x="590" y="597.9" width="8" height="252.8" fill="url(#g2_74)"/><rect x="597" y="597.9" width="8" height="252.8" fill="url(#g2_75)"/><rect x="604" y="597.9" width="8" height="252.8" fill="url(#g2_76)"/><rect x="611" y="597.9" width="8" height="252.8" fill="url(#g2_77)"/><rect x="618" y="597.9" width="8" height="252.8" fill="url(#g2_78)"/><rect x="625" y="597.9" width="8" height="252.8" fill="url(#g2_79)"/><rect x="632" y="597.9" width="7" height="252.8" fill="url(#g2_80)"/><rect x="638" y="597.9" width="8" height="252.8" fill="url(#g2_81)"/><rect x="645" y="597.9" width="8" height="252.8" fill="url(#g2_82)"/><rect x="652" y="597.9" width="8" height="252.8" fill="url(#g2_83)"/><rect x="659" y="597.9" width="4" height="252.8" fill="url(#g2_84)"/><rect x="184.5" y="28.5" width="357.5" height="30.2" fill="url(#cbar)" stroke="#222" stroke-width="1"/><text x="187.0" y="20.3" font-family="Liberation Sans, sans-serif" font-size="30" text-anchor="middle" stroke="#fff" stroke-width="0.5">400</text><text x="274.0" y="20.3" font-family="Liberation Sans, sans-serif" font-size="30" text-anchor="middle" stroke="#fff" stroke-width="0.5">200</text><text x="364.0" y="20.3" font-family="Liberation Sans, sans-serif" font-size="30" text-anchor="middle" stroke="#fff" stroke-width="0.5">0</text><text x="417" y="20.3" font-family="Liberation Sans, sans-serif" font-size="30" stroke="#fff" stroke-width="0.5">-200</text><text x="506" y="20.3" font-family="Liberation Sans, sans-serif" font-size="30" stroke="#fff" stroke-width="0.5">-400 e.u.</text><line x1="185.6" y1="68.9" x2="185.6" y2="321.7" stroke="#8c8c8c" stroke-width="2.6"/><line x1="117.0" y1="68.9" x2="117.0" y2="73.9" stroke="#111" stroke-width="2.5"/><line x1="117.0" y1="321.7" x2="117.0" y2="316.7" stroke="#111" stroke-width="2.5"/><line x1="185.6" y1="68.9" x2="185.6" y2="73.9" stroke="#111" stroke-width="2.5"/><line x1="185.6" y1="321.7" x2="185.6" y2="316.7" stroke="#111" stroke-width="2.5"/><line x1="254.2" y1="68.9" x2="254.2" y2="73.9" stroke="#111" stroke-width="2.5"/><line x1="254.2" y1="321.7" x2="254.2" y2="316.7" stroke="#111" stroke-width="2.5"/><line x1="322.8" y1="68.9" x2="322.8" y2="73.9" stroke="#111" stroke-width="2.5"/><line x1="322.8" y1="321.7" x2="322.8" y2="316.7" stroke="#111" stroke-width="2.5"/><line x1="391.4" y1="68.9" x2="391.4" y2="73.9" stroke="#111" stroke-width="2.5"/><line x1="391.4" y1="321.7" x2="391.4" y2="316.7" stroke="#111" stroke-width="2.5"/><line x1="460.0" y1="68.9" x2="460.0" y2="73.9" stroke="#111" stroke-width="2.5"/><line x1="460.0" y1="321.7" x2="460.0" y2="316.7" stroke="#111" stroke-width="2.5"/><line x1="528.6" y1="68.9" x2="528.6" y2="73.9" stroke="#111" stroke-width="2.5"/><line x1="528.6" y1="321.7" x2="528.6" y2="316.7" stroke="#111" stroke-width="2.5"/><line x1="597.2" y1="68.9" x2="597.2" y2="73.9" stroke="#111" stroke-width="2.5"/><line x1="597.2" y1="321.7" x2="597.2" y2="316.7" stroke="#111" stroke-width="2.5"/><line x1="80.0" y1="290.1" x2="85.0" y2="290.1" stroke="#111" stroke-width="2.5"/><line x1="662.5" y1="290.1" x2="657.5" y2="290.1" stroke="#111" stroke-width="2.5"/><text transform="translate(66.8,301.4) scale(1,1.03)" font-family="Liberation Sans, sans-serif" font-size="30" text-anchor="end" stroke="#fff" stroke-width="0.5">1</text><line x1="80.0" y1="226.9" x2="85.0" y2="226.9" stroke="#111" stroke-width="2.5"/><line x1="662.5" y1="226.9" x2="657.5" y2="226.9" stroke="#111" stroke-width="2.5"/><text transform="translate(66.8,238.2) scale(1,1.03)" font-family="Liberation Sans, sans-serif" font-size="30" text-anchor="end" stroke="#fff" stroke-width="0.5">2</text><line x1="80.0" y1="163.7" x2="85.0" y2="163.7" stroke="#111" stroke-width="2.5"/><line x1="662.5" y1="163.7" x2="657.5" y2="163.7" stroke="#111" stroke-width="2.5"/><text transform="translate(66.8,175.0) scale(1,1.03)" font-family="Liberation Sans, sans-serif" font-size="30" text-anchor="end" stroke="#fff" stroke-width="0.5">3</text><line x1="80.0" y1="100.5" x2="85.0" y2="100.5" stroke="#111" stroke-width="2.5"/><line x1="662.5" y1="100.5" x2="657.5" y2="100.5" stroke="#111" stroke-width="2.5"/><text transform="translate(66.8,111.8) scale(1,1.03)" font-family="Liberation Sans, sans-serif" font-size="30" text-anchor="end" stroke="#fff" stroke-width="0.5">4</text><rect x="80.0" y="68.9" width="582.5" height="252.8" fill="none" stroke="#1a1a1a" stroke-width="3"/><text x="97" y="113.7" font-family="Liberation Sans, sans-serif" font-size="32" font-weight="bold">a)</text><text x="197" y="113.7" font-family="Liberation Sans, sans-serif" font-size="32" font-weight="bold">Solute</text><text transform="translate(36.5,199.3) rotate(-90) scale(1.15,1)" font-family="Liberation Sans, sans-serif" font-size="33" font-weight="bold" text-anchor="middle">Q [Å<tspan dy="-15" font-size="23">-1</tspan><tspan dy="15">]</tspan></text><line x1="185.6" y1="333.3" x2="185.6" y2="586.1" stroke="#8c8c8c" stroke-width="2.6"/><line x1="117.0" y1="333.3" x2="117.0" y2="338.3" stroke="#111" stroke-width="2.5"/><line x1="117.0" y1="586.1" x2="117.0" y2="581.1" stroke="#111" stroke-width="2.5"/><line x1="185.6" y1="333.3" x2="185.6" y2="338.3" stroke="#111" stroke-width="2.5"/><line x1="185.6" y1="586.1" x2="185.6" y2="581.1" stroke="#111" stroke-width="2.5"/><line x1="254.2" y1="333.3" x2="254.2" y2="338.3" stroke="#111" stroke-width="2.5"/><line x1="254.2" y1="586.1" x2="254.2" y2="581.1" stroke="#111" stroke-width="2.5"/><line x1="322.8" y1="333.3" x2="322.8" y2="338.3" stroke="#111" stroke-width="2.5"/><line x1="322.8" y1="586.1" x2="322.8" y2="581.1" stroke="#111" stroke-width="2.5"/><line x1="391.4" y1="333.3" x2="391.4" y2="338.3" stroke="#111" stroke-width="2.5"/><line x1="391.4" y1="586.1" x2="391.4" y2="581.1" stroke="#111" stroke-width="2.5"/><line x1="460.0" y1="333.3" x2="460.0" y2="338.3" stroke="#111" stroke-width="2.5"/><line x1="460.0" y1="586.1" x2="460.0" y2="581.1" stroke="#111" stroke-width="2.5"/><line x1="528.6" y1="333.3" x2="528.6" y2="338.3" stroke="#111" stroke-width="2.5"/><line x1="528.6" y1="586.1" x2="528.6" y2="581.1" stroke="#111" stroke-width="2.5"/><line x1="597.2" y1="333.3" x2="597.2" y2="338.3" stroke="#111" stroke-width="2.5"/><line x1="597.2" y1="586.1" x2="597.2" y2="581.1" stroke="#111" stroke-width="2.5"/><line x1="80.0" y1="554.5" x2="85.0" y2="554.5" stroke="#111" stroke-width="2.5"/><line x1="662.5" y1="554.5" x2="657.5" y2="554.5" stroke="#111" stroke-width="2.5"/><text transform="translate(66.8,565.8) scale(1,1.03)" font-family="Liberation Sans, sans-serif" font-size="30" text-anchor="end" stroke="#fff" stroke-width="0.5">1</text><line x1="80.0" y1="491.3" x2="85.0" y2="491.3" stroke="#111" stroke-width="2.5"/><line x1="662.5" y1="491.3" x2="657.5" y2="491.3" stroke="#111" stroke-width="2.5"/><text transform="translate(66.8,502.6) scale(1,1.03)" font-family="Liberation Sans, sans-serif" font-size="30" text-anchor="end" stroke="#fff" stroke-width="0.5">2</text><line x1="80.0" y1="428.1" x2="85.0" y2="428.1" stroke="#111" stroke-width="2.5"/><line x1="662.5" y1="428.1" x2="657.5" y2="428.1" stroke="#111" stroke-width="2.5"/><text transform="translate(66.8,439.4) scale(1,1.03)" font-family="Liberation Sans, sans-serif" font-size="30" text-anchor="end" stroke="#fff" stroke-width="0.5">3</text><line x1="80.0" y1="364.9" x2="85.0" y2="364.9" stroke="#111" stroke-width="2.5"/><line x1="662.5" y1="364.9" x2="657.5" y2="364.9" stroke="#111" stroke-width="2.5"/><text transform="translate(66.8,376.2) scale(1,1.03)" font-family="Liberation Sans, sans-serif" font-size="30" text-anchor="end" stroke="#fff" stroke-width="0.5">4</text><rect x="80.0" y="333.3" width="582.5" height="252.8" fill="none" stroke="#1a1a1a" stroke-width="3"/><text x="97" y="378.1" font-family="Liberation Sans, sans-serif" font-size="32" font-weight="bold">b)</text><text x="197" y="378.1" font-family="Liberation Sans, sans-serif" font-size="32" font-weight="bold">Cross</text><text transform="translate(36.5,463.7) rotate(-90) scale(1.15,1)" font-family="Liberation Sans, sans-serif" font-size="33" font-weight="bold" text-anchor="middle">Q [Å<tspan dy="-15" font-size="23">-1</tspan><tspan dy="15">]</tspan></text><line x1="185.6" y1="597.9" x2="185.6" y2="850.7" stroke="#8c8c8c" stroke-width="2.6"/><line x1="117.0" y1="597.9" x2="117.0" y2="602.9" stroke="#111" stroke-width="2.5"/><line x1="117.0" y1="850.7" x2="117.0" y2="845.7" stroke="#111" stroke-width="2.5"/><line x1="185.6" y1="597.9" x2="185.6" y2="602.9" stroke="#111" stroke-width="2.5"/><line x1="185.6" y1="850.7" x2="185.6" y2="845.7" stroke="#111" stroke-width="2.5"/><line x1="254.2" y1="597.9" x2="254.2" y2="602.9" stroke="#111" stroke-width="2.5"/><line x1="254.2" y1="850.7" x2="254.2" y2="845.7" stroke="#111" stroke-width="2.5"/><line x1="322.8" y1="597.9" x2="322.8" y2="602.9" stroke="#111" stroke-width="2.5"/><line x1="322.8" y1="850.7" x2="322.8" y2="845.7" stroke="#111" stroke-width="2.5"/><line x1="391.4" y1="597.9" x2="391.4" y2="602.9" stroke="#111" stroke-width="2.5"/><line x1="391.4" y1="850.7" x2="391.4" y2="845.7" stroke="#111" stroke-width="2.5"/><line x1="460.0" y1="597.9" x2="460.0" y2="602.9" stroke="#111" stroke-width="2.5"/><line x1="460.0" y1="850.7" x2="460.0" y2="845.7" stroke="#111" stroke-width="2.5"/><line x1="528.6" y1="597.9" x2="528.6" y2="602.9" stroke="#111" stroke-width="2.5"/><line x1="528.6" y1="850.7" x2="528.6" y2="845.7" stroke="#111" stroke-width="2.5"/><line x1="597.2" y1="597.9" x2="597.2" y2="602.9" stroke="#111" stroke-width="2.5"/><line x1="597.2" y1="850.7" x2="597.2" y2="845.7" stroke="#111" stroke-width="2.5"/><line x1="80.0" y1="819.1" x2="85.0" y2="819.1" stroke="#111" stroke-width="2.5"/><line x1="662.5" y1="819.1" x2="657.5" y2="819.1" stroke="#111" stroke-width="2.5"/><text transform="translate(66.8,830.4) scale(1,1.03)" font-family="Liberation Sans, sans-serif" font-size="30" text-anchor="end" stroke="#fff" stroke-width="0.5">1</text><line x1="80.0" y1="755.9" x2="85.0" y2="755.9" stroke="#111" stroke-width="2.5"/><line x1="662.5" y1="755.9" x2="657.5" y2="755.9" stroke="#111" stroke-width="2.5"/><text transform="translate(66.8,767.2) scale(1,1.03)" font-family="Liberation Sans, sans-serif" font-size="30" text-anchor="end" stroke="#fff" stroke-width="0.5">2</text><line x1="80.0" y1="692.7" x2="85.0" y2="692.7" stroke="#111" stroke-width="2.5"/><line x1="662.5" y1="692.7" x2="657.5" y2="692.7" stroke="#111" stroke-width="2.5"/><text transform="translate(66.8,704.0) scale(1,1.03)" font-family="Liberation Sans, sans-serif" font-size="30" text-anchor="end" stroke="#fff" stroke-width="0.5">3</text><line x1="80.0" y1="629.5" x2="85.0" y2="629.5" stroke="#111" stroke-width="2.5"/><line x1="662.5" y1="629.5" x2="657.5" y2="629.5" stroke="#111" stroke-width="2.5"/><text transform="translate(66.8,640.8) scale(1,1.03)" font-family="Liberation Sans, sans-serif" font-size="30" text-anchor="end" stroke="#fff" stroke-width="0.5">4</text><rect x="80.0" y="597.9" width="582.5" height="252.8" fill="none" stroke="#1a1a1a" stroke-width="3"/><text x="97" y="642.7" font-family="Liberation Sans, sans-serif" font-size="32" font-weight="bold">c)</text><text x="197" y="642.7" font-family="Liberation Sans, sans-serif" font-size="32" font-weight="bold">Solvent</text><text transform="translate(36.5,728.3) rotate(-90) scale(1.15,1)" font-family="Liberation Sans, sans-serif" font-size="33" font-weight="bold" text-anchor="middle">Q [Å<tspan dy="-15" font-size="23">-1</tspan><tspan dy="15">]</tspan></text><text transform="translate(115.5,893.7) scale(1,1.03)" font-family="Liberation Sans, sans-serif" font-size="30" text-anchor="middle" stroke="#fff" stroke-width="0.5">-100</text><text transform="translate(186.1,893.7) scale(1,1.03)" font-family="Liberation Sans, sans-serif" font-size="30" text-anchor="middle" stroke="#fff" stroke-width="0.5">0</text><text transform="translate(252.7,893.7) scale(1,1.03)" font-family="Liberation Sans, sans-serif" font-size="30" text-anchor="middle" stroke="#fff" stroke-width="0.5">100</text><text transform="translate(321.3,893.7) scale(1,1.03)" font-family="Liberation Sans, sans-serif" font-size="30" text-anchor="middle" stroke="#fff" stroke-width="0.5">200</text><text transform="translate(389.9,893.7) scale(1,1.03)" font-family="Liberation Sans, sans-serif" font-size="30" text-anchor="middle" stroke="#fff" stroke-width="0.5">300</text><text transform="translate(458.5,893.7) scale(1,1.03)" font-family="Liberation Sans, sans-serif" font-size="30" text-anchor="middle" stroke="#fff" stroke-width="0.5">400</text><text transform="translate(527.1,893.7) scale(1,1.03)" font-family="Liberation Sans, sans-serif" font-size="30" text-anchor="middle" stroke="#fff" stroke-width="0.5">500</text><text transform="translate(595.7,893.7) scale(1,1.03)" font-family="Liberation Sans, sans-serif" font-size="30" text-anchor="middle" stroke="#fff" stroke-width="0.5">600</text><text x="370.2" y="939.5" font-family="Liberation Sans, sans-serif" font-size="34" font-weight="bold" text-anchor="middle">Time [fs]</text><line x1="465.0" y1="70.8" x2="465.0" y2="214.3" stroke="#dcdcdc" stroke-width="1.2"/><line x1="520.7" y1="70.8" x2="520.7" y2="214.3" stroke="#dcdcdc" stroke-width="1.2"/><line x1="576.4" y1="70.8" x2="576.4" y2="214.3" stroke="#dcdcdc" stroke-width="1.2"/><line x1="632.1" y1="70.8" x2="632.1" y2="214.3" stroke="#dcdcdc" stroke-width="1.2"/><line x1="409.0" y1="73.2" x2="661.0" y2="73.2" stroke="#dcdcdc" stroke-width="1.2"/><line x1="409.0" y1="116.2" x2="661.0" y2="116.2" stroke="#dcdcdc" stroke-width="1.2"/><line x1="409.0" y1="159.2" x2="661.0" y2="159.2" stroke="#dcdcdc" stroke-width="1.2"/><line x1="409.0" y1="202.2" x2="661.0" y2="202.2" stroke="#dcdcdc" stroke-width="1.2"/><line x1="409.3" y1="214.3" x2="409.3" y2="211.3" stroke="#333" stroke-width="1.3"/><text x="407.3" y="235.5" font-family="Liberation Sans, sans-serif" font-size="15" fill="#262626" text-anchor="middle">-200</text><line x1="465.0" y1="214.3" x2="465.0" y2="211.3" stroke="#333" stroke-width="1.3"/><text x="465.0" y="235.5" font-family="Liberation Sans, sans-serif" font-size="15" fill="#262626" text-anchor="middle">0</text><line x1="520.7" y1="214.3" x2="520.7" y2="211.3" stroke="#333" stroke-width="1.3"/><text x="520.7" y="235.5" font-family="Liberation Sans, sans-serif" font-size="15" fill="#262626" text-anchor="middle">200</text><line x1="576.4" y1="214.3" x2="576.4" y2="211.3" stroke="#333" stroke-width="1.3"/><text x="576.4" y="235.5" font-family="Liberation Sans, sans-serif" font-size="15" fill="#262626" text-anchor="middle">400</text><line x1="632.1" y1="214.3" x2="632.1" y2="211.3" stroke="#333" stroke-width="1.3"/><text x="632.1" y="235.5" font-family="Liberation Sans, sans-serif" font-size="15" fill="#262626" text-anchor="middle">600</text><line x1="409.0" y1="73.2" x2="412.0" y2="73.2" stroke="#333" stroke-width="1.3"/><text x="402.5" y="78.5" font-family="Liberation Sans, sans-serif" font-size="15" fill="#262626" text-anchor="end">0</text><line x1="409.0" y1="116.2" x2="412.0" y2="116.2" stroke="#333" stroke-width="1.3"/><text x="402.5" y="121.5" font-family="Liberation Sans, sans-serif" font-size="15" fill="#262626" text-anchor="end">-100</text><line x1="409.0" y1="159.2" x2="412.0" y2="159.2" stroke="#333" stroke-width="1.3"/><text x="402.5" y="164.5" font-family="Liberation Sans, sans-serif" font-size="15" fill="#262626" text-anchor="end">-200</text><line x1="409.0" y1="202.2" x2="412.0" y2="202.2" stroke="#333" stroke-width="1.3"/><text x="402.5" y="207.5" font-family="Liberation Sans, sans-serif" font-size="15" fill="#262626" text-anchor="end">-300</text><path d="M409.0,70.8 L661.0,70.8 L661.0,214.3 L409.0,214.3 Z" fill="none" stroke="#2e2e2e" stroke-width="2"/><text x="535" y="255.4" font-family="Liberation Sans, sans-serif" font-size="15.5" font-weight="bold" fill="#262626" text-anchor="middle">Time [fs]</text><text transform="translate(366.8,165.3) rotate(-90)" font-family="Liberation Sans, sans-serif" font-size="16" fill="#262626">Δ<tspan font-weight="bold">S</tspan></text><text transform="translate(358.4,141.2) rotate(-90) scale(1.12,1)" font-family="Liberation Sans, sans-serif" font-size="12" font-weight="bold" fill="#262626">avg</text><text transform="translate(372.2,140.4) rotate(-90)" font-family="Liberation Sans, sans-serif" font-size="12.5" font-weight="bold" fill="#262626">u</text><text x="479.5" y="93.5" font-family="Liberation Sans, sans-serif" font-size="16.4" fill="#1a1a1a">t = 161.4 +/- 53.0 fs</text><line x1="588.6" y1="119.4" x2="609.3" y2="119.4" stroke="#1e9cf0" stroke-width="2.2"/><line x1="588.6" y1="134.3" x2="609.3" y2="134.3" stroke="#111" stroke-width="2.2"/><circle cx="598.2" cy="149.4" r="2.8" fill="none" stroke="#3c3cff" stroke-width="1.3"/><text x="611.5" y="123.8" font-family="Liberation Sans, sans-serif" font-size="12" fill="#262626">Trace</text><text x="611.5" y="138.8" font-family="Liberation Sans, sans-serif" font-size="12" fill="#262626">Fit</text><text x="611.5" y="153.8" font-family="Liberation Sans, sans-serif" font-size="12" fill="#262626">Fit data</text><path d="M423.2,104.0 C424.0,103.3 426.5,103.3 428.0,99.8 C429.5,96.3 431.1,86.7 432.2,83.0 C433.3,79.3 433.7,78.0 434.6,77.6 C435.5,77.2 436.5,79.1 437.6,80.6 C438.8,82.1 440.1,86.6 441.5,86.6 C442.9,86.6 444.1,82.9 446.0,80.6 C447.9,78.3 451.0,73.5 452.6,72.8 C454.2,72.1 454.5,75.3 455.6,76.4 C456.7,77.5 458.2,78.8 459.2,79.4 C460.2,80.0 460.9,78.8 461.7,80.0 C462.5,81.2 463.1,87.8 464.0,86.6 C464.9,85.4 466.0,71.7 467.0,72.8 C468.0,73.9 469.1,87.2 470.0,93.2 C470.9,99.2 471.7,104.6 472.5,108.8 C473.3,113.0 473.9,116.3 474.9,118.5 C475.9,120.7 477.1,122.0 478.5,122.0 C479.9,122.0 481.9,119.3 483.3,118.5 C484.7,117.7 485.8,116.6 486.9,117.3 C488.0,118.0 488.9,118.8 489.8,122.5 C490.7,126.2 491.1,133.3 492.0,139.8 C492.9,146.3 494.1,155.0 495.0,161.6 C495.9,168.2 496.8,175.3 497.7,179.6 C498.6,183.8 499.6,186.6 500.7,187.1 C501.8,187.6 503.0,185.5 504.0,182.6 C505.0,179.7 505.8,174.2 506.7,169.8 C507.6,165.4 508.9,160.3 509.7,156.3 C510.5,152.3 510.8,148.6 511.5,145.8 C512.2,143.1 513.1,140.9 514.2,139.8 C515.3,138.7 517.3,137.5 518.3,139.0 C519.3,140.5 519.5,144.9 520.2,148.8 C521.0,152.7 522.0,158.9 522.8,162.3 C523.6,165.7 524.0,167.5 525.0,169.0 C526.0,170.5 527.7,171.8 528.8,171.3 C529.9,170.8 530.9,168.2 531.8,166.0 C532.7,163.8 533.5,159.9 534.4,157.8 C535.3,155.7 535.9,153.9 537.0,153.3 C538.1,152.7 539.8,153.0 540.8,154.0 C541.8,155.0 542.2,156.5 543.0,159.3 C543.8,162.1 544.7,166.3 545.6,170.6 C546.5,174.8 547.5,180.3 548.3,184.8 C549.1,189.3 549.7,195.1 550.6,197.6 C551.5,200.1 552.6,200.9 553.6,199.8 C554.6,198.7 555.7,194.8 556.6,190.8 C557.5,186.8 558.4,180.4 559.3,175.8 C560.2,171.2 560.9,165.9 561.8,163.0 C562.7,160.1 563.8,157.8 564.8,158.6 C565.8,159.4 566.8,163.6 567.8,167.6 C568.8,171.6 569.8,177.7 570.8,182.6 C571.8,187.5 573.0,192.6 574.0,197.0 C575.0,201.4 575.6,206.3 576.5,209.2 C577.4,212.1 578.4,213.6 579.4,214.2 C580.4,214.8 581.5,214.6 582.3,212.8 C583.1,211.0 583.6,206.9 584.4,203.4 C585.2,199.9 586.1,195.0 587.0,191.9 C587.9,188.8 588.9,185.7 589.9,184.7 C590.9,183.7 592.0,184.3 593.0,186.1 C594.0,187.9 594.6,192.1 595.6,195.5 C596.6,198.9 597.8,203.6 598.8,206.3 C599.8,209.1 600.6,211.1 601.7,212.0 C602.8,212.9 604.3,212.5 605.3,212.0 C606.3,211.5 607.0,211.5 607.8,209.2 C608.6,206.9 609.3,202.6 610.0,198.4 C610.7,194.2 611.3,188.3 612.1,184.0 C612.9,179.7 614.0,175.2 615.0,172.4 C616.0,169.6 617.3,167.2 618.3,167.4 C619.3,167.7 620.2,170.8 621.2,173.9 C622.2,177.0 623.2,182.3 624.0,186.1 C624.8,189.9 625.4,194.4 626.2,196.9 C627.1,199.4 628.0,200.5 629.1,201.2 C630.2,201.9 631.6,201.8 632.7,201.2 C633.8,200.6 634.8,199.3 635.6,197.6 C636.4,195.9 636.9,193.3 637.7,191.2 C638.5,189.0 639.6,185.9 640.6,184.7 C641.6,183.5 642.5,183.5 643.5,184.0 C644.5,184.5 645.5,185.9 646.4,187.6 C647.3,189.3 648.2,191.2 649.0,194.0 C649.8,196.8 650.5,201.6 651.4,204.1 C652.3,206.6 653.3,208.9 654.3,209.2 C655.3,209.4 656.7,206.2 657.2,205.6" fill="none" stroke="#1e9cf0" stroke-width="2.40" stroke-linejoin="round" stroke-linecap="round" /><path d="M465.0,86.1 C465.2,86.7 465.9,88.4 466.4,89.5 C466.9,90.6 467.3,91.7 467.8,92.8 C468.2,93.9 468.7,95.0 469.2,96.0 C469.6,97.1 470.1,98.1 470.6,99.1 C471.0,100.1 471.5,101.2 472.0,102.1 C472.4,103.1 472.9,104.1 473.4,105.1 C473.8,106.0 474.3,107.0 474.7,107.9 C475.2,108.8 475.7,109.7 476.1,110.6 C476.6,111.5 477.1,112.4 477.5,113.3 C478.0,114.2 478.5,115.0 478.9,115.9 C479.4,116.7 479.9,117.6 480.3,118.4 C480.8,119.2 481.2,120.0 481.7,120.8 C482.2,121.6 482.6,122.4 483.1,123.2 C483.6,123.9 484.0,124.7 484.5,125.4 C485.0,126.2 485.4,126.9 485.9,127.7 C486.4,128.4 486.8,129.1 487.3,129.8 C487.7,130.5 488.2,131.2 488.7,131.9 C489.1,132.6 489.6,133.2 490.1,133.9 C490.5,134.5 491.0,135.2 491.5,135.8 C491.9,136.5 492.4,137.1 492.9,137.7 C493.3,138.4 493.8,139.0 494.2,139.6 C494.7,140.2 495.2,140.8 495.6,141.3 C496.1,141.9 496.6,142.5 497.0,143.1 C497.5,143.6 498.0,144.2 498.4,144.7 C498.9,145.3 499.3,145.8 499.8,146.4 C500.3,146.9 500.7,147.4 501.2,147.9 C501.7,148.5 502.1,149.0 502.6,149.5 C503.1,150.0 503.5,150.5 504.0,150.9 C504.5,151.4 504.9,151.9 505.4,152.4 C505.8,152.8 506.3,153.3 506.8,153.8 C507.2,154.2 507.7,154.7 508.2,155.1 C508.6,155.5 509.1,156.0 509.6,156.4 C510.0,156.8 510.5,157.3 511.0,157.7 C511.4,158.1 511.9,158.5 512.3,158.9 C512.8,159.3 513.3,159.7 513.7,160.1 C514.2,160.5 514.7,160.9 515.1,161.2 C515.6,161.6 516.1,162.0 516.5,162.4 C517.0,162.7 517.5,163.1 517.9,163.4 C518.4,163.8 518.8,164.2 519.3,164.5 C519.8,164.8 520.2,165.2 520.7,165.5 C521.2,165.9 521.6,166.2 522.1,166.5 C522.6,166.8 523.0,167.2 523.5,167.5 C523.9,167.8 524.4,168.1 524.9,168.4 C525.3,168.7 525.8,169.0 526.3,169.3 C526.7,169.6 527.2,169.9 527.7,170.2 C528.1,170.5 528.6,170.7 529.1,171.0 C529.5,171.3 530.0,171.6 530.4,171.8 C530.9,172.1 531.4,172.4 531.8,172.6 C532.3,172.9 532.8,173.1 533.2,173.4 C533.7,173.7 534.2,173.9 534.6,174.1 C535.1,174.4 535.6,174.6 536.0,174.9 C536.5,175.1 536.9,175.3 537.4,175.6 C537.9,175.8 538.3,176.0 538.8,176.3 C539.3,176.5 539.7,176.7 540.2,176.9 C540.7,177.1 541.1,177.3 541.6,177.6 C542.1,177.8 542.5,178.0 543.0,178.2 C543.4,178.4 543.9,178.6 544.4,178.8 C544.8,179.0 545.3,179.2 545.8,179.4 C546.2,179.6 546.7,179.7 547.2,179.9 C547.6,180.1 548.1,180.3 548.5,180.5 C549.0,180.7 549.5,180.8 549.9,181.0 C550.4,181.2 550.9,181.4 551.3,181.5 C551.8,181.7 552.3,181.9 552.7,182.0 C553.2,182.2 553.7,182.3 554.1,182.5 C554.6,182.7 555.0,182.8 555.5,183.0 C556.0,183.1 556.4,183.3 556.9,183.4 C557.4,183.6 557.8,183.7 558.3,183.9 C558.8,184.0 559.2,184.2 559.7,184.3 C560.2,184.4 560.6,184.6 561.1,184.7 C561.5,184.9 562.0,185.0 562.5,185.1 C562.9,185.2 563.4,185.4 563.9,185.5 C564.3,185.6 564.8,185.8 565.3,185.9 C565.7,186.0 566.2,186.1 566.7,186.3 C567.1,186.4 567.6,186.5 568.0,186.6 C568.5,186.7 569.0,186.8 569.4,187.0 C569.9,187.1 570.4,187.2 570.8,187.3 C571.3,187.4 571.8,187.5 572.2,187.6 C572.7,187.7 573.2,187.8 573.6,187.9 C574.1,188.0 574.5,188.1 575.0,188.2 C575.5,188.3 575.9,188.4 576.4,188.5 C576.9,188.6 577.3,188.7 577.8,188.8 C578.3,188.9 578.7,189.0 579.2,189.1 C579.6,189.2 580.1,189.3 580.6,189.4 C581.0,189.4 581.5,189.5 582.0,189.6 C582.4,189.7 582.9,189.8 583.4,189.9 C583.8,190.0 584.3,190.0 584.8,190.1 C585.2,190.2 585.7,190.3 586.1,190.4 C586.6,190.4 587.1,190.5 587.5,190.6 C588.0,190.7 588.5,190.7 588.9,190.8 C589.4,190.9 589.9,190.9 590.3,191.0 C590.8,191.1 591.3,191.2 591.7,191.2 C592.2,191.3 592.6,191.4 593.1,191.4 C593.6,191.5 594.0,191.6 594.5,191.6 C595.0,191.7 595.4,191.8 595.9,191.8 C596.4,191.9 596.8,191.9 597.3,192.0 C597.8,192.1 598.2,192.1 598.7,192.2 C599.1,192.2 599.6,192.3 600.1,192.4 C600.5,192.4 601.0,192.5 601.5,192.5 C601.9,192.6 602.4,192.6 602.9,192.7 C603.3,192.7 603.8,192.8 604.2,192.9 C604.7,192.9 605.2,193.0 605.6,193.0 C606.1,193.1 606.6,193.1 607.0,193.2 C607.5,193.2 608.0,193.3 608.4,193.3 C608.9,193.3 609.4,193.4 609.8,193.4 C610.3,193.5 610.7,193.5 611.2,193.6 C611.7,193.6 612.1,193.7 612.6,193.7 C613.1,193.8 613.5,193.8 614.0,193.8 C614.5,193.9 614.9,193.9 615.4,194.0 C615.9,194.0 616.3,194.0 616.8,194.1 C617.2,194.1 617.7,194.2 618.2,194.2 C618.6,194.2 619.1,194.3 619.6,194.3 C620.0,194.3 620.5,194.4 621.0,194.4 C621.4,194.5 621.9,194.5 622.4,194.5 C622.8,194.6 623.3,194.6 623.7,194.6 C624.2,194.7 624.7,194.7 625.1,194.7 C625.6,194.8 626.1,194.8 626.5,194.8 C627.0,194.9 627.5,194.9 627.9,194.9 C628.4,195.0 628.9,195.0 629.3,195.0 C629.8,195.0 630.2,195.1 630.7,195.1 C631.2,195.1 631.6,195.2 632.1,195.2 C632.6,195.2 633.0,195.2 633.5,195.3 C634.0,195.3 634.4,195.3 634.9,195.3 C635.3,195.4 635.8,195.4 636.3,195.4 C636.7,195.5 637.2,195.5 637.7,195.5 C638.1,195.5 638.6,195.5 639.1,195.6 C639.5,195.6 640.0,195.6 640.5,195.6 C640.9,195.7 641.4,195.7 641.8,195.7 C642.3,195.7 642.8,195.8 643.2,195.8 C643.7,195.8 644.2,195.8 644.6,195.8 C645.1,195.9 645.6,195.9 646.0,195.9 C646.5,195.9 647.0,195.9 647.4,196.0 C647.9,196.0 648.3,196.0 648.8,196.0 C649.3,196.0 649.7,196.1 650.2,196.1 C650.7,196.1 651.1,196.1 651.6,196.1 C652.1,196.2 652.5,196.2 653.0,196.2 C653.5,196.2 653.9,196.2 654.4,196.2 C654.8,196.3 655.3,196.3 655.8,196.3 C656.2,196.3 656.9,196.3 657.2,196.3" fill="none" stroke="#111" stroke-width="2.30" stroke-linejoin="round" stroke-linecap="round" /><circle cx="464.0" cy="86.6" r="2.7" fill="none" stroke="#3c3cff" stroke-width="1.30"/><circle cx="467.0" cy="72.8" r="2.7" fill="none" stroke="#3c3cff" stroke-width="1.30"/><circle cx="470.0" cy="93.2" r="2.7" fill="none" stroke="#3c3cff" stroke-width="1.30"/><circle cx="472.5" cy="108.8" r="2.7" fill="none" stroke="#3c3cff" stroke-width="1.30"/><circle cx="474.9" cy="118.5" r="2.7" fill="none" stroke="#3c3cff" stroke-width="1.30"/><circle cx="478.5" cy="122.0" r="2.7" fill="none" stroke="#3c3cff" stroke-width="1.30"/><circle cx="483.3" cy="118.5" r="2.7" fill="none" stroke="#3c3cff" stroke-width="1.30"/><circle cx="486.9" cy="117.3" r="2.7" fill="none" stroke="#3c3cff" stroke-width="1.30"/><circle cx="489.8" cy="122.5" r="2.7" fill="none" stroke="#3c3cff" stroke-width="1.30"/><circle cx="492.0" cy="139.8" r="2.7" fill="none" stroke="#3c3cff" stroke-width="1.30"/><circle cx="495.0" cy="161.6" r="2.7" fill="none" stroke="#3c3cff" stroke-width="1.30"/><circle cx="497.7" cy="179.6" r="2.7" fill="none" stroke="#3c3cff" stroke-width="1.30"/><circle cx="500.7" cy="187.1" r="2.7" fill="none" stroke="#3c3cff" stroke-width="1.30"/><circle cx="504.0" cy="182.6" r="2.7" fill="none" stroke="#3c3cff" stroke-width="1.30"/><circle cx="506.7" cy="169.8" r="2.7" fill="none" stroke="#3c3cff" stroke-width="1.30"/><circle cx="509.7" cy="156.3" r="2.7" fill="none" stroke="#3c3cff" stroke-width="1.30"/><circle cx="511.5" cy="145.8" r="2.7" fill="none" stroke="#3c3cff" stroke-width="1.30"/><circle cx="514.2" cy="139.8" r="2.7" fill="none" stroke="#3c3cff" stroke-width="1.30"/><circle cx="518.3" cy="139.0" r="2.7" fill="none" stroke="#3c3cff" stroke-width="1.30"/><circle cx="520.2" cy="148.8" r="2.7" fill="none" stroke="#3c3cff" stroke-width="1.30"/><circle cx="522.8" cy="162.3" r="2.7" fill="none" stroke="#3c3cff" stroke-width="1.30"/><circle cx="525.0" cy="169.0" r="2.7" fill="none" stroke="#3c3cff" stroke-width="1.30"/><circle cx="528.8" cy="171.3" r="2.7" fill="none" stroke="#3c3cff" stroke-width="1.30"/><circle cx="531.8" cy="166.0" r="2.7" fill="none" stroke="#3c3cff" stroke-width="1.30"/><circle cx="534.4" cy="157.8" r="2.7" fill="none" stroke="#3c3cff" stroke-width="1.30"/><circle cx="537.0" cy="153.3" r="2.7" fill="none" stroke="#3c3cff" stroke-width="1.30"/><circle cx="540.8" cy="154.0" r="2.7" fill="none" stroke="#3c3cff" stroke-width="1.30"/><circle cx="543.0" cy="159.3" r="2.7" fill="none" stroke="#3c3cff" stroke-width="1.30"/><circle cx="545.6" cy="170.6" r="2.7" fill="none" stroke="#3c3cff" stroke-width="1.30"/><circle cx="548.3" cy="184.8" r="2.7" fill="none" stroke="#3c3cff" stroke-width="1.30"/><circle cx="550.6" cy="197.6" r="2.7" fill="none" stroke="#3c3cff" stroke-width="1.30"/><circle cx="553.6" cy="199.8" r="2.7" fill="none" stroke="#3c3cff" stroke-width="1.30"/><circle cx="556.6" cy="190.8" r="2.7" fill="none" stroke="#3c3cff" stroke-width="1.30"/><circle cx="559.3" cy="175.8" r="2.7" fill="none" stroke="#3c3cff" stroke-width="1.30"/><circle cx="561.8" cy="163.0" r="2.7" fill="none" stroke="#3c3cff" stroke-width="1.30"/><circle cx="564.8" cy="158.6" r="2.7" fill="none" stroke="#3c3cff" stroke-width="1.30"/><circle cx="567.8" cy="167.6" r="2.7" fill="none" stroke="#3c3cff" stroke-width="1.30"/><circle cx="570.8" cy="182.6" r="2.7" fill="none" stroke="#3c3cff" stroke-width="1.30"/><circle cx="574.0" cy="197.0" r="2.7" fill="none" stroke="#3c3cff" stroke-width="1.30"/><circle cx="576.5" cy="209.2" r="2.7" fill="none" stroke="#3c3cff" stroke-width="1.30"/><circle cx="579.4" cy="214.2" r="2.7" fill="none" stroke="#3c3cff" stroke-width="1.30"/><circle cx="582.3" cy="212.8" r="2.7" fill="none" stroke="#3c3cff" stroke-width="1.30"/><circle cx="584.4" cy="203.4" r="2.7" fill="none" stroke="#3c3cff" stroke-width="1.30"/><circle cx="587.0" cy="191.9" r="2.7" fill="none" stroke="#3c3cff" stroke-width="1.30"/><circle cx="589.9" cy="184.7" r="2.7" fill="none" stroke="#3c3cff" stroke-width="1.30"/><circle cx="593.0" cy="186.1" r="2.7" fill="none" stroke="#3c3cff" stroke-width="1.30"/><circle cx="595.6" cy="195.5" r="2.7" fill="none" stroke="#3c3cff" stroke-width="1.30"/><circle cx="598.8" cy="206.3" r="2.7" fill="none" stroke="#3c3cff" stroke-width="1.30"/><circle cx="601.7" cy="212.0" r="2.7" fill="none" stroke="#3c3cff" stroke-width="1.30"/><circle cx="605.3" cy="212.0" r="2.7" fill="none" stroke="#3c3cff" stroke-width="1.30"/><circle cx="607.8" cy="209.2" r="2.7" fill="none" stroke="#3c3cff" stroke-width="1.30"/><circle cx="610.0" cy="198.4" r="2.7" fill="none" stroke="#3c3cff" stroke-width="1.30"/><circle cx="612.1" cy="184.0" r="2.7" fill="none" stroke="#3c3cff" stroke-width="1.30"/><circle cx="615.0" cy="172.4" r="2.7" fill="none" stroke="#3c3cff" stroke-width="1.30"/><circle cx="618.3" cy="167.4" r="2.7" fill="none" stroke="#3c3cff" stroke-width="1.30"/><circle cx="621.2" cy="173.9" r="2.7" fill="none" stroke="#3c3cff" stroke-width="1.30"/><circle cx="624.0" cy="186.1" r="2.7" fill="none" stroke="#3c3cff" stroke-width="1.30"/><circle cx="626.2" cy="196.9" r="2.7" fill="none" stroke="#3c3cff" stroke-width="1.30"/><circle cx="629.1" cy="201.2" r="2.7" fill="none" stroke="#3c3cff" stroke-width="1.30"/><circle cx="632.7" cy="201.2" r="2.7" fill="none" stroke="#3c3cff" stroke-width="1.30"/><circle cx="635.6" cy="197.6" r="2.7" fill="none" stroke="#3c3cff" stroke-width="1.30"/><circle cx="637.7" cy="191.2" r="2.7" fill="none" stroke="#3c3cff" stroke-width="1.30"/><circle cx="640.6" cy="184.7" r="2.7" fill="none" stroke="#3c3cff" stroke-width="1.30"/><circle cx="643.5" cy="184.0" r="2.7" fill="none" stroke="#3c3cff" stroke-width="1.30"/><circle cx="646.4" cy="187.6" r="2.7" fill="none" stroke="#3c3cff" stroke-width="1.30"/><circle cx="649.0" cy="194.0" r="2.7" fill="none" stroke="#3c3cff" stroke-width="1.30"/><circle cx="651.4" cy="204.1" r="2.7" fill="none" stroke="#3c3cff" stroke-width="1.30"/><circle cx="654.3" cy="209.2" r="2.7" fill="none" stroke="#3c3cff" stroke-width="1.30"/><circle cx="657.2" cy="205.6" r="2.7" fill="none" stroke="#3c3cff" stroke-width="1.30"/><line x1="465.1" y1="335.0" x2="465.1" y2="474.3" stroke="#e4e4e4" stroke-width="1.2"/><line x1="522.1" y1="335.0" x2="522.1" y2="474.3" stroke="#e4e4e4" stroke-width="1.2"/><line x1="579.1" y1="335.0" x2="579.1" y2="474.3" stroke="#e4e4e4" stroke-width="1.2"/><line x1="636.1" y1="335.0" x2="636.1" y2="474.3" stroke="#e4e4e4" stroke-width="1.2"/><line x1="409.0" y1="474.0" x2="661.0" y2="474.0" stroke="#e4e4e4" stroke-width="1.2"/><line x1="409.0" y1="441.8" x2="661.0" y2="441.8" stroke="#e4e4e4" stroke-width="1.2"/><line x1="409.0" y1="409.6" x2="661.0" y2="409.6" stroke="#e4e4e4" stroke-width="1.2"/><line x1="409.0" y1="377.5" x2="661.0" y2="377.5" stroke="#e4e4e4" stroke-width="1.2"/><line x1="409.0" y1="345.3" x2="661.0" y2="345.3" stroke="#e4e4e4" stroke-width="1.2"/><line x1="408.1" y1="474.3" x2="408.1" y2="471.3" stroke="#333" stroke-width="1.3"/><text x="406.1" y="495.3" font-family="Liberation Sans, sans-serif" font-size="15" fill="#262626" text-anchor="middle">-200</text><line x1="465.1" y1="474.3" x2="465.1" y2="471.3" stroke="#333" stroke-width="1.3"/><text x="465.1" y="495.3" font-family="Liberation Sans, sans-serif" font-size="15" fill="#262626" text-anchor="middle">0</text><line x1="522.1" y1="474.3" x2="522.1" y2="471.3" stroke="#333" stroke-width="1.3"/><text x="522.1" y="495.3" font-family="Liberation Sans, sans-serif" font-size="15" fill="#262626" text-anchor="middle">200</text><line x1="579.1" y1="474.3" x2="579.1" y2="471.3" stroke="#333" stroke-width="1.3"/><text x="579.1" y="495.3" font-family="Liberation Sans, sans-serif" font-size="15" fill="#262626" text-anchor="middle">400</text><line x1="636.1" y1="474.3" x2="636.1" y2="471.3" stroke="#333" stroke-width="1.3"/><text x="636.1" y="495.3" font-family="Liberation Sans, sans-serif" font-size="15" fill="#262626" text-anchor="middle">600</text><line x1="409.0" y1="474.0" x2="412.0" y2="474.0" stroke="#333" stroke-width="1.3"/><text x="402" y="479.3" font-family="Liberation Sans, sans-serif" font-size="15" fill="#262626" text-anchor="end">0</text><line x1="409.0" y1="441.8" x2="412.0" y2="441.8" stroke="#333" stroke-width="1.3"/><text x="402" y="447.1" font-family="Liberation Sans, sans-serif" font-size="15" fill="#262626" text-anchor="end">50</text><line x1="409.0" y1="409.6" x2="412.0" y2="409.6" stroke="#333" stroke-width="1.3"/><text x="402" y="414.9" font-family="Liberation Sans, sans-serif" font-size="15" fill="#262626" text-anchor="end">100</text><line x1="409.0" y1="377.5" x2="412.0" y2="377.5" stroke="#333" stroke-width="1.3"/><text x="402" y="382.8" font-family="Liberation Sans, sans-serif" font-size="15" fill="#262626" text-anchor="end">150</text><line x1="409.0" y1="345.3" x2="412.0" y2="345.3" stroke="#333" stroke-width="1.3"/><text x="402" y="350.6" font-family="Liberation Sans, sans-serif" font-size="15" fill="#262626" text-anchor="end">200</text><path d="M409.0,335.0 L661.0,335.0 L661.0,474.3 L409.0,474.3 Z" fill="none" stroke="#2e2e2e" stroke-width="2"/><text x="536.7" y="517.2" font-family="Liberation Sans, sans-serif" font-size="16" font-weight="bold" fill="#262626" text-anchor="middle">Time [fs]</text><text transform="translate(371.0,419.5) rotate(-90)" font-family="Liberation Sans, sans-serif" font-size="17.5" fill="#262626">Δ<tspan font-weight="bold">S</tspan></text><text transform="translate(361.6,394.2) rotate(-90) scale(1.12,1)" font-family="Liberation Sans, sans-serif" font-size="12" font-weight="bold" fill="#262626">avg</text><text transform="translate(371.0,394.0) rotate(-90)" font-family="Liberation Sans, sans-serif" font-size="12" font-weight="bold" fill="#262626">c</text><text x="468" y="462.6" font-family="Liberation Sans, sans-serif" font-size="16.8" fill="#1a1a1a">t = 54.8 +/- 29.2 fs</text><line x1="583.5" y1="394.3" x2="602.8" y2="394.3" stroke="#f0282a" stroke-width="2.2"/><line x1="583.5" y1="411.6" x2="602.8" y2="411.6" stroke="#111" stroke-width="2.2"/><circle cx="593.2" cy="429.5" r="2.8" fill="none" stroke="#b02020" stroke-width="1.3"/><text x="605.8" y="399.6" font-family="Liberation Sans, sans-serif" font-size="13.3" fill="#262626">Trace</text><text x="605.8" y="417.2" font-family="Liberation Sans, sans-serif" font-size="13.3" fill="#262626">Fit</text><text x="605.8" y="434.8" font-family="Liberation Sans, sans-serif" font-size="13.3" fill="#262626">Fit data</text><path d="M422.6,438.4 C423.1,437.9 424.8,435.5 425.8,435.2 C426.9,434.9 427.8,435.2 428.9,436.3 C429.9,437.4 431.1,439.5 432.1,442.0 C433.2,444.5 434.1,448.0 435.2,451.5 C436.3,455.0 437.7,459.6 438.9,463.1 C440.1,466.6 441.4,471.8 442.6,472.5 C443.8,473.2 444.9,469.4 446.3,467.3 C447.7,465.2 449.4,462.7 451.0,459.9 C452.6,457.1 454.5,453.8 456.2,450.5 C457.9,447.2 459.8,444.0 461.0,440.0 C462.2,436.0 462.9,430.7 463.6,426.3 C464.3,421.9 465.2,416.5 465.2,413.7 C465.1,410.9 463.1,411.1 463.3,409.3 C463.5,407.5 465.5,404.6 466.6,402.7 C467.7,400.8 468.5,398.7 469.9,397.7 C471.3,396.7 473.1,397.6 474.8,396.9 C476.5,396.2 478.2,394.6 479.8,393.6 C481.4,392.6 483.2,391.7 484.7,391.1 C486.2,390.6 487.9,391.3 488.9,390.3 C489.9,389.3 489.7,387.2 490.5,385.3 C491.3,383.4 492.7,381.6 493.8,378.7 C494.9,375.8 496.4,371.2 497.1,368.0 C497.9,364.8 497.6,362.3 498.3,359.7 C499.0,357.1 500.2,354.5 501.2,352.3 C502.2,350.1 503.1,348.4 504.5,346.5 C505.9,344.6 507.8,342.5 509.5,340.7 C511.2,338.9 512.6,336.5 514.5,335.5 C516.4,334.5 519.1,334.4 521.0,334.5 C522.9,334.6 524.3,334.6 526.0,335.8 C527.7,337.0 529.4,339.5 531.0,341.6 C532.6,343.7 534.2,346.0 535.9,348.2 C537.5,350.4 539.4,353.0 540.9,354.8 C542.4,356.6 543.6,359.0 545.0,358.9 C546.4,358.8 547.6,356.1 549.1,354.0 C550.6,351.9 553.0,347.9 554.1,346.5 C555.2,345.1 554.9,345.1 556.0,345.7 C557.1,346.2 559.6,348.3 561.0,349.8 C562.4,351.3 563.2,353.3 564.3,354.8 C565.4,356.3 566.2,358.6 567.6,358.9 C569.0,359.2 570.9,356.9 572.5,356.4 C574.1,355.8 575.9,355.5 577.5,355.6 C579.1,355.8 580.9,356.3 582.4,357.3 C583.9,358.3 585.4,359.6 586.6,361.4 C587.9,363.2 588.7,366.1 589.9,368.0 C591.1,369.9 592.4,372.3 594.0,372.9 C595.6,373.4 598.1,370.9 599.8,371.3 C601.4,371.7 602.4,374.2 603.9,375.4 C605.4,376.6 607.0,377.5 608.8,378.7 C610.6,379.9 612.8,382.8 614.6,382.8 C616.4,382.8 618.2,380.8 619.6,378.7 C621.0,376.6 621.7,373.0 622.9,370.5 C624.1,368.0 625.5,365.7 627.0,363.9 C628.5,362.1 630.4,359.8 632.0,359.7 C633.6,359.6 635.2,361.6 636.9,363.0 C638.5,364.4 640.1,367.6 641.9,368.0 C643.7,368.4 646.2,367.3 647.7,365.5 C649.2,363.7 649.8,360.1 651.0,357.3 C652.2,354.6 653.6,351.5 655.1,349.0 C656.6,346.5 659.2,343.5 660.0,342.4" fill="none" stroke="#f0282a" stroke-width="2.20" stroke-linejoin="round" stroke-linecap="round" /><path d="M465.1,419.8 C465.3,418.9 466.1,416.1 466.5,414.4 C467.0,412.6 467.5,411.0 468.0,409.4 C468.4,407.9 468.9,406.4 469.4,405.0 C469.9,403.5 470.3,402.2 470.8,400.9 C471.3,399.6 471.8,398.3 472.2,397.1 C472.7,395.9 473.2,394.8 473.7,393.7 C474.1,392.6 474.6,391.6 475.1,390.6 C475.6,389.6 476.0,388.7 476.5,387.7 C477.0,386.8 477.4,386.0 477.9,385.2 C478.4,384.3 478.9,383.5 479.4,382.8 C479.8,382.0 480.3,381.3 480.8,380.6 C481.3,379.9 481.7,379.3 482.2,378.6 C482.7,378.0 483.1,377.4 483.6,376.8 C484.1,376.3 484.6,375.7 485.1,375.2 C485.5,374.7 486.0,374.2 486.5,373.7 C487.0,373.2 487.4,372.8 487.9,372.3 C488.4,371.9 488.9,371.5 489.3,371.1 C489.8,370.7 490.3,370.3 490.8,369.9 C491.2,369.6 491.7,369.2 492.2,368.9 C492.7,368.6 493.1,368.2 493.6,367.9 C494.1,367.6 494.6,367.3 495.0,367.1 C495.5,366.8 496.0,366.5 496.5,366.3 C496.9,366.0 497.4,365.8 497.9,365.6 C498.4,365.3 498.8,365.1 499.3,364.9 C499.8,364.7 500.2,364.5 500.7,364.3 C501.2,364.1 501.7,363.9 502.2,363.7 C502.6,363.6 503.1,363.4 503.6,363.2 C504.1,363.1 504.5,362.9 505.0,362.8 C505.5,362.6 505.9,362.5 506.4,362.4 C506.9,362.2 507.4,362.1 507.9,362.0 C508.3,361.9 508.8,361.7 509.3,361.6 C509.8,361.5 510.2,361.4 510.7,361.3 C511.2,361.2 511.6,361.1 512.1,361.0 C512.6,360.9 513.1,360.8 513.6,360.8 C514.0,360.7 514.5,360.6 515.0,360.5 C515.5,360.4 515.9,360.4 516.4,360.3 C516.9,360.2 517.4,360.2 517.8,360.1 C518.3,360.0 518.8,360.0 519.2,359.9 C519.7,359.8 520.2,359.8 520.7,359.7 C521.2,359.7 521.6,359.6 522.1,359.6 C522.6,359.5 523.0,359.5 523.5,359.4 C524.0,359.4 524.5,359.4 525.0,359.3 C525.4,359.3 525.9,359.2 526.4,359.2 C526.9,359.2 527.3,359.1 527.8,359.1 C528.3,359.1 528.8,359.0 529.2,359.0 C529.7,359.0 530.2,358.9 530.6,358.9 C531.1,358.9 531.6,358.9 532.1,358.8 C532.6,358.8 533.0,358.8 533.5,358.8 C534.0,358.7 534.4,358.7 534.9,358.7 C535.4,358.7 535.9,358.6 536.4,358.6 C536.8,358.6 537.3,358.6 537.8,358.6 C538.2,358.5 538.7,358.5 539.2,358.5 C539.7,358.5 540.1,358.5 540.6,358.5 C541.1,358.5 541.6,358.4 542.0,358.4 C542.5,358.4 543.0,358.4 543.5,358.4 C544.0,358.4 544.4,358.4 544.9,358.4 C545.4,358.3 545.9,358.3 546.3,358.3 C546.8,358.3 547.3,358.3 547.8,358.3 C548.2,358.3 548.7,358.3 549.2,358.3 C549.6,358.3 550.1,358.2 550.6,358.2 C551.1,358.2 551.5,358.2 552.0,358.2 C552.5,358.2 553.0,358.2 553.5,358.2 C553.9,358.2 554.4,358.2 554.9,358.2 C555.4,358.2 555.8,358.2 556.3,358.2 C556.8,358.2 557.2,358.1 557.7,358.1 C558.2,358.1 558.7,358.1 559.1,358.1 C559.6,358.1 560.1,358.1 560.6,358.1 C561.1,358.1 561.5,358.1 562.0,358.1 C562.5,358.1 562.9,358.1 563.4,358.1 C563.9,358.1 564.4,358.1 564.9,358.1 C565.3,358.1 565.8,358.1 566.3,358.1 C566.8,358.1 567.2,358.1 567.7,358.1 C568.2,358.1 568.6,358.1 569.1,358.1 C569.6,358.1 570.1,358.1 570.5,358.0 C571.0,358.0 571.5,358.0 572.0,358.0 C572.5,358.0 572.9,358.0 573.4,358.0 C573.9,358.0 574.4,358.0 574.8,358.0 C575.3,358.0 575.8,358.0 576.2,358.0 C576.7,358.0 577.2,358.0 577.7,358.0 C578.1,358.0 578.6,358.0 579.1,358.0 C579.6,358.0 580.0,358.0 580.5,358.0 C581.0,358.0 581.5,358.0 582.0,358.0 C582.4,358.0 582.9,358.0 583.4,358.0 C583.9,358.0 584.3,358.0 584.8,358.0 C585.3,358.0 585.8,358.0 586.2,358.0 C586.7,358.0 587.2,358.0 587.6,358.0 C588.1,358.0 588.6,358.0 589.1,358.0 C589.6,358.0 590.0,358.0 590.5,358.0 C591.0,358.0 591.4,358.0 591.9,358.0 C592.4,358.0 592.9,358.0 593.4,358.0 C593.8,358.0 594.3,358.0 594.8,358.0 C595.2,358.0 595.7,358.0 596.2,358.0 C596.7,358.0 597.1,358.0 597.6,358.0 C598.1,358.0 598.6,358.0 599.0,358.0 C599.5,358.0 600.0,358.0 600.5,358.0 C601.0,358.0 601.4,358.0 601.9,358.0 C602.4,358.0 602.9,358.0 603.3,358.0 C603.8,358.0 604.3,358.0 604.8,358.0 C605.2,358.0 605.7,358.0 606.2,358.0 C606.6,358.0 607.1,358.0 607.6,358.0 C608.1,358.0 608.5,358.0 609.0,358.0 C609.5,358.0 610.0,358.0 610.5,358.0 C610.9,358.0 611.4,358.0 611.9,358.0 C612.4,358.0 612.8,358.0 613.3,358.0 C613.8,358.0 614.2,358.0 614.7,358.0 C615.2,358.0 615.7,358.0 616.1,358.0 C616.6,358.0 617.1,358.0 617.6,358.0 C618.1,358.0 618.5,358.0 619.0,358.0 C619.5,358.0 619.9,358.0 620.4,358.0 C620.9,358.0 621.4,358.0 621.9,358.0 C622.3,358.0 622.8,358.0 623.3,358.0 C623.8,358.0 624.2,358.0 624.7,358.0 C625.2,358.0 625.6,358.0 626.1,358.0 C626.6,358.0 627.1,358.0 627.5,358.0 C628.0,358.0 628.5,358.0 629.0,358.0 C629.5,358.0 629.9,358.0 630.4,358.0 C630.9,358.0 631.4,358.0 631.8,358.0 C632.3,358.0 632.8,358.0 633.2,358.0 C633.7,358.0 634.2,358.0 634.7,358.0 C635.1,358.0 635.6,358.0 636.1,358.0 C636.6,358.0 637.0,358.0 637.5,358.0 C638.0,358.0 638.5,358.0 639.0,358.0 C639.4,358.0 639.9,358.0 640.4,358.0 C640.9,358.0 641.3,358.0 641.8,358.0 C642.3,358.0 642.8,358.0 643.2,358.0 C643.7,358.0 644.2,358.0 644.6,358.0 C645.1,358.0 645.6,358.0 646.1,358.0 C646.6,358.0 647.0,358.0 647.5,358.0 C648.0,358.0 648.4,358.0 648.9,358.0 C649.4,358.0 649.9,358.0 650.4,358.0 C650.8,358.0 651.3,358.0 651.8,358.0 C652.2,358.0 652.7,358.0 653.2,358.0 C653.7,358.0 654.1,358.0 654.6,358.0 C655.1,358.0 655.6,358.0 656.0,358.0 C656.5,358.0 657.0,358.0 657.5,358.0 C658.0,358.0 658.4,358.0 658.9,358.0 C659.4,358.0 660.1,358.0 660.3,358.0" fill="none" stroke="#111" stroke-width="2.30" stroke-linejoin="round" stroke-linecap="round" /><circle cx="463.3" cy="409.3" r="2.7" fill="none" stroke="#b01818" stroke-width="1.15"/><circle cx="464.8" cy="406.3" r="2.7" fill="none" stroke="#b01818" stroke-width="1.15"/><circle cx="466.3" cy="403.4" r="2.7" fill="none" stroke="#b01818" stroke-width="1.15"/><circle cx="468.0" cy="400.6" r="2.7" fill="none" stroke="#b01818" stroke-width="1.15"/><circle cx="469.8" cy="397.8" r="2.7" fill="none" stroke="#b01818" stroke-width="1.15"/><circle cx="473.0" cy="397.2" r="2.7" fill="none" stroke="#b01818" stroke-width="1.15"/><circle cx="476.0" cy="396.1" r="2.7" fill="none" stroke="#b01818" stroke-width="1.15"/><circle cx="478.8" cy="394.3" r="2.7" fill="none" stroke="#b01818" stroke-width="1.15"/><circle cx="481.6" cy="392.7" r="2.7" fill="none" stroke="#b01818" stroke-width="1.15"/><circle cx="484.6" cy="391.2" r="2.7" fill="none" stroke="#b01818" stroke-width="1.15"/><circle cx="487.8" cy="390.5" r="2.7" fill="none" stroke="#b01818" stroke-width="1.15"/><circle cx="489.6" cy="388.2" r="2.7" fill="none" stroke="#b01818" stroke-width="1.15"/><circle cx="490.6" cy="385.1" r="2.7" fill="none" stroke="#b01818" stroke-width="1.15"/><circle cx="492.1" cy="382.1" r="2.7" fill="none" stroke="#b01818" stroke-width="1.15"/><circle cx="493.6" cy="379.2" r="2.7" fill="none" stroke="#b01818" stroke-width="1.15"/><circle cx="494.6" cy="376.1" r="2.7" fill="none" stroke="#b01818" stroke-width="1.15"/><circle cx="495.6" cy="372.9" r="2.7" fill="none" stroke="#b01818" stroke-width="1.15"/><circle cx="496.6" cy="369.7" r="2.7" fill="none" stroke="#b01818" stroke-width="1.15"/><circle cx="497.3" cy="366.5" r="2.7" fill="none" stroke="#b01818" stroke-width="1.15"/><circle cx="497.8" cy="363.3" r="2.7" fill="none" stroke="#b01818" stroke-width="1.15"/><circle cx="498.3" cy="360.0" r="2.7" fill="none" stroke="#b01818" stroke-width="1.15"/><circle cx="499.4" cy="356.9" r="2.7" fill="none" stroke="#b01818" stroke-width="1.15"/><circle cx="500.6" cy="353.8" r="2.7" fill="none" stroke="#b01818" stroke-width="1.15"/><circle cx="502.0" cy="350.9" r="2.7" fill="none" stroke="#b01818" stroke-width="1.15"/><circle cx="503.6" cy="348.0" r="2.7" fill="none" stroke="#b01818" stroke-width="1.15"/><circle cx="505.5" cy="345.3" r="2.7" fill="none" stroke="#b01818" stroke-width="1.15"/><circle cx="507.7" cy="342.8" r="2.7" fill="none" stroke="#b01818" stroke-width="1.15"/><circle cx="509.9" cy="340.3" r="2.7" fill="none" stroke="#b01818" stroke-width="1.15"/><circle cx="512.1" cy="338.0" r="2.7" fill="none" stroke="#b01818" stroke-width="1.15"/><circle cx="514.4" cy="335.6" r="2.7" fill="none" stroke="#b01818" stroke-width="1.15"/><circle cx="517.7" cy="335.0" r="2.7" fill="none" stroke="#b01818" stroke-width="1.15"/><circle cx="520.9" cy="334.5" r="2.7" fill="none" stroke="#b01818" stroke-width="1.15"/><circle cx="524.1" cy="335.3" r="2.7" fill="none" stroke="#b01818" stroke-width="1.15"/><circle cx="526.9" cy="336.8" r="2.7" fill="none" stroke="#b01818" stroke-width="1.15"/><circle cx="529.0" cy="339.3" r="2.7" fill="none" stroke="#b01818" stroke-width="1.15"/><circle cx="531.2" cy="341.8" r="2.7" fill="none" stroke="#b01818" stroke-width="1.15"/><circle cx="533.1" cy="344.5" r="2.7" fill="none" stroke="#b01818" stroke-width="1.15"/><circle cx="535.1" cy="347.1" r="2.7" fill="none" stroke="#b01818" stroke-width="1.15"/><circle cx="537.1" cy="349.8" r="2.7" fill="none" stroke="#b01818" stroke-width="1.15"/><circle cx="539.1" cy="352.4" r="2.7" fill="none" stroke="#b01818" stroke-width="1.15"/><circle cx="541.1" cy="355.0" r="2.7" fill="none" stroke="#b01818" stroke-width="1.15"/><circle cx="543.4" cy="357.3" r="2.7" fill="none" stroke="#b01818" stroke-width="1.15"/><circle cx="545.7" cy="358.1" r="2.7" fill="none" stroke="#b01818" stroke-width="1.15"/><circle cx="547.8" cy="355.5" r="2.7" fill="none" stroke="#b01818" stroke-width="1.15"/><circle cx="549.8" cy="352.9" r="2.7" fill="none" stroke="#b01818" stroke-width="1.15"/><circle cx="551.7" cy="350.2" r="2.7" fill="none" stroke="#b01818" stroke-width="1.15"/><circle cx="553.5" cy="347.4" r="2.7" fill="none" stroke="#b01818" stroke-width="1.15"/><circle cx="556.1" cy="345.8" r="2.7" fill="none" stroke="#b01818" stroke-width="1.15"/><circle cx="558.7" cy="347.9" r="2.7" fill="none" stroke="#b01818" stroke-width="1.15"/><circle cx="561.1" cy="350.0" r="2.7" fill="none" stroke="#b01818" stroke-width="1.15"/><circle cx="563.0" cy="352.8" r="2.7" fill="none" stroke="#b01818" stroke-width="1.15"/><circle cx="564.8" cy="355.5" r="2.7" fill="none" stroke="#b01818" stroke-width="1.15"/><circle cx="566.9" cy="358.1" r="2.7" fill="none" stroke="#b01818" stroke-width="1.15"/><circle cx="569.6" cy="357.9" r="2.7" fill="none" stroke="#b01818" stroke-width="1.15"/><circle cx="572.5" cy="356.4" r="2.7" fill="none" stroke="#b01818" stroke-width="1.15"/><circle cx="575.8" cy="355.9" r="2.7" fill="none" stroke="#b01818" stroke-width="1.15"/><circle cx="579.0" cy="356.1" r="2.7" fill="none" stroke="#b01818" stroke-width="1.15"/><circle cx="582.1" cy="357.2" r="2.7" fill="none" stroke="#b01818" stroke-width="1.15"/><circle cx="584.5" cy="359.4" r="2.7" fill="none" stroke="#b01818" stroke-width="1.15"/><circle cx="586.8" cy="361.7" r="2.7" fill="none" stroke="#b01818" stroke-width="1.15"/><circle cx="588.2" cy="364.7" r="2.7" fill="none" stroke="#b01818" stroke-width="1.15"/><circle cx="589.7" cy="367.7" r="2.7" fill="none" stroke="#b01818" stroke-width="1.15"/><circle cx="591.8" cy="370.2" r="2.7" fill="none" stroke="#b01818" stroke-width="1.15"/><circle cx="593.9" cy="372.8" r="2.7" fill="none" stroke="#b01818" stroke-width="1.15"/><circle cx="597.0" cy="372.1" r="2.7" fill="none" stroke="#b01818" stroke-width="1.15"/><circle cx="600.1" cy="371.6" r="2.7" fill="none" stroke="#b01818" stroke-width="1.15"/><circle cx="602.4" cy="373.9" r="2.7" fill="none" stroke="#b01818" stroke-width="1.15"/><circle cx="604.9" cy="376.1" r="2.7" fill="none" stroke="#b01818" stroke-width="1.15"/><circle cx="607.6" cy="377.9" r="2.7" fill="none" stroke="#b01818" stroke-width="1.15"/><circle cx="610.4" cy="379.8" r="2.7" fill="none" stroke="#b01818" stroke-width="1.15"/><circle cx="613.0" cy="381.7" r="2.7" fill="none" stroke="#b01818" stroke-width="1.15"/><circle cx="615.7" cy="381.9" r="2.7" fill="none" stroke="#b01818" stroke-width="1.15"/><circle cx="618.2" cy="379.8" r="2.7" fill="none" stroke="#b01818" stroke-width="1.15"/><circle cx="620.2" cy="377.3" r="2.7" fill="none" stroke="#b01818" stroke-width="1.15"/><circle cx="621.4" cy="374.2" r="2.7" fill="none" stroke="#b01818" stroke-width="1.15"/><circle cx="622.6" cy="371.2" r="2.7" fill="none" stroke="#b01818" stroke-width="1.15"/><circle cx="624.3" cy="368.3" r="2.7" fill="none" stroke="#b01818" stroke-width="1.15"/><circle cx="626.0" cy="365.5" r="2.7" fill="none" stroke="#b01818" stroke-width="1.15"/><circle cx="628.1" cy="363.0" r="2.7" fill="none" stroke="#b01818" stroke-width="1.15"/><circle cx="630.6" cy="360.9" r="2.7" fill="none" stroke="#b01818" stroke-width="1.15"/><circle cx="633.2" cy="360.5" r="2.7" fill="none" stroke="#b01818" stroke-width="1.15"/><circle cx="636.0" cy="362.4" r="2.7" fill="none" stroke="#b01818" stroke-width="1.15"/><circle cx="638.4" cy="364.5" r="2.7" fill="none" stroke="#b01818" stroke-width="1.15"/><circle cx="640.8" cy="366.9" r="2.7" fill="none" stroke="#b01818" stroke-width="1.15"/><circle cx="643.5" cy="367.3" r="2.7" fill="none" stroke="#b01818" stroke-width="1.15"/><circle cx="646.5" cy="366.0" r="2.7" fill="none" stroke="#b01818" stroke-width="1.15"/><circle cx="648.4" cy="363.6" r="2.7" fill="none" stroke="#b01818" stroke-width="1.15"/><circle cx="649.7" cy="360.6" r="2.7" fill="none" stroke="#b01818" stroke-width="1.15"/><circle cx="650.9" cy="357.5" r="2.7" fill="none" stroke="#b01818" stroke-width="1.15"/><circle cx="652.4" cy="354.6" r="2.7" fill="none" stroke="#b01818" stroke-width="1.15"/><circle cx="653.8" cy="351.6" r="2.7" fill="none" stroke="#b01818" stroke-width="1.15"/><circle cx="655.3" cy="348.7" r="2.7" fill="none" stroke="#b01818" stroke-width="1.15"/><circle cx="657.3" cy="346.0" r="2.7" fill="none" stroke="#b01818" stroke-width="1.15"/><circle cx="659.3" cy="343.4" r="2.7" fill="none" stroke="#b01818" stroke-width="1.15"/><line x1="460.0" y1="600.5" x2="460.0" y2="739.8" stroke="#f4f4f4" stroke-width="1.4"/><line x1="517.8" y1="600.5" x2="517.8" y2="739.8" stroke="#f4f4f4" stroke-width="1.4"/><line x1="575.6" y1="600.5" x2="575.6" y2="739.8" stroke="#f4f4f4" stroke-width="1.4"/><line x1="633.4" y1="600.5" x2="633.4" y2="739.8" stroke="#f4f4f4" stroke-width="1.4"/><line x1="404.0" y1="739.8" x2="660.5" y2="739.8" stroke="#f4f4f4" stroke-width="1.4"/><line x1="404.0" y1="693.5" x2="660.5" y2="693.5" stroke="#f4f4f4" stroke-width="1.4"/><line x1="404.0" y1="647.2" x2="660.5" y2="647.2" stroke="#f4f4f4" stroke-width="1.4"/><line x1="402.2" y1="739.8" x2="402.2" y2="736.8" stroke="#333" stroke-width="1.3"/><text x="400.2" y="761.5" font-family="Liberation Sans, sans-serif" font-size="15" fill="#262626" text-anchor="middle">-200</text><line x1="460.0" y1="739.8" x2="460.0" y2="736.8" stroke="#333" stroke-width="1.3"/><text x="460.0" y="761.5" font-family="Liberation Sans, sans-serif" font-size="15" fill="#262626" text-anchor="middle">0</text><line x1="517.8" y1="739.8" x2="517.8" y2="736.8" stroke="#333" stroke-width="1.3"/><text x="517.8" y="761.5" font-family="Liberation Sans, sans-serif" font-size="15" fill="#262626" text-anchor="middle">200</text><line x1="575.6" y1="739.8" x2="575.6" y2="736.8" stroke="#333" stroke-width="1.3"/><text x="575.6" y="761.5" font-family="Liberation Sans, sans-serif" font-size="15" fill="#262626" text-anchor="middle">400</text><line x1="633.4" y1="739.8" x2="633.4" y2="736.8" stroke="#333" stroke-width="1.3"/><text x="633.4" y="761.5" font-family="Liberation Sans, sans-serif" font-size="15" fill="#262626" text-anchor="middle">600</text><line x1="404.0" y1="739.8" x2="407.0" y2="739.8" stroke="#333" stroke-width="1.3"/><text x="397.5" y="745.1" font-family="Liberation Sans, sans-serif" font-size="15" fill="#262626" text-anchor="end">0</text><line x1="404.0" y1="693.5" x2="407.0" y2="693.5" stroke="#333" stroke-width="1.3"/><text x="397.5" y="698.8" font-family="Liberation Sans, sans-serif" font-size="15" fill="#262626" text-anchor="end">50</text><line x1="404.0" y1="647.2" x2="407.0" y2="647.2" stroke="#333" stroke-width="1.3"/><text x="397.5" y="652.5" font-family="Liberation Sans, sans-serif" font-size="15" fill="#262626" text-anchor="end">100</text><path d="M404.0,600.5 L660.5,600.5 L660.5,739.8 L404.0,739.8 Z" fill="none" stroke="#2e2e2e" stroke-width="2"/><text x="532.5" y="783" font-family="Liberation Sans, sans-serif" font-size="16.2" font-weight="bold" fill="#3c3c3c" stroke="#d8d8d8" stroke-width="1.2" paint-order="stroke" text-anchor="middle">Time [fs]</text><text transform="translate(365.8,694.2) rotate(-90)" font-family="Liberation Sans, sans-serif" font-size="17" fill="#262626" stroke="#f4f4f4" stroke-width="1.2" paint-order="stroke">Δ<tspan font-weight="bold">S</tspan></text><text transform="translate(359.6,668.4) rotate(-90) scale(1.12,1)" font-family="Liberation Sans, sans-serif" font-size="12" font-weight="bold" fill="#262626" stroke="#f4f4f4" stroke-width="1.2" paint-order="stroke">avg</text><text transform="translate(370.2,668.4) rotate(-90)" font-family="Liberation Sans, sans-serif" font-size="12" font-weight="bold" fill="#262626" stroke="#f4f4f4" stroke-width="1.2" paint-order="stroke">v</text><text x="408" y="618.6" font-family="Liberation Sans, sans-serif" font-size="17.3" fill="#1a1a1a">t = 291.2 +/- 59.4 fs</text><line x1="580" y1="650.3" x2="600.6" y2="650.3" stroke="#f0282a" stroke-width="2.2"/><line x1="580" y1="667.7" x2="600.6" y2="667.7" stroke="#111" stroke-width="2.2"/><circle cx="589.9" cy="685.8" r="2.8" fill="none" stroke="#c02020" stroke-width="1.3"/><text x="603" y="655.3" font-family="Liberation Sans, sans-serif" font-size="13.6" fill="#1a1a1a">Q trace</text><text x="603" y="672.9" font-family="Liberation Sans, sans-serif" font-size="13.6" fill="#1a1a1a">Fit mono</text><text x="603" y="690.5" font-family="Liberation Sans, sans-serif" font-size="13.6" fill="#1a1a1a">Fit data</text><path d="M417.8,718.2 C418.5,718.7 420.6,720.1 422.0,721.0 C423.4,721.9 424.1,722.5 426.0,723.4 C427.9,724.3 430.9,725.4 433.2,726.4 C435.5,727.4 437.9,730.2 439.8,729.5 C441.8,728.8 443.1,723.7 444.9,722.3 C446.7,720.9 448.5,722.3 450.6,721.3 C452.8,720.3 456.2,719.5 457.8,716.2 C459.4,713.0 459.5,704.2 459.9,701.8" fill="none" stroke="#ffffff" stroke-width="3.60" stroke-linejoin="round" stroke-linecap="round" opacity="0.8"/><path d="M417.8,718.2 C418.5,718.7 420.6,720.1 422.0,721.0 C423.4,721.9 424.1,722.5 426.0,723.4 C427.9,724.3 430.9,725.4 433.2,726.4 C435.5,727.4 437.9,730.2 439.8,729.5 C441.8,728.8 443.1,723.7 444.9,722.3 C446.7,720.9 448.5,722.3 450.6,721.3 C452.8,720.3 456.2,719.5 457.8,716.2 C459.4,713.0 459.7,704.9 459.9,701.8 C460.1,698.7 458.7,698.8 459.1,697.4 C459.5,696.0 460.9,694.1 462.4,693.3 C463.9,692.5 466.4,692.5 468.2,692.4 C470.0,692.2 471.5,693.2 473.2,692.4 C474.9,691.6 476.5,689.4 478.1,687.5 C479.8,685.6 481.5,682.5 483.1,680.9 C484.8,679.2 486.2,679.5 488.0,677.6 C489.8,675.7 491.9,671.1 493.8,669.3 C495.7,667.5 497.5,667.2 499.6,666.8 C501.7,666.4 504.6,666.6 506.2,666.8 C507.8,666.9 508.4,668.7 509.5,667.7 C510.6,666.8 511.6,663.3 512.8,661.1 C514.0,658.9 515.5,656.6 516.9,654.5 C518.3,652.4 519.3,650.5 521.1,648.7 C522.9,646.9 525.5,645.1 527.7,643.7 C529.9,642.3 532.1,641.5 534.3,640.4 C536.5,639.3 539.1,638.6 540.9,637.1 C542.7,635.6 543.4,632.9 545.0,631.3 C546.6,629.6 549.1,627.3 550.8,627.2 C552.4,627.1 553.5,631.0 554.9,630.5 C556.3,630.0 557.7,626.0 559.3,623.9 C560.9,621.8 562.8,620.2 564.3,618.1 C565.8,616.0 567.0,613.7 568.4,611.5 C569.8,609.3 570.7,606.7 572.5,604.9 C574.3,603.1 577.3,601.8 579.1,600.8 C580.9,599.8 581.9,598.8 583.3,599.1 C584.7,599.4 585.9,601.1 587.4,602.4 C588.9,603.6 590.6,605.2 592.3,606.6 C593.9,608.0 595.6,609.6 597.3,610.7 C598.9,611.8 600.3,613.2 602.2,613.2 C604.1,613.2 606.9,610.9 608.8,610.7 C610.7,610.6 611.9,612.4 613.8,612.3 C615.7,612.2 618.2,610.2 620.4,609.9 C622.6,609.6 625.1,610.0 627.0,610.7 C628.9,611.4 630.4,612.9 632.0,614.0 C633.6,615.1 635.2,617.6 636.9,617.3 C638.5,617.0 640.0,614.4 641.9,612.3 C643.8,610.2 646.6,606.7 648.5,604.9 C650.4,603.1 651.8,602.3 653.4,601.6 C655.0,600.9 657.6,600.9 658.4,600.8" fill="none" stroke="#f0282a" stroke-width="2.00" stroke-linejoin="round" stroke-linecap="round" /><path d="M460.0,709.0 C460.2,708.6 461.0,707.6 461.4,707.0 C461.9,706.3 462.4,705.6 462.9,705.0 C463.4,704.3 463.9,703.7 464.3,703.0 C464.8,702.4 465.3,701.7 465.8,701.1 C466.3,700.5 466.7,699.9 467.2,699.2 C467.7,698.6 468.2,698.0 468.7,697.4 C469.2,696.8 469.6,696.2 470.1,695.6 C470.6,695.0 471.1,694.4 471.6,693.8 C472.0,693.2 472.5,692.6 473.0,692.0 C473.5,691.4 474.0,690.9 474.4,690.3 C474.9,689.7 475.4,689.1 475.9,688.6 C476.4,688.0 476.9,687.5 477.3,686.9 C477.8,686.4 478.3,685.8 478.8,685.3 C479.3,684.7 479.7,684.2 480.2,683.7 C480.7,683.1 481.2,682.6 481.7,682.1 C482.2,681.6 482.6,681.0 483.1,680.5 C483.6,680.0 484.1,679.5 484.6,679.0 C485.0,678.5 485.5,678.0 486.0,677.5 C486.5,677.0 487.0,676.5 487.5,676.0 C487.9,675.5 488.4,675.0 488.9,674.5 C489.4,674.1 489.9,673.6 490.3,673.1 C490.8,672.6 491.3,672.2 491.8,671.7 C492.3,671.2 492.8,670.8 493.2,670.3 C493.7,669.9 494.2,669.4 494.7,669.0 C495.2,668.5 495.6,668.1 496.1,667.6 C496.6,667.2 497.1,666.7 497.6,666.3 C498.1,665.9 498.5,665.5 499.0,665.0 C499.5,664.6 500.0,664.2 500.5,663.8 C500.9,663.3 501.4,662.9 501.9,662.5 C502.4,662.1 502.9,661.7 503.4,661.3 C503.8,660.9 504.3,660.5 504.8,660.1 C505.3,659.7 505.8,659.3 506.2,658.9 C506.7,658.5 507.2,658.1 507.7,657.7 C508.2,657.3 508.6,657.0 509.1,656.6 C509.6,656.2 510.1,655.8 510.6,655.5 C511.1,655.1 511.5,654.7 512.0,654.4 C512.5,654.0 513.0,653.6 513.5,653.3 C513.9,652.9 514.4,652.6 514.9,652.2 C515.4,651.8 515.9,651.5 516.4,651.1 C516.8,650.8 517.3,650.5 517.8,650.1 C518.3,649.8 518.8,649.4 519.2,649.1 C519.7,648.8 520.2,648.4 520.7,648.1 C521.2,647.8 521.7,647.4 522.1,647.1 C522.6,646.8 523.1,646.5 523.6,646.2 C524.1,645.8 524.5,645.5 525.0,645.2 C525.5,644.9 526.0,644.6 526.5,644.3 C527.0,644.0 527.4,643.7 527.9,643.4 C528.4,643.1 528.9,642.8 529.4,642.5 C529.8,642.2 530.3,641.9 530.8,641.6 C531.3,641.3 531.8,641.0 532.2,640.7 C532.7,640.4 533.2,640.1 533.7,639.9 C534.2,639.6 534.7,639.3 535.1,639.0 C535.6,638.7 536.1,638.5 536.6,638.2 C537.1,637.9 537.5,637.6 538.0,637.4 C538.5,637.1 539.0,636.8 539.5,636.6 C540.0,636.3 540.4,636.1 540.9,635.8 C541.4,635.5 541.9,635.3 542.4,635.0 C542.8,634.8 543.3,634.5 543.8,634.3 C544.3,634.0 544.8,633.8 545.3,633.5 C545.7,633.3 546.2,633.0 546.7,632.8 C547.2,632.5 547.7,632.3 548.1,632.1 C548.6,631.8 549.1,631.6 549.6,631.4 C550.1,631.1 550.6,630.9 551.0,630.7 C551.5,630.4 552.0,630.2 552.5,630.0 C553.0,629.8 553.4,629.5 553.9,629.3 C554.4,629.1 554.9,628.9 555.4,628.6 C555.9,628.4 556.3,628.2 556.8,628.0 C557.3,627.8 557.8,627.6 558.3,627.4 C558.7,627.2 559.2,626.9 559.7,626.7 C560.2,626.5 560.7,626.3 561.1,626.1 C561.6,625.9 562.1,625.7 562.6,625.5 C563.1,625.3 563.6,625.1 564.0,624.9 C564.5,624.7 565.0,624.5 565.5,624.3 C566.0,624.1 566.4,623.9 566.9,623.8 C567.4,623.6 567.9,623.4 568.4,623.2 C568.9,623.0 569.3,622.8 569.8,622.6 C570.3,622.4 570.8,622.3 571.3,622.1 C571.7,621.9 572.2,621.7 572.7,621.5 C573.2,621.4 573.7,621.2 574.2,621.0 C574.6,620.8 575.1,620.7 575.6,620.5 C576.1,620.3 576.6,620.2 577.0,620.0 C577.5,619.8 578.0,619.7 578.5,619.5 C579.0,619.3 579.5,619.2 579.9,619.0 C580.4,618.8 580.9,618.7 581.4,618.5 C581.9,618.3 582.3,618.2 582.8,618.0 C583.3,617.9 583.8,617.7 584.3,617.6 C584.8,617.4 585.2,617.3 585.7,617.1 C586.2,616.9 586.7,616.8 587.2,616.6 C587.6,616.5 588.1,616.3 588.6,616.2 C589.1,616.1 589.6,615.9 590.0,615.8 C590.5,615.6 591.0,615.5 591.5,615.3 C592.0,615.2 592.5,615.1 592.9,614.9 C593.4,614.8 593.9,614.6 594.4,614.5 C594.9,614.4 595.3,614.2 595.8,614.1 C596.3,614.0 596.8,613.8 597.3,613.7 C597.8,613.6 598.2,613.4 598.7,613.3 C599.2,613.2 599.7,613.0 600.2,612.9 C600.6,612.8 601.1,612.6 601.6,612.5 C602.1,612.4 602.6,612.3 603.1,612.1 C603.5,612.0 604.0,611.9 604.5,611.8 C605.0,611.7 605.5,611.5 605.9,611.4 C606.4,611.3 606.9,611.2 607.4,611.1 C607.9,610.9 608.4,610.8 608.8,610.7 C609.3,610.6 609.8,610.5 610.3,610.4 C610.8,610.3 611.2,610.1 611.7,610.0 C612.2,609.9 612.7,609.8 613.2,609.7 C613.7,609.6 614.1,609.5 614.6,609.4 C615.1,609.3 615.6,609.2 616.1,609.0 C616.5,608.9 617.0,608.8 617.5,608.7 C618.0,608.6 618.5,608.5 619.0,608.4 C619.4,608.3 619.9,608.2 620.4,608.1 C620.9,608.0 621.4,607.9 621.8,607.8 C622.3,607.7 622.8,607.6 623.3,607.5 C623.8,607.4 624.2,607.3 624.7,607.2 C625.2,607.1 625.7,607.0 626.2,606.9 C626.7,606.9 627.1,606.8 627.6,606.7 C628.1,606.6 628.6,606.5 629.1,606.4 C629.5,606.3 630.0,606.2 630.5,606.1 C631.0,606.0 631.5,605.9 632.0,605.9 C632.4,605.8 632.9,605.7 633.4,605.6 C633.9,605.5 634.4,605.4 634.8,605.3 C635.3,605.3 635.8,605.2 636.3,605.1 C636.8,605.0 637.3,604.9 637.7,604.8 C638.2,604.8 638.7,604.7 639.2,604.6 C639.7,604.5 640.1,604.4 640.6,604.4 C641.1,604.3 641.6,604.2 642.1,604.1 C642.6,604.0 643.0,604.0 643.5,603.9 C644.0,603.8 644.5,603.7 645.0,603.7 C645.4,603.6 645.9,603.5 646.4,603.4 C646.9,603.4 647.4,603.3 647.9,603.2 C648.3,603.1 648.8,603.1 649.3,603.0 C649.8,602.9 650.3,602.9 650.7,602.8 C651.2,602.7 651.7,602.6 652.2,602.6 C652.7,602.5 653.1,602.4 653.6,602.4 C654.1,602.3 654.6,602.2 655.1,602.2 C655.6,602.1 656.0,602.0 656.5,602.0 C657.0,601.9 657.7,601.8 658.0,601.8" fill="none" stroke="#111" stroke-width="2.30" stroke-linejoin="round" stroke-linecap="round" /><circle cx="459.1" cy="697.4" r="2.7" fill="none" stroke="#c42020" stroke-width="1.10"/><circle cx="461.2" cy="694.8" r="2.7" fill="none" stroke="#c42020" stroke-width="1.10"/><circle cx="463.9" cy="693.1" r="2.7" fill="none" stroke="#c42020" stroke-width="1.10"/><circle cx="467.3" cy="692.5" r="2.7" fill="none" stroke="#c42020" stroke-width="1.10"/><circle cx="470.7" cy="692.4" r="2.7" fill="none" stroke="#c42020" stroke-width="1.10"/><circle cx="473.8" cy="691.8" r="2.7" fill="none" stroke="#c42020" stroke-width="1.10"/><circle cx="476.2" cy="689.4" r="2.7" fill="none" stroke="#c42020" stroke-width="1.10"/><circle cx="478.5" cy="686.9" r="2.7" fill="none" stroke="#c42020" stroke-width="1.10"/><circle cx="480.6" cy="684.2" r="2.7" fill="none" stroke="#c42020" stroke-width="1.10"/><circle cx="482.7" cy="681.5" r="2.7" fill="none" stroke="#c42020" stroke-width="1.10"/><circle cx="485.3" cy="679.4" r="2.7" fill="none" stroke="#c42020" stroke-width="1.10"/><circle cx="488.1" cy="677.5" r="2.7" fill="none" stroke="#c42020" stroke-width="1.10"/><circle cx="490.0" cy="674.7" r="2.7" fill="none" stroke="#c42020" stroke-width="1.10"/><circle cx="492.0" cy="671.9" r="2.7" fill="none" stroke="#c42020" stroke-width="1.10"/><circle cx="494.0" cy="669.2" r="2.7" fill="none" stroke="#c42020" stroke-width="1.10"/><circle cx="497.1" cy="667.9" r="2.7" fill="none" stroke="#c42020" stroke-width="1.10"/><circle cx="500.3" cy="666.8" r="2.7" fill="none" stroke="#c42020" stroke-width="1.10"/><circle cx="503.7" cy="666.8" r="2.7" fill="none" stroke="#c42020" stroke-width="1.10"/><circle cx="507.1" cy="667.0" r="2.7" fill="none" stroke="#c42020" stroke-width="1.10"/><circle cx="509.9" cy="666.9" r="2.7" fill="none" stroke="#c42020" stroke-width="1.10"/><circle cx="511.4" cy="663.9" r="2.7" fill="none" stroke="#c42020" stroke-width="1.10"/><circle cx="513.0" cy="660.8" r="2.7" fill="none" stroke="#c42020" stroke-width="1.10"/><circle cx="514.8" cy="657.9" r="2.7" fill="none" stroke="#c42020" stroke-width="1.10"/><circle cx="516.6" cy="655.1" r="2.7" fill="none" stroke="#c42020" stroke-width="1.10"/><circle cx="518.5" cy="652.3" r="2.7" fill="none" stroke="#c42020" stroke-width="1.10"/><circle cx="520.5" cy="649.5" r="2.7" fill="none" stroke="#c42020" stroke-width="1.10"/><circle cx="523.0" cy="647.3" r="2.7" fill="none" stroke="#c42020" stroke-width="1.10"/><circle cx="525.7" cy="645.2" r="2.7" fill="none" stroke="#c42020" stroke-width="1.10"/><circle cx="528.5" cy="643.3" r="2.7" fill="none" stroke="#c42020" stroke-width="1.10"/><circle cx="531.5" cy="641.8" r="2.7" fill="none" stroke="#c42020" stroke-width="1.10"/><circle cx="534.6" cy="640.3" r="2.7" fill="none" stroke="#c42020" stroke-width="1.10"/><circle cx="537.6" cy="638.7" r="2.7" fill="none" stroke="#c42020" stroke-width="1.10"/><circle cx="540.7" cy="637.2" r="2.7" fill="none" stroke="#c42020" stroke-width="1.10"/><circle cx="542.7" cy="634.5" r="2.7" fill="none" stroke="#c42020" stroke-width="1.10"/><circle cx="544.7" cy="631.8" r="2.7" fill="none" stroke="#c42020" stroke-width="1.10"/><circle cx="547.3" cy="629.7" r="2.7" fill="none" stroke="#c42020" stroke-width="1.10"/><circle cx="550.1" cy="627.7" r="2.7" fill="none" stroke="#c42020" stroke-width="1.10"/><circle cx="552.8" cy="628.8" r="2.7" fill="none" stroke="#c42020" stroke-width="1.10"/><circle cx="555.3" cy="629.9" r="2.7" fill="none" stroke="#c42020" stroke-width="1.10"/><circle cx="557.2" cy="627.1" r="2.7" fill="none" stroke="#c42020" stroke-width="1.10"/><circle cx="559.0" cy="624.3" r="2.7" fill="none" stroke="#c42020" stroke-width="1.10"/><circle cx="561.2" cy="621.7" r="2.7" fill="none" stroke="#c42020" stroke-width="1.10"/><circle cx="563.4" cy="619.1" r="2.7" fill="none" stroke="#c42020" stroke-width="1.10"/><circle cx="565.4" cy="616.3" r="2.7" fill="none" stroke="#c42020" stroke-width="1.10"/><circle cx="567.2" cy="613.4" r="2.7" fill="none" stroke="#c42020" stroke-width="1.10"/><circle cx="569.0" cy="610.6" r="2.7" fill="none" stroke="#c42020" stroke-width="1.10"/><circle cx="570.8" cy="607.7" r="2.7" fill="none" stroke="#c42020" stroke-width="1.10"/><circle cx="572.6" cy="604.8" r="2.7" fill="none" stroke="#c42020" stroke-width="1.10"/><circle cx="575.5" cy="603.0" r="2.7" fill="none" stroke="#c42020" stroke-width="1.10"/><circle cx="578.4" cy="601.2" r="2.7" fill="none" stroke="#c42020" stroke-width="1.10"/><circle cx="581.5" cy="599.8" r="2.7" fill="none" stroke="#c42020" stroke-width="1.10"/><circle cx="584.4" cy="600.0" r="2.7" fill="none" stroke="#c42020" stroke-width="1.10"/><circle cx="587.1" cy="602.1" r="2.7" fill="none" stroke="#c42020" stroke-width="1.10"/><circle cx="589.7" cy="604.3" r="2.7" fill="none" stroke="#c42020" stroke-width="1.10"/><circle cx="592.2" cy="606.6" r="2.7" fill="none" stroke="#c42020" stroke-width="1.10"/><circle cx="594.9" cy="608.7" r="2.7" fill="none" stroke="#c42020" stroke-width="1.10"/><circle cx="597.5" cy="610.8" r="2.7" fill="none" stroke="#c42020" stroke-width="1.10"/><circle cx="600.6" cy="612.4" r="2.7" fill="none" stroke="#c42020" stroke-width="1.10"/><circle cx="603.7" cy="612.6" r="2.7" fill="none" stroke="#c42020" stroke-width="1.10"/><circle cx="606.8" cy="611.4" r="2.7" fill="none" stroke="#c42020" stroke-width="1.10"/><circle cx="610.0" cy="611.1" r="2.7" fill="none" stroke="#c42020" stroke-width="1.10"/><circle cx="613.3" cy="612.1" r="2.7" fill="none" stroke="#c42020" stroke-width="1.10"/><circle cx="616.5" cy="611.3" r="2.7" fill="none" stroke="#c42020" stroke-width="1.10"/><circle cx="619.7" cy="610.2" r="2.7" fill="none" stroke="#c42020" stroke-width="1.10"/><circle cx="623.0" cy="610.2" r="2.7" fill="none" stroke="#c42020" stroke-width="1.10"/><circle cx="626.4" cy="610.6" r="2.7" fill="none" stroke="#c42020" stroke-width="1.10"/><circle cx="629.3" cy="612.2" r="2.7" fill="none" stroke="#c42020" stroke-width="1.10"/><circle cx="632.2" cy="614.1" r="2.7" fill="none" stroke="#c42020" stroke-width="1.10"/><circle cx="635.0" cy="616.0" r="2.7" fill="none" stroke="#c42020" stroke-width="1.10"/><circle cx="637.7" cy="616.5" r="2.7" fill="none" stroke="#c42020" stroke-width="1.10"/><circle cx="640.1" cy="614.1" r="2.7" fill="none" stroke="#c42020" stroke-width="1.10"/><circle cx="642.4" cy="611.7" r="2.7" fill="none" stroke="#c42020" stroke-width="1.10"/><circle cx="644.7" cy="609.2" r="2.7" fill="none" stroke="#c42020" stroke-width="1.10"/><circle cx="647.0" cy="606.6" r="2.7" fill="none" stroke="#c42020" stroke-width="1.10"/><circle cx="649.4" cy="604.3" r="2.7" fill="none" stroke="#c42020" stroke-width="1.10"/><circle cx="652.2" cy="602.4" r="2.7" fill="none" stroke="#c42020" stroke-width="1.10"/><circle cx="655.4" cy="601.3" r="2.7" fill="none" stroke="#c42020" stroke-width="1.10"/></svg></body></html>
